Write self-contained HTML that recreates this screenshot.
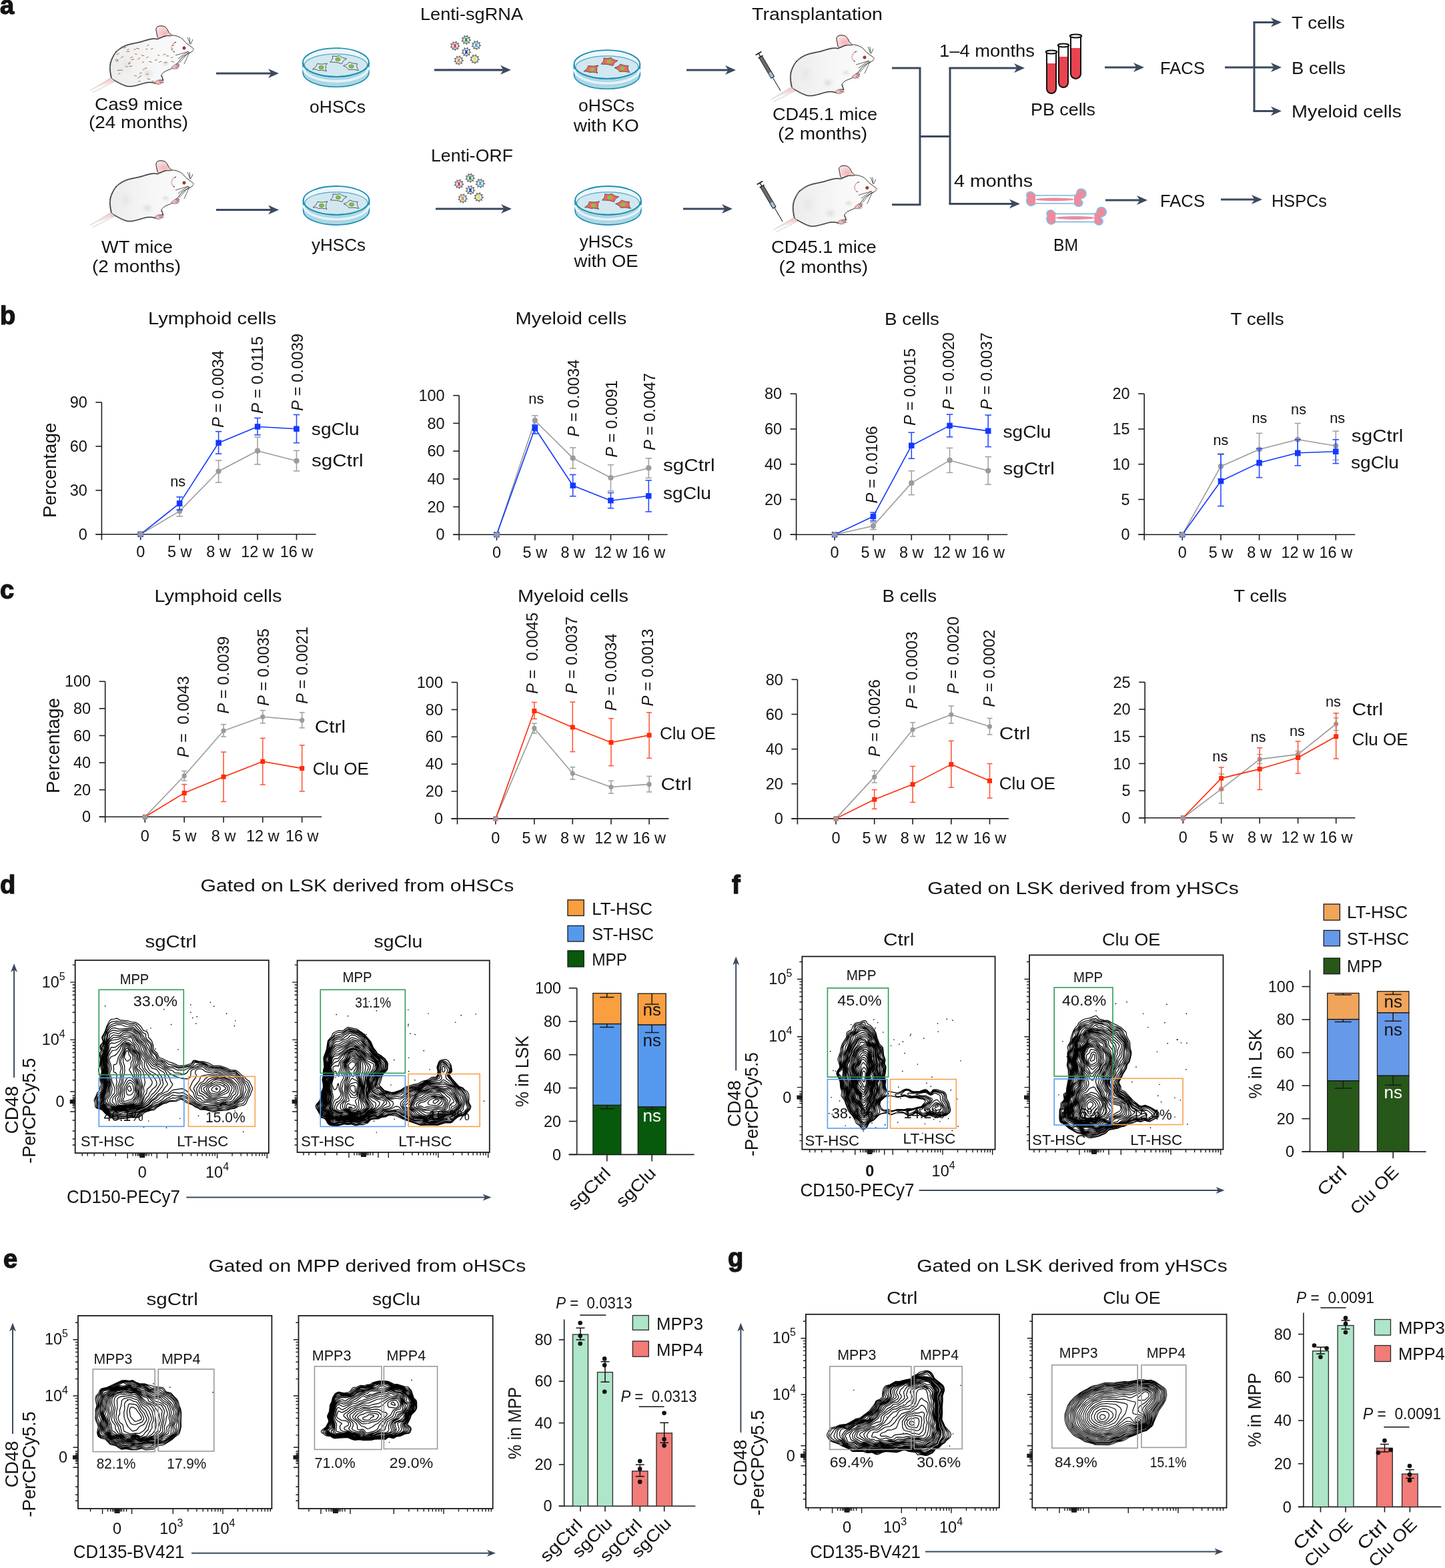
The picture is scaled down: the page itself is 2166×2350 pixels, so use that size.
<!DOCTYPE html>
<html><head><meta charset="utf-8"><title>Figure</title>
<style>
html,body{margin:0;padding:0;background:#fff;}
body{width:2166px;height:2350px;overflow:hidden;}
svg{display:block;}
svg text{font-family:"Liberation Sans", Arial, Helvetica, sans-serif;}
</style></head><body>
<svg width="2166" height="2350" viewBox="0 0 2166 2350">
<rect width="2166" height="2350" fill="#fff"/>
<text x="142" y="165" font-size="25.6" fill="#141414" textLength="132" lengthAdjust="spacingAndGlyphs">Cas9 mice</text>
<text x="133" y="192" font-size="25.6" fill="#141414" textLength="149" lengthAdjust="spacingAndGlyphs">(24 months)</text>
<text x="464" y="169" font-size="25.6" fill="#141414" textLength="84" lengthAdjust="spacingAndGlyphs">oHSCs</text>
<text x="630" y="30" font-size="25.6" fill="#141414" textLength="154" lengthAdjust="spacingAndGlyphs">Lenti-sgRNA</text>
<text x="867" y="167" font-size="25.6" fill="#141414" textLength="84" lengthAdjust="spacingAndGlyphs">oHSCs</text>
<text x="859.7" y="197" font-size="25.6" fill="#141414" textLength="98" lengthAdjust="spacingAndGlyphs">with KO</text>
<text x="1127" y="30" font-size="25.6" fill="#141414" textLength="196" lengthAdjust="spacingAndGlyphs">Transplantation</text>
<text x="1158" y="180" font-size="25.6" fill="#141414" textLength="157" lengthAdjust="spacingAndGlyphs">CD45.1 mice</text>
<text x="1166" y="209" font-size="25.6" fill="#141414" textLength="134" lengthAdjust="spacingAndGlyphs">(2 months)</text>
<text x="1408" y="85" font-size="25.6" fill="#141414" textLength="143" lengthAdjust="spacingAndGlyphs">1–4 months</text>
<text x="1545" y="173" font-size="25.6" fill="#141414" textLength="97" lengthAdjust="spacingAndGlyphs">PB cells</text>
<text x="1739" y="111" font-size="25.6" fill="#141414" textLength="67" lengthAdjust="spacingAndGlyphs">FACS</text>
<text x="1936" y="43" font-size="25.6" fill="#141414" textLength="80" lengthAdjust="spacingAndGlyphs">T cells</text>
<text x="1936" y="111" font-size="25.6" fill="#141414" textLength="81" lengthAdjust="spacingAndGlyphs">B cells</text>
<text x="1936" y="176" font-size="25.6" fill="#141414" textLength="165" lengthAdjust="spacingAndGlyphs">Myeloid cells</text>
<text x="152" y="379" font-size="25.6" fill="#141414" textLength="107" lengthAdjust="spacingAndGlyphs">WT mice</text>
<text x="138" y="407.6" font-size="25.6" fill="#141414" textLength="133" lengthAdjust="spacingAndGlyphs">(2 months)</text>
<text x="467" y="376" font-size="25.6" fill="#141414" textLength="81" lengthAdjust="spacingAndGlyphs">yHSCs</text>
<text x="646" y="242.4" font-size="25.6" fill="#141414" textLength="123" lengthAdjust="spacingAndGlyphs">Lenti-ORF</text>
<text x="868.8" y="370.6" font-size="25.6" fill="#141414" textLength="80" lengthAdjust="spacingAndGlyphs">yHSCs</text>
<text x="860.6" y="400" font-size="25.6" fill="#141414" textLength="96" lengthAdjust="spacingAndGlyphs">with OE</text>
<text x="1156" y="379" font-size="25.6" fill="#141414" textLength="157.6" lengthAdjust="spacingAndGlyphs">CD45.1 mice</text>
<text x="1167.6" y="408.5" font-size="25.6" fill="#141414" textLength="133.4" lengthAdjust="spacingAndGlyphs">(2 months)</text>
<text x="1430" y="280" font-size="25.6" fill="#141414" textLength="118" lengthAdjust="spacingAndGlyphs">4 months</text>
<text x="1579" y="375.5" font-size="25.6" fill="#141414" textLength="37" lengthAdjust="spacingAndGlyphs">BM</text>
<text x="1739" y="310" font-size="25.6" fill="#141414" textLength="67" lengthAdjust="spacingAndGlyphs">FACS</text>
<text x="1906" y="310" font-size="25.6" fill="#141414" textLength="83" lengthAdjust="spacingAndGlyphs">HSPCs</text>
<line x1="324" y1="110" x2="408.4" y2="110" stroke="#3b4a60" stroke-width="3.2"/>
<path d="M418,110 L402,103 L406.5,110 L402,117 Z" fill="#3b4a60"/>
<line x1="651" y1="104.8" x2="756.4" y2="104.8" stroke="#3b4a60" stroke-width="3.2"/>
<path d="M766,104.8 L750,97.8 L754.5,104.8 L750,111.8 Z" fill="#3b4a60"/>
<line x1="1029" y1="105" x2="1093.4" y2="105" stroke="#3b4a60" stroke-width="3.2"/>
<path d="M1103,105 L1087,98 L1091.5,105 L1087,112 Z" fill="#3b4a60"/>
<line x1="324" y1="314.5" x2="408.4" y2="314.5" stroke="#3b4a60" stroke-width="3.2"/>
<path d="M418,314.5 L402,307.5 L406.5,314.5 L402,321.5 Z" fill="#3b4a60"/>
<line x1="653" y1="313" x2="757.4" y2="313" stroke="#3b4a60" stroke-width="3.2"/>
<path d="M767,313 L751,306 L755.5,313 L751,320 Z" fill="#3b4a60"/>
<line x1="1024" y1="313" x2="1088.4" y2="313" stroke="#3b4a60" stroke-width="3.2"/>
<path d="M1098,313 L1082,306 L1086.5,313 L1082,320 Z" fill="#3b4a60"/>
<line x1="1656" y1="101" x2="1705.4" y2="101" stroke="#3b4a60" stroke-width="3.2"/>
<path d="M1715,101 L1699,94 L1703.5,101 L1699,108 Z" fill="#3b4a60"/>
<line x1="1657" y1="300" x2="1710.4" y2="300" stroke="#3b4a60" stroke-width="3.2"/>
<path d="M1720,300 L1704,293 L1708.5,300 L1704,307 Z" fill="#3b4a60"/>
<line x1="1830" y1="299" x2="1882.4" y2="299" stroke="#3b4a60" stroke-width="3.2"/>
<path d="M1892,299 L1876,292 L1880.5,299 L1876,306 Z" fill="#3b4a60"/>
<path d="M1337,102 H1379 V306.7 H1337" fill="none" stroke="#3b4a60" stroke-width="3"/>
<line x1="1379" y1="204.5" x2="1424" y2="204.5" stroke="#3b4a60" stroke-width="3"/>
<path d="M1424,102 V305.5" fill="none" stroke="#3b4a60" stroke-width="3"/>
<line x1="1422.5" y1="102" x2="1526.4" y2="102" stroke="#3b4a60" stroke-width="3"/>
<path d="M1536,102 L1520,95 L1524.5,102 L1520,109 Z" fill="#3b4a60"/>
<line x1="1422.5" y1="305.5" x2="1519.4" y2="305.5" stroke="#3b4a60" stroke-width="3"/>
<path d="M1529,305.5 L1513,298.5 L1517.5,305.5 L1513,312.5 Z" fill="#3b4a60"/>
<line x1="1836" y1="101" x2="1911.4" y2="101" stroke="#3b4a60" stroke-width="3"/>
<path d="M1921,101 L1905,94 L1909.5,101 L1905,108 Z" fill="#3b4a60"/>
<path d="M1880,33.5 V166.5" fill="none" stroke="#3b4a60" stroke-width="3"/>
<line x1="1878.5" y1="33.5" x2="1911.4" y2="33.5" stroke="#3b4a60" stroke-width="3"/>
<path d="M1921,33.5 L1905,26.5 L1909.5,33.5 L1905,40.5 Z" fill="#3b4a60"/>
<line x1="1878.5" y1="166.5" x2="1911.4" y2="166.5" stroke="#3b4a60" stroke-width="3"/>
<path d="M1921,166.5 L1905,159.5 L1909.5,166.5 L1905,173.5 Z" fill="#3b4a60"/>
<defs>
<radialGradient id="msh" cx="50%" cy="50%" r="50%"><stop offset="0" stop-color="#d9d9d9" stop-opacity="0.9"/><stop offset="1" stop-color="#ececec" stop-opacity="0"/></radialGradient>
<linearGradient id="tailg" x1="1" y1="0" x2="0" y2="1"><stop offset="0" stop-color="#f4b9bd"/><stop offset="1" stop-color="#fbe3e4" stop-opacity="0.3"/></linearGradient>
<linearGradient id="bodyg" x1="0" y1="0" x2="1" y2="0"><stop offset="0" stop-color="#ececec"/><stop offset="0.55" stop-color="#f7f7f7"/><stop offset="1" stop-color="#fdfdfd"/></linearGradient>
<radialGradient id="earg" cx="55%" cy="60%" r="60%"><stop offset="0" stop-color="#f3b3b8"/><stop offset="1" stop-color="#fbe1e2"/></radialGradient>
</defs>
<g transform="translate(130,35) scale(1)">
<path d="M6,100 L39,80 L44,86 Z" fill="url(#tailg)"/>
<path d="M6,100 L39,80" fill="none" stroke="#333" stroke-width="0.6" stroke-dasharray="1 1.5"/>
<path d="M10,103 L44,86" fill="none" stroke="#333" stroke-width="0.6" stroke-dasharray="1 1.5"/>
<path d="M36.8,81.0 C35.8,78.5 35.2,73.5 35.0,70.0 C34.8,66.5 34.9,63.1 35.5,60.0 C36.1,56.9 37.4,54.2 38.6,51.5 C39.9,48.8 41.5,46.0 43.0,44.0 C44.5,42.0 46.1,40.9 47.8,39.6 C49.5,38.3 51.1,37.1 53.0,36.0 C54.9,34.9 56.7,33.9 58.9,33.1 C61.1,32.3 63.5,31.6 66.0,31.0 C68.5,30.4 71.3,29.9 73.6,29.4 C75.9,28.9 77.7,28.6 80.0,28.0 C82.3,27.4 85.1,26.5 87.4,25.8 C89.7,25.1 91.7,24.5 94.0,24.0 C96.3,23.5 99.0,23.1 101.2,23.0 C103.4,22.9 104.2,24.2 107.0,23.5 C109.8,22.8 114.7,19.9 118.0,19.0 C121.3,18.1 124.5,18.1 127.0,18.0 C129.5,17.9 131.2,18.1 133.0,18.5 C134.8,18.9 136.3,19.4 138.0,20.2 C139.7,20.9 141.2,21.5 143.0,23.0 C144.8,24.5 147.0,27.6 149.0,29.4 C151.0,31.2 153.1,32.5 155.0,34.0 C156.9,35.5 160.0,37.3 160.5,38.6 C161.0,39.9 159.1,41.0 158.0,42.0 C156.9,43.0 155.5,43.7 154.0,44.5 C152.5,45.3 150.8,45.9 149.0,47.0 C147.2,48.1 144.7,49.5 143.0,51.0 C141.3,52.5 140.5,54.2 139.0,56.0 C137.5,57.8 135.7,60.2 134.0,62.0 C132.3,63.8 131.0,65.7 129.0,67.0 C127.0,68.3 124.2,69.0 122.0,70.0 C119.8,71.0 117.7,71.7 116.0,73.0 C114.3,74.3 112.3,76.2 112.0,78.0 C111.7,79.8 114.2,82.2 114.0,84.0 C113.8,85.8 112.7,88.0 111.0,89.0 C109.3,90.0 106.3,90.1 104.0,90.0 C101.7,89.9 99.5,88.7 97.0,88.5 C94.5,88.3 91.8,88.5 89.0,89.0 C86.2,89.5 83.2,90.7 80.0,91.5 C76.8,92.3 73.0,93.5 70.0,94.0 C67.0,94.5 64.7,94.8 62.0,94.5 C59.3,94.2 56.7,93.1 54.0,92.0 C51.3,90.9 48.2,89.2 46.0,88.0 C43.8,86.8 42.5,86.2 41.0,85.0 C39.5,83.8 37.8,83.5 36.8,81.0 Z" fill="url(#bodyg)" stroke="#1a1a1a" stroke-width="0.9"/>
<path d="M36.8,81.0 C36.5,79.2 35.2,73.5 35.0,70.0 C34.8,66.5 34.9,63.1 35.5,60.0 C36.1,56.9 37.4,54.2 38.6,51.5 C39.9,48.8 41.5,46.0 43.0,44.0 C44.5,42.0 46.1,40.9 47.8,39.6 C49.5,38.3 51.1,37.1 53.0,36.0 C54.9,34.9 56.7,33.9 58.9,33.1 C61.1,32.3 63.5,31.6 66.0,31.0 C68.5,30.4 71.3,29.9 73.6,29.4 C75.9,28.9 77.7,28.6 80.0,28.0 C82.3,27.4 85.1,26.5 87.4,25.8 C89.7,25.1 91.7,24.5 94.0,24.0 C96.3,23.5 99.0,23.1 101.2,23.0 C103.4,22.9 106.0,23.4 107.0,23.5" fill="none" stroke="#1a1a1a" stroke-width="2.2" stroke-dasharray="0.8 1.1"/>
<path d="M112.0,78.0 C112.3,79.0 114.2,82.2 114.0,84.0 C113.8,85.8 112.7,88.0 111.0,89.0 C109.3,90.0 106.3,90.1 104.0,90.0 C101.7,89.9 99.5,88.7 97.0,88.5 C94.5,88.3 91.8,88.5 89.0,89.0 C86.2,89.5 83.2,90.7 80.0,91.5 C76.8,92.3 73.0,93.5 70.0,94.0 C67.0,94.5 64.7,94.8 62.0,94.5 C59.3,94.2 56.7,93.1 54.0,92.0 C51.3,90.9 48.2,89.2 46.0,88.0 C43.8,86.8 41.8,85.5 41.0,85.0" fill="none" stroke="#1a1a1a" stroke-width="2" stroke-dasharray="0.8 1.3"/>
<ellipse cx="91" cy="75" rx="11" ry="9" fill="url(#msh)"/>
<ellipse cx="118" cy="60" rx="8" ry="6" fill="url(#msh)"/>
<ellipse cx="58" cy="62" rx="14" ry="18" fill="url(#msh)" opacity="0.5"/>
<path d="M107.5,22.0 C105.5,21.3 105.6,17.3 105.0,15.0 C104.4,12.7 103.7,9.8 104.0,8.0 C104.3,6.2 105.7,5.2 107.0,4.5 C108.3,3.8 110.3,3.7 112.0,3.8 C113.7,3.9 115.6,4.2 117.0,5.0 C118.4,5.8 119.5,7.1 120.5,8.5 C121.5,9.9 121.9,11.9 123.0,13.5 C124.1,15.1 128.0,17.3 127.0,18.2 C126.0,19.1 120.2,18.4 117.0,19.0 C113.8,19.6 109.5,22.7 107.5,22.0 Z" fill="url(#earg)" stroke="#1a1a1a" stroke-width="1"/>
<path d="M134,28 C128,30 126,36 128,40 C129,42 131,43 132,43" fill="none" stroke="#1a1a1a" stroke-width="1"/>
<path d="M131,29 C126,33 126,39 130,42" fill="none" stroke="#f0b9bc" stroke-width="1.6"/>
<circle cx="146" cy="37" r="2.2" fill="#c0392b" stroke="#5a1a1a" stroke-width="0.6"/>
<circle cx="159.5" cy="39.5" r="1.4" fill="#f3b5b8"/>
<line x1="153" y1="42" x2="133" y2="48" stroke="#1a1a1a" stroke-width="0.7"/>
<line x1="153" y1="43" x2="139" y2="59" stroke="#1a1a1a" stroke-width="0.7"/>
<line x1="154" y1="43" x2="146" y2="61" stroke="#1a1a1a" stroke-width="0.7"/>
<line x1="152" y1="42" x2="137" y2="53" stroke="#1a1a1a" stroke-width="0.7"/>
<line x1="155" y1="31" x2="151" y2="21" stroke="#1a1a1a" stroke-width="0.7"/>
<line x1="156" y1="31" x2="159" y2="24" stroke="#1a1a1a" stroke-width="0.7"/>
<line x1="155" y1="31" x2="154" y2="21" stroke="#1a1a1a" stroke-width="0.7"/>
<path d="M127,66 C130,63 134,60 138,60 C139,62 138,65 136,67 C133,69 129,69 127,66 Z" fill="#f4b6b9" stroke="#333" stroke-width="0.5"/>
<line x1="133" y1="61" x2="139" y2="63" stroke="#333" stroke-width="0.6"/>
<line x1="134" y1="63" x2="139" y2="66" stroke="#333" stroke-width="0.6"/>
<line x1="133" y1="65" x2="137" y2="69" stroke="#333" stroke-width="0.6"/>
<path d="M102,88 C105,85 109,84 114,85 C115,87 113,90 110,91 C106,92 103,91 102,88 Z" fill="#f4b6b9" stroke="#333" stroke-width="0.5"/>
<line x1="108" y1="86" x2="116" y2="85" stroke="#333" stroke-width="0.6"/>
<line x1="109" y1="88" x2="116" y2="89" stroke="#333" stroke-width="0.6"/>
<line x1="70.5" y1="39.1" x2="73.6" y2="39" stroke="#9a5f35" stroke-width="0.9"/>
<line x1="89.2" y1="51.9" x2="92.6" y2="49.9" stroke="#9a5f35" stroke-width="0.9"/>
<line x1="45.3" y1="56" x2="48" y2="54.4" stroke="#9a5f35" stroke-width="0.9"/>
<line x1="79.4" y1="79.6" x2="82.4" y2="78" stroke="#9a5f35" stroke-width="0.9"/>
<line x1="97.2" y1="86.9" x2="101" y2="86.6" stroke="#9a5f35" stroke-width="0.9"/>
<line x1="127.9" y1="32.8" x2="131.4" y2="33.4" stroke="#9a5f35" stroke-width="0.9"/>
<line x1="54.7" y1="37.1" x2="59.1" y2="35.6" stroke="#9a5f35" stroke-width="0.9"/>
<line x1="57.9" y1="64.9" x2="61.6" y2="64.8" stroke="#9a5f35" stroke-width="0.9"/>
<line x1="90.2" y1="33.8" x2="93.1" y2="32" stroke="#9a5f35" stroke-width="0.9"/>
<line x1="101.9" y1="55.7" x2="105.8" y2="54.4" stroke="#9a5f35" stroke-width="0.9"/>
<line x1="81.9" y1="48" x2="86.2" y2="48.5" stroke="#9a5f35" stroke-width="0.9"/>
<line x1="63.5" y1="64.5" x2="68.2" y2="63.9" stroke="#9a5f35" stroke-width="0.9"/>
<line x1="106.2" y1="47.3" x2="109.3" y2="48.2" stroke="#9a5f35" stroke-width="0.9"/>
<line x1="78.8" y1="75.4" x2="82.4" y2="73.7" stroke="#9a5f35" stroke-width="0.9"/>
<line x1="45.5" y1="70.1" x2="49.6" y2="70.5" stroke="#9a5f35" stroke-width="0.9"/>
<line x1="119" y1="48.8" x2="123.2" y2="48.9" stroke="#9a5f35" stroke-width="0.9"/>
<line x1="93" y1="57.4" x2="97.9" y2="58.1" stroke="#9a5f35" stroke-width="0.9"/>
<line x1="83.7" y1="69.8" x2="87.5" y2="67.6" stroke="#9a5f35" stroke-width="0.9"/>
<line x1="114.3" y1="47.1" x2="118.5" y2="46" stroke="#9a5f35" stroke-width="0.9"/>
<line x1="44" y1="57.7" x2="46.9" y2="56.3" stroke="#9a5f35" stroke-width="0.9"/>
<line x1="47.2" y1="76.1" x2="50.3" y2="74.5" stroke="#9a5f35" stroke-width="0.9"/>
<line x1="76.4" y1="82.3" x2="79.8" y2="80.3" stroke="#9a5f35" stroke-width="0.9"/>
<line x1="90.4" y1="83" x2="95" y2="83.7" stroke="#9a5f35" stroke-width="0.9"/>
<line x1="66.5" y1="54.9" x2="71.1" y2="53.6" stroke="#9a5f35" stroke-width="0.9"/>
<line x1="126.3" y1="39.1" x2="129.4" y2="37.6" stroke="#9a5f35" stroke-width="0.9"/>
<line x1="62.5" y1="59.1" x2="66.1" y2="58.9" stroke="#9a5f35" stroke-width="0.9"/>
<line x1="42.4" y1="55.1" x2="46.3" y2="54" stroke="#9a5f35" stroke-width="0.9"/>
<line x1="87.4" y1="67.1" x2="90.5" y2="67.1" stroke="#9a5f35" stroke-width="0.9"/>
<line x1="76.5" y1="53.9" x2="80.3" y2="51.9" stroke="#9a5f35" stroke-width="0.9"/>
<line x1="60.4" y1="39.7" x2="63.3" y2="38.8" stroke="#9a5f35" stroke-width="0.9"/>
<line x1="50.9" y1="51.8" x2="54.9" y2="49.2" stroke="#9a5f35" stroke-width="0.9"/>
<line x1="96" y1="38.9" x2="99.5" y2="37.6" stroke="#9a5f35" stroke-width="0.9"/>
<line x1="74" y1="37.4" x2="79" y2="38.2" stroke="#9a5f35" stroke-width="0.9"/>
<line x1="83" y1="59" x2="85.8" y2="57.4" stroke="#9a5f35" stroke-width="0.9"/>
<line x1="72.2" y1="45.9" x2="75.4" y2="46.4" stroke="#9a5f35" stroke-width="0.9"/>
<line x1="88.5" y1="38.8" x2="91.5" y2="38.5" stroke="#9a5f35" stroke-width="0.9"/>
<line x1="65" y1="52" x2="69.1" y2="50" stroke="#9a5f35" stroke-width="0.9"/>
<line x1="88.9" y1="76.7" x2="92.2" y2="75.7" stroke="#9a5f35" stroke-width="0.9"/>
<line x1="62" y1="61.1" x2="64.9" y2="60.2" stroke="#9a5f35" stroke-width="0.9"/>
<line x1="44.5" y1="46.8" x2="48.6" y2="45.2" stroke="#9a5f35" stroke-width="0.9"/>
<line x1="126.2" y1="56.8" x2="131" y2="58" stroke="#9a5f35" stroke-width="0.9"/>
<line x1="126" y1="51.9" x2="129.2" y2="50.5" stroke="#9a5f35" stroke-width="0.9"/>
<line x1="59.3" y1="42.3" x2="64.1" y2="42.1" stroke="#9a5f35" stroke-width="0.9"/>
<line x1="116" y1="58.8" x2="120.6" y2="58.7" stroke="#9a5f35" stroke-width="0.9"/>
<line x1="49.5" y1="69.6" x2="53.9" y2="70.6" stroke="#9a5f35" stroke-width="0.9"/>
<line x1="108" y1="58.7" x2="112.2" y2="56.7" stroke="#9a5f35" stroke-width="0.9"/>
<line x1="71.3" y1="78" x2="74.9" y2="79.1" stroke="#9a5f35" stroke-width="0.9"/>
<line x1="77.3" y1="86.8" x2="80.7" y2="87" stroke="#9a5f35" stroke-width="0.9"/>
</g>
<g transform="translate(130,237) scale(1)">
<path d="M6,100 L39,80 L44,86 Z" fill="url(#tailg)"/>
<path d="M6,100 L39,80" fill="none" stroke="#333" stroke-width="0.6" stroke-dasharray="1 1.5"/>
<path d="M10,103 L44,86" fill="none" stroke="#333" stroke-width="0.6" stroke-dasharray="1 1.5"/>
<path d="M36.8,81.0 C35.8,78.5 35.2,73.5 35.0,70.0 C34.8,66.5 34.9,63.1 35.5,60.0 C36.1,56.9 37.4,54.2 38.6,51.5 C39.9,48.8 41.5,46.0 43.0,44.0 C44.5,42.0 46.1,40.9 47.8,39.6 C49.5,38.3 51.1,37.1 53.0,36.0 C54.9,34.9 56.7,33.9 58.9,33.1 C61.1,32.3 63.5,31.6 66.0,31.0 C68.5,30.4 71.3,29.9 73.6,29.4 C75.9,28.9 77.7,28.6 80.0,28.0 C82.3,27.4 85.1,26.5 87.4,25.8 C89.7,25.1 91.7,24.5 94.0,24.0 C96.3,23.5 99.0,23.1 101.2,23.0 C103.4,22.9 104.2,24.2 107.0,23.5 C109.8,22.8 114.7,19.9 118.0,19.0 C121.3,18.1 124.5,18.1 127.0,18.0 C129.5,17.9 131.2,18.1 133.0,18.5 C134.8,18.9 136.3,19.4 138.0,20.2 C139.7,20.9 141.2,21.5 143.0,23.0 C144.8,24.5 147.0,27.6 149.0,29.4 C151.0,31.2 153.1,32.5 155.0,34.0 C156.9,35.5 160.0,37.3 160.5,38.6 C161.0,39.9 159.1,41.0 158.0,42.0 C156.9,43.0 155.5,43.7 154.0,44.5 C152.5,45.3 150.8,45.9 149.0,47.0 C147.2,48.1 144.7,49.5 143.0,51.0 C141.3,52.5 140.5,54.2 139.0,56.0 C137.5,57.8 135.7,60.2 134.0,62.0 C132.3,63.8 131.0,65.7 129.0,67.0 C127.0,68.3 124.2,69.0 122.0,70.0 C119.8,71.0 117.7,71.7 116.0,73.0 C114.3,74.3 112.3,76.2 112.0,78.0 C111.7,79.8 114.2,82.2 114.0,84.0 C113.8,85.8 112.7,88.0 111.0,89.0 C109.3,90.0 106.3,90.1 104.0,90.0 C101.7,89.9 99.5,88.7 97.0,88.5 C94.5,88.3 91.8,88.5 89.0,89.0 C86.2,89.5 83.2,90.7 80.0,91.5 C76.8,92.3 73.0,93.5 70.0,94.0 C67.0,94.5 64.7,94.8 62.0,94.5 C59.3,94.2 56.7,93.1 54.0,92.0 C51.3,90.9 48.2,89.2 46.0,88.0 C43.8,86.8 42.5,86.2 41.0,85.0 C39.5,83.8 37.8,83.5 36.8,81.0 Z" fill="url(#bodyg)" stroke="#1a1a1a" stroke-width="0.9"/>
<path d="M36.8,81.0 C36.5,79.2 35.2,73.5 35.0,70.0 C34.8,66.5 34.9,63.1 35.5,60.0 C36.1,56.9 37.4,54.2 38.6,51.5 C39.9,48.8 41.5,46.0 43.0,44.0 C44.5,42.0 46.1,40.9 47.8,39.6 C49.5,38.3 51.1,37.1 53.0,36.0 C54.9,34.9 56.7,33.9 58.9,33.1 C61.1,32.3 63.5,31.6 66.0,31.0 C68.5,30.4 71.3,29.9 73.6,29.4 C75.9,28.9 77.7,28.6 80.0,28.0 C82.3,27.4 85.1,26.5 87.4,25.8 C89.7,25.1 91.7,24.5 94.0,24.0 C96.3,23.5 99.0,23.1 101.2,23.0 C103.4,22.9 106.0,23.4 107.0,23.5" fill="none" stroke="#1a1a1a" stroke-width="2.2" stroke-dasharray="0.8 1.1"/>
<path d="M112.0,78.0 C112.3,79.0 114.2,82.2 114.0,84.0 C113.8,85.8 112.7,88.0 111.0,89.0 C109.3,90.0 106.3,90.1 104.0,90.0 C101.7,89.9 99.5,88.7 97.0,88.5 C94.5,88.3 91.8,88.5 89.0,89.0 C86.2,89.5 83.2,90.7 80.0,91.5 C76.8,92.3 73.0,93.5 70.0,94.0 C67.0,94.5 64.7,94.8 62.0,94.5 C59.3,94.2 56.7,93.1 54.0,92.0 C51.3,90.9 48.2,89.2 46.0,88.0 C43.8,86.8 41.8,85.5 41.0,85.0" fill="none" stroke="#1a1a1a" stroke-width="2" stroke-dasharray="0.8 1.3"/>
<ellipse cx="91" cy="75" rx="11" ry="9" fill="url(#msh)"/>
<ellipse cx="118" cy="60" rx="8" ry="6" fill="url(#msh)"/>
<ellipse cx="58" cy="62" rx="14" ry="18" fill="url(#msh)" opacity="0.5"/>
<path d="M107.5,22.0 C105.5,21.3 105.6,17.3 105.0,15.0 C104.4,12.7 103.7,9.8 104.0,8.0 C104.3,6.2 105.7,5.2 107.0,4.5 C108.3,3.8 110.3,3.7 112.0,3.8 C113.7,3.9 115.6,4.2 117.0,5.0 C118.4,5.8 119.5,7.1 120.5,8.5 C121.5,9.9 121.9,11.9 123.0,13.5 C124.1,15.1 128.0,17.3 127.0,18.2 C126.0,19.1 120.2,18.4 117.0,19.0 C113.8,19.6 109.5,22.7 107.5,22.0 Z" fill="url(#earg)" stroke="#1a1a1a" stroke-width="1"/>
<path d="M134,28 C128,30 126,36 128,40 C129,42 131,43 132,43" fill="none" stroke="#1a1a1a" stroke-width="1"/>
<path d="M131,29 C126,33 126,39 130,42" fill="none" stroke="#f0b9bc" stroke-width="1.6"/>
<circle cx="146" cy="37" r="2.2" fill="#c0392b" stroke="#5a1a1a" stroke-width="0.6"/>
<circle cx="159.5" cy="39.5" r="1.4" fill="#f3b5b8"/>
<line x1="153" y1="42" x2="133" y2="48" stroke="#1a1a1a" stroke-width="0.7"/>
<line x1="153" y1="43" x2="139" y2="59" stroke="#1a1a1a" stroke-width="0.7"/>
<line x1="154" y1="43" x2="146" y2="61" stroke="#1a1a1a" stroke-width="0.7"/>
<line x1="152" y1="42" x2="137" y2="53" stroke="#1a1a1a" stroke-width="0.7"/>
<line x1="155" y1="31" x2="151" y2="21" stroke="#1a1a1a" stroke-width="0.7"/>
<line x1="156" y1="31" x2="159" y2="24" stroke="#1a1a1a" stroke-width="0.7"/>
<line x1="155" y1="31" x2="154" y2="21" stroke="#1a1a1a" stroke-width="0.7"/>
<path d="M127,66 C130,63 134,60 138,60 C139,62 138,65 136,67 C133,69 129,69 127,66 Z" fill="#f4b6b9" stroke="#333" stroke-width="0.5"/>
<line x1="133" y1="61" x2="139" y2="63" stroke="#333" stroke-width="0.6"/>
<line x1="134" y1="63" x2="139" y2="66" stroke="#333" stroke-width="0.6"/>
<line x1="133" y1="65" x2="137" y2="69" stroke="#333" stroke-width="0.6"/>
<path d="M102,88 C105,85 109,84 114,85 C115,87 113,90 110,91 C106,92 103,91 102,88 Z" fill="#f4b6b9" stroke="#333" stroke-width="0.5"/>
<line x1="108" y1="86" x2="116" y2="85" stroke="#333" stroke-width="0.6"/>
<line x1="109" y1="88" x2="116" y2="89" stroke="#333" stroke-width="0.6"/>
</g>
<g transform="translate(1150,49) scale(1)">
<path d="M6,100 L39,80 L44,86 Z" fill="url(#tailg)"/>
<path d="M6,100 L39,80" fill="none" stroke="#333" stroke-width="0.6" stroke-dasharray="1 1.5"/>
<path d="M10,103 L44,86" fill="none" stroke="#333" stroke-width="0.6" stroke-dasharray="1 1.5"/>
<path d="M36.8,81.0 C35.8,78.5 35.2,73.5 35.0,70.0 C34.8,66.5 34.9,63.1 35.5,60.0 C36.1,56.9 37.4,54.2 38.6,51.5 C39.9,48.8 41.5,46.0 43.0,44.0 C44.5,42.0 46.1,40.9 47.8,39.6 C49.5,38.3 51.1,37.1 53.0,36.0 C54.9,34.9 56.7,33.9 58.9,33.1 C61.1,32.3 63.5,31.6 66.0,31.0 C68.5,30.4 71.3,29.9 73.6,29.4 C75.9,28.9 77.7,28.6 80.0,28.0 C82.3,27.4 85.1,26.5 87.4,25.8 C89.7,25.1 91.7,24.5 94.0,24.0 C96.3,23.5 99.0,23.1 101.2,23.0 C103.4,22.9 104.2,24.2 107.0,23.5 C109.8,22.8 114.7,19.9 118.0,19.0 C121.3,18.1 124.5,18.1 127.0,18.0 C129.5,17.9 131.2,18.1 133.0,18.5 C134.8,18.9 136.3,19.4 138.0,20.2 C139.7,20.9 141.2,21.5 143.0,23.0 C144.8,24.5 147.0,27.6 149.0,29.4 C151.0,31.2 153.1,32.5 155.0,34.0 C156.9,35.5 160.0,37.3 160.5,38.6 C161.0,39.9 159.1,41.0 158.0,42.0 C156.9,43.0 155.5,43.7 154.0,44.5 C152.5,45.3 150.8,45.9 149.0,47.0 C147.2,48.1 144.7,49.5 143.0,51.0 C141.3,52.5 140.5,54.2 139.0,56.0 C137.5,57.8 135.7,60.2 134.0,62.0 C132.3,63.8 131.0,65.7 129.0,67.0 C127.0,68.3 124.2,69.0 122.0,70.0 C119.8,71.0 117.7,71.7 116.0,73.0 C114.3,74.3 112.3,76.2 112.0,78.0 C111.7,79.8 114.2,82.2 114.0,84.0 C113.8,85.8 112.7,88.0 111.0,89.0 C109.3,90.0 106.3,90.1 104.0,90.0 C101.7,89.9 99.5,88.7 97.0,88.5 C94.5,88.3 91.8,88.5 89.0,89.0 C86.2,89.5 83.2,90.7 80.0,91.5 C76.8,92.3 73.0,93.5 70.0,94.0 C67.0,94.5 64.7,94.8 62.0,94.5 C59.3,94.2 56.7,93.1 54.0,92.0 C51.3,90.9 48.2,89.2 46.0,88.0 C43.8,86.8 42.5,86.2 41.0,85.0 C39.5,83.8 37.8,83.5 36.8,81.0 Z" fill="url(#bodyg)" stroke="#1a1a1a" stroke-width="0.9"/>
<path d="M36.8,81.0 C36.5,79.2 35.2,73.5 35.0,70.0 C34.8,66.5 34.9,63.1 35.5,60.0 C36.1,56.9 37.4,54.2 38.6,51.5 C39.9,48.8 41.5,46.0 43.0,44.0 C44.5,42.0 46.1,40.9 47.8,39.6 C49.5,38.3 51.1,37.1 53.0,36.0 C54.9,34.9 56.7,33.9 58.9,33.1 C61.1,32.3 63.5,31.6 66.0,31.0 C68.5,30.4 71.3,29.9 73.6,29.4 C75.9,28.9 77.7,28.6 80.0,28.0 C82.3,27.4 85.1,26.5 87.4,25.8 C89.7,25.1 91.7,24.5 94.0,24.0 C96.3,23.5 99.0,23.1 101.2,23.0 C103.4,22.9 106.0,23.4 107.0,23.5" fill="none" stroke="#1a1a1a" stroke-width="2.2" stroke-dasharray="0.8 1.1"/>
<path d="M112.0,78.0 C112.3,79.0 114.2,82.2 114.0,84.0 C113.8,85.8 112.7,88.0 111.0,89.0 C109.3,90.0 106.3,90.1 104.0,90.0 C101.7,89.9 99.5,88.7 97.0,88.5 C94.5,88.3 91.8,88.5 89.0,89.0 C86.2,89.5 83.2,90.7 80.0,91.5 C76.8,92.3 73.0,93.5 70.0,94.0 C67.0,94.5 64.7,94.8 62.0,94.5 C59.3,94.2 56.7,93.1 54.0,92.0 C51.3,90.9 48.2,89.2 46.0,88.0 C43.8,86.8 41.8,85.5 41.0,85.0" fill="none" stroke="#1a1a1a" stroke-width="2" stroke-dasharray="0.8 1.3"/>
<ellipse cx="91" cy="75" rx="11" ry="9" fill="url(#msh)"/>
<ellipse cx="118" cy="60" rx="8" ry="6" fill="url(#msh)"/>
<ellipse cx="58" cy="62" rx="14" ry="18" fill="url(#msh)" opacity="0.5"/>
<path d="M107.5,22.0 C105.5,21.3 105.6,17.3 105.0,15.0 C104.4,12.7 103.7,9.8 104.0,8.0 C104.3,6.2 105.7,5.2 107.0,4.5 C108.3,3.8 110.3,3.7 112.0,3.8 C113.7,3.9 115.6,4.2 117.0,5.0 C118.4,5.8 119.5,7.1 120.5,8.5 C121.5,9.9 121.9,11.9 123.0,13.5 C124.1,15.1 128.0,17.3 127.0,18.2 C126.0,19.1 120.2,18.4 117.0,19.0 C113.8,19.6 109.5,22.7 107.5,22.0 Z" fill="url(#earg)" stroke="#1a1a1a" stroke-width="1"/>
<path d="M134,28 C128,30 126,36 128,40 C129,42 131,43 132,43" fill="none" stroke="#1a1a1a" stroke-width="1"/>
<path d="M131,29 C126,33 126,39 130,42" fill="none" stroke="#f0b9bc" stroke-width="1.6"/>
<circle cx="146" cy="37" r="2.2" fill="#c0392b" stroke="#5a1a1a" stroke-width="0.6"/>
<circle cx="159.5" cy="39.5" r="1.4" fill="#f3b5b8"/>
<line x1="153" y1="42" x2="133" y2="48" stroke="#1a1a1a" stroke-width="0.7"/>
<line x1="153" y1="43" x2="139" y2="59" stroke="#1a1a1a" stroke-width="0.7"/>
<line x1="154" y1="43" x2="146" y2="61" stroke="#1a1a1a" stroke-width="0.7"/>
<line x1="152" y1="42" x2="137" y2="53" stroke="#1a1a1a" stroke-width="0.7"/>
<line x1="155" y1="31" x2="151" y2="21" stroke="#1a1a1a" stroke-width="0.7"/>
<line x1="156" y1="31" x2="159" y2="24" stroke="#1a1a1a" stroke-width="0.7"/>
<line x1="155" y1="31" x2="154" y2="21" stroke="#1a1a1a" stroke-width="0.7"/>
<path d="M127,66 C130,63 134,60 138,60 C139,62 138,65 136,67 C133,69 129,69 127,66 Z" fill="#f4b6b9" stroke="#333" stroke-width="0.5"/>
<line x1="133" y1="61" x2="139" y2="63" stroke="#333" stroke-width="0.6"/>
<line x1="134" y1="63" x2="139" y2="66" stroke="#333" stroke-width="0.6"/>
<line x1="133" y1="65" x2="137" y2="69" stroke="#333" stroke-width="0.6"/>
<path d="M102,88 C105,85 109,84 114,85 C115,87 113,90 110,91 C106,92 103,91 102,88 Z" fill="#f4b6b9" stroke="#333" stroke-width="0.5"/>
<line x1="108" y1="86" x2="116" y2="85" stroke="#333" stroke-width="0.6"/>
<line x1="109" y1="88" x2="116" y2="89" stroke="#333" stroke-width="0.6"/>
</g>
<g transform="translate(1153.8,244.5) scale(1)">
<path d="M6,100 L39,80 L44,86 Z" fill="url(#tailg)"/>
<path d="M6,100 L39,80" fill="none" stroke="#333" stroke-width="0.6" stroke-dasharray="1 1.5"/>
<path d="M10,103 L44,86" fill="none" stroke="#333" stroke-width="0.6" stroke-dasharray="1 1.5"/>
<path d="M36.8,81.0 C35.8,78.5 35.2,73.5 35.0,70.0 C34.8,66.5 34.9,63.1 35.5,60.0 C36.1,56.9 37.4,54.2 38.6,51.5 C39.9,48.8 41.5,46.0 43.0,44.0 C44.5,42.0 46.1,40.9 47.8,39.6 C49.5,38.3 51.1,37.1 53.0,36.0 C54.9,34.9 56.7,33.9 58.9,33.1 C61.1,32.3 63.5,31.6 66.0,31.0 C68.5,30.4 71.3,29.9 73.6,29.4 C75.9,28.9 77.7,28.6 80.0,28.0 C82.3,27.4 85.1,26.5 87.4,25.8 C89.7,25.1 91.7,24.5 94.0,24.0 C96.3,23.5 99.0,23.1 101.2,23.0 C103.4,22.9 104.2,24.2 107.0,23.5 C109.8,22.8 114.7,19.9 118.0,19.0 C121.3,18.1 124.5,18.1 127.0,18.0 C129.5,17.9 131.2,18.1 133.0,18.5 C134.8,18.9 136.3,19.4 138.0,20.2 C139.7,20.9 141.2,21.5 143.0,23.0 C144.8,24.5 147.0,27.6 149.0,29.4 C151.0,31.2 153.1,32.5 155.0,34.0 C156.9,35.5 160.0,37.3 160.5,38.6 C161.0,39.9 159.1,41.0 158.0,42.0 C156.9,43.0 155.5,43.7 154.0,44.5 C152.5,45.3 150.8,45.9 149.0,47.0 C147.2,48.1 144.7,49.5 143.0,51.0 C141.3,52.5 140.5,54.2 139.0,56.0 C137.5,57.8 135.7,60.2 134.0,62.0 C132.3,63.8 131.0,65.7 129.0,67.0 C127.0,68.3 124.2,69.0 122.0,70.0 C119.8,71.0 117.7,71.7 116.0,73.0 C114.3,74.3 112.3,76.2 112.0,78.0 C111.7,79.8 114.2,82.2 114.0,84.0 C113.8,85.8 112.7,88.0 111.0,89.0 C109.3,90.0 106.3,90.1 104.0,90.0 C101.7,89.9 99.5,88.7 97.0,88.5 C94.5,88.3 91.8,88.5 89.0,89.0 C86.2,89.5 83.2,90.7 80.0,91.5 C76.8,92.3 73.0,93.5 70.0,94.0 C67.0,94.5 64.7,94.8 62.0,94.5 C59.3,94.2 56.7,93.1 54.0,92.0 C51.3,90.9 48.2,89.2 46.0,88.0 C43.8,86.8 42.5,86.2 41.0,85.0 C39.5,83.8 37.8,83.5 36.8,81.0 Z" fill="url(#bodyg)" stroke="#1a1a1a" stroke-width="0.9"/>
<path d="M36.8,81.0 C36.5,79.2 35.2,73.5 35.0,70.0 C34.8,66.5 34.9,63.1 35.5,60.0 C36.1,56.9 37.4,54.2 38.6,51.5 C39.9,48.8 41.5,46.0 43.0,44.0 C44.5,42.0 46.1,40.9 47.8,39.6 C49.5,38.3 51.1,37.1 53.0,36.0 C54.9,34.9 56.7,33.9 58.9,33.1 C61.1,32.3 63.5,31.6 66.0,31.0 C68.5,30.4 71.3,29.9 73.6,29.4 C75.9,28.9 77.7,28.6 80.0,28.0 C82.3,27.4 85.1,26.5 87.4,25.8 C89.7,25.1 91.7,24.5 94.0,24.0 C96.3,23.5 99.0,23.1 101.2,23.0 C103.4,22.9 106.0,23.4 107.0,23.5" fill="none" stroke="#1a1a1a" stroke-width="2.2" stroke-dasharray="0.8 1.1"/>
<path d="M112.0,78.0 C112.3,79.0 114.2,82.2 114.0,84.0 C113.8,85.8 112.7,88.0 111.0,89.0 C109.3,90.0 106.3,90.1 104.0,90.0 C101.7,89.9 99.5,88.7 97.0,88.5 C94.5,88.3 91.8,88.5 89.0,89.0 C86.2,89.5 83.2,90.7 80.0,91.5 C76.8,92.3 73.0,93.5 70.0,94.0 C67.0,94.5 64.7,94.8 62.0,94.5 C59.3,94.2 56.7,93.1 54.0,92.0 C51.3,90.9 48.2,89.2 46.0,88.0 C43.8,86.8 41.8,85.5 41.0,85.0" fill="none" stroke="#1a1a1a" stroke-width="2" stroke-dasharray="0.8 1.3"/>
<ellipse cx="91" cy="75" rx="11" ry="9" fill="url(#msh)"/>
<ellipse cx="118" cy="60" rx="8" ry="6" fill="url(#msh)"/>
<ellipse cx="58" cy="62" rx="14" ry="18" fill="url(#msh)" opacity="0.5"/>
<path d="M107.5,22.0 C105.5,21.3 105.6,17.3 105.0,15.0 C104.4,12.7 103.7,9.8 104.0,8.0 C104.3,6.2 105.7,5.2 107.0,4.5 C108.3,3.8 110.3,3.7 112.0,3.8 C113.7,3.9 115.6,4.2 117.0,5.0 C118.4,5.8 119.5,7.1 120.5,8.5 C121.5,9.9 121.9,11.9 123.0,13.5 C124.1,15.1 128.0,17.3 127.0,18.2 C126.0,19.1 120.2,18.4 117.0,19.0 C113.8,19.6 109.5,22.7 107.5,22.0 Z" fill="url(#earg)" stroke="#1a1a1a" stroke-width="1"/>
<path d="M134,28 C128,30 126,36 128,40 C129,42 131,43 132,43" fill="none" stroke="#1a1a1a" stroke-width="1"/>
<path d="M131,29 C126,33 126,39 130,42" fill="none" stroke="#f0b9bc" stroke-width="1.6"/>
<circle cx="146" cy="37" r="2.2" fill="#c0392b" stroke="#5a1a1a" stroke-width="0.6"/>
<circle cx="159.5" cy="39.5" r="1.4" fill="#f3b5b8"/>
<line x1="153" y1="42" x2="133" y2="48" stroke="#1a1a1a" stroke-width="0.7"/>
<line x1="153" y1="43" x2="139" y2="59" stroke="#1a1a1a" stroke-width="0.7"/>
<line x1="154" y1="43" x2="146" y2="61" stroke="#1a1a1a" stroke-width="0.7"/>
<line x1="152" y1="42" x2="137" y2="53" stroke="#1a1a1a" stroke-width="0.7"/>
<line x1="155" y1="31" x2="151" y2="21" stroke="#1a1a1a" stroke-width="0.7"/>
<line x1="156" y1="31" x2="159" y2="24" stroke="#1a1a1a" stroke-width="0.7"/>
<line x1="155" y1="31" x2="154" y2="21" stroke="#1a1a1a" stroke-width="0.7"/>
<path d="M127,66 C130,63 134,60 138,60 C139,62 138,65 136,67 C133,69 129,69 127,66 Z" fill="#f4b6b9" stroke="#333" stroke-width="0.5"/>
<line x1="133" y1="61" x2="139" y2="63" stroke="#333" stroke-width="0.6"/>
<line x1="134" y1="63" x2="139" y2="66" stroke="#333" stroke-width="0.6"/>
<line x1="133" y1="65" x2="137" y2="69" stroke="#333" stroke-width="0.6"/>
<path d="M102,88 C105,85 109,84 114,85 C115,87 113,90 110,91 C106,92 103,91 102,88 Z" fill="#f4b6b9" stroke="#333" stroke-width="0.5"/>
<line x1="108" y1="86" x2="116" y2="85" stroke="#333" stroke-width="0.6"/>
<line x1="109" y1="88" x2="116" y2="89" stroke="#333" stroke-width="0.6"/>
</g>
<g transform="translate(1137,80) rotate(59.5)">
<line x1="0" y1="-5" x2="0" y2="5" stroke="#1a1a1a" stroke-width="1.6"/>
<line x1="0" y1="0" x2="6" y2="0" stroke="#1a1a1a" stroke-width="1.4"/>
<line x1="6" y1="-4" x2="6" y2="4" stroke="#1a1a1a" stroke-width="1.4"/>
<rect x="6" y="-2.6" width="35.8" height="5.2" fill="#6d6d6d" stroke="#1a1a1a" stroke-width="1"/>
<rect x="33.3" y="-2" width="7.8" height="4" fill="#9cc7e6"/>
<line x1="41.8" y1="0" x2="65" y2="0" stroke="#1a1a1a" stroke-width="1"/>
</g>
<g transform="translate(1139,274) rotate(59.6)">
<line x1="0" y1="-5" x2="0" y2="5" stroke="#1a1a1a" stroke-width="1.6"/>
<line x1="0" y1="0" x2="6" y2="0" stroke="#1a1a1a" stroke-width="1.4"/>
<line x1="6" y1="-4" x2="6" y2="4" stroke="#1a1a1a" stroke-width="1.4"/>
<rect x="6" y="-2.6" width="37" height="5.2" fill="#6d6d6d" stroke="#1a1a1a" stroke-width="1"/>
<rect x="34.2" y="-2" width="8.1" height="4" fill="#9cc7e6"/>
<line x1="43" y1="0" x2="67.2" y2="0" stroke="#1a1a1a" stroke-width="1"/>
</g>
<path d="M454.1,93.5 V108.8 A49.4,21.4 0 0 0 552.9,108.8 V93.5 Z" fill="#acd7e5" stroke="#1e8fb0" stroke-width="1.6"/>
<path d="M454.6,100.4 A48.9,21.4 0 0 0 552.4,100.4" fill="none" stroke="#e6f3f9" stroke-width="3.5"/>
<ellipse cx="503.5" cy="93.5" rx="49.4" ry="21.4" fill="#edf6fb" stroke="#1e8fb0" stroke-width="1.8"/>
<ellipse cx="503.5" cy="97.7" rx="47.2" ry="16.8" fill="#d1e8f0" stroke="#4fa9c4" stroke-width="1.2"/>
<path d="M454.1,93.5 A49.4,21.4 0 0 0 552.9,93.5" fill="none" stroke="#1e8fb0" stroke-width="1.8"/>
<path d="M-13,3 Q-6.5,-0.9 -6,-5.5 Q1,-3.9 9,-6 Q5.4,-2 7,0 Q5.1,1.9 8,5.5 Q1,3.4 -5,4.5 Q-6.1,2.6 -13,3 Z" fill="#d8e9f0" stroke="#4a4a4a" stroke-width="0.9" transform="translate(481.5,101)" stroke-linejoin="round"/>
<ellipse cx="481.5" cy="101" rx="3.6" ry="2.5" fill="#86c440" stroke="#3a6a1a" stroke-width="0.6"/>
<path d="M-12,4 Q-6.8,-0.3 -8,-5 Q-1.7,-3.6 3,-5.5 Q5.4,-2.2 13,-1 Q6.5,1.9 6,6.5 Q-2,3.6 -12,4 Z" fill="#d8e9f0" stroke="#4a4a4a" stroke-width="0.9" transform="translate(506.5,89)" stroke-linejoin="round"/>
<ellipse cx="506.5" cy="89" rx="3.6" ry="2.5" fill="#86c440" stroke="#3a6a1a" stroke-width="0.6"/>
<path d="M-12,-1 Q-5.1,-2.6 -3,-6.5 Q2,-3.6 9,-4 Q6.8,0.7 11,6 Q2.4,3.7 -4,5 Q-5.4,1.4 -12,-1 Z" fill="#d8e9f0" stroke="#4a4a4a" stroke-width="0.9" transform="translate(526.5,99.5)" stroke-linejoin="round"/>
<ellipse cx="526.5" cy="99.5" rx="3.6" ry="2.5" fill="#86c440" stroke="#3a6a1a" stroke-width="0.6"/>
<path d="M860.5,96.5 V111.8 A49.4,21.4 0 0 0 959.3,111.8 V96.5 Z" fill="#acd7e5" stroke="#1e8fb0" stroke-width="1.6"/>
<path d="M861,103.4 A48.9,21.4 0 0 0 958.8,103.4" fill="none" stroke="#e6f3f9" stroke-width="3.5"/>
<ellipse cx="909.9" cy="96.5" rx="49.4" ry="21.4" fill="#edf6fb" stroke="#1e8fb0" stroke-width="1.8"/>
<ellipse cx="909.9" cy="100.7" rx="47.2" ry="16.8" fill="#d1e8f0" stroke="#4fa9c4" stroke-width="1.2"/>
<path d="M860.5,96.5 A49.4,21.4 0 0 0 959.3,96.5" fill="none" stroke="#1e8fb0" stroke-width="1.8"/>
<path d="M-13,3 Q-6.5,-0.9 -6,-5.5 Q1,-3.9 9,-6 Q5.4,-2 7,0 Q5.1,1.9 8,5.5 Q1,3.4 -5,4.5 Q-6.1,2.6 -13,3 Z" fill="#f56462" stroke="#4a4a4a" stroke-width="0.9" transform="translate(887.9,104)" stroke-linejoin="round"/>
<ellipse cx="887.9" cy="104" rx="3.6" ry="2.5" fill="#86c440" stroke="#86c440" stroke-width="0.6"/>
<path d="M-12,4 Q-6.8,-0.3 -8,-5 Q-1.7,-3.6 3,-5.5 Q5.4,-2.2 13,-1 Q6.5,1.9 6,6.5 Q-2,3.6 -12,4 Z" fill="#f56462" stroke="#4a4a4a" stroke-width="0.9" transform="translate(912.9,92)" stroke-linejoin="round"/>
<ellipse cx="912.9" cy="92" rx="3.6" ry="2.5" fill="#86c440" stroke="#86c440" stroke-width="0.6"/>
<path d="M-12,-1 Q-5.1,-2.6 -3,-6.5 Q2,-3.6 9,-4 Q6.8,0.7 11,6 Q2.4,3.7 -4,5 Q-5.4,1.4 -12,-1 Z" fill="#f56462" stroke="#4a4a4a" stroke-width="0.9" transform="translate(932.9,102.5)" stroke-linejoin="round"/>
<ellipse cx="932.9" cy="102.5" rx="3.6" ry="2.5" fill="#86c440" stroke="#86c440" stroke-width="0.6"/>
<path d="M454.6,300.4 V315.7 A49.4,21.4 0 0 0 553.4,315.7 V300.4 Z" fill="#acd7e5" stroke="#1e8fb0" stroke-width="1.6"/>
<path d="M455.1,307.3 A48.9,21.4 0 0 0 552.9,307.3" fill="none" stroke="#e6f3f9" stroke-width="3.5"/>
<ellipse cx="504" cy="300.4" rx="49.4" ry="21.4" fill="#edf6fb" stroke="#1e8fb0" stroke-width="1.8"/>
<ellipse cx="504" cy="304.6" rx="47.2" ry="16.8" fill="#d1e8f0" stroke="#4fa9c4" stroke-width="1.2"/>
<path d="M454.6,300.4 A49.4,21.4 0 0 0 553.4,300.4" fill="none" stroke="#1e8fb0" stroke-width="1.8"/>
<path d="M-13,3 Q-6.5,-0.9 -6,-5.5 Q1,-3.9 9,-6 Q5.4,-2 7,0 Q5.1,1.9 8,5.5 Q1,3.4 -5,4.5 Q-6.1,2.6 -13,3 Z" fill="#d8e9f0" stroke="#4a4a4a" stroke-width="0.9" transform="translate(482,307.9)" stroke-linejoin="round"/>
<ellipse cx="482" cy="307.9" rx="3.6" ry="2.5" fill="#86c440" stroke="#3a6a1a" stroke-width="0.6"/>
<path d="M-12,4 Q-6.8,-0.3 -8,-5 Q-1.7,-3.6 3,-5.5 Q5.4,-2.2 13,-1 Q6.5,1.9 6,6.5 Q-2,3.6 -12,4 Z" fill="#d8e9f0" stroke="#4a4a4a" stroke-width="0.9" transform="translate(507,295.9)" stroke-linejoin="round"/>
<ellipse cx="507" cy="295.9" rx="3.6" ry="2.5" fill="#86c440" stroke="#3a6a1a" stroke-width="0.6"/>
<path d="M-12,-1 Q-5.1,-2.6 -3,-6.5 Q2,-3.6 9,-4 Q6.8,0.7 11,6 Q2.4,3.7 -4,5 Q-5.4,1.4 -12,-1 Z" fill="#d8e9f0" stroke="#4a4a4a" stroke-width="0.9" transform="translate(527,306.4)" stroke-linejoin="round"/>
<ellipse cx="527" cy="306.4" rx="3.6" ry="2.5" fill="#86c440" stroke="#3a6a1a" stroke-width="0.6"/>
<path d="M862.1,300.4 V315.7 A49.4,21.4 0 0 0 960.9,315.7 V300.4 Z" fill="#acd7e5" stroke="#1e8fb0" stroke-width="1.6"/>
<path d="M862.6,307.3 A48.9,21.4 0 0 0 960.4,307.3" fill="none" stroke="#e6f3f9" stroke-width="3.5"/>
<ellipse cx="911.5" cy="300.4" rx="49.4" ry="21.4" fill="#edf6fb" stroke="#1e8fb0" stroke-width="1.8"/>
<ellipse cx="911.5" cy="304.6" rx="47.2" ry="16.8" fill="#d1e8f0" stroke="#4fa9c4" stroke-width="1.2"/>
<path d="M862.1,300.4 A49.4,21.4 0 0 0 960.9,300.4" fill="none" stroke="#1e8fb0" stroke-width="1.8"/>
<path d="M-13,3 Q-6.5,-0.9 -6,-5.5 Q1,-3.9 9,-6 Q5.4,-2 7,0 Q5.1,1.9 8,5.5 Q1,3.4 -5,4.5 Q-6.1,2.6 -13,3 Z" fill="#f56462" stroke="#4a4a4a" stroke-width="0.9" transform="translate(889.5,307.9)" stroke-linejoin="round"/>
<ellipse cx="889.5" cy="307.9" rx="3.6" ry="2.5" fill="#86c440" stroke="#86c440" stroke-width="0.6"/>
<path d="M-12,4 Q-6.8,-0.3 -8,-5 Q-1.7,-3.6 3,-5.5 Q5.4,-2.2 13,-1 Q6.5,1.9 6,6.5 Q-2,3.6 -12,4 Z" fill="#f56462" stroke="#4a4a4a" stroke-width="0.9" transform="translate(914.5,295.9)" stroke-linejoin="round"/>
<ellipse cx="914.5" cy="295.9" rx="3.6" ry="2.5" fill="#86c440" stroke="#86c440" stroke-width="0.6"/>
<path d="M-12,-1 Q-5.1,-2.6 -3,-6.5 Q2,-3.6 9,-4 Q6.8,0.7 11,6 Q2.4,3.7 -4,5 Q-5.4,1.4 -12,-1 Z" fill="#f56462" stroke="#4a4a4a" stroke-width="0.9" transform="translate(934.5,306.4)" stroke-linejoin="round"/>
<ellipse cx="934.5" cy="306.4" rx="3.6" ry="2.5" fill="#86c440" stroke="#86c440" stroke-width="0.6"/>
<path d="M689.3,68.8 L689.2,70.1 L687.2,70.7 L686.8,71.5 L687.6,73.5 L686.7,74.4 L684.8,73.6 L683.9,74 L683.3,76 L682,76.1 L681,74.2 L680.1,74 L678.4,75.1 L677.3,74.4 L677.8,72.3 L677.2,71.5 L675.1,71.3 L674.8,70.1 L676.5,68.8 L676.6,67.8 L675.1,66.3 L675.7,65.1 L677.8,65.3 L678.5,64.6 L678.4,62.5 L679.5,61.9 L681,63.4 L682,63.3 L683.3,61.6 L684.5,61.9 L684.8,64 L685.5,64.6 L687.6,64.1 L688.3,65.2 L687.2,66.9 L687.4,67.8 Z" fill="#7a7a7a"/>
<circle cx="682" cy="68.8" r="4.3" fill="#e4f1f9"/>
<line x1="680.2" y1="66" x2="683.8" y2="71.6" stroke="#e8303a" stroke-width="1.7"/>
<line x1="683.8" y1="66" x2="680.2" y2="71.6" stroke="#e8303a" stroke-width="1.7"/>
<line x1="680.8" y1="68.6" x2="683.2" y2="69" stroke="#e8303a" stroke-width="1.2"/>
<path d="M706,59.7 L705.9,61 L703.9,61.6 L703.5,62.5 L704.3,64.4 L703.4,65.3 L701.5,64.5 L700.6,64.9 L700,66.9 L698.7,67 L697.7,65.1 L696.8,64.9 L695.1,66 L694,65.3 L694.5,63.2 L693.9,62.5 L691.8,62.2 L691.5,61 L693.2,59.7 L693.3,58.7 L691.8,57.2 L692.4,56.1 L694.5,56.2 L695.2,55.5 L695.1,53.4 L696.2,52.8 L697.7,54.3 L698.7,54.2 L700,52.5 L701.2,52.8 L701.5,54.9 L702.2,55.5 L704.3,55 L705,56.1 L703.9,57.8 L704.1,58.7 Z" fill="#7a7a7a"/>
<circle cx="698.7" cy="59.7" r="4.3" fill="#e4f1f9"/>
<line x1="696.9" y1="56.9" x2="700.5" y2="62.5" stroke="#1e8a3a" stroke-width="1.7"/>
<line x1="700.5" y1="56.9" x2="696.9" y2="62.5" stroke="#1e8a3a" stroke-width="1.7"/>
<line x1="697.5" y1="59.5" x2="699.9" y2="59.9" stroke="#1e8a3a" stroke-width="1.2"/>
<path d="M721.2,67.7 L721.1,69 L719.1,69.6 L718.7,70.5 L719.5,72.4 L718.6,73.3 L716.6,72.5 L715.8,72.9 L715.2,74.9 L713.9,75 L712.9,73.1 L712,72.9 L710.2,74 L709.2,73.3 L709.7,71.2 L709.1,70.5 L707,70.2 L706.7,69 L708.4,67.7 L708.5,66.7 L707,65.2 L707.6,64 L709.7,64.2 L710.4,63.5 L710.2,61.4 L711.4,60.8 L712.9,62.3 L713.9,62.2 L715.2,60.5 L716.4,60.8 L716.6,62.9 L717.4,63.5 L719.5,63 L720.2,64.1 L719.1,65.8 L719.3,66.7 Z" fill="#7a7a7a"/>
<circle cx="713.9" cy="67.7" r="4.3" fill="#e4f1f9"/>
<line x1="712.1" y1="64.9" x2="715.7" y2="70.5" stroke="#28a8e8" stroke-width="1.7"/>
<line x1="715.7" y1="64.9" x2="712.1" y2="70.5" stroke="#28a8e8" stroke-width="1.7"/>
<line x1="712.7" y1="67.5" x2="715.1" y2="67.9" stroke="#28a8e8" stroke-width="1.2"/>
<path d="M706.3,77.9 L706.2,79.2 L704.2,79.8 L703.8,80.7 L704.6,82.6 L703.7,83.5 L701.8,82.7 L700.9,83.1 L700.3,85.1 L699,85.2 L698,83.3 L697.1,83.1 L695.4,84.2 L694.3,83.5 L694.8,81.4 L694.2,80.7 L692.1,80.4 L691.8,79.2 L693.5,77.9 L693.6,76.9 L692.1,75.4 L692.7,74.2 L694.8,74.4 L695.5,73.7 L695.4,71.6 L696.5,71 L698,72.5 L699,72.4 L700.3,70.7 L701.5,71 L701.8,73.1 L702.5,73.7 L704.6,73.2 L705.3,74.3 L704.2,76 L704.4,76.9 Z" fill="#7a7a7a"/>
<circle cx="699" cy="77.9" r="4.3" fill="#e4f1f9"/>
<line x1="697.2" y1="75.1" x2="700.8" y2="80.7" stroke="#27379a" stroke-width="1.7"/>
<line x1="700.8" y1="75.1" x2="697.2" y2="80.7" stroke="#27379a" stroke-width="1.7"/>
<line x1="697.8" y1="77.7" x2="700.2" y2="78.1" stroke="#27379a" stroke-width="1.2"/>
<path d="M694.9,90.4 L694.8,91.7 L692.8,92.3 L692.4,93.2 L693.2,95.1 L692.3,96 L690.4,95.2 L689.5,95.6 L688.9,97.6 L687.6,97.7 L686.6,95.8 L685.7,95.6 L684,96.7 L682.9,96 L683.4,93.9 L682.8,93.2 L680.7,92.9 L680.4,91.7 L682.1,90.4 L682.2,89.4 L680.7,87.9 L681.3,86.8 L683.4,86.9 L684.1,86.2 L684,84.1 L685.1,83.5 L686.6,85 L687.6,84.9 L688.9,83.2 L690.1,83.5 L690.4,85.6 L691.1,86.2 L693.2,85.7 L693.9,86.8 L692.8,88.5 L693,89.4 Z" fill="#7a7a7a"/>
<circle cx="687.6" cy="90.4" r="4.3" fill="#e4f1f9"/>
<line x1="685.8" y1="87.6" x2="689.4" y2="93.2" stroke="#e88a2a" stroke-width="1.7"/>
<line x1="689.4" y1="87.6" x2="685.8" y2="93.2" stroke="#e88a2a" stroke-width="1.7"/>
<line x1="686.4" y1="90.2" x2="688.8" y2="90.6" stroke="#e88a2a" stroke-width="1.2"/>
<path d="M718.9,88.5 L718.8,89.8 L716.8,90.4 L716.4,91.2 L717.2,93.2 L716.3,94.1 L714.4,93.3 L713.5,93.7 L712.9,95.7 L711.6,95.8 L710.6,93.9 L709.7,93.7 L708,94.8 L706.9,94.1 L707.4,92 L706.8,91.2 L704.7,91 L704.4,89.8 L706.1,88.5 L706.2,87.5 L704.7,86 L705.3,84.8 L707.4,85 L708.1,84.3 L708,82.2 L709.1,81.6 L710.6,83.1 L711.6,83 L712.9,81.3 L714.1,81.6 L714.4,83.7 L715.1,84.3 L717.2,83.8 L717.9,84.9 L716.8,86.6 L717,87.5 Z" fill="#7a7a7a"/>
<circle cx="711.6" cy="88.5" r="4.3" fill="#e4f1f9"/>
<line x1="709.8" y1="85.7" x2="713.4" y2="91.3" stroke="#f2e21a" stroke-width="1.7"/>
<line x1="713.4" y1="85.7" x2="709.8" y2="91.3" stroke="#f2e21a" stroke-width="1.7"/>
<line x1="710.4" y1="88.3" x2="712.8" y2="88.7" stroke="#f2e21a" stroke-width="1.2"/>
<path d="M695.3,275.8 L695.2,277.1 L693.2,277.7 L692.8,278.6 L693.6,280.5 L692.7,281.4 L690.8,280.6 L689.9,281 L689.3,283 L688,283.1 L687,281.2 L686.1,281 L684.4,282.1 L683.3,281.4 L683.8,279.3 L683.2,278.6 L681.1,278.3 L680.8,277.1 L682.5,275.8 L682.6,274.8 L681.1,273.3 L681.7,272.2 L683.8,272.3 L684.5,271.6 L684.4,269.5 L685.5,268.9 L687,270.4 L688,270.3 L689.3,268.6 L690.5,268.9 L690.8,271 L691.5,271.6 L693.6,271.1 L694.3,272.2 L693.2,273.9 L693.4,274.8 Z" fill="#7a7a7a"/>
<circle cx="688" cy="275.8" r="4.3" fill="#e4f1f9"/>
<line x1="686.2" y1="273" x2="689.8" y2="278.6" stroke="#e8303a" stroke-width="1.7"/>
<line x1="689.8" y1="273" x2="686.2" y2="278.6" stroke="#e8303a" stroke-width="1.7"/>
<line x1="686.8" y1="275.6" x2="689.2" y2="276" stroke="#e8303a" stroke-width="1.2"/>
<path d="M712,266.7 L711.9,268 L709.9,268.6 L709.5,269.4 L710.3,271.4 L709.4,272.3 L707.5,271.5 L706.6,271.9 L706,273.9 L704.7,274 L703.7,272.1 L702.8,271.9 L701.1,273 L700,272.3 L700.5,270.2 L699.9,269.4 L697.8,269.2 L697.5,268 L699.2,266.7 L699.3,265.7 L697.8,264.2 L698.4,263.1 L700.5,263.2 L701.2,262.5 L701.1,260.4 L702.2,259.8 L703.7,261.3 L704.7,261.2 L706,259.5 L707.2,259.8 L707.5,261.9 L708.2,262.5 L710.3,262 L711,263.1 L709.9,264.8 L710.1,265.7 Z" fill="#7a7a7a"/>
<circle cx="704.7" cy="266.7" r="4.3" fill="#e4f1f9"/>
<line x1="702.9" y1="263.9" x2="706.5" y2="269.5" stroke="#1e8a3a" stroke-width="1.7"/>
<line x1="706.5" y1="263.9" x2="702.9" y2="269.5" stroke="#1e8a3a" stroke-width="1.7"/>
<line x1="703.5" y1="266.5" x2="705.9" y2="266.9" stroke="#1e8a3a" stroke-width="1.2"/>
<path d="M727.2,274.7 L727.1,276 L725.1,276.6 L724.7,277.4 L725.5,279.4 L724.6,280.3 L722.6,279.5 L721.8,279.9 L721.2,281.9 L719.9,282 L718.9,280.1 L718,279.9 L716.2,281 L715.2,280.3 L715.7,278.2 L715.1,277.4 L713,277.2 L712.7,276 L714.4,274.7 L714.5,273.7 L713,272.2 L713.6,271.1 L715.7,271.2 L716.4,270.5 L716.2,268.4 L717.4,267.8 L718.9,269.3 L719.9,269.2 L721.2,267.5 L722.4,267.8 L722.6,269.9 L723.4,270.5 L725.5,270 L726.2,271.1 L725.1,272.8 L725.3,273.7 Z" fill="#7a7a7a"/>
<circle cx="719.9" cy="274.7" r="4.3" fill="#e4f1f9"/>
<line x1="718.1" y1="271.9" x2="721.7" y2="277.5" stroke="#28a8e8" stroke-width="1.7"/>
<line x1="721.7" y1="271.9" x2="718.1" y2="277.5" stroke="#28a8e8" stroke-width="1.7"/>
<line x1="718.7" y1="274.5" x2="721.1" y2="274.9" stroke="#28a8e8" stroke-width="1.2"/>
<path d="M712.3,284.9 L712.2,286.2 L710.2,286.8 L709.8,287.6 L710.6,289.6 L709.7,290.5 L707.8,289.7 L706.9,290.1 L706.3,292.1 L705,292.2 L704,290.3 L703.1,290.1 L701.4,291.2 L700.3,290.5 L700.8,288.4 L700.2,287.6 L698.1,287.4 L697.8,286.2 L699.5,284.9 L699.6,283.9 L698.1,282.4 L698.7,281.2 L700.8,281.4 L701.5,280.7 L701.4,278.6 L702.5,278 L704,279.5 L705,279.4 L706.3,277.7 L707.5,278 L707.8,280.1 L708.5,280.7 L710.6,280.2 L711.3,281.2 L710.2,283 L710.4,283.9 Z" fill="#7a7a7a"/>
<circle cx="705" cy="284.9" r="4.3" fill="#e4f1f9"/>
<line x1="703.2" y1="282.1" x2="706.8" y2="287.7" stroke="#27379a" stroke-width="1.7"/>
<line x1="706.8" y1="282.1" x2="703.2" y2="287.7" stroke="#27379a" stroke-width="1.7"/>
<line x1="703.8" y1="284.7" x2="706.2" y2="285.1" stroke="#27379a" stroke-width="1.2"/>
<path d="M700.9,297.4 L700.8,298.7 L698.8,299.3 L698.4,300.1 L699.2,302.1 L698.3,303 L696.4,302.2 L695.5,302.6 L694.9,304.6 L693.6,304.7 L692.6,302.8 L691.7,302.6 L690,303.7 L688.9,303 L689.4,300.9 L688.8,300.1 L686.7,299.9 L686.4,298.7 L688.1,297.4 L688.2,296.4 L686.7,294.9 L687.3,293.8 L689.4,293.9 L690.1,293.2 L690,291.1 L691.1,290.5 L692.6,292 L693.6,291.9 L694.9,290.2 L696.1,290.5 L696.4,292.6 L697.1,293.2 L699.2,292.7 L699.9,293.8 L698.8,295.5 L699,296.4 Z" fill="#7a7a7a"/>
<circle cx="693.6" cy="297.4" r="4.3" fill="#e4f1f9"/>
<line x1="691.8" y1="294.6" x2="695.4" y2="300.2" stroke="#e88a2a" stroke-width="1.7"/>
<line x1="695.4" y1="294.6" x2="691.8" y2="300.2" stroke="#e88a2a" stroke-width="1.7"/>
<line x1="692.4" y1="297.2" x2="694.8" y2="297.6" stroke="#e88a2a" stroke-width="1.2"/>
<path d="M724.9,295.5 L724.8,296.8 L722.8,297.4 L722.4,298.2 L723.2,300.2 L722.3,301.1 L720.4,300.3 L719.5,300.7 L718.9,302.7 L717.6,302.8 L716.6,300.9 L715.7,300.7 L714,301.8 L712.9,301.1 L713.4,299 L712.8,298.2 L710.7,298 L710.4,296.8 L712.1,295.5 L712.2,294.5 L710.7,293 L711.3,291.9 L713.4,292 L714.1,291.3 L714,289.2 L715.1,288.6 L716.6,290.1 L717.6,290 L718.9,288.3 L720.1,288.6 L720.4,290.7 L721.1,291.3 L723.2,290.8 L723.9,291.9 L722.8,293.6 L723,294.5 Z" fill="#7a7a7a"/>
<circle cx="717.6" cy="295.5" r="4.3" fill="#e4f1f9"/>
<line x1="715.8" y1="292.7" x2="719.4" y2="298.3" stroke="#f2e21a" stroke-width="1.7"/>
<line x1="719.4" y1="292.7" x2="715.8" y2="298.3" stroke="#f2e21a" stroke-width="1.7"/>
<line x1="716.4" y1="295.3" x2="718.8" y2="295.7" stroke="#f2e21a" stroke-width="1.2"/>
<path d="M1569,78 V133 A7,7 0 0 0 1583,133 V78 Z" fill="#ffffff"/>
<path d="M1569,95 V133 A7,7 0 0 0 1583,133 V95 Z" fill="#e8434f"/>
<path d="M1569,78 V133 A7,7 0 0 0 1583,133 V78" fill="none" stroke="#111" stroke-width="2"/>
<ellipse cx="1576" cy="78" rx="8.3" ry="2.4" fill="#fff" stroke="#111" stroke-width="2"/>
<path d="M1587,68 V124 A7,7 0 0 0 1601,124 V68 Z" fill="#ffffff"/>
<path d="M1587,85 V124 A7,7 0 0 0 1601,124 V85 Z" fill="#e8434f"/>
<path d="M1587,68 V124 A7,7 0 0 0 1601,124 V68" fill="none" stroke="#111" stroke-width="2"/>
<ellipse cx="1594" cy="68" rx="8.3" ry="2.4" fill="#fff" stroke="#111" stroke-width="2"/>
<path d="M1605,54 V110.5 A7.5,7.5 0 0 0 1620,110.5 V54 Z" fill="#ffffff"/>
<path d="M1605,72 V110.5 A7.5,7.5 0 0 0 1620,110.5 V72 Z" fill="#e8434f"/>
<path d="M1605,54 V110.5 A7.5,7.5 0 0 0 1620,110.5 V54" fill="none" stroke="#111" stroke-width="2"/>
<ellipse cx="1612.5" cy="54" rx="8.8" ry="2.4" fill="#fff" stroke="#111" stroke-width="2"/>
<g transform="translate(1538,283)">
<path d="M14,10.8 C10,6 8,4.5 5,5.5 C1.5,6.5 1,10 2.5,12.5 C3.5,14.5 1.5,15.5 1.5,17 C1.5,21 4,25 8,24.5 C11,24 13,22 14,21 Z" fill="#88c0e2" stroke="#88c0e2" stroke-width="3.6" stroke-linejoin="round"/>
<path d="M72,10.8 C76,10 77,8 77,5.5 C77.5,2 80.5,0.8 83.5,1 C87,1.5 89.5,4.5 89,8 C88.5,11.5 85.5,13 83,13.5 C81,14 80.5,16 81.5,17.5 C83,18.5 84.5,20.5 83.5,23 C82,26 77.5,26 75.5,24.5 C74,23 73,21.5 72,21 Z" fill="#88c0e2" stroke="#88c0e2" stroke-width="3.6" stroke-linejoin="round"/>
<path d="M12,10.8 H74 V21 H12 Z" fill="#88c0e2" stroke="#88c0e2" stroke-width="3.6" stroke-linejoin="round"/>
<path d="M12,10.8 H74 V21 H12 Z" fill="#ffffff"/>
<path d="M14,10.8 C10,6 8,4.5 5,5.5 C1.5,6.5 1,10 2.5,12.5 C3.5,14.5 1.5,15.5 1.5,17 C1.5,21 4,25 8,24.5 C11,24 13,22 14,21 Z" fill="#ee8a9c"/>
<path d="M72,10.8 C76,10 77,8 77,5.5 C77.5,2 80.5,0.8 83.5,1 C87,1.5 89.5,4.5 89,8 C88.5,11.5 85.5,13 83,13.5 C81,14 80.5,16 81.5,17.5 C83,18.5 84.5,20.5 83.5,23 C82,26 77.5,26 75.5,24.5 C74,23 73,21.5 72,21 Z" fill="#ee8a9c"/>
<ellipse cx="43" cy="15.9" rx="29" ry="2.4" fill="#ee8a9c"/>
</g>
<g transform="translate(1568.3,310.6)">
<path d="M14,10.8 C10,6 8,4.5 5,5.5 C1.5,6.5 1,10 2.5,12.5 C3.5,14.5 1.5,15.5 1.5,17 C1.5,21 4,25 8,24.5 C11,24 13,22 14,21 Z" fill="#88c0e2" stroke="#88c0e2" stroke-width="3.6" stroke-linejoin="round"/>
<path d="M72,10.8 C76,10 77,8 77,5.5 C77.5,2 80.5,0.8 83.5,1 C87,1.5 89.5,4.5 89,8 C88.5,11.5 85.5,13 83,13.5 C81,14 80.5,16 81.5,17.5 C83,18.5 84.5,20.5 83.5,23 C82,26 77.5,26 75.5,24.5 C74,23 73,21.5 72,21 Z" fill="#88c0e2" stroke="#88c0e2" stroke-width="3.6" stroke-linejoin="round"/>
<path d="M12,10.8 H74 V21 H12 Z" fill="#88c0e2" stroke="#88c0e2" stroke-width="3.6" stroke-linejoin="round"/>
<path d="M12,10.8 H74 V21 H12 Z" fill="#ffffff"/>
<path d="M14,10.8 C10,6 8,4.5 5,5.5 C1.5,6.5 1,10 2.5,12.5 C3.5,14.5 1.5,15.5 1.5,17 C1.5,21 4,25 8,24.5 C11,24 13,22 14,21 Z" fill="#ee8a9c"/>
<path d="M72,10.8 C76,10 77,8 77,5.5 C77.5,2 80.5,0.8 83.5,1 C87,1.5 89.5,4.5 89,8 C88.5,11.5 85.5,13 83,13.5 C81,14 80.5,16 81.5,17.5 C83,18.5 84.5,20.5 83.5,23 C82,26 77.5,26 75.5,24.5 C74,23 73,21.5 72,21 Z" fill="#ee8a9c"/>
<ellipse cx="43" cy="15.9" rx="29" ry="2.4" fill="#ee8a9c"/>
</g>
<line x1="152.4" y1="603" x2="152.4" y2="809.3" stroke="#1e1e1e" stroke-width="1.6"/>
<line x1="143.4" y1="800.8" x2="473.7" y2="800.8" stroke="#1e1e1e" stroke-width="1.6"/>
<line x1="143.4" y1="800.8" x2="152.4" y2="800.8" stroke="#1e1e1e" stroke-width="1.6"/>
<text x="130.9" y="808.9" font-size="23.5" text-anchor="end" fill="#141414">0</text>
<line x1="143.4" y1="734.9" x2="152.4" y2="734.9" stroke="#1e1e1e" stroke-width="1.6"/>
<text x="130.9" y="743" font-size="23.5" text-anchor="end" fill="#141414">30</text>
<line x1="143.4" y1="668.9" x2="152.4" y2="668.9" stroke="#1e1e1e" stroke-width="1.6"/>
<text x="130.9" y="677" font-size="23.5" text-anchor="end" fill="#141414">60</text>
<line x1="143.4" y1="603" x2="152.4" y2="603" stroke="#1e1e1e" stroke-width="1.6"/>
<text x="130.9" y="611.1" font-size="23.5" text-anchor="end" fill="#141414">90</text>
<line x1="210.7" y1="800.8" x2="210.7" y2="809.3" stroke="#1e1e1e" stroke-width="1.6"/>
<text x="210.7" y="835.3" font-size="23.5" text-anchor="middle" fill="#141414">0</text>
<line x1="269.2" y1="800.8" x2="269.2" y2="809.3" stroke="#1e1e1e" stroke-width="1.6"/>
<text x="269.2" y="835.3" font-size="23.5" text-anchor="middle" fill="#141414">5 w</text>
<line x1="327.6" y1="800.8" x2="327.6" y2="809.3" stroke="#1e1e1e" stroke-width="1.6"/>
<text x="327.6" y="835.3" font-size="23.5" text-anchor="middle" fill="#141414">8 w</text>
<line x1="386" y1="800.8" x2="386" y2="809.3" stroke="#1e1e1e" stroke-width="1.6"/>
<text x="386" y="835.3" font-size="23.5" text-anchor="middle" fill="#141414">12 w</text>
<line x1="444.5" y1="800.8" x2="444.5" y2="809.3" stroke="#1e1e1e" stroke-width="1.6"/>
<text x="444.5" y="835.3" font-size="23.5" text-anchor="middle" fill="#141414">16 w</text>
<line x1="269.2" y1="758.4" x2="269.2" y2="773.8" stroke="#a3a3a3" stroke-width="1.6"/>
<line x1="264.4" y1="758.4" x2="273.9" y2="758.4" stroke="#a3a3a3" stroke-width="1.6"/>
<line x1="264.4" y1="773.8" x2="273.9" y2="773.8" stroke="#a3a3a3" stroke-width="1.6"/>
<line x1="327.6" y1="690" x2="327.6" y2="723" stroke="#a3a3a3" stroke-width="1.6"/>
<line x1="322.9" y1="690" x2="332.4" y2="690" stroke="#a3a3a3" stroke-width="1.6"/>
<line x1="322.9" y1="723" x2="332.4" y2="723" stroke="#a3a3a3" stroke-width="1.6"/>
<line x1="386" y1="655.1" x2="386" y2="696" stroke="#a3a3a3" stroke-width="1.6"/>
<line x1="381.2" y1="655.1" x2="390.8" y2="655.1" stroke="#a3a3a3" stroke-width="1.6"/>
<line x1="381.2" y1="696" x2="390.8" y2="696" stroke="#a3a3a3" stroke-width="1.6"/>
<line x1="444.5" y1="675.3" x2="444.5" y2="705.9" stroke="#a3a3a3" stroke-width="1.6"/>
<line x1="439.8" y1="675.3" x2="449.2" y2="675.3" stroke="#a3a3a3" stroke-width="1.6"/>
<line x1="439.8" y1="705.9" x2="449.2" y2="705.9" stroke="#a3a3a3" stroke-width="1.6"/>
<path d="M210.7,800.8 L269.2,766.1 L327.6,706.3 L386,675.7 L444.5,690.7" fill="none" stroke="#9b9b9b" stroke-width="1.6" stroke-linejoin="round"/>
<circle cx="210.7" cy="800.8" r="4.1" fill="#9b9b9b"/>
<circle cx="269.2" cy="766.1" r="4.1" fill="#9b9b9b"/>
<circle cx="327.6" cy="706.3" r="4.1" fill="#9b9b9b"/>
<circle cx="386" cy="675.7" r="4.1" fill="#9b9b9b"/>
<circle cx="444.5" cy="690.7" r="4.1" fill="#9b9b9b"/>
<line x1="269.2" y1="744.8" x2="269.2" y2="764.1" stroke="#2a4cff" stroke-width="1.6"/>
<line x1="264.4" y1="744.8" x2="273.9" y2="744.8" stroke="#2a4cff" stroke-width="1.6"/>
<line x1="264.4" y1="764.1" x2="273.9" y2="764.1" stroke="#2a4cff" stroke-width="1.6"/>
<line x1="327.6" y1="646.7" x2="327.6" y2="680.1" stroke="#2a4cff" stroke-width="1.6"/>
<line x1="322.9" y1="646.7" x2="332.4" y2="646.7" stroke="#2a4cff" stroke-width="1.6"/>
<line x1="322.9" y1="680.1" x2="332.4" y2="680.1" stroke="#2a4cff" stroke-width="1.6"/>
<line x1="386" y1="626.5" x2="386" y2="651.8" stroke="#2a4cff" stroke-width="1.6"/>
<line x1="381.2" y1="626.5" x2="390.8" y2="626.5" stroke="#2a4cff" stroke-width="1.6"/>
<line x1="381.2" y1="651.8" x2="390.8" y2="651.8" stroke="#2a4cff" stroke-width="1.6"/>
<line x1="444.5" y1="621.5" x2="444.5" y2="663.7" stroke="#2a4cff" stroke-width="1.6"/>
<line x1="439.8" y1="621.5" x2="449.2" y2="621.5" stroke="#2a4cff" stroke-width="1.6"/>
<line x1="439.8" y1="663.7" x2="449.2" y2="663.7" stroke="#2a4cff" stroke-width="1.6"/>
<path d="M210.7,800.8 L269.2,754.4 L327.6,663.7 L386,639.5 L444.5,642.8" fill="none" stroke="#1238ff" stroke-width="1.6" stroke-linejoin="round"/>
<rect x="206.4" y="796.5" width="8.5" height="8.5" fill="#1238ff"/>
<rect x="264.9" y="750.2" width="8.5" height="8.5" fill="#1238ff"/>
<rect x="323.4" y="659.4" width="8.5" height="8.5" fill="#1238ff"/>
<rect x="381.8" y="635.2" width="8.5" height="8.5" fill="#1238ff"/>
<rect x="440.2" y="638.5" width="8.5" height="8.5" fill="#1238ff"/>
<circle cx="210.7" cy="800.8" r="4.1" fill="#9b9b9b"/>
<text x="222" y="486" font-size="25.5" fill="#141414" textLength="192" lengthAdjust="spacingAndGlyphs">Lymphoid cells</text>
<text transform="translate(335,641) rotate(-90)" font-size="24.3" fill="#141414" textLength="116" lengthAdjust="spacingAndGlyphs"><tspan font-style="italic">P</tspan> = 0.0034</text>
<text transform="translate(394,620) rotate(-90)" font-size="24.3" fill="#141414" textLength="116" lengthAdjust="spacingAndGlyphs"><tspan font-style="italic">P</tspan> = 0.0115</text>
<text transform="translate(454,616) rotate(-90)" font-size="24.3" fill="#141414" textLength="116" lengthAdjust="spacingAndGlyphs"><tspan font-style="italic">P</tspan> = 0.0039</text>
<text x="266.7" y="728.5" font-size="22.5" text-anchor="middle" fill="#141414" textLength="23" lengthAdjust="spacingAndGlyphs">ns</text>
<text x="466.8" y="652.4" font-size="26" fill="#141414" textLength="72" lengthAdjust="spacingAndGlyphs">sgClu</text>
<text x="467" y="698.5" font-size="26" fill="#141414" textLength="77.5" lengthAdjust="spacingAndGlyphs">sgCtrl</text>
<line x1="688.2" y1="592.7" x2="688.2" y2="809.8" stroke="#1e1e1e" stroke-width="1.6"/>
<line x1="679.2" y1="801.3" x2="1000.7" y2="801.3" stroke="#1e1e1e" stroke-width="1.6"/>
<line x1="679.2" y1="801.3" x2="688.2" y2="801.3" stroke="#1e1e1e" stroke-width="1.6"/>
<text x="666.7" y="809.4" font-size="23.5" text-anchor="end" fill="#141414">0</text>
<line x1="679.2" y1="759.6" x2="688.2" y2="759.6" stroke="#1e1e1e" stroke-width="1.6"/>
<text x="666.7" y="767.7" font-size="23.5" text-anchor="end" fill="#141414">20</text>
<line x1="679.2" y1="717.9" x2="688.2" y2="717.9" stroke="#1e1e1e" stroke-width="1.6"/>
<text x="666.7" y="726" font-size="23.5" text-anchor="end" fill="#141414">40</text>
<line x1="679.2" y1="676.1" x2="688.2" y2="676.1" stroke="#1e1e1e" stroke-width="1.6"/>
<text x="666.7" y="684.2" font-size="23.5" text-anchor="end" fill="#141414">60</text>
<line x1="679.2" y1="634.4" x2="688.2" y2="634.4" stroke="#1e1e1e" stroke-width="1.6"/>
<text x="666.7" y="642.5" font-size="23.5" text-anchor="end" fill="#141414">80</text>
<line x1="679.2" y1="592.7" x2="688.2" y2="592.7" stroke="#1e1e1e" stroke-width="1.6"/>
<text x="666.7" y="600.8" font-size="23.5" text-anchor="end" fill="#141414">100</text>
<line x1="744.5" y1="801.3" x2="744.5" y2="809.8" stroke="#1e1e1e" stroke-width="1.6"/>
<text x="744.5" y="835.8" font-size="23.5" text-anchor="middle" fill="#141414">0</text>
<line x1="801.9" y1="801.3" x2="801.9" y2="809.8" stroke="#1e1e1e" stroke-width="1.6"/>
<text x="801.9" y="835.8" font-size="23.5" text-anchor="middle" fill="#141414">5 w</text>
<line x1="858.7" y1="801.3" x2="858.7" y2="809.8" stroke="#1e1e1e" stroke-width="1.6"/>
<text x="858.7" y="835.8" font-size="23.5" text-anchor="middle" fill="#141414">8 w</text>
<line x1="915.5" y1="801.3" x2="915.5" y2="809.8" stroke="#1e1e1e" stroke-width="1.6"/>
<text x="915.5" y="835.8" font-size="23.5" text-anchor="middle" fill="#141414">12 w</text>
<line x1="972.3" y1="801.3" x2="972.3" y2="809.8" stroke="#1e1e1e" stroke-width="1.6"/>
<text x="972.3" y="835.8" font-size="23.5" text-anchor="middle" fill="#141414">16 w</text>
<line x1="801.9" y1="622.9" x2="801.9" y2="637.5" stroke="#a3a3a3" stroke-width="1.6"/>
<line x1="797.1" y1="622.9" x2="806.6" y2="622.9" stroke="#a3a3a3" stroke-width="1.6"/>
<line x1="797.1" y1="637.5" x2="806.6" y2="637.5" stroke="#a3a3a3" stroke-width="1.6"/>
<line x1="858.7" y1="670.9" x2="858.7" y2="702" stroke="#a3a3a3" stroke-width="1.6"/>
<line x1="854" y1="670.9" x2="863.5" y2="670.9" stroke="#a3a3a3" stroke-width="1.6"/>
<line x1="854" y1="702" x2="863.5" y2="702" stroke="#a3a3a3" stroke-width="1.6"/>
<line x1="915.5" y1="696.6" x2="915.5" y2="735.8" stroke="#a3a3a3" stroke-width="1.6"/>
<line x1="910.8" y1="696.6" x2="920.2" y2="696.6" stroke="#a3a3a3" stroke-width="1.6"/>
<line x1="910.8" y1="735.8" x2="920.2" y2="735.8" stroke="#a3a3a3" stroke-width="1.6"/>
<line x1="972.3" y1="686.8" x2="972.3" y2="716.4" stroke="#a3a3a3" stroke-width="1.6"/>
<line x1="967.5" y1="686.8" x2="977" y2="686.8" stroke="#a3a3a3" stroke-width="1.6"/>
<line x1="967.5" y1="716.4" x2="977" y2="716.4" stroke="#a3a3a3" stroke-width="1.6"/>
<path d="M744.5,801.3 L801.9,630.2 L858.7,686.6 L915.5,716 L972.3,701.4" fill="none" stroke="#9b9b9b" stroke-width="1.6" stroke-linejoin="round"/>
<circle cx="744.5" cy="801.3" r="4.1" fill="#9b9b9b"/>
<circle cx="801.9" cy="630.2" r="4.1" fill="#9b9b9b"/>
<circle cx="858.7" cy="686.6" r="4.1" fill="#9b9b9b"/>
<circle cx="915.5" cy="716" r="4.1" fill="#9b9b9b"/>
<circle cx="972.3" cy="701.4" r="4.1" fill="#9b9b9b"/>
<line x1="801.9" y1="636.9" x2="801.9" y2="649.9" stroke="#2a4cff" stroke-width="1.6"/>
<line x1="797.1" y1="636.9" x2="806.6" y2="636.9" stroke="#2a4cff" stroke-width="1.6"/>
<line x1="797.1" y1="649.9" x2="806.6" y2="649.9" stroke="#2a4cff" stroke-width="1.6"/>
<line x1="858.7" y1="711.4" x2="858.7" y2="743.7" stroke="#2a4cff" stroke-width="1.6"/>
<line x1="854" y1="711.4" x2="863.5" y2="711.4" stroke="#2a4cff" stroke-width="1.6"/>
<line x1="854" y1="743.7" x2="863.5" y2="743.7" stroke="#2a4cff" stroke-width="1.6"/>
<line x1="915.5" y1="738.5" x2="915.5" y2="761.7" stroke="#2a4cff" stroke-width="1.6"/>
<line x1="910.8" y1="738.5" x2="920.2" y2="738.5" stroke="#2a4cff" stroke-width="1.6"/>
<line x1="910.8" y1="761.7" x2="920.2" y2="761.7" stroke="#2a4cff" stroke-width="1.6"/>
<line x1="972.3" y1="719.9" x2="972.3" y2="766.9" stroke="#2a4cff" stroke-width="1.6"/>
<line x1="967.5" y1="719.9" x2="977" y2="719.9" stroke="#2a4cff" stroke-width="1.6"/>
<line x1="967.5" y1="766.9" x2="977" y2="766.9" stroke="#2a4cff" stroke-width="1.6"/>
<path d="M744.5,801.3 L801.9,641.7 L858.7,727.7 L915.5,750.2 L972.3,743.3" fill="none" stroke="#1238ff" stroke-width="1.6" stroke-linejoin="round"/>
<rect x="740.2" y="797" width="8.5" height="8.5" fill="#1238ff"/>
<rect x="797.6" y="637.5" width="8.5" height="8.5" fill="#1238ff"/>
<rect x="854.5" y="723.4" width="8.5" height="8.5" fill="#1238ff"/>
<rect x="911.2" y="745.9" width="8.5" height="8.5" fill="#1238ff"/>
<rect x="968" y="739.1" width="8.5" height="8.5" fill="#1238ff"/>
<circle cx="744.5" cy="801.3" r="4.1" fill="#9b9b9b"/>
<text x="772.6" y="486.4" font-size="25.5" fill="#141414" textLength="166.7" lengthAdjust="spacingAndGlyphs">Myeloid cells</text>
<text transform="translate(868,654.7) rotate(-90)" font-size="24.3" fill="#141414" textLength="116" lengthAdjust="spacingAndGlyphs"><tspan font-style="italic">P</tspan> = 0.0034</text>
<text transform="translate(925,685.8) rotate(-90)" font-size="24.3" fill="#141414" textLength="116" lengthAdjust="spacingAndGlyphs"><tspan font-style="italic">P</tspan> = 0.0091</text>
<text transform="translate(981.8,675) rotate(-90)" font-size="24.3" fill="#141414" textLength="116" lengthAdjust="spacingAndGlyphs"><tspan font-style="italic">P</tspan> = 0.0047</text>
<text x="803.8" y="604.6" font-size="22.5" text-anchor="middle" fill="#141414" textLength="23" lengthAdjust="spacingAndGlyphs">ns</text>
<text x="994" y="706" font-size="26" fill="#141414" textLength="77.5" lengthAdjust="spacingAndGlyphs">sgCtrl</text>
<text x="994" y="748" font-size="26" fill="#141414" textLength="72" lengthAdjust="spacingAndGlyphs">sgClu</text>
<line x1="1193.6" y1="590.2" x2="1193.6" y2="809.7" stroke="#1e1e1e" stroke-width="1.6"/>
<line x1="1184.6" y1="801.2" x2="1510.2" y2="801.2" stroke="#1e1e1e" stroke-width="1.6"/>
<line x1="1184.6" y1="801.2" x2="1193.6" y2="801.2" stroke="#1e1e1e" stroke-width="1.6"/>
<text x="1172.1" y="809.3" font-size="23.5" text-anchor="end" fill="#141414">0</text>
<line x1="1184.6" y1="748.5" x2="1193.6" y2="748.5" stroke="#1e1e1e" stroke-width="1.6"/>
<text x="1172.1" y="756.6" font-size="23.5" text-anchor="end" fill="#141414">20</text>
<line x1="1184.6" y1="695.7" x2="1193.6" y2="695.7" stroke="#1e1e1e" stroke-width="1.6"/>
<text x="1172.1" y="703.8" font-size="23.5" text-anchor="end" fill="#141414">40</text>
<line x1="1184.6" y1="643" x2="1193.6" y2="643" stroke="#1e1e1e" stroke-width="1.6"/>
<text x="1172.1" y="651.1" font-size="23.5" text-anchor="end" fill="#141414">60</text>
<line x1="1184.6" y1="590.2" x2="1193.6" y2="590.2" stroke="#1e1e1e" stroke-width="1.6"/>
<text x="1172.1" y="598.3" font-size="23.5" text-anchor="end" fill="#141414">80</text>
<line x1="1251" y1="801.2" x2="1251" y2="809.7" stroke="#1e1e1e" stroke-width="1.6"/>
<text x="1251" y="835.7" font-size="23.5" text-anchor="middle" fill="#141414">0</text>
<line x1="1308.9" y1="801.2" x2="1308.9" y2="809.7" stroke="#1e1e1e" stroke-width="1.6"/>
<text x="1308.9" y="835.7" font-size="23.5" text-anchor="middle" fill="#141414">5 w</text>
<line x1="1366.3" y1="801.2" x2="1366.3" y2="809.7" stroke="#1e1e1e" stroke-width="1.6"/>
<text x="1366.3" y="835.7" font-size="23.5" text-anchor="middle" fill="#141414">8 w</text>
<line x1="1423.6" y1="801.2" x2="1423.6" y2="809.7" stroke="#1e1e1e" stroke-width="1.6"/>
<text x="1423.6" y="835.7" font-size="23.5" text-anchor="middle" fill="#141414">12 w</text>
<line x1="1481.2" y1="801.2" x2="1481.2" y2="809.7" stroke="#1e1e1e" stroke-width="1.6"/>
<text x="1481.2" y="835.7" font-size="23.5" text-anchor="middle" fill="#141414">16 w</text>
<line x1="1308.9" y1="783" x2="1308.9" y2="793.6" stroke="#a3a3a3" stroke-width="1.6"/>
<line x1="1304.2" y1="783" x2="1313.7" y2="783" stroke="#a3a3a3" stroke-width="1.6"/>
<line x1="1304.2" y1="793.6" x2="1313.7" y2="793.6" stroke="#a3a3a3" stroke-width="1.6"/>
<line x1="1366.3" y1="705.7" x2="1366.3" y2="741.6" stroke="#a3a3a3" stroke-width="1.6"/>
<line x1="1361.5" y1="705.7" x2="1371" y2="705.7" stroke="#a3a3a3" stroke-width="1.6"/>
<line x1="1361.5" y1="741.6" x2="1371" y2="741.6" stroke="#a3a3a3" stroke-width="1.6"/>
<line x1="1423.6" y1="671.4" x2="1423.6" y2="708.4" stroke="#a3a3a3" stroke-width="1.6"/>
<line x1="1418.8" y1="671.4" x2="1428.3" y2="671.4" stroke="#a3a3a3" stroke-width="1.6"/>
<line x1="1418.8" y1="708.4" x2="1428.3" y2="708.4" stroke="#a3a3a3" stroke-width="1.6"/>
<line x1="1481.2" y1="684.6" x2="1481.2" y2="726" stroke="#a3a3a3" stroke-width="1.6"/>
<line x1="1476.5" y1="684.6" x2="1486" y2="684.6" stroke="#a3a3a3" stroke-width="1.6"/>
<line x1="1476.5" y1="726" x2="1486" y2="726" stroke="#a3a3a3" stroke-width="1.6"/>
<path d="M1251,801.2 L1308.9,788.3 L1366.3,723.9 L1423.6,689.9 L1481.2,705.5" fill="none" stroke="#9b9b9b" stroke-width="1.6" stroke-linejoin="round"/>
<circle cx="1251" cy="801.2" r="4.1" fill="#9b9b9b"/>
<circle cx="1308.9" cy="788.3" r="4.1" fill="#9b9b9b"/>
<circle cx="1366.3" cy="723.9" r="4.1" fill="#9b9b9b"/>
<circle cx="1423.6" cy="689.9" r="4.1" fill="#9b9b9b"/>
<circle cx="1481.2" cy="705.5" r="4.1" fill="#9b9b9b"/>
<line x1="1308.9" y1="768" x2="1308.9" y2="780.6" stroke="#2a4cff" stroke-width="1.6"/>
<line x1="1304.2" y1="768" x2="1313.7" y2="768" stroke="#2a4cff" stroke-width="1.6"/>
<line x1="1304.2" y1="780.6" x2="1313.7" y2="780.6" stroke="#2a4cff" stroke-width="1.6"/>
<line x1="1366.3" y1="648.2" x2="1366.3" y2="687.3" stroke="#2a4cff" stroke-width="1.6"/>
<line x1="1361.5" y1="648.2" x2="1371" y2="648.2" stroke="#2a4cff" stroke-width="1.6"/>
<line x1="1361.5" y1="687.3" x2="1371" y2="687.3" stroke="#2a4cff" stroke-width="1.6"/>
<line x1="1423.6" y1="621.1" x2="1423.6" y2="654.8" stroke="#2a4cff" stroke-width="1.6"/>
<line x1="1418.8" y1="621.1" x2="1428.3" y2="621.1" stroke="#2a4cff" stroke-width="1.6"/>
<line x1="1418.8" y1="654.8" x2="1428.3" y2="654.8" stroke="#2a4cff" stroke-width="1.6"/>
<line x1="1481.2" y1="622.1" x2="1481.2" y2="669.6" stroke="#2a4cff" stroke-width="1.6"/>
<line x1="1476.5" y1="622.1" x2="1486" y2="622.1" stroke="#2a4cff" stroke-width="1.6"/>
<line x1="1476.5" y1="669.6" x2="1486" y2="669.6" stroke="#2a4cff" stroke-width="1.6"/>
<path d="M1251,801.2 L1308.9,774 L1366.3,667.7 L1423.6,637.9 L1481.2,645.9" fill="none" stroke="#1238ff" stroke-width="1.6" stroke-linejoin="round"/>
<rect x="1246.8" y="797" width="8.5" height="8.5" fill="#1238ff"/>
<rect x="1304.7" y="769.8" width="8.5" height="8.5" fill="#1238ff"/>
<rect x="1362" y="663.5" width="8.5" height="8.5" fill="#1238ff"/>
<rect x="1419.3" y="633.7" width="8.5" height="8.5" fill="#1238ff"/>
<rect x="1477" y="641.6" width="8.5" height="8.5" fill="#1238ff"/>
<circle cx="1251" cy="801.2" r="4.1" fill="#9b9b9b"/>
<text x="1326" y="486.5" font-size="25.5" fill="#141414" textLength="82" lengthAdjust="spacingAndGlyphs">B cells</text>
<text transform="translate(1315.4,754.4) rotate(-90)" font-size="24.3" fill="#141414" textLength="116" lengthAdjust="spacingAndGlyphs"><tspan font-style="italic">P</tspan> = 0.0106</text>
<text transform="translate(1372.2,638) rotate(-90)" font-size="24.3" fill="#141414" textLength="116" lengthAdjust="spacingAndGlyphs"><tspan font-style="italic">P</tspan> = 0.0015</text>
<text transform="translate(1429.6,614.2) rotate(-90)" font-size="24.3" fill="#141414" textLength="116" lengthAdjust="spacingAndGlyphs"><tspan font-style="italic">P</tspan> = 0.0020</text>
<text transform="translate(1487.2,614.2) rotate(-90)" font-size="24.3" fill="#141414" textLength="116" lengthAdjust="spacingAndGlyphs"><tspan font-style="italic">P</tspan> = 0.0037</text>
<text x="1503.4" y="655.6" font-size="26" fill="#141414" textLength="72" lengthAdjust="spacingAndGlyphs">sgClu</text>
<text x="1503.4" y="711" font-size="26" fill="#141414" textLength="77.5" lengthAdjust="spacingAndGlyphs">sgCtrl</text>
<line x1="1715.2" y1="590.2" x2="1715.2" y2="809.7" stroke="#1e1e1e" stroke-width="1.6"/>
<line x1="1706.2" y1="801.2" x2="2031.3" y2="801.2" stroke="#1e1e1e" stroke-width="1.6"/>
<line x1="1706.2" y1="801.2" x2="1715.2" y2="801.2" stroke="#1e1e1e" stroke-width="1.6"/>
<text x="1693.7" y="809.3" font-size="23.5" text-anchor="end" fill="#141414">0</text>
<line x1="1706.2" y1="748.5" x2="1715.2" y2="748.5" stroke="#1e1e1e" stroke-width="1.6"/>
<text x="1693.7" y="756.6" font-size="23.5" text-anchor="end" fill="#141414">5</text>
<line x1="1706.2" y1="695.7" x2="1715.2" y2="695.7" stroke="#1e1e1e" stroke-width="1.6"/>
<text x="1693.7" y="703.8" font-size="23.5" text-anchor="end" fill="#141414">10</text>
<line x1="1706.2" y1="643" x2="1715.2" y2="643" stroke="#1e1e1e" stroke-width="1.6"/>
<text x="1693.7" y="651.1" font-size="23.5" text-anchor="end" fill="#141414">15</text>
<line x1="1706.2" y1="590.2" x2="1715.2" y2="590.2" stroke="#1e1e1e" stroke-width="1.6"/>
<text x="1693.7" y="598.3" font-size="23.5" text-anchor="end" fill="#141414">20</text>
<line x1="1772.3" y1="801.2" x2="1772.3" y2="809.7" stroke="#1e1e1e" stroke-width="1.6"/>
<text x="1772.3" y="835.7" font-size="23.5" text-anchor="middle" fill="#141414">0</text>
<line x1="1830" y1="801.2" x2="1830" y2="809.7" stroke="#1e1e1e" stroke-width="1.6"/>
<text x="1830" y="835.7" font-size="23.5" text-anchor="middle" fill="#141414">5 w</text>
<line x1="1887.6" y1="801.2" x2="1887.6" y2="809.7" stroke="#1e1e1e" stroke-width="1.6"/>
<text x="1887.6" y="835.7" font-size="23.5" text-anchor="middle" fill="#141414">8 w</text>
<line x1="1945.2" y1="801.2" x2="1945.2" y2="809.7" stroke="#1e1e1e" stroke-width="1.6"/>
<text x="1945.2" y="835.7" font-size="23.5" text-anchor="middle" fill="#141414">12 w</text>
<line x1="2002.3" y1="801.2" x2="2002.3" y2="809.7" stroke="#1e1e1e" stroke-width="1.6"/>
<text x="2002.3" y="835.7" font-size="23.5" text-anchor="middle" fill="#141414">16 w</text>
<line x1="1830" y1="679.9" x2="1830" y2="717.9" stroke="#a3a3a3" stroke-width="1.6"/>
<line x1="1825.2" y1="679.9" x2="1834.8" y2="679.9" stroke="#a3a3a3" stroke-width="1.6"/>
<line x1="1825.2" y1="717.9" x2="1834.8" y2="717.9" stroke="#a3a3a3" stroke-width="1.6"/>
<line x1="1887.6" y1="649.3" x2="1887.6" y2="697.8" stroke="#a3a3a3" stroke-width="1.6"/>
<line x1="1882.8" y1="649.3" x2="1892.3" y2="649.3" stroke="#a3a3a3" stroke-width="1.6"/>
<line x1="1882.8" y1="697.8" x2="1892.3" y2="697.8" stroke="#a3a3a3" stroke-width="1.6"/>
<line x1="1945.2" y1="634.5" x2="1945.2" y2="683" stroke="#a3a3a3" stroke-width="1.6"/>
<line x1="1940.5" y1="634.5" x2="1950" y2="634.5" stroke="#a3a3a3" stroke-width="1.6"/>
<line x1="1940.5" y1="683" x2="1950" y2="683" stroke="#a3a3a3" stroke-width="1.6"/>
<line x1="2002.3" y1="646.1" x2="2002.3" y2="689.4" stroke="#a3a3a3" stroke-width="1.6"/>
<line x1="1997.5" y1="646.1" x2="2007" y2="646.1" stroke="#a3a3a3" stroke-width="1.6"/>
<line x1="1997.5" y1="689.4" x2="2007" y2="689.4" stroke="#a3a3a3" stroke-width="1.6"/>
<path d="M1772.3,801.2 L1830,698.9 L1887.6,673.5 L1945.2,658.8 L2002.3,668.3" fill="none" stroke="#9b9b9b" stroke-width="1.6" stroke-linejoin="round"/>
<circle cx="1772.3" cy="801.2" r="4.1" fill="#9b9b9b"/>
<circle cx="1830" cy="698.9" r="4.1" fill="#9b9b9b"/>
<circle cx="1887.6" cy="673.5" r="4.1" fill="#9b9b9b"/>
<circle cx="1945.2" cy="658.8" r="4.1" fill="#9b9b9b"/>
<circle cx="2002.3" cy="668.3" r="4.1" fill="#9b9b9b"/>
<line x1="1830" y1="680.9" x2="1830" y2="758.5" stroke="#2a4cff" stroke-width="1.6"/>
<line x1="1825.2" y1="680.9" x2="1834.8" y2="680.9" stroke="#2a4cff" stroke-width="1.6"/>
<line x1="1825.2" y1="758.5" x2="1834.8" y2="758.5" stroke="#2a4cff" stroke-width="1.6"/>
<line x1="1887.6" y1="672.5" x2="1887.6" y2="715.7" stroke="#2a4cff" stroke-width="1.6"/>
<line x1="1882.8" y1="672.5" x2="1892.3" y2="672.5" stroke="#2a4cff" stroke-width="1.6"/>
<line x1="1882.8" y1="715.7" x2="1892.3" y2="715.7" stroke="#2a4cff" stroke-width="1.6"/>
<line x1="1945.2" y1="658.8" x2="1945.2" y2="697.8" stroke="#2a4cff" stroke-width="1.6"/>
<line x1="1940.5" y1="658.8" x2="1950" y2="658.8" stroke="#2a4cff" stroke-width="1.6"/>
<line x1="1940.5" y1="697.8" x2="1950" y2="697.8" stroke="#2a4cff" stroke-width="1.6"/>
<line x1="2002.3" y1="658.8" x2="2002.3" y2="694.6" stroke="#2a4cff" stroke-width="1.6"/>
<line x1="1997.5" y1="658.8" x2="2007" y2="658.8" stroke="#2a4cff" stroke-width="1.6"/>
<line x1="1997.5" y1="694.6" x2="2007" y2="694.6" stroke="#2a4cff" stroke-width="1.6"/>
<path d="M1772.3,801.2 L1830,721 L1887.6,693.6 L1945.2,678.8 L2002.3,676.7" fill="none" stroke="#1238ff" stroke-width="1.6" stroke-linejoin="round"/>
<rect x="1768" y="797" width="8.5" height="8.5" fill="#1238ff"/>
<rect x="1825.8" y="716.8" width="8.5" height="8.5" fill="#1238ff"/>
<rect x="1883.3" y="689.3" width="8.5" height="8.5" fill="#1238ff"/>
<rect x="1941" y="674.6" width="8.5" height="8.5" fill="#1238ff"/>
<rect x="1998" y="672.5" width="8.5" height="8.5" fill="#1238ff"/>
<circle cx="1772.3" cy="801.2" r="4.1" fill="#9b9b9b"/>
<text x="1844.6" y="486.5" font-size="25.5" fill="#141414" textLength="80" lengthAdjust="spacingAndGlyphs">T cells</text>
<text x="1830" y="666.5" font-size="22.5" text-anchor="middle" fill="#141414" textLength="23" lengthAdjust="spacingAndGlyphs">ns</text>
<text x="1888" y="634" font-size="22.5" text-anchor="middle" fill="#141414" textLength="23" lengthAdjust="spacingAndGlyphs">ns</text>
<text x="1946.6" y="620.5" font-size="22.5" text-anchor="middle" fill="#141414" textLength="23" lengthAdjust="spacingAndGlyphs">ns</text>
<text x="2004.7" y="634" font-size="22.5" text-anchor="middle" fill="#141414" textLength="23" lengthAdjust="spacingAndGlyphs">ns</text>
<text x="2025.8" y="662.4" font-size="26" fill="#141414" textLength="77.5" lengthAdjust="spacingAndGlyphs">sgCtrl</text>
<text x="2025" y="701.6" font-size="26" fill="#141414" textLength="72" lengthAdjust="spacingAndGlyphs">sgClu</text>
<line x1="157.7" y1="1021.3" x2="157.7" y2="1232.8" stroke="#1e1e1e" stroke-width="1.6"/>
<line x1="148.7" y1="1224.3" x2="482.1" y2="1224.3" stroke="#1e1e1e" stroke-width="1.6"/>
<line x1="148.7" y1="1224.3" x2="157.7" y2="1224.3" stroke="#1e1e1e" stroke-width="1.6"/>
<text x="136.2" y="1232.4" font-size="23.5" text-anchor="end" fill="#141414">0</text>
<line x1="148.7" y1="1183.7" x2="157.7" y2="1183.7" stroke="#1e1e1e" stroke-width="1.6"/>
<text x="136.2" y="1191.8" font-size="23.5" text-anchor="end" fill="#141414">20</text>
<line x1="148.7" y1="1143.1" x2="157.7" y2="1143.1" stroke="#1e1e1e" stroke-width="1.6"/>
<text x="136.2" y="1151.2" font-size="23.5" text-anchor="end" fill="#141414">40</text>
<line x1="148.7" y1="1102.5" x2="157.7" y2="1102.5" stroke="#1e1e1e" stroke-width="1.6"/>
<text x="136.2" y="1110.6" font-size="23.5" text-anchor="end" fill="#141414">60</text>
<line x1="148.7" y1="1061.9" x2="157.7" y2="1061.9" stroke="#1e1e1e" stroke-width="1.6"/>
<text x="136.2" y="1070" font-size="23.5" text-anchor="end" fill="#141414">80</text>
<line x1="148.7" y1="1021.3" x2="157.7" y2="1021.3" stroke="#1e1e1e" stroke-width="1.6"/>
<text x="136.2" y="1029.4" font-size="23.5" text-anchor="end" fill="#141414">100</text>
<line x1="217.3" y1="1224.3" x2="217.3" y2="1232.8" stroke="#1e1e1e" stroke-width="1.6"/>
<text x="217.3" y="1261.3" font-size="23.5" text-anchor="middle" fill="#141414">0</text>
<line x1="276.2" y1="1224.3" x2="276.2" y2="1232.8" stroke="#1e1e1e" stroke-width="1.6"/>
<text x="276.2" y="1261.3" font-size="23.5" text-anchor="middle" fill="#141414">5 w</text>
<line x1="335.1" y1="1224.3" x2="335.1" y2="1232.8" stroke="#1e1e1e" stroke-width="1.6"/>
<text x="335.1" y="1261.3" font-size="23.5" text-anchor="middle" fill="#141414">8 w</text>
<line x1="393.8" y1="1224.3" x2="393.8" y2="1232.8" stroke="#1e1e1e" stroke-width="1.6"/>
<text x="393.8" y="1261.3" font-size="23.5" text-anchor="middle" fill="#141414">12 w</text>
<line x1="452.7" y1="1224.3" x2="452.7" y2="1232.8" stroke="#1e1e1e" stroke-width="1.6"/>
<text x="452.7" y="1261.3" font-size="23.5" text-anchor="middle" fill="#141414">16 w</text>
<line x1="276.2" y1="1155.5" x2="276.2" y2="1169.9" stroke="#a3a3a3" stroke-width="1.6"/>
<line x1="272.2" y1="1155.5" x2="280.2" y2="1155.5" stroke="#a3a3a3" stroke-width="1.6"/>
<line x1="272.2" y1="1169.9" x2="280.2" y2="1169.9" stroke="#a3a3a3" stroke-width="1.6"/>
<line x1="335.1" y1="1085.7" x2="335.1" y2="1104.1" stroke="#a3a3a3" stroke-width="1.6"/>
<line x1="331.1" y1="1085.7" x2="339.1" y2="1085.7" stroke="#a3a3a3" stroke-width="1.6"/>
<line x1="331.1" y1="1104.1" x2="339.1" y2="1104.1" stroke="#a3a3a3" stroke-width="1.6"/>
<line x1="393.8" y1="1064.7" x2="393.8" y2="1083.8" stroke="#a3a3a3" stroke-width="1.6"/>
<line x1="389.8" y1="1064.7" x2="397.8" y2="1064.7" stroke="#a3a3a3" stroke-width="1.6"/>
<line x1="389.8" y1="1083.8" x2="397.8" y2="1083.8" stroke="#a3a3a3" stroke-width="1.6"/>
<line x1="452.7" y1="1067.8" x2="452.7" y2="1090.9" stroke="#a3a3a3" stroke-width="1.6"/>
<line x1="448.7" y1="1067.8" x2="456.7" y2="1067.8" stroke="#a3a3a3" stroke-width="1.6"/>
<line x1="448.7" y1="1090.9" x2="456.7" y2="1090.9" stroke="#a3a3a3" stroke-width="1.6"/>
<path d="M217.3,1224.3 L276.2,1162.8 L335.1,1095.2 L393.8,1074.3 L452.7,1079.4" fill="none" stroke="#9b9b9b" stroke-width="1.6" stroke-linejoin="round"/>
<circle cx="217.3" cy="1224.3" r="3.6" fill="#9b9b9b"/>
<circle cx="276.2" cy="1162.8" r="3.6" fill="#9b9b9b"/>
<circle cx="335.1" cy="1095.2" r="3.6" fill="#9b9b9b"/>
<circle cx="393.8" cy="1074.3" r="3.6" fill="#9b9b9b"/>
<circle cx="452.7" cy="1079.4" r="3.6" fill="#9b9b9b"/>
<line x1="276.2" y1="1175.6" x2="276.2" y2="1201.4" stroke="#ff5a3c" stroke-width="1.6"/>
<line x1="272.2" y1="1175.6" x2="280.2" y2="1175.6" stroke="#ff5a3c" stroke-width="1.6"/>
<line x1="272.2" y1="1201.4" x2="280.2" y2="1201.4" stroke="#ff5a3c" stroke-width="1.6"/>
<line x1="335.1" y1="1127.1" x2="335.1" y2="1201.4" stroke="#ff5a3c" stroke-width="1.6"/>
<line x1="331.1" y1="1127.1" x2="339.1" y2="1127.1" stroke="#ff5a3c" stroke-width="1.6"/>
<line x1="331.1" y1="1201.4" x2="339.1" y2="1201.4" stroke="#ff5a3c" stroke-width="1.6"/>
<line x1="393.8" y1="1106.4" x2="393.8" y2="1176" stroke="#ff5a3c" stroke-width="1.6"/>
<line x1="389.8" y1="1106.4" x2="397.8" y2="1106.4" stroke="#ff5a3c" stroke-width="1.6"/>
<line x1="389.8" y1="1176" x2="397.8" y2="1176" stroke="#ff5a3c" stroke-width="1.6"/>
<line x1="452.7" y1="1116.9" x2="452.7" y2="1185.9" stroke="#ff5a3c" stroke-width="1.6"/>
<line x1="448.7" y1="1116.9" x2="456.7" y2="1116.9" stroke="#ff5a3c" stroke-width="1.6"/>
<line x1="448.7" y1="1185.9" x2="456.7" y2="1185.9" stroke="#ff5a3c" stroke-width="1.6"/>
<path d="M217.3,1224.3 L276.2,1188.6 L335.1,1164.2 L393.8,1141.3 L452.7,1151.6" fill="none" stroke="#ff2a08" stroke-width="1.6" stroke-linejoin="round"/>
<rect x="213.8" y="1220.8" width="7" height="7" fill="#ff2a08"/>
<rect x="272.7" y="1185.1" width="7" height="7" fill="#ff2a08"/>
<rect x="331.6" y="1160.7" width="7" height="7" fill="#ff2a08"/>
<rect x="390.3" y="1137.8" width="7" height="7" fill="#ff2a08"/>
<rect x="449.2" y="1148.1" width="7" height="7" fill="#ff2a08"/>
<circle cx="217.3" cy="1224.3" r="3.6" fill="#9b9b9b"/>
<text x="231.5" y="901.7" font-size="25.5" fill="#141414" textLength="191" lengthAdjust="spacingAndGlyphs">Lymphoid cells</text>
<text transform="translate(282.7,1135.3) rotate(-90)" font-size="24.3" fill="#141414" textLength="122" lengthAdjust="spacingAndGlyphs"><tspan font-style="italic">P</tspan> =&#160; 0.0043</text>
<text transform="translate(342.9,1069.8) rotate(-90)" font-size="24.3" fill="#141414" textLength="116" lengthAdjust="spacingAndGlyphs"><tspan font-style="italic">P</tspan> = 0.0039</text>
<text transform="translate(403.3,1058) rotate(-90)" font-size="24.3" fill="#141414" textLength="116" lengthAdjust="spacingAndGlyphs"><tspan font-style="italic">P</tspan> = 0.0035</text>
<text transform="translate(460.7,1055) rotate(-90)" font-size="24.3" fill="#141414" textLength="116" lengthAdjust="spacingAndGlyphs"><tspan font-style="italic">P</tspan> = 0.0021</text>
<text x="471.7" y="1098" font-size="26" fill="#141414" textLength="46.5" lengthAdjust="spacingAndGlyphs">Ctrl</text>
<text x="468.8" y="1161.2" font-size="26" fill="#141414" textLength="84" lengthAdjust="spacingAndGlyphs">Clu OE</text>
<line x1="685.5" y1="1022.6" x2="685.5" y2="1235.4" stroke="#1e1e1e" stroke-width="1.6"/>
<line x1="676.5" y1="1226.9" x2="1002.3" y2="1226.9" stroke="#1e1e1e" stroke-width="1.6"/>
<line x1="676.5" y1="1226.9" x2="685.5" y2="1226.9" stroke="#1e1e1e" stroke-width="1.6"/>
<text x="664" y="1235" font-size="23.5" text-anchor="end" fill="#141414">0</text>
<line x1="676.5" y1="1186" x2="685.5" y2="1186" stroke="#1e1e1e" stroke-width="1.6"/>
<text x="664" y="1194.1" font-size="23.5" text-anchor="end" fill="#141414">20</text>
<line x1="676.5" y1="1145.2" x2="685.5" y2="1145.2" stroke="#1e1e1e" stroke-width="1.6"/>
<text x="664" y="1153.3" font-size="23.5" text-anchor="end" fill="#141414">40</text>
<line x1="676.5" y1="1104.3" x2="685.5" y2="1104.3" stroke="#1e1e1e" stroke-width="1.6"/>
<text x="664" y="1112.4" font-size="23.5" text-anchor="end" fill="#141414">60</text>
<line x1="676.5" y1="1063.5" x2="685.5" y2="1063.5" stroke="#1e1e1e" stroke-width="1.6"/>
<text x="664" y="1071.6" font-size="23.5" text-anchor="end" fill="#141414">80</text>
<line x1="676.5" y1="1022.6" x2="685.5" y2="1022.6" stroke="#1e1e1e" stroke-width="1.6"/>
<text x="664" y="1030.7" font-size="23.5" text-anchor="end" fill="#141414">100</text>
<line x1="742.9" y1="1226.9" x2="742.9" y2="1235.4" stroke="#1e1e1e" stroke-width="1.6"/>
<text x="742.9" y="1263.9" font-size="23.5" text-anchor="middle" fill="#141414">0</text>
<line x1="800.9" y1="1226.9" x2="800.9" y2="1235.4" stroke="#1e1e1e" stroke-width="1.6"/>
<text x="800.9" y="1263.9" font-size="23.5" text-anchor="middle" fill="#141414">5 w</text>
<line x1="858.3" y1="1226.9" x2="858.3" y2="1235.4" stroke="#1e1e1e" stroke-width="1.6"/>
<text x="858.3" y="1263.9" font-size="23.5" text-anchor="middle" fill="#141414">8 w</text>
<line x1="916" y1="1226.9" x2="916" y2="1235.4" stroke="#1e1e1e" stroke-width="1.6"/>
<text x="916" y="1263.9" font-size="23.5" text-anchor="middle" fill="#141414">12 w</text>
<line x1="973.1" y1="1226.9" x2="973.1" y2="1235.4" stroke="#1e1e1e" stroke-width="1.6"/>
<text x="973.1" y="1263.9" font-size="23.5" text-anchor="middle" fill="#141414">16 w</text>
<line x1="800.9" y1="1084.1" x2="800.9" y2="1099" stroke="#a3a3a3" stroke-width="1.6"/>
<line x1="796.9" y1="1084.1" x2="804.9" y2="1084.1" stroke="#a3a3a3" stroke-width="1.6"/>
<line x1="796.9" y1="1099" x2="804.9" y2="1099" stroke="#a3a3a3" stroke-width="1.6"/>
<line x1="858.3" y1="1149.7" x2="858.3" y2="1168.1" stroke="#a3a3a3" stroke-width="1.6"/>
<line x1="854.3" y1="1149.7" x2="862.3" y2="1149.7" stroke="#a3a3a3" stroke-width="1.6"/>
<line x1="854.3" y1="1168.1" x2="862.3" y2="1168.1" stroke="#a3a3a3" stroke-width="1.6"/>
<line x1="916" y1="1170.3" x2="916" y2="1189.1" stroke="#a3a3a3" stroke-width="1.6"/>
<line x1="912" y1="1170.3" x2="920" y2="1170.3" stroke="#a3a3a3" stroke-width="1.6"/>
<line x1="912" y1="1189.1" x2="920" y2="1189.1" stroke="#a3a3a3" stroke-width="1.6"/>
<line x1="973.1" y1="1163.4" x2="973.1" y2="1186.9" stroke="#a3a3a3" stroke-width="1.6"/>
<line x1="969.1" y1="1163.4" x2="977.1" y2="1163.4" stroke="#a3a3a3" stroke-width="1.6"/>
<line x1="969.1" y1="1186.9" x2="977.1" y2="1186.9" stroke="#a3a3a3" stroke-width="1.6"/>
<path d="M742.9,1226.9 L800.9,1091.4 L858.3,1159.1 L916,1179.5 L973.1,1175.4" fill="none" stroke="#9b9b9b" stroke-width="1.6" stroke-linejoin="round"/>
<circle cx="742.9" cy="1226.9" r="3.6" fill="#9b9b9b"/>
<circle cx="800.9" cy="1091.4" r="3.6" fill="#9b9b9b"/>
<circle cx="858.3" cy="1159.1" r="3.6" fill="#9b9b9b"/>
<circle cx="916" cy="1179.5" r="3.6" fill="#9b9b9b"/>
<circle cx="973.1" cy="1175.4" r="3.6" fill="#9b9b9b"/>
<line x1="800.9" y1="1052.6" x2="800.9" y2="1077.4" stroke="#ff5a3c" stroke-width="1.6"/>
<line x1="796.9" y1="1052.6" x2="804.9" y2="1052.6" stroke="#ff5a3c" stroke-width="1.6"/>
<line x1="796.9" y1="1077.4" x2="804.9" y2="1077.4" stroke="#ff5a3c" stroke-width="1.6"/>
<line x1="858.3" y1="1052.2" x2="858.3" y2="1126.6" stroke="#ff5a3c" stroke-width="1.6"/>
<line x1="854.3" y1="1052.2" x2="862.3" y2="1052.2" stroke="#ff5a3c" stroke-width="1.6"/>
<line x1="854.3" y1="1126.6" x2="862.3" y2="1126.6" stroke="#ff5a3c" stroke-width="1.6"/>
<line x1="916" y1="1076.7" x2="916" y2="1147.6" stroke="#ff5a3c" stroke-width="1.6"/>
<line x1="912" y1="1076.7" x2="920" y2="1076.7" stroke="#ff5a3c" stroke-width="1.6"/>
<line x1="912" y1="1147.6" x2="920" y2="1147.6" stroke="#ff5a3c" stroke-width="1.6"/>
<line x1="973.1" y1="1067.8" x2="973.1" y2="1136.4" stroke="#ff5a3c" stroke-width="1.6"/>
<line x1="969.1" y1="1067.8" x2="977.1" y2="1067.8" stroke="#ff5a3c" stroke-width="1.6"/>
<line x1="969.1" y1="1136.4" x2="977.1" y2="1136.4" stroke="#ff5a3c" stroke-width="1.6"/>
<path d="M742.9,1226.9 L800.9,1065.5 L858.3,1090 L916,1112.7 L973.1,1101.9" fill="none" stroke="#ff2a08" stroke-width="1.6" stroke-linejoin="round"/>
<rect x="739.4" y="1223.4" width="7" height="7" fill="#ff2a08"/>
<rect x="797.4" y="1062" width="7" height="7" fill="#ff2a08"/>
<rect x="854.8" y="1086.5" width="7" height="7" fill="#ff2a08"/>
<rect x="912.5" y="1109.2" width="7" height="7" fill="#ff2a08"/>
<rect x="969.6" y="1098.4" width="7" height="7" fill="#ff2a08"/>
<circle cx="742.9" cy="1226.9" r="3.6" fill="#9b9b9b"/>
<text x="776" y="901.6" font-size="25.5" fill="#141414" textLength="166" lengthAdjust="spacingAndGlyphs">Myeloid cells</text>
<text transform="translate(806.2,1040) rotate(-90)" font-size="24.3" fill="#141414" textLength="122" lengthAdjust="spacingAndGlyphs"><tspan font-style="italic">P</tspan> =&#160; 0.0045</text>
<text transform="translate(865.3,1040) rotate(-90)" font-size="24.3" fill="#141414" textLength="116" lengthAdjust="spacingAndGlyphs"><tspan font-style="italic">P</tspan> = 0.0037</text>
<text transform="translate(924.4,1065.4) rotate(-90)" font-size="24.3" fill="#141414" textLength="116" lengthAdjust="spacingAndGlyphs"><tspan font-style="italic">P</tspan> = 0.0034</text>
<text transform="translate(979.2,1058.4) rotate(-90)" font-size="24.3" fill="#141414" textLength="116" lengthAdjust="spacingAndGlyphs"><tspan font-style="italic">P</tspan> = 0.0013</text>
<text x="989" y="1108.2" font-size="26" fill="#141414" textLength="84" lengthAdjust="spacingAndGlyphs">Clu OE</text>
<text x="990.5" y="1184.1" font-size="26" fill="#141414" textLength="46.5" lengthAdjust="spacingAndGlyphs">Ctrl</text>
<line x1="1195.4" y1="1018.4" x2="1195.4" y2="1235.4" stroke="#1e1e1e" stroke-width="1.6"/>
<line x1="1186.4" y1="1226.9" x2="1511.9" y2="1226.9" stroke="#1e1e1e" stroke-width="1.6"/>
<line x1="1186.4" y1="1226.9" x2="1195.4" y2="1226.9" stroke="#1e1e1e" stroke-width="1.6"/>
<text x="1173.9" y="1235" font-size="23.5" text-anchor="end" fill="#141414">0</text>
<line x1="1186.4" y1="1174.8" x2="1195.4" y2="1174.8" stroke="#1e1e1e" stroke-width="1.6"/>
<text x="1173.9" y="1182.9" font-size="23.5" text-anchor="end" fill="#141414">20</text>
<line x1="1186.4" y1="1122.7" x2="1195.4" y2="1122.7" stroke="#1e1e1e" stroke-width="1.6"/>
<text x="1173.9" y="1130.8" font-size="23.5" text-anchor="end" fill="#141414">40</text>
<line x1="1186.4" y1="1070.5" x2="1195.4" y2="1070.5" stroke="#1e1e1e" stroke-width="1.6"/>
<text x="1173.9" y="1078.6" font-size="23.5" text-anchor="end" fill="#141414">60</text>
<line x1="1186.4" y1="1018.4" x2="1195.4" y2="1018.4" stroke="#1e1e1e" stroke-width="1.6"/>
<text x="1173.9" y="1026.5" font-size="23.5" text-anchor="end" fill="#141414">80</text>
<line x1="1253" y1="1226.9" x2="1253" y2="1235.4" stroke="#1e1e1e" stroke-width="1.6"/>
<text x="1253" y="1263.9" font-size="23.5" text-anchor="middle" fill="#141414">0</text>
<line x1="1310.7" y1="1226.9" x2="1310.7" y2="1235.4" stroke="#1e1e1e" stroke-width="1.6"/>
<text x="1310.7" y="1263.9" font-size="23.5" text-anchor="middle" fill="#141414">5 w</text>
<line x1="1368.1" y1="1226.9" x2="1368.1" y2="1235.4" stroke="#1e1e1e" stroke-width="1.6"/>
<text x="1368.1" y="1263.9" font-size="23.5" text-anchor="middle" fill="#141414">8 w</text>
<line x1="1425.8" y1="1226.9" x2="1425.8" y2="1235.4" stroke="#1e1e1e" stroke-width="1.6"/>
<text x="1425.8" y="1263.9" font-size="23.5" text-anchor="middle" fill="#141414">12 w</text>
<line x1="1483.5" y1="1226.9" x2="1483.5" y2="1235.4" stroke="#1e1e1e" stroke-width="1.6"/>
<text x="1483.5" y="1263.9" font-size="23.5" text-anchor="middle" fill="#141414">16 w</text>
<line x1="1310.7" y1="1155.2" x2="1310.7" y2="1173" stroke="#a3a3a3" stroke-width="1.6"/>
<line x1="1306.7" y1="1155.2" x2="1314.7" y2="1155.2" stroke="#a3a3a3" stroke-width="1.6"/>
<line x1="1306.7" y1="1173" x2="1314.7" y2="1173" stroke="#a3a3a3" stroke-width="1.6"/>
<line x1="1368.1" y1="1082.8" x2="1368.1" y2="1103.6" stroke="#a3a3a3" stroke-width="1.6"/>
<line x1="1364.1" y1="1082.8" x2="1372.1" y2="1082.8" stroke="#a3a3a3" stroke-width="1.6"/>
<line x1="1364.1" y1="1103.6" x2="1372.1" y2="1103.6" stroke="#a3a3a3" stroke-width="1.6"/>
<line x1="1425.8" y1="1058" x2="1425.8" y2="1084.1" stroke="#a3a3a3" stroke-width="1.6"/>
<line x1="1421.8" y1="1058" x2="1429.8" y2="1058" stroke="#a3a3a3" stroke-width="1.6"/>
<line x1="1421.8" y1="1084.1" x2="1429.8" y2="1084.1" stroke="#a3a3a3" stroke-width="1.6"/>
<line x1="1483.5" y1="1076.5" x2="1483.5" y2="1101" stroke="#a3a3a3" stroke-width="1.6"/>
<line x1="1479.5" y1="1076.5" x2="1487.5" y2="1076.5" stroke="#a3a3a3" stroke-width="1.6"/>
<line x1="1479.5" y1="1101" x2="1487.5" y2="1101" stroke="#a3a3a3" stroke-width="1.6"/>
<path d="M1253,1226.9 L1310.7,1164.4 L1368.1,1093.5 L1425.8,1071 L1483.5,1088.8" fill="none" stroke="#9b9b9b" stroke-width="1.6" stroke-linejoin="round"/>
<circle cx="1253" cy="1226.9" r="3.6" fill="#9b9b9b"/>
<circle cx="1310.7" cy="1164.4" r="3.6" fill="#9b9b9b"/>
<circle cx="1368.1" cy="1093.5" r="3.6" fill="#9b9b9b"/>
<circle cx="1425.8" cy="1071" r="3.6" fill="#9b9b9b"/>
<circle cx="1483.5" cy="1088.8" r="3.6" fill="#9b9b9b"/>
<line x1="1310.7" y1="1183.6" x2="1310.7" y2="1212.3" stroke="#ff5a3c" stroke-width="1.6"/>
<line x1="1306.7" y1="1183.6" x2="1314.7" y2="1183.6" stroke="#ff5a3c" stroke-width="1.6"/>
<line x1="1306.7" y1="1212.3" x2="1314.7" y2="1212.3" stroke="#ff5a3c" stroke-width="1.6"/>
<line x1="1368.1" y1="1148.5" x2="1368.1" y2="1202.4" stroke="#ff5a3c" stroke-width="1.6"/>
<line x1="1364.1" y1="1148.5" x2="1372.1" y2="1148.5" stroke="#ff5a3c" stroke-width="1.6"/>
<line x1="1364.1" y1="1202.4" x2="1372.1" y2="1202.4" stroke="#ff5a3c" stroke-width="1.6"/>
<line x1="1425.8" y1="1110.4" x2="1425.8" y2="1180.2" stroke="#ff5a3c" stroke-width="1.6"/>
<line x1="1421.8" y1="1110.4" x2="1429.8" y2="1110.4" stroke="#ff5a3c" stroke-width="1.6"/>
<line x1="1421.8" y1="1180.2" x2="1429.8" y2="1180.2" stroke="#ff5a3c" stroke-width="1.6"/>
<line x1="1483.5" y1="1144.5" x2="1483.5" y2="1196.1" stroke="#ff5a3c" stroke-width="1.6"/>
<line x1="1479.5" y1="1144.5" x2="1487.5" y2="1144.5" stroke="#ff5a3c" stroke-width="1.6"/>
<line x1="1479.5" y1="1196.1" x2="1487.5" y2="1196.1" stroke="#ff5a3c" stroke-width="1.6"/>
<path d="M1253,1226.9 L1310.7,1198.2 L1368.1,1175.6 L1425.8,1145.6 L1483.5,1170.3" fill="none" stroke="#ff2a08" stroke-width="1.6" stroke-linejoin="round"/>
<rect x="1249.5" y="1223.4" width="7" height="7" fill="#ff2a08"/>
<rect x="1307.2" y="1194.7" width="7" height="7" fill="#ff2a08"/>
<rect x="1364.6" y="1172.1" width="7" height="7" fill="#ff2a08"/>
<rect x="1422.3" y="1142.1" width="7" height="7" fill="#ff2a08"/>
<rect x="1480" y="1166.8" width="7" height="7" fill="#ff2a08"/>
<circle cx="1253" cy="1226.9" r="3.6" fill="#9b9b9b"/>
<text x="1322.5" y="901.6" font-size="25.5" fill="#141414" textLength="81.6" lengthAdjust="spacingAndGlyphs">B cells</text>
<text transform="translate(1319.2,1134.3) rotate(-90)" font-size="24.3" fill="#141414" textLength="116" lengthAdjust="spacingAndGlyphs"><tspan font-style="italic">P</tspan> = 0.0026</text>
<text transform="translate(1374.6,1062.6) rotate(-90)" font-size="24.3" fill="#141414" textLength="116" lengthAdjust="spacingAndGlyphs"><tspan font-style="italic">P</tspan> = 0.0003</text>
<text transform="translate(1436.8,1040.1) rotate(-90)" font-size="24.3" fill="#141414" textLength="116" lengthAdjust="spacingAndGlyphs"><tspan font-style="italic">P</tspan> = 0.0020</text>
<text transform="translate(1490.8,1059.8) rotate(-90)" font-size="24.3" fill="#141414" textLength="116" lengthAdjust="spacingAndGlyphs"><tspan font-style="italic">P</tspan> = 0.0002</text>
<text x="1497.8" y="1107.6" font-size="26" fill="#141414" textLength="46.5" lengthAdjust="spacingAndGlyphs">Ctrl</text>
<text x="1497.8" y="1182.7" font-size="26" fill="#141414" textLength="84" lengthAdjust="spacingAndGlyphs">Clu OE</text>
<line x1="1716.2" y1="1022.4" x2="1716.2" y2="1234.3" stroke="#1e1e1e" stroke-width="1.6"/>
<line x1="1707.2" y1="1225.8" x2="2031.4" y2="1225.8" stroke="#1e1e1e" stroke-width="1.6"/>
<line x1="1707.2" y1="1225.8" x2="1716.2" y2="1225.8" stroke="#1e1e1e" stroke-width="1.6"/>
<text x="1694.7" y="1233.9" font-size="23.5" text-anchor="end" fill="#141414">0</text>
<line x1="1707.2" y1="1185.1" x2="1716.2" y2="1185.1" stroke="#1e1e1e" stroke-width="1.6"/>
<text x="1694.7" y="1193.2" font-size="23.5" text-anchor="end" fill="#141414">5</text>
<line x1="1707.2" y1="1144.4" x2="1716.2" y2="1144.4" stroke="#1e1e1e" stroke-width="1.6"/>
<text x="1694.7" y="1152.5" font-size="23.5" text-anchor="end" fill="#141414">10</text>
<line x1="1707.2" y1="1103.8" x2="1716.2" y2="1103.8" stroke="#1e1e1e" stroke-width="1.6"/>
<text x="1694.7" y="1111.9" font-size="23.5" text-anchor="end" fill="#141414">15</text>
<line x1="1707.2" y1="1063.1" x2="1716.2" y2="1063.1" stroke="#1e1e1e" stroke-width="1.6"/>
<text x="1694.7" y="1071.2" font-size="23.5" text-anchor="end" fill="#141414">20</text>
<line x1="1707.2" y1="1022.4" x2="1716.2" y2="1022.4" stroke="#1e1e1e" stroke-width="1.6"/>
<text x="1694.7" y="1030.5" font-size="23.5" text-anchor="end" fill="#141414">25</text>
<line x1="1773.3" y1="1225.8" x2="1773.3" y2="1234.3" stroke="#1e1e1e" stroke-width="1.6"/>
<text x="1773.3" y="1262.8" font-size="23.5" text-anchor="middle" fill="#141414">0</text>
<line x1="1830.7" y1="1225.8" x2="1830.7" y2="1234.3" stroke="#1e1e1e" stroke-width="1.6"/>
<text x="1830.7" y="1262.8" font-size="23.5" text-anchor="middle" fill="#141414">5 w</text>
<line x1="1888.2" y1="1225.8" x2="1888.2" y2="1234.3" stroke="#1e1e1e" stroke-width="1.6"/>
<text x="1888.2" y="1262.8" font-size="23.5" text-anchor="middle" fill="#141414">8 w</text>
<line x1="1945.6" y1="1225.8" x2="1945.6" y2="1234.3" stroke="#1e1e1e" stroke-width="1.6"/>
<text x="1945.6" y="1262.8" font-size="23.5" text-anchor="middle" fill="#141414">12 w</text>
<line x1="2002.7" y1="1225.8" x2="2002.7" y2="1234.3" stroke="#1e1e1e" stroke-width="1.6"/>
<text x="2002.7" y="1262.8" font-size="23.5" text-anchor="middle" fill="#141414">16 w</text>
<line x1="1830.7" y1="1159.9" x2="1830.7" y2="1203.8" stroke="#a3a3a3" stroke-width="1.6"/>
<line x1="1826.7" y1="1159.9" x2="1834.7" y2="1159.9" stroke="#a3a3a3" stroke-width="1.6"/>
<line x1="1826.7" y1="1203.8" x2="1834.7" y2="1203.8" stroke="#a3a3a3" stroke-width="1.6"/>
<line x1="1888.2" y1="1130.6" x2="1888.2" y2="1144.4" stroke="#a3a3a3" stroke-width="1.6"/>
<line x1="1884.2" y1="1130.6" x2="1892.2" y2="1130.6" stroke="#a3a3a3" stroke-width="1.6"/>
<line x1="1884.2" y1="1144.4" x2="1892.2" y2="1144.4" stroke="#a3a3a3" stroke-width="1.6"/>
<line x1="1945.6" y1="1125.7" x2="1945.6" y2="1135.5" stroke="#a3a3a3" stroke-width="1.6"/>
<line x1="1941.6" y1="1125.7" x2="1949.6" y2="1125.7" stroke="#a3a3a3" stroke-width="1.6"/>
<line x1="1941.6" y1="1135.5" x2="1949.6" y2="1135.5" stroke="#a3a3a3" stroke-width="1.6"/>
<line x1="2002.7" y1="1076.1" x2="2002.7" y2="1094.8" stroke="#a3a3a3" stroke-width="1.6"/>
<line x1="1998.7" y1="1076.1" x2="2006.7" y2="1076.1" stroke="#a3a3a3" stroke-width="1.6"/>
<line x1="1998.7" y1="1094.8" x2="2006.7" y2="1094.8" stroke="#a3a3a3" stroke-width="1.6"/>
<path d="M1773.3,1225.8 L1830.7,1182.7 L1888.2,1137.9 L1945.6,1130.6 L2002.7,1085" fill="none" stroke="#9b9b9b" stroke-width="1.6" stroke-linejoin="round"/>
<circle cx="1773.3" cy="1225.8" r="3.6" fill="#9b9b9b"/>
<circle cx="1830.7" cy="1182.7" r="3.6" fill="#9b9b9b"/>
<circle cx="1888.2" cy="1137.9" r="3.6" fill="#9b9b9b"/>
<circle cx="1945.6" cy="1130.6" r="3.6" fill="#9b9b9b"/>
<circle cx="2002.7" cy="1085" r="3.6" fill="#9b9b9b"/>
<line x1="1830.7" y1="1150.1" x2="1830.7" y2="1183.5" stroke="#ff5a3c" stroke-width="1.6"/>
<line x1="1826.7" y1="1150.1" x2="1834.7" y2="1150.1" stroke="#ff5a3c" stroke-width="1.6"/>
<line x1="1826.7" y1="1183.5" x2="1834.7" y2="1183.5" stroke="#ff5a3c" stroke-width="1.6"/>
<line x1="1888.2" y1="1120.8" x2="1888.2" y2="1183.5" stroke="#ff5a3c" stroke-width="1.6"/>
<line x1="1884.2" y1="1120.8" x2="1892.2" y2="1120.8" stroke="#ff5a3c" stroke-width="1.6"/>
<line x1="1884.2" y1="1183.5" x2="1892.2" y2="1183.5" stroke="#ff5a3c" stroke-width="1.6"/>
<line x1="1945.6" y1="1111.1" x2="1945.6" y2="1159.1" stroke="#ff5a3c" stroke-width="1.6"/>
<line x1="1941.6" y1="1111.1" x2="1949.6" y2="1111.1" stroke="#ff5a3c" stroke-width="1.6"/>
<line x1="1941.6" y1="1159.1" x2="1949.6" y2="1159.1" stroke="#ff5a3c" stroke-width="1.6"/>
<line x1="2002.7" y1="1068.8" x2="2002.7" y2="1137.1" stroke="#ff5a3c" stroke-width="1.6"/>
<line x1="1998.7" y1="1068.8" x2="2006.7" y2="1068.8" stroke="#ff5a3c" stroke-width="1.6"/>
<line x1="1998.7" y1="1137.1" x2="2006.7" y2="1137.1" stroke="#ff5a3c" stroke-width="1.6"/>
<path d="M1773.3,1225.8 L1830.7,1166.4 L1888.2,1152.6 L1945.6,1135.5 L2002.7,1103.8" fill="none" stroke="#ff2a08" stroke-width="1.6" stroke-linejoin="round"/>
<rect x="1769.8" y="1222.3" width="7" height="7" fill="#ff2a08"/>
<rect x="1827.2" y="1162.9" width="7" height="7" fill="#ff2a08"/>
<rect x="1884.7" y="1149.1" width="7" height="7" fill="#ff2a08"/>
<rect x="1942.1" y="1132" width="7" height="7" fill="#ff2a08"/>
<rect x="1999.2" y="1100.3" width="7" height="7" fill="#ff2a08"/>
<circle cx="1773.3" cy="1225.8" r="3.6" fill="#9b9b9b"/>
<text x="1849.3" y="901.6" font-size="25.5" fill="#141414" textLength="79.7" lengthAdjust="spacingAndGlyphs">T cells</text>
<text x="1828.8" y="1141.4" font-size="22.5" text-anchor="middle" fill="#141414" textLength="23" lengthAdjust="spacingAndGlyphs">ns</text>
<text x="1886.2" y="1111.8" font-size="22.5" text-anchor="middle" fill="#141414" textLength="23" lengthAdjust="spacingAndGlyphs">ns</text>
<text x="1944.4" y="1102.5" font-size="22.5" text-anchor="middle" fill="#141414" textLength="23" lengthAdjust="spacingAndGlyphs">ns</text>
<text x="1998.4" y="1059.2" font-size="22.5" text-anchor="middle" fill="#141414" textLength="23" lengthAdjust="spacingAndGlyphs">ns</text>
<text x="2026.6" y="1071.9" font-size="26" fill="#141414" textLength="46.5" lengthAdjust="spacingAndGlyphs">Ctrl</text>
<text x="2026.6" y="1116.6" font-size="26" fill="#141414" textLength="84" lengthAdjust="spacingAndGlyphs">Clu OE</text>
<text transform="translate(84,776) rotate(-90)" font-size="28.3" fill="#141414" textLength="142.6" lengthAdjust="spacingAndGlyphs">Percentage</text>
<text transform="translate(89.3,1188.9) rotate(-90)" font-size="28.3" fill="#141414" textLength="142.9" lengthAdjust="spacingAndGlyphs">Percentage</text>
<text x="0" y="21" font-size="38" fill="#141414" font-weight="bold" stroke="#141414" stroke-width="1.3">a</text>
<text x="0" y="486" font-size="38" fill="#141414" font-weight="bold" stroke="#141414" stroke-width="1.3">b</text>
<text x="0" y="897" font-size="38" fill="#141414" font-weight="bold" stroke="#141414" stroke-width="1.3">c</text>
<text x="0" y="1338.5" font-size="38" fill="#141414" font-weight="bold" stroke="#141414" stroke-width="1.3">d</text>
<text x="1097" y="1338.5" font-size="38" fill="#141414" font-weight="bold" stroke="#141414" stroke-width="1.3">f</text>
<text x="5" y="1900" font-size="38" fill="#141414" font-weight="bold" stroke="#141414" stroke-width="1.3">e</text>
<text x="1091" y="1898" font-size="38" fill="#141414" font-weight="bold" stroke="#141414" stroke-width="1.3">g</text>
<line x1="864.7" y1="1480.9" x2="864.7" y2="1730.4" stroke="#1e1e1e" stroke-width="1.6"/>
<line x1="852.7" y1="1730.4" x2="1040.6" y2="1730.4" stroke="#1e1e1e" stroke-width="1.6"/>
<line x1="852.7" y1="1730.4" x2="864.7" y2="1730.4" stroke="#1e1e1e" stroke-width="1.6"/>
<text x="841.2" y="1738.5" font-size="23.5" text-anchor="end" fill="#141414">0</text>
<line x1="852.7" y1="1680.5" x2="864.7" y2="1680.5" stroke="#1e1e1e" stroke-width="1.6"/>
<text x="841.2" y="1688.6" font-size="23.5" text-anchor="end" fill="#141414">20</text>
<line x1="852.7" y1="1630.6" x2="864.7" y2="1630.6" stroke="#1e1e1e" stroke-width="1.6"/>
<text x="841.2" y="1638.7" font-size="23.5" text-anchor="end" fill="#141414">40</text>
<line x1="852.7" y1="1580.7" x2="864.7" y2="1580.7" stroke="#1e1e1e" stroke-width="1.6"/>
<text x="841.2" y="1588.8" font-size="23.5" text-anchor="end" fill="#141414">60</text>
<line x1="852.7" y1="1530.8" x2="864.7" y2="1530.8" stroke="#1e1e1e" stroke-width="1.6"/>
<text x="841.2" y="1538.9" font-size="23.5" text-anchor="end" fill="#141414">80</text>
<line x1="852.7" y1="1480.9" x2="864.7" y2="1480.9" stroke="#1e1e1e" stroke-width="1.6"/>
<text x="841.2" y="1489" font-size="23.5" text-anchor="end" fill="#141414">100</text>
<rect x="888.9" y="1656.3" width="41.9" height="74.1" fill="#07590b" stroke="#1a1a1a" stroke-width="1.3"/>
<rect x="888.9" y="1534.5" width="41.9" height="121.8" fill="#5599ee" stroke="#1a1a1a" stroke-width="1.3"/>
<rect x="888.9" y="1488.6" width="41.9" height="45.9" fill="#fa9f40" stroke="#1a1a1a" stroke-width="1.3"/>
<line x1="909.8" y1="1730.4" x2="909.8" y2="1740.4" stroke="#1e1e1e" stroke-width="1.6"/>
<line x1="909.8" y1="1656.3" x2="909.8" y2="1661.8" stroke="#1a1a1a" stroke-width="1.5"/>
<line x1="899.3" y1="1661.8" x2="920.3" y2="1661.8" stroke="#1a1a1a" stroke-width="1.5"/>
<line x1="909.8" y1="1534.5" x2="909.8" y2="1539.5" stroke="#1a1a1a" stroke-width="1.5"/>
<line x1="899.3" y1="1539.5" x2="920.3" y2="1539.5" stroke="#1a1a1a" stroke-width="1.5"/>
<line x1="909.8" y1="1488.6" x2="909.8" y2="1494.6" stroke="#1a1a1a" stroke-width="1.5"/>
<line x1="899.3" y1="1494.6" x2="920.3" y2="1494.6" stroke="#1a1a1a" stroke-width="1.5"/>
<text transform="translate(917,1760) rotate(-45)" font-size="25.5" text-anchor="end" fill="#141414" textLength="78" lengthAdjust="spacingAndGlyphs">sgCtrl</text>
<rect x="956.3" y="1658.8" width="41.9" height="71.6" fill="#07590b" stroke="#1a1a1a" stroke-width="1.3"/>
<rect x="956.3" y="1535.8" width="41.9" height="123" fill="#5599ee" stroke="#1a1a1a" stroke-width="1.3"/>
<rect x="956.3" y="1489.1" width="41.9" height="46.7" fill="#fa9f40" stroke="#1a1a1a" stroke-width="1.3"/>
<line x1="977.2" y1="1730.4" x2="977.2" y2="1740.4" stroke="#1e1e1e" stroke-width="1.6"/>
<line x1="977.2" y1="1658.8" x2="977.2" y2="1662.5" stroke="#1a1a1a" stroke-width="1.5"/>
<line x1="966.8" y1="1662.5" x2="987.8" y2="1662.5" stroke="#1a1a1a" stroke-width="1.5"/>
<line x1="977.2" y1="1535.8" x2="977.2" y2="1547.5" stroke="#1a1a1a" stroke-width="1.5"/>
<line x1="966.8" y1="1547.5" x2="987.8" y2="1547.5" stroke="#1a1a1a" stroke-width="1.5"/>
<line x1="977.2" y1="1489.1" x2="977.2" y2="1505.1" stroke="#1a1a1a" stroke-width="1.5"/>
<line x1="966.8" y1="1505.1" x2="987.8" y2="1505.1" stroke="#1a1a1a" stroke-width="1.5"/>
<text x="977.2" y="1522" font-size="25.5" text-anchor="middle" fill="#141414" textLength="27.5" lengthAdjust="spacingAndGlyphs">ns</text>
<text x="977.2" y="1568.2" font-size="25.5" text-anchor="middle" fill="#141414" textLength="27.5" lengthAdjust="spacingAndGlyphs">ns</text>
<text x="977.2" y="1681.2" font-size="25.5" text-anchor="middle" fill="#ffffff" textLength="27.5" lengthAdjust="spacingAndGlyphs">ns</text>
<text transform="translate(984.5,1760) rotate(-45)" font-size="25.5" text-anchor="end" fill="#141414" textLength="72" lengthAdjust="spacingAndGlyphs">sgClu</text>
<rect x="851" y="1348.7" width="24.2" height="23.7" fill="#fa9f40" stroke="#1a1a1a" stroke-width="1.3"/>
<text x="887.2" y="1370.7" font-size="25.5" fill="#141414" textLength="91" lengthAdjust="spacingAndGlyphs">LT-HSC</text>
<rect x="851" y="1387.4" width="24.2" height="23.6" fill="#5599ee" stroke="#1a1a1a" stroke-width="1.3"/>
<text x="887.2" y="1409.3" font-size="25.5" fill="#141414" textLength="93" lengthAdjust="spacingAndGlyphs">ST-HSC</text>
<rect x="851" y="1424.8" width="24.2" height="24.2" fill="#07590b" stroke="#1a1a1a" stroke-width="1.3"/>
<text x="887.2" y="1446.7" font-size="25.5" fill="#141414" textLength="53" lengthAdjust="spacingAndGlyphs">MPP</text>
<text transform="translate(792.4,1659.3) rotate(-90)" font-size="28.3" fill="#141414" textLength="107.3" lengthAdjust="spacingAndGlyphs">% in LSK</text>
<line x1="1963.5" y1="1454" x2="1963.5" y2="1726.1" stroke="#1e1e1e" stroke-width="1.6"/>
<line x1="1951.5" y1="1726.1" x2="2137.6" y2="1726.1" stroke="#1e1e1e" stroke-width="1.6"/>
<line x1="1951.5" y1="1726.1" x2="1963.5" y2="1726.1" stroke="#1e1e1e" stroke-width="1.6"/>
<text x="1940" y="1734.2" font-size="23.5" text-anchor="end" fill="#141414">0</text>
<line x1="1951.5" y1="1676.6" x2="1963.5" y2="1676.6" stroke="#1e1e1e" stroke-width="1.6"/>
<text x="1940" y="1684.7" font-size="23.5" text-anchor="end" fill="#141414">20</text>
<line x1="1951.5" y1="1627.1" x2="1963.5" y2="1627.1" stroke="#1e1e1e" stroke-width="1.6"/>
<text x="1940" y="1635.2" font-size="23.5" text-anchor="end" fill="#141414">40</text>
<line x1="1951.5" y1="1577.6" x2="1963.5" y2="1577.6" stroke="#1e1e1e" stroke-width="1.6"/>
<text x="1940" y="1585.7" font-size="23.5" text-anchor="end" fill="#141414">60</text>
<line x1="1951.5" y1="1528.1" x2="1963.5" y2="1528.1" stroke="#1e1e1e" stroke-width="1.6"/>
<text x="1940" y="1536.2" font-size="23.5" text-anchor="end" fill="#141414">80</text>
<line x1="1951.5" y1="1478.6" x2="1963.5" y2="1478.6" stroke="#1e1e1e" stroke-width="1.6"/>
<text x="1940" y="1486.7" font-size="23.5" text-anchor="end" fill="#141414">100</text>
<rect x="1989.7" y="1619.7" width="47.3" height="106.4" fill="#28571a" stroke="#1a1a1a" stroke-width="1.3"/>
<rect x="1989.7" y="1527.6" width="47.3" height="92.1" fill="#6699e8" stroke="#1a1a1a" stroke-width="1.3"/>
<rect x="1989.7" y="1488.5" width="47.3" height="39.1" fill="#f0a55a" stroke="#1a1a1a" stroke-width="1.3"/>
<line x1="2013.3" y1="1726.1" x2="2013.3" y2="1736.1" stroke="#1e1e1e" stroke-width="1.6"/>
<line x1="2013.3" y1="1619.8" x2="2013.3" y2="1631" stroke="#1a1a1a" stroke-width="1.5"/>
<line x1="2000.8" y1="1631" x2="2025.8" y2="1631" stroke="#1a1a1a" stroke-width="1.5"/>
<line x1="2013.3" y1="1527.6" x2="2013.3" y2="1531.5" stroke="#1a1a1a" stroke-width="1.5"/>
<line x1="2000.8" y1="1531.5" x2="2025.8" y2="1531.5" stroke="#1a1a1a" stroke-width="1.5"/>
<line x1="2013.3" y1="1488.6" x2="2013.3" y2="1490.9" stroke="#1a1a1a" stroke-width="1.5"/>
<line x1="2000.8" y1="1490.9" x2="2025.8" y2="1490.9" stroke="#1a1a1a" stroke-width="1.5"/>
<text transform="translate(2020.5,1758) rotate(-45)" font-size="25.5" text-anchor="end" fill="#141414" textLength="51" lengthAdjust="spacingAndGlyphs">Ctrl</text>
<rect x="2064.5" y="1612" width="47.4" height="114.1" fill="#28571a" stroke="#1a1a1a" stroke-width="1.3"/>
<rect x="2064.5" y="1517.7" width="47.4" height="94.3" fill="#6699e8" stroke="#1a1a1a" stroke-width="1.3"/>
<rect x="2064.5" y="1485.8" width="47.4" height="31.9" fill="#f0a55a" stroke="#1a1a1a" stroke-width="1.3"/>
<line x1="2088.2" y1="1726.1" x2="2088.2" y2="1736.1" stroke="#1e1e1e" stroke-width="1.6"/>
<line x1="2088.2" y1="1611.9" x2="2088.2" y2="1626.3" stroke="#1a1a1a" stroke-width="1.5"/>
<line x1="2075.7" y1="1626.3" x2="2100.7" y2="1626.3" stroke="#1a1a1a" stroke-width="1.5"/>
<line x1="2088.2" y1="1517.8" x2="2088.2" y2="1530.3" stroke="#1a1a1a" stroke-width="1.5"/>
<line x1="2075.7" y1="1530.3" x2="2100.7" y2="1530.3" stroke="#1a1a1a" stroke-width="1.5"/>
<line x1="2088.2" y1="1485.9" x2="2088.2" y2="1490.4" stroke="#1a1a1a" stroke-width="1.5"/>
<line x1="2075.7" y1="1490.4" x2="2100.7" y2="1490.4" stroke="#1a1a1a" stroke-width="1.5"/>
<text x="2088.2" y="1509.6" font-size="25.5" text-anchor="middle" fill="#141414" textLength="27.5" lengthAdjust="spacingAndGlyphs">ns</text>
<text x="2088.2" y="1552" font-size="25.5" text-anchor="middle" fill="#141414" textLength="27.5" lengthAdjust="spacingAndGlyphs">ns</text>
<text x="2088.2" y="1646.3" font-size="25.5" text-anchor="middle" fill="#ffffff" textLength="27.5" lengthAdjust="spacingAndGlyphs">ns</text>
<text transform="translate(2098,1758) rotate(-45)" font-size="25.5" text-anchor="end" fill="#141414" textLength="90" lengthAdjust="spacingAndGlyphs">Clu OE</text>
<rect x="1984.2" y="1355" width="24.2" height="24.1" fill="#f0a55a" stroke="#1a1a1a" stroke-width="1.3"/>
<text x="2019.1" y="1376.1" font-size="25.5" fill="#141414" textLength="91" lengthAdjust="spacingAndGlyphs">LT-HSC</text>
<rect x="1984.2" y="1394.4" width="24.2" height="23.4" fill="#6699e8" stroke="#1a1a1a" stroke-width="1.3"/>
<text x="2019.1" y="1416" font-size="25.5" fill="#141414" textLength="93" lengthAdjust="spacingAndGlyphs">ST-HSC</text>
<rect x="1984.2" y="1436" width="24.2" height="23.7" fill="#28571a" stroke="#1a1a1a" stroke-width="1.3"/>
<text x="2019.1" y="1457.2" font-size="25.5" fill="#141414" textLength="53" lengthAdjust="spacingAndGlyphs">MPP</text>
<text transform="translate(1891,1646.8) rotate(-90)" font-size="28.3" fill="#141414" textLength="104.8" lengthAdjust="spacingAndGlyphs">% in LSK</text>
<line x1="845.7" y1="1977.5" x2="845.7" y2="2257.3" stroke="#1e1e1e" stroke-width="1.6"/>
<line x1="837.7" y1="2257.3" x2="1042.4" y2="2257.3" stroke="#1e1e1e" stroke-width="1.6"/>
<line x1="837.7" y1="2257.3" x2="845.7" y2="2257.3" stroke="#1e1e1e" stroke-width="1.6"/>
<text x="827.7" y="2265.4" font-size="23.5" text-anchor="end" fill="#141414">0</text>
<line x1="837.7" y1="2195" x2="845.7" y2="2195" stroke="#1e1e1e" stroke-width="1.6"/>
<text x="827.7" y="2203.1" font-size="23.5" text-anchor="end" fill="#141414">20</text>
<line x1="837.7" y1="2132.6" x2="845.7" y2="2132.6" stroke="#1e1e1e" stroke-width="1.6"/>
<text x="827.7" y="2140.7" font-size="23.5" text-anchor="end" fill="#141414">40</text>
<line x1="837.7" y1="2070.2" x2="845.7" y2="2070.2" stroke="#1e1e1e" stroke-width="1.6"/>
<text x="827.7" y="2078.3" font-size="23.5" text-anchor="end" fill="#141414">60</text>
<line x1="837.7" y1="2007.9" x2="845.7" y2="2007.9" stroke="#1e1e1e" stroke-width="1.6"/>
<text x="827.7" y="2016" font-size="23.5" text-anchor="end" fill="#141414">80</text>
<rect x="858.6" y="2000" width="22.9" height="257.3" fill="#ade6c8" stroke="#2a2a2a" stroke-width="1.3"/>
<line x1="870" y1="2257.3" x2="870" y2="2265.3" stroke="#1e1e1e" stroke-width="1.6"/>
<line x1="870" y1="1990.3" x2="870" y2="2007.9" stroke="#111" stroke-width="1.5"/>
<line x1="863.5" y1="1990.3" x2="876.5" y2="1990.3" stroke="#111" stroke-width="1.5"/>
<line x1="863.5" y1="2007.9" x2="876.5" y2="2007.9" stroke="#111" stroke-width="1.5"/>
<circle cx="869.7" cy="1982.8" r="3.3" fill="#111"/>
<circle cx="869.7" cy="2002.1" r="3.3" fill="#111"/>
<circle cx="869.7" cy="2013.7" r="3.3" fill="#111"/>
<text transform="translate(875,2287.3) rotate(-45)" font-size="25.5" text-anchor="end" fill="#141414" textLength="78" lengthAdjust="spacingAndGlyphs">sgCtrl</text>
<rect x="895.5" y="2056.6" width="22.9" height="200.7" fill="#ade6c8" stroke="#2a2a2a" stroke-width="1.3"/>
<line x1="907" y1="2257.3" x2="907" y2="2265.3" stroke="#1e1e1e" stroke-width="1.6"/>
<line x1="907" y1="2040.7" x2="907" y2="2071.2" stroke="#111" stroke-width="1.5"/>
<line x1="900.5" y1="2040.7" x2="913.5" y2="2040.7" stroke="#111" stroke-width="1.5"/>
<line x1="900.5" y1="2071.2" x2="913.5" y2="2071.2" stroke="#111" stroke-width="1.5"/>
<circle cx="906.2" cy="2036.4" r="3.3" fill="#111"/>
<circle cx="906.2" cy="2046.1" r="3.3" fill="#111"/>
<circle cx="906.2" cy="2085.8" r="3.3" fill="#111"/>
<text transform="translate(919,2285.2) rotate(-45)" font-size="25.5" text-anchor="end" fill="#141414" textLength="72" lengthAdjust="spacingAndGlyphs">sgClu</text>
<rect x="947.6" y="2204.8" width="23.4" height="52.5" fill="#f27c77" stroke="#2a2a2a" stroke-width="1.3"/>
<line x1="959.3" y1="2257.3" x2="959.3" y2="2265.3" stroke="#1e1e1e" stroke-width="1.6"/>
<line x1="959.3" y1="2195.1" x2="959.3" y2="2212.7" stroke="#111" stroke-width="1.5"/>
<line x1="952.8" y1="2195.1" x2="965.8" y2="2195.1" stroke="#111" stroke-width="1.5"/>
<line x1="952.8" y1="2212.7" x2="965.8" y2="2212.7" stroke="#111" stroke-width="1.5"/>
<circle cx="959.2" cy="2189.8" r="3.3" fill="#111"/>
<circle cx="959.2" cy="2201.6" r="3.3" fill="#111"/>
<circle cx="959.2" cy="2220.9" r="3.3" fill="#111"/>
<text transform="translate(964.3,2287.3) rotate(-45)" font-size="25.5" text-anchor="end" fill="#141414" textLength="78" lengthAdjust="spacingAndGlyphs">sgCtrl</text>
<rect x="984" y="2147.8" width="23.4" height="109.5" fill="#f27c77" stroke="#2a2a2a" stroke-width="1.3"/>
<line x1="995.7" y1="2257.3" x2="995.7" y2="2265.3" stroke="#1e1e1e" stroke-width="1.6"/>
<line x1="995.7" y1="2132.3" x2="995.7" y2="2162.3" stroke="#111" stroke-width="1.5"/>
<line x1="989.2" y1="2132.3" x2="1002.2" y2="2132.3" stroke="#111" stroke-width="1.5"/>
<line x1="989.2" y1="2162.3" x2="1002.2" y2="2162.3" stroke="#111" stroke-width="1.5"/>
<circle cx="995.6" cy="2117.7" r="3.3" fill="#111"/>
<circle cx="995.6" cy="2157" r="3.3" fill="#111"/>
<circle cx="995.6" cy="2166.6" r="3.3" fill="#111"/>
<text transform="translate(1007.7,2285.2) rotate(-45)" font-size="25.5" text-anchor="end" fill="#141414" textLength="72" lengthAdjust="spacingAndGlyphs">sgClu</text>
<rect x="948.4" y="1971.5" width="23.9" height="21.8" fill="#ade6c8" stroke="#2a2a2a" stroke-width="1.3"/>
<text x="984" y="1992.9" font-size="25.5" fill="#141414" textLength="70" lengthAdjust="spacingAndGlyphs">MPP3</text>
<rect x="948.4" y="2010" width="23.9" height="23.2" fill="#f27c77" stroke="#2a2a2a" stroke-width="1.3"/>
<text x="984" y="2031.5" font-size="25.5" fill="#141414" textLength="70" lengthAdjust="spacingAndGlyphs">MPP4</text>
<text x="833.3" y="1960.7" font-size="24.3" fill="#141414" textLength="114.3" lengthAdjust="spacingAndGlyphs"><tspan font-style="italic">P</tspan> =&#160; 0.0313</text>
<line x1="869.3" y1="1971" x2="908.3" y2="1971" stroke="#111" stroke-width="1.5"/>
<text x="930.4" y="2101.2" font-size="24.3" fill="#141414" textLength="114.1" lengthAdjust="spacingAndGlyphs"><tspan font-style="italic">P</tspan> =&#160; 0.0313</text>
<line x1="957.7" y1="2108.3" x2="995.6" y2="2108.3" stroke="#111" stroke-width="1.5"/>
<text transform="translate(780.7,2187) rotate(-90)" font-size="28.3" fill="#141414" textLength="108.3" lengthAdjust="spacingAndGlyphs">% in MPP</text>
<line x1="1953.9" y1="1967.6" x2="1953.9" y2="2258.4" stroke="#1e1e1e" stroke-width="1.6"/>
<line x1="1945.9" y1="2258.4" x2="2160.2" y2="2258.4" stroke="#1e1e1e" stroke-width="1.6"/>
<line x1="1945.9" y1="2258.4" x2="1953.9" y2="2258.4" stroke="#1e1e1e" stroke-width="1.6"/>
<text x="1935.9" y="2266.5" font-size="23.5" text-anchor="end" fill="#141414">0</text>
<line x1="1945.9" y1="2193.7" x2="1953.9" y2="2193.7" stroke="#1e1e1e" stroke-width="1.6"/>
<text x="1935.9" y="2201.8" font-size="23.5" text-anchor="end" fill="#141414">20</text>
<line x1="1945.9" y1="2129" x2="1953.9" y2="2129" stroke="#1e1e1e" stroke-width="1.6"/>
<text x="1935.9" y="2137.1" font-size="23.5" text-anchor="end" fill="#141414">40</text>
<line x1="1945.9" y1="2064.3" x2="1953.9" y2="2064.3" stroke="#1e1e1e" stroke-width="1.6"/>
<text x="1935.9" y="2072.4" font-size="23.5" text-anchor="end" fill="#141414">60</text>
<line x1="1945.9" y1="1999.6" x2="1953.9" y2="1999.6" stroke="#1e1e1e" stroke-width="1.6"/>
<text x="1935.9" y="2007.7" font-size="23.5" text-anchor="end" fill="#141414">80</text>
<rect x="1967.6" y="2024.7" width="23.8" height="233.7" fill="#ade6c8" stroke="#2a2a2a" stroke-width="1.3"/>
<line x1="1979.5" y1="2258.4" x2="1979.5" y2="2266.4" stroke="#1e1e1e" stroke-width="1.6"/>
<line x1="1979.5" y1="2019" x2="1979.5" y2="2029" stroke="#111" stroke-width="1.5"/>
<line x1="1973" y1="2019" x2="1986" y2="2019" stroke="#111" stroke-width="1.5"/>
<line x1="1973" y1="2029" x2="1986" y2="2029" stroke="#111" stroke-width="1.5"/>
<circle cx="1970" cy="2016.5" r="3.3" fill="#111"/>
<circle cx="1979.4" cy="2033.7" r="3.3" fill="#111"/>
<circle cx="1988.6" cy="2020.8" r="3.3" fill="#111"/>
<text transform="translate(1984.5,2288.4) rotate(-45)" font-size="25.5" text-anchor="end" fill="#141414" textLength="51" lengthAdjust="spacingAndGlyphs">Ctrl</text>
<rect x="2005.1" y="1986.5" width="23.9" height="271.9" fill="#ade6c8" stroke="#2a2a2a" stroke-width="1.3"/>
<line x1="2017" y1="2258.4" x2="2017" y2="2266.4" stroke="#1e1e1e" stroke-width="1.6"/>
<line x1="2017" y1="1979" x2="2017" y2="1991.8" stroke="#111" stroke-width="1.5"/>
<line x1="2010.5" y1="1979" x2="2023.5" y2="1979" stroke="#111" stroke-width="1.5"/>
<line x1="2010.5" y1="1991.8" x2="2023.5" y2="1991.8" stroke="#111" stroke-width="1.5"/>
<circle cx="2017" cy="1975.3" r="3.3" fill="#111"/>
<circle cx="2017" cy="1983.9" r="3.3" fill="#111"/>
<circle cx="2017" cy="1996.8" r="3.3" fill="#111"/>
<text transform="translate(2029,2286.3) rotate(-45)" font-size="25.5" text-anchor="end" fill="#141414" textLength="90" lengthAdjust="spacingAndGlyphs">Clu OE</text>
<rect x="2063.7" y="2170.3" width="23.6" height="88.1" fill="#f27c77" stroke="#2a2a2a" stroke-width="1.3"/>
<line x1="2075.5" y1="2258.4" x2="2075.5" y2="2266.4" stroke="#1e1e1e" stroke-width="1.6"/>
<line x1="2075.5" y1="2164.5" x2="2075.5" y2="2176" stroke="#111" stroke-width="1.5"/>
<line x1="2069" y1="2164.5" x2="2082" y2="2164.5" stroke="#111" stroke-width="1.5"/>
<line x1="2069" y1="2176" x2="2082" y2="2176" stroke="#111" stroke-width="1.5"/>
<circle cx="2075.5" cy="2159.1" r="3.3" fill="#111"/>
<circle cx="2065.8" cy="2177.3" r="3.3" fill="#111"/>
<circle cx="2084.7" cy="2173" r="3.3" fill="#111"/>
<text transform="translate(2080.5,2288.4) rotate(-45)" font-size="25.5" text-anchor="end" fill="#141414" textLength="51" lengthAdjust="spacingAndGlyphs">Ctrl</text>
<rect x="2101.6" y="2209.1" width="23.6" height="49.3" fill="#f27c77" stroke="#2a2a2a" stroke-width="1.3"/>
<line x1="2113.4" y1="2258.4" x2="2113.4" y2="2266.4" stroke="#1e1e1e" stroke-width="1.6"/>
<line x1="2113.4" y1="2202.6" x2="2113.4" y2="2215.5" stroke="#111" stroke-width="1.5"/>
<line x1="2106.9" y1="2202.6" x2="2119.9" y2="2202.6" stroke="#111" stroke-width="1.5"/>
<line x1="2106.9" y1="2215.5" x2="2119.9" y2="2215.5" stroke="#111" stroke-width="1.5"/>
<circle cx="2113" cy="2197" r="3.3" fill="#111"/>
<circle cx="2113" cy="2210" r="3.3" fill="#111"/>
<circle cx="2113" cy="2218.7" r="3.3" fill="#111"/>
<text transform="translate(2125.4,2286.3) rotate(-45)" font-size="25.5" text-anchor="end" fill="#141414" textLength="90" lengthAdjust="spacingAndGlyphs">Clu OE</text>
<rect x="2060.5" y="1977.5" width="24" height="23.5" fill="#ade6c8" stroke="#2a2a2a" stroke-width="1.3"/>
<text x="2095.9" y="1999.3" font-size="25.5" fill="#141414" textLength="70" lengthAdjust="spacingAndGlyphs">MPP3</text>
<rect x="2060.5" y="2016.5" width="24" height="24" fill="#f27c77" stroke="#2a2a2a" stroke-width="1.3"/>
<text x="2095.9" y="2038" font-size="25.5" fill="#141414" textLength="70" lengthAdjust="spacingAndGlyphs">MPP4</text>
<text x="1943" y="1953.2" font-size="24.3" fill="#141414" textLength="117" lengthAdjust="spacingAndGlyphs"><tspan font-style="italic">P</tspan> =&#160; 0.0091</text>
<line x1="1979.4" y1="1960.1" x2="2017.6" y2="1960.1" stroke="#111" stroke-width="1.5"/>
<text x="2042.9" y="2127" font-size="24.3" fill="#141414" textLength="117.3" lengthAdjust="spacingAndGlyphs"><tspan font-style="italic">P</tspan> =&#160; 0.0091</text>
<line x1="2074.4" y1="2138.7" x2="2112.6" y2="2138.7" stroke="#111" stroke-width="1.5"/>
<text transform="translate(1890,2168.8) rotate(-90)" font-size="28.3" fill="#141414" textLength="111.5" lengthAdjust="spacingAndGlyphs">% in MPP</text>
<text x="300.5" y="1336.4" font-size="25.5" fill="#141414" textLength="469.9" lengthAdjust="spacingAndGlyphs">Gated on LSK derived from oHSCs</text>
<text x="217.4" y="1420" font-size="25.5" fill="#141414" textLength="77.2" lengthAdjust="spacingAndGlyphs">sgCtrl</text>
<text x="560.6" y="1420" font-size="25.5" fill="#141414" textLength="72.6" lengthAdjust="spacingAndGlyphs">sgClu</text>
<line x1="21.1" y1="1615" x2="21.1" y2="1452" stroke="#3b4a60" stroke-width="2"/>
<path d="M21.1,1444 L16.1,1457 L21.1,1453.5 L26.1,1457 Z" fill="#3b4a60"/>
<text transform="translate(27.4,1699.5) rotate(-90)" font-size="27.6" fill="#141414" textLength="71.8" lengthAdjust="spacingAndGlyphs">CD48</text>
<text transform="translate(53.4,1743.8) rotate(-90)" font-size="27.6" fill="#141414" textLength="158.3" lengthAdjust="spacingAndGlyphs">-PerCPCy5.5</text>
<text x="100" y="1803" font-size="27.6" fill="#141414" textLength="170" lengthAdjust="spacingAndGlyphs">CD150-PECy7</text>
<line x1="279.4" y1="1794.4" x2="728.6" y2="1794.4" stroke="#3b4a60" stroke-width="2"/>
<path d="M736.6,1794.4 L723.6,1789.4 L727.1,1794.4 L723.6,1799.4 Z" fill="#3b4a60"/>
<text x="1390.3" y="1339.8" font-size="25.5" fill="#141414" textLength="466.4" lengthAdjust="spacingAndGlyphs">Gated on LSK derived from yHSCs</text>
<text x="1324" y="1416.6" font-size="25.5" fill="#141414" textLength="46.4" lengthAdjust="spacingAndGlyphs">Ctrl</text>
<text x="1652" y="1416.6" font-size="25.5" fill="#141414" textLength="87.4" lengthAdjust="spacingAndGlyphs">Clu OE</text>
<line x1="1103.2" y1="1604.5" x2="1103.2" y2="1441.5" stroke="#3b4a60" stroke-width="2"/>
<path d="M1103.2,1433.5 L1098.2,1446.5 L1103.2,1443 L1108.2,1446.5 Z" fill="#3b4a60"/>
<text transform="translate(1109.5,1689) rotate(-90)" font-size="27.6" fill="#141414" textLength="70" lengthAdjust="spacingAndGlyphs">CD48</text>
<text transform="translate(1135.5,1733) rotate(-90)" font-size="27.6" fill="#141414" textLength="156" lengthAdjust="spacingAndGlyphs">-PerCPCy5.5</text>
<text x="1199.5" y="1793.2" font-size="27.6" fill="#141414" textLength="171" lengthAdjust="spacingAndGlyphs">CD150-PECy7</text>
<line x1="1377.6" y1="1783.9" x2="1827.6" y2="1783.9" stroke="#3b4a60" stroke-width="2"/>
<path d="M1835.6,1783.9 L1822.6,1778.9 L1826.1,1783.9 L1822.6,1788.9 Z" fill="#3b4a60"/>
<text x="312.4" y="1906.4" font-size="25.5" fill="#141414" textLength="475.9" lengthAdjust="spacingAndGlyphs">Gated on MPP derived from oHSCs</text>
<text x="219.5" y="1956.2" font-size="25.5" fill="#141414" textLength="77.3" lengthAdjust="spacingAndGlyphs">sgCtrl</text>
<text x="558" y="1956.2" font-size="25.5" fill="#141414" textLength="72.2" lengthAdjust="spacingAndGlyphs">sgClu</text>
<line x1="19" y1="2149" x2="19" y2="1990.4" stroke="#3b4a60" stroke-width="2"/>
<path d="M19,1982.4 L14,1995.4 L19,1991.9 L24,1995.4 Z" fill="#3b4a60"/>
<text transform="translate(27.4,2229.4) rotate(-90)" font-size="27.6" fill="#141414" textLength="69.7" lengthAdjust="spacingAndGlyphs">CD48</text>
<text transform="translate(53.4,2273.7) rotate(-90)" font-size="27.6" fill="#141414" textLength="158.3" lengthAdjust="spacingAndGlyphs">-PerCPCy5.5</text>
<text x="109.8" y="2334.9" font-size="27.6" fill="#141414" textLength="166.7" lengthAdjust="spacingAndGlyphs">CD135-BV421</text>
<line x1="287" y1="2327.7" x2="735" y2="2327.7" stroke="#3b4a60" stroke-width="2"/>
<path d="M743,2327.7 L730,2322.7 L733.5,2327.7 L730,2332.7 Z" fill="#3b4a60"/>
<text x="1374.2" y="1906.4" font-size="25.5" fill="#141414" textLength="465.6" lengthAdjust="spacingAndGlyphs">Gated on LSK derived from yHSCs</text>
<text x="1329" y="1953.7" font-size="25.5" fill="#141414" textLength="46.5" lengthAdjust="spacingAndGlyphs">Ctrl</text>
<text x="1653.2" y="1953.7" font-size="25.5" fill="#141414" textLength="86.6" lengthAdjust="spacingAndGlyphs">Clu OE</text>
<line x1="1110.4" y1="2147" x2="1110.4" y2="1990.4" stroke="#3b4a60" stroke-width="2"/>
<path d="M1110.4,1982.4 L1105.4,1995.4 L1110.4,1991.9 L1115.4,1995.4 Z" fill="#3b4a60"/>
<text transform="translate(1118.8,2227.2) rotate(-90)" font-size="27.6" fill="#141414" textLength="69.6" lengthAdjust="spacingAndGlyphs">CD48</text>
<text transform="translate(1144.5,2271.6) rotate(-90)" font-size="27.6" fill="#141414" textLength="158.3" lengthAdjust="spacingAndGlyphs">-PerCPCy5.5</text>
<text x="1214.2" y="2334.9" font-size="27.6" fill="#141414" textLength="165.5" lengthAdjust="spacingAndGlyphs">CD135-BV421</text>
<line x1="1386.9" y1="2325.6" x2="1825.5" y2="2325.6" stroke="#3b4a60" stroke-width="2"/>
<path d="M1833.5,2325.6 L1820.5,2320.6 L1824,2325.6 L1820.5,2330.6 Z" fill="#3b4a60"/>
<text x="179.7" y="1474.5" font-size="21.8" fill="#141414" textLength="43.6" lengthAdjust="spacingAndGlyphs">MPP</text>
<text x="199.8" y="1508" font-size="21.8" fill="#141414" textLength="66.2" lengthAdjust="spacingAndGlyphs">33.0%</text>
<text x="155.4" y="1680" font-size="21.8" fill="#141414" textLength="59.5" lengthAdjust="spacingAndGlyphs">46.1%</text>
<text x="308" y="1681.6" font-size="21.8" fill="#141414" textLength="59.6" lengthAdjust="spacingAndGlyphs">15.0%</text>
<text x="121" y="1717.7" font-size="21.8" fill="#141414" textLength="80.5" lengthAdjust="spacingAndGlyphs">ST-HSC</text>
<text x="265.2" y="1717.7" font-size="21.8" fill="#141414" textLength="77.2" lengthAdjust="spacingAndGlyphs">LT-HSC</text>
<path d="M176.2,1677.7l-8.5,-2.1l-9,-5.8l-6,-6.6l-8.3,-2.6l-1.7,-2.5l0,-4.5l-1.5,-4l0.3,-2l2.5,-5l1.8,-5l3.4,-3l0.3,-4l2.2,-5.5l-1.5,-5.5l-0.4,-8l-1.5,-4.5l-0.6,-4.5l1.9,-5l1,-10.5l-1.6,-8l2.5,-4l-1.3,-4.5l-0,-3l0.9,-2l2.7,-3l0.6,-2l-1.5,-4.5l-0,-2l3.5,-6.3l2.1,-4.7l1.2,-4.5l4.2,-8.1l1.5,-1.9l2,-1.1l3.5,-0.2l4,-1.2l5.5,2.7l12,1.4l5.5,1.8l4.5,0.1l3.9,1.9l5.1,4.5l3.4,5.9l4.5,1.4l1.6,1.2l0.9,2l1,6l4,4l1.5,3.1l1.2,4.4l0.8,7l5.2,5l2.5,5.5l1.3,1.2l3.5,1.1l11,5.4l5,1.4l9.5,4.5l9,-0.8l8.5,-2.6l1.5,-1l2.4,-3.5l2.1,-0.5l7,1.6l5,0.1l7.5,2l2.5,0.9l6,3.5l7,-0.3l4.5,0.8l8,2.8l6,2.9l8,0.6l3.6,2.1l4.5,4.5l4.5,2.5l3.4,4.5l4.1,2.5l4.9,10l-0.1,3l-1.8,3.7l-1.2,4.3l-3.7,5.5l-2.3,6l-1.3,2l-2.5,1.6l-6.5,1.2l-7.5,3.9l-5,0.5l-6,2l-13.5,1l-8.5,1.4l-10.5,-3.2l-7.5,-0.1l-3.7,-2.4l-4.8,-2l-4.2,-3l-8.4,-3.1l-6,-4.4l-2.5,-0.6l-6,2.8l-10,0.5l-5.5,2.3l-5,1.4l-9.5,5.5l-4,3.7l-5,0.4l-8.9,3l-4.1,4.3l-5.5,3.6l-10,-0.3l-6.5,1.3l-9,0.5l-5.5,1.1M178.7,1675.2l-3.5,0.3l-7.5,-1.5l-8,-4.7l-6.8,-7.1l-7,-2l-1.4,-2l0.5,-5l-1.9,-4.5l0.4,-2.5l3.1,-6.1l3.5,-2.5l1.5,-1.9l-0,-5.5l2,-4.5l-2.4,-7.5l1.1,-13l-1.1,-4.5l-0.6,-6.5l1.1,-7.5l-1.2,-6l0.5,-1.5l2.5,-3l-2.6,-6.5l0.6,-2.3l2.9,-3.2l0.9,-2.5l0.1,-2l-1.5,-4l0,-1.5l7.2,-15.5l4.1,-6l2.2,-1.3l7.5,-1.1l14,1.7l7,2.4l5.5,-0.2l2.5,1l5.5,6l4.5,6.4l4.7,2.1l-0.2,4l0.6,2l2.4,3l5,4.4l1.3,3.7l0.7,7.5l1.5,2.1l4.4,3.9l2.6,6.5l5,1.5l6.2,3l4.8,4l5,0.2l8.5,3.6l3.5,0.3l6.5,-0.9l10,-2.4l1.5,-1.1l2,-3.7l2.5,-0.7l6,1.6l6.5,0.5l14.3,6.1l10.2,0.3l4.5,1.3l9.5,4.2l3,0.6l5.5,0.1l2.5,1.3l5.1,5.2l4.9,3.3l3,5.1l4,2.1l3.4,8.4l-0.1,2.5l-2.7,8.5l-6.7,11.6l-2,1.1l-5,0.2l-3.5,3.4l-2.5,1.6l-11,2.7l-5.5,-0.3l-4.5,1.8l-11,0.8l-13.5,-2.5l-5.5,0.3l-4.5,-2.9l-4.5,-1.8l-4,-2.8l-5.7,-2.5l-3.3,-2.6l-5.5,-3.1l-3.5,-0.9l-2.4,0.6l-4.1,2.6l-9.5,0.6l-10.5,3.9l-5.5,3.5l-5,2.4l-3.5,2.7l-4.5,0.9l-4.5,2l-5.5,1.4l-4.5,4.2l-4.5,3.2l-2.5,0.3l-6.5,-0.6l-8.5,1.5l-10.5,0.4M176.7,1673.7l-7.5,-0.6l-2,-0.6l-7.3,-4.2l-6.7,-7l-6.2,-2l-0.9,-2l0.2,-5l-1.6,-4.5l1.5,-3.7l4.5,-4.5l2,-2.9l0.7,-2l0.1,-4l1.7,-4.4l-0.3,-2.1l-2.3,-5.5l0.9,-14l-1.8,-11.5l1.1,-6l-0.4,-6l2.2,-3.4l0.4,-1.6l-0.4,-2l-1.9,-3l-0.3,-1.5l3,-4.5l1,-3l0.3,-3l-0.9,-5l3.5,-8.5l4.3,-7.3l3.5,-2.9l6,-2.4l12.5,0.5l9,2.9l6,0.1l1.7,0.6l2.4,3.5l5.4,5.2l7.1,10.8l8,8l1,2.5l0.2,5l0.6,2.5l2,3.1l4.3,3.9l2.2,6.4l1.5,1l4.5,0.8l4.5,2.1l1.6,1.6l1.8,3l2.1,1.6l2,0.4l5,-0.9l9.5,3.4l8,-0.9l6,-1.6l6,-0.9l1.5,-1.3l2,-3.8l1.5,-0.5l5,1.4l7,0.4l3.1,1.2l4.4,2.9l6.5,1.9l12.5,1l9,4.4l6.5,1.6l4.5,-0.1l2,0.9l9.7,8.9l2.3,4.7l4,3.8l2.9,6.5l-0.4,3l-3.8,9.5l-4.3,5.5l-1.5,1l-5,1.5l-3.4,4.5l-1.5,1.2l-10.5,2.7l-2,0.1l-4.5,-1.4l-4.2,2.9l-3.3,0.6l-15.5,-1l-5.5,-1.1l-5,0.2l-4,-2.7l-4.5,-1.7l-4.5,-3.1l-4.3,-2.2l-4.2,-4.5l-6.5,-2.6l-3.5,-0.4l-3,0.6l-4,1.6l-4.5,-0.4l-7.5,2.9l-4,2.2l-4.5,1.7l-5,3.5l-5,1.9l-11.5,5.8l-6.7,1.8l-9.3,6.9l-7,-0.2l-10.5,1.7l-11.5,0.1M186.7,1672.2l-17.5,-0.5l-7.5,-3.5l-2.5,-1.9l-5,-5.6l-6,-2.5l-0.7,-1.5l-0.1,-5l-1.1,-4l0.6,-2l3.7,-3.8l3.1,-5.2l2.5,-10l-0.3,-2.5l-2.3,-5.5l0.5,-14.5l-1.5,-11.5l0.9,-5l-0,-5.5l2.4,-6l-1.7,-6.5l3,-7l0.5,-9l2.6,-7.5l4.8,-6.4l2,-1.4l7.8,-2.7l6.7,-0l7,2.8l10,0.6l2,0.8l3,3.2l5.5,4.4l5,8.7l4.5,4.5l4.2,6l1,2l1.2,5.5l4,8.5l5,6.5l2.7,2l5,0.6l2.5,1.1l1.3,1.3l2,3.5l3.6,2.5l2.6,0.7l5.5,-0.7l6.5,3.5l6,-0.2l4,0.5l7,-3.3l6.8,-1.6l5.2,-3.4l7,-0.8l3.5,0.4l2.5,1.1l5,3.5l8,1.8l10,0.7l9,4.4l7.5,2.3l4.5,0l1.5,0.6l8.6,8.4l1.9,3.6l2.8,3.9l2.3,7l-0,2l-2.2,4.3l-1.1,4.7l-1.9,3l-7.4,4.6l-4.4,5.4l-9.1,2.4l-2,-0l-3.5,-1.8l-2,-0.2l-1.9,1l-2.6,2.6l-2.5,0.8l-6,-1.5l-9.5,0.2l-5.5,-1l-4,0.2l-4.5,-2.7l-5.3,-2l-6.9,-5l-3.7,-4l-6.5,-3.4l-3.5,-0.6l-8,0.9l-5.5,-1.4l-1.8,0.5l-3.4,3l-3.8,1.7l-3.5,2.6l-4.5,2.1l-4,3.1l-6.2,2l-11.3,6.5l-7,2l-8,5.3l-19,2.3M180.2,1670.7l-6.5,-0.7l-4.5,0.3l-2.5,-0.8l-6.5,-3.5l-5.5,-6.2l-5.3,-2.6l-0.8,-2l-0.2,-8l3.3,-4.5l3.4,-6.5l2.3,-9.5l-0.2,-2.5l-2.3,-6l0.2,-18l-1.1,-7.5l0.8,-10l2.2,-6.5l-0.8,-6.5l2.1,-6.7l2.9,-15.3l5.6,-5.9l2,-1.1l3.5,-0.1l6,1.7l15.5,-1.3l4,0.1l2.5,1.1l7.9,6.6l1.4,2.5l1.6,5l5.9,5.5l8.4,17.5l1.8,5.5l5.9,6.6l3,2.1l6.5,0.8l4.4,5.5l6.1,3.5l5,1.1l3.9,3.4l7.1,0.5l4.5,1.8l2.5,0l4,-2.2l2.7,-4.2l1.9,-1.5l14.3,-5.1l5,-0.3l2.5,0.9l3.5,3.1l2,1l6.5,1.7l11,0.9l8.5,3.8l8.5,2.9l6.5,0.9l2.5,2l3.6,4.5l4.7,7.5l1.2,8l-1.3,8l-1.1,2.5l-7.7,5.6l-4.3,4.9l-7.7,2.2l-2,-0l-3.5,-1.8l-2.5,-0.2l-2,0.8l-3.5,3l-2,0.6l-5.5,-2.2l-10.5,0.8l-8,-0.9l-9.8,-4.3l-9.2,-8.4l-9,-6.7l-2,-0.3l-5.5,0.8l-7.5,-1.3l-3.5,1.1l-5,3.5l-5,1.4l-2.8,3.8l-7.2,5l-5.5,1.5l-4.5,3.8l-6.5,3.9l-7,2.4l-7.5,4.1l-10,1.7l-16,1.2M181.2,1668.7l-3,0.3l-5,-0.9l-4.5,0.4l-6.5,-2.3l-2.7,-2l-4.3,-5.3l-4.8,-2.7l-0.8,-2l0.5,-6.5l6,-12l2,-8.5l-0.3,-3.5l-2.2,-5.5l0.1,-19l-1.1,-6.5l0.7,-9.5l2.1,-7l-0.1,-7.5l3.9,-14l0.8,-5.7l1.5,-1.8l5.5,-3.3l7.5,1.5l14.5,-2.6l6,0.1l3,1.3l6.7,6l1.8,6.9l6.2,5.6l4.2,7.5l1.9,6l2.7,4.5l2,5l5.5,6.8l4,2.7l6,1.1l3.1,3.4l5.7,4l5.2,5.4l5,3l13.5,4.6l8,0.2l2.5,-1.4l1.5,-1.8l0.7,-8l1.3,-2l10,-4.1l5.5,-0.8l2.5,0.9l4,3.5l6.5,2.3l11,0.7l19,7l6.5,1.1l1.8,1.5l4,5.5l3.1,5.5l1.2,8l-0.2,6l-0.8,2.6l-5,3.7l-6.5,6.4l-6.5,2.1l-2,0l-4,-1.5l-2.5,0l-7.5,3.9l-5.5,-2.2l-11,0.1l-9,-1.2l-7.3,-3.4l-7.2,-7.3l-3.9,-3.2l-1.7,-3.5l-1.3,-1.5l-5.6,-3.7l-3,-0.5l-13,2l-7,5.6l-5.5,1.4l-5,2.8l-3.7,4l-8.1,4.5l-3.7,4.4l-5.5,3.7l-14,6.2l-12,2.2l-8,-1.6l-5.5,2.1M178.7,1666.8l-2.5,0.1l-14,-1.8l-2.5,-1.9l-3.5,-4.7l-4.2,-2.8l-1,-1.5l0.9,-7l5.5,-12l1.8,-8.5l-0.3,-3.5l-2.2,-5.5l0.1,-18.5l-1.1,-7l0.5,-8.5l2,-7.5l0.3,-8l2.2,-8.5l3,-5l0.4,-4l1.2,-1.5l4.7,-1.7l8,1.7l4,-2.7l3,-1l5.5,-0.9l6.5,0.6l2.5,1l4.4,3.9l3,8l4.8,4l4.9,7.5l1.1,2.5l1,5.5l3.2,5l3,6.5l5.1,6l8.3,3.5l9.3,6l3.2,6l3.3,4.5l1.4,5l2.8,4l0.3,1.5l-1.2,2.5l-6.1,7.5l-4.5,1.6l-4.5,2.8l-4.3,1.5l-3.4,4.5l-6.9,4.2l-4.2,5.3l-7.8,5l-12,4.7l-4.5,0.2l-5,1.1l-7.5,-1.6l-8.5,1.7M329.2,1655.7l-2.5,0.3l-5,-2.3l-5.5,-0.2l-5.5,-1.5l-5.5,0.6l-3,-0.4l-3.7,-2l-4.8,-3.9l-1.8,-2.1l-2.1,-6.5l-4.5,-5l-0.7,-2.5l3.7,-8.5l5.9,-8l0.2,-2l-1.6,-3l-0.1,-2l0.7,-2l2,-2l2.3,-0.9l3.5,-0l2.5,0.9l4,3.1l7,1.9l4,0.6l5,-0.6l2.5,0.4l17.5,6.7l7,1.8l6.1,6.7l1.6,3.5l1.8,7.5l0.2,6l-0.8,2l-3.3,2.3l-6,6.5l-2,1.4l-5,1.2l-5,-1.1l-3,0.1l-2.5,0.9l-3.5,2.3M177.2,1665.2l-2.5,0l-6,-1.3l-4.5,0.4l-2,-0.4l-2.2,-1.7l-2.8,-4.2l-3.7,-2.8l-1.1,-1.5l0.9,-7l2.3,-6l2.9,-5.5l1.7,-9l-0.4,-3.5l-2.2,-5.5l-0.5,-9l0.6,-9l-1.1,-7l0.4,-8l1.8,-7l0.9,-10l1.5,-5.5l1.5,-3.1l5,-5.9l1.5,-1.2l2,-0.5l5.5,1.2l2.5,-0.1l2,-1l3.8,-3.4l5.2,-0.8l8,1.7l4,3.1l3.6,7.5l4.6,4l4.6,8l1.9,7l4,6.5l2.4,6.4l4.1,5.1l1.9,1.5l6.8,2.5l4.7,4.3l5,2.7l1.1,2.6l0.9,8.2l2.9,5.3l0.5,2l-0.5,1.1l-3,2.7l-5,8.3l-5.5,2.4l-3.9,5l-6.5,4.5l-4.5,5.5l-8.2,5.8l-10,3.4l-5,-0.2l-5,1.3l-7,-1.2l-10,1.3M328.7,1654.4l-2.5,-0.1l-5,-2.8l-4.5,-0.2l-5.5,-1.5l-5,0.5l-2,-0.3l-1.5,-0.9l-2,-2.5l-4.5,-1.3l-2,-1.8l-1.3,-6.6l-2.2,-4l-0.3,-2l1.8,-3.4l6.5,-7.9l1.8,-5.2l1.7,-2l10,-1.9l7.5,0.4l6,-0.4l5.5,1.5l4.5,2.2l11,4l3.5,3.9l4.3,3.3l1.1,2.5l1.4,6.5l-0.3,4l-1.3,3l-3.4,3.5l-2.5,4l-1.7,1.5l-3,1l-6.5,-0.4l-4,0.5l-5.5,3.1M193.7,1663.7l-6,-0.7l-12.5,1.1l-7,-1.7l-5.5,0.4l-2,-1.3l-2.7,-4.3l-3.6,-3l-0.7,-2l1.3,-7l1.8,-4.5l3.4,-6l1.2,-8.5l-0.3,-3.5l-2.3,-6l-0.7,-8.5l0.7,-9l-1.1,-7.5l0.3,-8l2.6,-11l0.2,-5.5l0.7,-3l2.3,-4.7l5.5,-4.1l2.5,-0.9l5,0.2l2.5,-0.5l7,-4.2l2,-0.5l9,1l2,1l2,2l3.5,7l4.7,4.6l3.2,9.5l6.5,11.2l2.7,7.8l5.3,6.8l2,1l4.5,1l2,1.6l7,10.6l1.9,9l-0.2,2l-1.2,2.5l-6.2,8l-11.8,11.9l-3.7,4.6l-4.3,3.3l-3.2,3.2l-2.3,1.3l-6.5,1.9l-6,-0.1l-5.5,1.4M328.2,1652.7l-2,-0.4l-4,-2.9l-5,-0.1l-5.5,-1.4l-5,-0.3l-1.2,-0.9l-2.4,-3.5l-1.9,-0.8l-3.6,-0.2l-1.4,-1.3l-1.6,-8.2l0.5,-2l4.6,-7.2l5.2,-2.8l2.7,-4l4.6,-3.3l2.5,-0.5l10.5,-0.3l5.5,0.8l14.7,6.2l7.5,8l1.1,7l-0.4,3.5l-1.3,2l-3.2,2l-2.7,5l-2.8,1.4l-10.5,1.3l-5,2.9M178.2,1662.8l-4,0.3l-6.5,-2l-5,0.2l-1.3,-1l-2.2,-3.5l-3,-2.5l-1,-1.5l-0,-2.5l1,-4.5l2,-4.5l3.6,-5.9l1,-9.1l-0.5,-4l-2.2,-6l-1.1,-7l0.8,-8.5l-1.2,-9l0.3,-8.5l2.9,-11l0.3,-6.5l1.6,-3.7l1.5,-1.7l3,-1.4l9,-1.4l8,-3.9l11,-1.3l2,0.8l1.5,1.5l2.9,7.1l4.6,4.7l2.9,8.3l7.9,13l1.7,7.9l3.6,7.6l1.9,2l9.4,5.3l2,1.7l3,5.5l1,6l-5.5,8.8l-4.5,5.2l-3,2.5l-3.2,5l-12.3,13.7l-7,2.2l-6,0.1l-5.5,1.3l-15.5,0.3M328.7,1649.2l-1.5,0.2l-4.5,-1.9l-5.5,0l-4.5,-1.4l-3.1,-1.5l-3.7,-3.5l-6.4,-3l-1.1,-2l-0.3,-2.5l3.1,-8l1.6,-1l5,-1.4l4,-5l2,-1.5l4,-1.3l6.5,-0.9l6.5,0.7l14,6.3l5.9,7.2l0.4,3.5l-0.5,3.5l-3,3l-2.1,5l-1.8,2.1l-3,1l-9,1.1l-3,1.3M184.7,1661.7l-10,0.4l-7,-2.4l-4.2,-0.5l-6.9,-7l-0.1,-2.5l0.7,-2.7l5.8,-9.8l1.1,-11l-0.3,-3l-3.8,-14l1,-8l-1.4,-10l0.2,-7l3.4,-11l0.3,-6.5l1.7,-2.8l2,-0.8l3.5,0.5l2,-0.3l6.5,-2.5l5,-4.4l6,-0.2l5.5,-1.8l1.5,0.7l0.9,1.2l1.6,5.9l5,5.6l2.4,5.5l4.3,7l1.4,5l3.4,3.9l0.4,2.1l-0.4,6l1.1,4l5.4,6.3l7.1,5.2l4.7,8l0.7,3l-1.5,4.5l-4.5,3.4l-4.5,5.6l-2,4.7l-3.5,3.4l-3.3,6.4l-4.4,6l-2.3,1.2l-4.5,1l-5.7,0.3l-5.8,1.2l-8.5,0.3M326.7,1646.3l-9.5,-0.5l-4,-1.7l-4,-4.1l-7.1,-4.8l-0.5,-3.5l1.1,-3.8l1,-0.8l4.9,-1.4l4.1,-4.1l5.7,-3.9l4.8,-1.4l3,-0.1l5,0.9l5.5,3.2l6,2.3l4.7,6.1l0.6,2l-4.8,12.1l-1.5,1.4l-1.5,0.5l-8,-0l-5.5,1.6M176.7,1661.2l-3.5,-0.3l-9.5,-3.9l-4.5,-4.3l-0.9,-1.5l0.5,-3.5l5.4,-8l1.2,-7l-0.2,-8.5l-1.6,-7.5l-2.6,-7.5l1.4,-7.5l-0.4,-6l-1.4,-5.5l0.5,-7l5.5,-13.6l5,-0l2,-0.6l6.5,-5.1l5,-5.3l2,-0.3l6,0.5l1.5,0.8l7,7.6l2,5.5l5.4,6.5l1,2.5l0.5,5.5l2.4,4.5l-0.1,5.5l0.9,3l2.4,4l8.4,10.5l3.5,6l0.1,2.5l-0.9,2.5l-1.8,2.5l-4.8,4l-0.9,6.3l-2.8,3.2l-3.4,11l-3.4,4.4l-4.5,1.5l-13,1.9l-16,0.7M326.2,1644.3l-8,-0.3l-3,-0.9l-8.4,-7.9l-1.7,-3l0.5,-2l3.5,-2.2l3.5,-3.2l4.5,-2.4l3.5,-3.3l3,-1l8,1.4l4,2.8l4.1,1.9l2.8,3l1.6,3.5l-1.1,4.5l-1.8,2.5l-15,6.5M185.2,1660.2l-9.5,0.1l-3,-0.6l-8.6,-4.5l-3,-4.5l0.3,-3l5.3,-8.5l1.5,-7l-3.1,-16l-2.6,-6.5l0.1,-2l1.9,-6.5l-0.5,-5.5l-1.8,-4.5l-0.2,-2l1.3,-7l4.5,-7.2l1,-0.6l4,-0.4l2,-0.9l9.5,-10.3l2,-1.4l1.5,-0.3l5,1.4l5.9,4.3l1.6,2l1.4,4.5l4.6,4.3l1.8,2.7l0.7,2.5l0.2,4.5l1.6,6l-2.3,6.5l4.5,4.1l2.5,3.9l2.2,15l-2.4,7.5l1,6l-1.6,3.5l-0.4,5.5l-1.5,6l-1.9,3.8l-2,1.6l-3.5,1l-13.5,2.1l-6.5,0.5M326.2,1642.2l-8,-0.4l-2.5,-0.9l-4.6,-4.8l-1.8,-3.5l0.8,-2.5l2.7,-2.8l10.5,-5.9l9,1.4l7,4.5l2,3.3l-0.3,2.5l-1.2,1.6l-13.5,7.4M188.7,1659.2l-14.5,-0.1l-2,-0.9l-3,-2.6l-3,-1.4l-1.5,-2l-0,-4.5l3.5,-5.5l3.5,-4l0.4,-5.5l-0.4,-2.5l-3.9,-10l-1.3,-6l-2,-4.5l0.1,-2.1l2.4,-5.9l-1.1,-7l-2.2,-5l0.4,-2.2l1.5,-2.8l1.5,-1.2l5,-1.6l3,-2.6l4.3,-5.6l2.1,-5l2,-3l2.1,-1.8l2.5,-0.7l4,0.9l3.5,2.6l2.2,2.5l2.2,4.5l4.6,4.5l1.8,3l1.9,12l-0.7,2l-2.2,3l-0.4,2l1,2l3.4,2.5l1.4,2l0.3,2l-0.5,7l3,10.5l-1.3,12.5l-0.1,5.5l-1.4,7.5l-1.2,2.4l-2,1.6l-3,0.9l-16,2.6M327.2,1639.8l-9,-0.6l-2,-0.7l-2,-1.9l-1.5,-2.5l-0.5,-2l0.4,-1.5l2.5,-2.2l6.5,-3.4l2,-0.5l6.5,0.7l7.5,4.4l0.8,1.5l-0.8,1.8l-5,2.6l-5.5,4.2M190.2,1658.2l-8,0.4l-7.5,-0.7l-1.9,-1.3l-2.1,-3.1l-2,-1.6l-0.6,-1.8l1.7,-5.5l4.8,-5l0.9,-2.5l-1.4,-10.5l1.2,-5l-0.9,-4.5l0.8,-5.5l-1.5,-3.8l-2.5,-0.6l-1,-1.1l0.4,-4l-0.6,-5l0.7,-1.2l3,-0.7l1.4,-1.6l1.9,-8l6.1,-11.5l0.9,-6l2,-2.5l2.7,-0.9l2.5,0.4l2.5,1.8l5,7.1l4.7,5l1.6,3l1.3,10.5l-2.6,5l-0.4,3l0.9,2.4l3.6,4.1l-0.1,9.5l4.4,11l-1.5,7l0.1,8.5l-2.3,10l-1.9,1.5l-3,1l-13.3,2.5M326.7,1637.3l-2,-0l-6,-2l-1.6,-2l0.4,-2l2.5,-2.5l2.7,-1.5l2.5,-0.2l3,0.8l1.4,1.3l0.8,2.5l-1.7,4l-1.9,1.6M190.7,1657.2l-10,0.4l-5,-0.9l-1.5,-2l-0.3,-4.5l-1.4,-4l0.5,-1.5l3.8,-4l1.3,-3.5l-1.4,-10l2.7,-6.5l1.3,-8.5l-0.6,-5l1.6,-6l-2.6,-9l-0.2,-4.5l5.9,-12l1.2,-7l1.2,-1.6l2,-0.7l2,0.5l1.4,1.3l4.2,6l4.5,5l2.2,4.5l0.3,5l-2,8l-0.2,4.5l0.7,2.5l2.5,4.5l0.2,5.5l0.7,3.5l4.6,11l-1.7,6l0.3,8.5l-3.1,9.5l-1.3,1.2l-3,1.3l-11,2.4M325.2,1633.4l-1,-0.1l-0.8,-1.2l-0,-1l0.8,-0.9l1.5,1l0.1,1.4l-0.6,0.7M190.2,1656.3l-10,-0l-2.5,-0.8l-0.8,-1.3l0.1,-4l-0.7,-3.5l2.5,-5l1.5,-5l0.1,-3l-1.4,-6l3.2,-6l0,-5.5l1.8,-12.5l-0.4,-5l-2.4,-6.5l-0.1,-3.5l5.2,-13l1.3,-6l1,-1.2l1,-0.2l2,1.2l4.4,6.3l3.1,3.1l2.1,4.4l0.3,4.5l-2.3,7l0.5,7.5l2.3,10.5l4.2,9.5l2,6l-1.1,5l0.8,6.5l-0.2,2.5l-4.6,9l-3.3,2.5l-9.7,2.6M188.7,1655.2l-8.5,-1.5l-0.7,-1.5l-0.3,-3l3.3,-15l-1.3,-6.5l3.1,-5.5l0.3,-7l2.4,-9.5l-0.4,-8.5l-2,-5.5l-0.1,-7l4.4,-13l1.2,-1l2,1.7l3,5l3,3.2l0.8,2l0.1,5.5l-2.7,5l0.1,5.5l-2.4,3.5l-0.2,1.5l11.2,19l0.8,4l-0.4,6l1.1,7l-0.9,3.6l-5.5,8l-2,1.2l-9.5,2.8M191.7,1590.3l-1.5,-0.1l-2.5,-2.6l-1.3,-2.9l0.8,-4.2l2.5,-5.2l1,-1l1.4,1.4l1.2,5.5l2.1,2.5l0.5,1.5l-0.7,2.4l-3.5,2.7M188.7,1653.3l-2,-0.1l-4,-1.4l-1.3,-1.6l1.7,-5.5l1.5,-10.5l-0.9,-6l6,-11.1l2.5,-2.1l2.5,-0.3l3,1.5l5.8,7l0.5,2.5l-0.3,5.5l1.2,9l-3.2,6l-3,3.6l-10,3.5M187.2,1650.7l-2.5,-0.3l-0.9,-0.7l2.6,-6l0.3,-15.2l5,-8.1l1.5,-1.2l2,-0.3l4.8,3.3l1.8,2.5l0.9,10.5l-0.4,4.7l-2,4.3l-2.7,3l-10.3,3.5M195.2,1641.3l-3,-0.1l-1.8,-1.5l-0.8,-2l-0.8,-6l1.1,-4l3.3,-4.4l1.5,-0.8l2.2,0.7l2,2l1.8,8.5l-0.4,2.1l-1.5,2.5l-1.5,1.8l-2,1.1M195.2,1635.4l-1.5,-0l-1,-0.6l-1.8,-3l0.5,-2.5l2.3,-1.9l1.1,0.4l2.1,5l-0.3,1.5l-1.5,1.2" fill="none" stroke="#000" stroke-width="1.2" stroke-linejoin="round"/>
<path d="M255.9,1534.8h1.4v1.4h-1.4zM191.9,1665.5h1.4v1.4h-1.4zM293.9,1591.9h1.4v1.4h-1.4zM351.6,1664.3h1.4v1.4h-1.4zM225.2,1540.2h1.4v1.4h-1.4zM248.8,1689.6h1.4v1.4h-1.4zM316,1621.8h1.4v1.4h-1.4zM314.7,1501.6h1.4v1.4h-1.4zM232.5,1571.5h1.4v1.4h-1.4zM269.1,1675.7h1.4v1.4h-1.4zM335,1626.1h1.4v1.4h-1.4zM242.2,1618h1.4v1.4h-1.4zM330.6,1619.2h1.4v1.4h-1.4zM172.7,1580.5h1.4v1.4h-1.4zM294.5,1523.1h1.4v1.4h-1.4zM245.1,1512h1.4v1.4h-1.4zM293.1,1533.3h1.4v1.4h-1.4zM235.3,1584.4h1.4v1.4h-1.4zM211.1,1654h1.4v1.4h-1.4zM285.1,1505.3h1.4v1.4h-1.4zM338.9,1518.6h1.4v1.4h-1.4zM322.2,1615.9h1.4v1.4h-1.4zM296.8,1671.5h1.4v1.4h-1.4zM285,1516.5h1.4v1.4h-1.4zM329.7,1606.8h1.4v1.4h-1.4zM233.8,1594.3h1.4v1.4h-1.4zM204.3,1535.3h1.4v1.4h-1.4zM266.3,1572.2h1.4v1.4h-1.4zM352,1529.2h1.4v1.4h-1.4zM350.8,1536.8h1.4v1.4h-1.4zM287.9,1524.8h1.4v1.4h-1.4zM320,1507.6h1.4v1.4h-1.4zM222,1679.4h1.4v1.4h-1.4zM219.5,1543.2h1.4v1.4h-1.4zM157,1507.1h1.4v1.4h-1.4zM364,1695.5h1.4v1.4h-1.4zM214.8,1688.7h1.4v1.4h-1.4zM159.8,1557.7h1.4v1.4h-1.4zM316.5,1623.8h1.4v1.4h-1.4zM326,1613.6h1.4v1.4h-1.4z" fill="#000"/>
<rect x="148.3" y="1483.3" width="127" height="127.5" fill="none" stroke="#2e9a55" stroke-width="1.6"/>
<rect x="148.3" y="1615.4" width="127.5" height="72.9" fill="none" stroke="#5a9bea" stroke-width="1.6"/>
<rect x="282.5" y="1613.4" width="99.8" height="74.9" fill="none" stroke="#f7a24a" stroke-width="1.6"/>
<rect x="112.7" y="1439.2" width="290.1" height="288.9" fill="none" stroke="#1a1a1a" stroke-width="1.8"/>
<path d="M112.7,1618.7h-4 M112.7,1603.5h-4 M112.7,1592.7h-4 M112.7,1584.4h-4 M112.7,1577.5h-4 M112.7,1571.8h-4 M112.7,1566.8h-4 M112.7,1562.3h-4 M112.7,1558.4h-7.5 M112.7,1532.4h-4 M112.7,1517.2h-4 M112.7,1506.4h-4 M112.7,1498.1h-4 M112.7,1491.2h-4 M112.7,1485.5h-4 M112.7,1480.5h-4 M112.7,1476h-4 M112.7,1472.1h-7.5 M112.7,1446.1h-4 M112.7,1636h-7.5 M112.7,1642h-4 M112.7,1645h-4 M112.7,1647h-4 M112.7,1649h-6 M112.7,1651h-6 M112.7,1653h-6 M112.7,1655h-4 M112.7,1657h-4 M112.7,1660h-4 M112.7,1666h-7.5 M112.7,1679h-4 M112.7,1695h-4 M112.7,1707h-4 M112.7,1716h-4" fill="none" stroke="#1a1a1a" stroke-width="1.4"/>
<rect x="104.7" y="1648" width="8" height="6" fill="#1a1a1a"/>
<path d="M250.9,1728.1v8 M273.4,1728.1v4.5 M286.5,1728.1v4.5 M295.9,1728.1v4.5 M303.1,1728.1v4.5 M309,1728.1v4.5 M314,1728.1v4.5 M318.4,1728.1v4.5 M322.2,1728.1v4.5 M325.6,1728.1v8 M348.1,1728.1v4.5 M361.2,1728.1v4.5 M370.6,1728.1v4.5 M377.8,1728.1v4.5 M383.7,1728.1v4.5 M388.7,1728.1v4.5 M393.1,1728.1v4.5 M396.9,1728.1v4.5 M400.3,1728.1v8 M191.2,1728.1v8 M199.2,1728.1v4.5 M203.2,1728.1v4.5 M206.2,1728.1v4.5 M208.2,1728.1v4.5 M210.2,1728.1v4.5 M212.2,1728.1v7 M214.2,1728.1v7 M216.2,1728.1v4.5 M218.2,1728.1v4.5 M220.2,1728.1v4.5 M223.2,1728.1v4.5 M227.2,1728.1v4.5 M235.2,1728.1v8 M173.2,1728.1v4.5 M155.2,1728.1v4.5 M141.2,1728.1v4.5 M131.2,1728.1v4.5 M123.2,1728.1v4.5" fill="none" stroke="#1a1a1a" stroke-width="1.4"/>
<rect x="209.2" y="1728.1" width="8" height="7" fill="#1a1a1a"/>
<text x="97.7" y="1479.6" font-size="23.5" fill="#141414" text-anchor="end">10<tspan font-size="16" dy="-11">5</tspan></text>
<text x="97.7" y="1565.9" font-size="23.5" fill="#141414" text-anchor="end">10<tspan font-size="16" dy="-11">4</tspan></text>
<text x="96.7" y="1659" font-size="23.5" text-anchor="end" fill="#141414">0</text>
<text x="213.2" y="1765" font-size="23.5" text-anchor="middle" fill="#141414">0</text>
<text x="308" y="1765" font-size="23.5" fill="#141414">10<tspan font-size="16" dy="-11">4</tspan></text>
<text x="513.5" y="1472.4" font-size="21.8" fill="#141414" textLength="44.2" lengthAdjust="spacingAndGlyphs">MPP</text>
<text x="532.2" y="1509.7" font-size="21.8" fill="#141414" textLength="54" lengthAdjust="spacingAndGlyphs">31.1%</text>
<text x="490" y="1681" font-size="21.8" fill="#141414" textLength="64" lengthAdjust="spacingAndGlyphs">47.0%</text>
<text x="642.5" y="1679.4" font-size="21.8" fill="#141414" textLength="61.5" lengthAdjust="spacingAndGlyphs">16.3%</text>
<text x="451.2" y="1717.5" font-size="21.8" fill="#141414" textLength="80.5" lengthAdjust="spacingAndGlyphs">ST-HSC</text>
<text x="597.3" y="1717.5" font-size="21.8" fill="#141414" textLength="80.2" lengthAdjust="spacingAndGlyphs">LT-HSC</text>
<path d="M506.6,1687.5l-3.5,0.2l-6,-0.8l-3,-0.9l-2.3,-1.5l-4.2,-7.3l-2,-1.2l-3.5,-0.8l-1.4,-1.2l-1.6,-4.6l-5.5,-9.4l-0.4,-2.5l0.9,-2l4.3,-5l2.6,-5.6l0.8,-2.9l-0,-5.5l2.6,-6l0,-5l-1.3,-7l1.6,-8.5l-0.2,-5.5l1.5,-5.5l-1.1,-13.5l4.5,-12.5l1.9,-12.5l1.3,-2.1l4.2,-4.4l1.8,-4.6l1.2,-1.4l7.3,-3.5l5.5,0.3l2.5,-0.5l4.5,-3.8l2,-0.9l13.5,2.8l11,7.5l9.7,11.2l3.8,9l4,5l2,3.6l5,2.8l6,4.9l3.8,5.1l1,3l-0.6,8l-1.2,2l-4.1,4l-1.8,2.5l-1.7,4l-1.6,6.5l-2.2,4.5l7.6,8l10.8,3.3l3,-0.1l10.5,-3.3l7,-4.6l12.5,-4l6.2,-0.9l6.3,-3.5l9.5,-2.6l5.5,-3.7l6,-0.5l1.9,-1.7l1.1,-3l0.2,-4l-1.4,-6l2.7,-7.5l1.4,-1.9l1.5,-1l7,-1.4l2,0.7l2.5,1.8l4.1,6.3l1.5,8.5l-0.6,1.5l-3,3.5l0.1,1.5l1.1,2l2.7,3.7l9.3,10.3l1.7,1.2l5,1.8l2.5,2.9l4.1,2.7l2.1,4l0.4,6.5l-0.4,5.5l3.2,6l-0.2,2l-1.1,2.5l-7.2,8.5l-2.5,1.1l-5,0.5l-2.5,0.9l-6,4.6l-3.5,3.8l-2,0.9l-7.5,-0.2l-12.5,3.7l-7.5,-0.5l-18,0.7l-25,-8.9l-12,-5.5l-8,-0.9l-3,0.5l-4.5,2.2l-4.6,0.4l-6.4,2.6l-6.5,0.2l-4,0.9l-1.5,0.9l-3.5,4.1l-7,2.7l-5,-0.2l-6.5,1.7l-6,-2.4l-6,0.6l-5,-0.7l-9.5,2.6M505.1,1686.6l-5,0.2l-5.9,-1.7l-2.3,-2l-2.1,-4.5l-1.6,-2l-6.1,-2.6l-6.8,-13.9l-0.5,-2.5l0.8,-2l4.1,-5l2,-3.7l1,-3.9l-0.1,-5.9l2.4,-6l0.1,-5l-1.3,-8l2,-8l-0.4,-5.5l1.4,-5.5l-1.2,-13l5,-13l1.6,-12l1.3,-2l4.4,-4l3.9,-5.4l5,-2.4l5,0l4,-1.3l5,-3.8l1.5,-0.6l13.5,2.9l9.6,6.5l9.7,11l4.1,9l3.3,4.5l2.1,4l5.6,3.1l5.5,4.4l3.9,5l0.6,2.5l-0.6,8l-1.2,2l-4.2,4.5l-4.2,6.5l-1.9,6.5l-2.5,5l0.6,1.5l4.5,1.4l4,4.9l7,1.5l5,2.2l2.5,-0.1l11.5,-3.5l7.1,-4.4l11.9,-3.5l7.5,-1.1l9,-4.7l7.5,-2.1l4,-2.7l6,-0.9l2.1,-2l1.1,-3.5l0.4,-5l-1.1,-6l1.2,-4l1.6,-3l1.6,-1.5l2,-0.7l2.5,0.1l4,2l5,4.5l0.9,1.6l1.5,6.5l-0.5,1.5l-3,3.5l-0.2,1.5l0.9,2l7.4,9.5l5.7,6l1.7,1.2l4.5,1.8l6.6,7.4l1.8,8.5l-0.1,5l3,5.5l-0.2,2l-0.9,2l-6.8,8.2l-2,0.7l-5,0.5l-2.5,1l-6.1,4.6l-3.4,3.7l-1.5,0.9l-2,0.3l-6,-0.5l-12,3.9l-6.5,-0.5l-6.5,0.7l-6,-0.6l-5,0.8l-3,-0.3l-23,-8.8l-12,-6.4l-2,-0.5l-9.5,0.7l-4,2.1l-5,0.9l-6.5,2.9l-6,-0l-4.5,0.8l-2,1.1l-3.5,4l-4.5,0.7l-3,1.2l-4,0.2l-6,1.4l-6,-1.8l-6.5,0.7l-5,-0.7l-11,2.6M503.1,1686.0l-4,-0.3l-4.5,-1.6l-2,-2l-3.1,-5.8l-2,-1.5l-4.5,-2l-4.6,-9l-2.1,-6.5l0.7,-2l4.5,-6l1.5,-4.5l0.1,-8l1.9,-4.5l0.5,-3l-1.3,-12l2.7,-8.5l-0.8,-4.5l1.1,-6l-1.2,-12.5l5.2,-13l1,-4.5l0.5,-6.5l1.3,-2l8,-7.5l8.5,-2l12,-7.1l13,2.7l9,6.1l9.6,10.8l8.9,16.7l2,1.8l5.5,3l5,4.6l2.9,3.5l0.4,2l-0.9,8.5l-10,12.5l-4.3,12.5l0.9,1.9l4,0.7l1.5,0.8l3.5,4.5l1.9,0.7l5.6,0.6l5,2.8l2.5,-0.1l11,-3.1l11,-5.5l8.5,-2.5l8,-1.1l10.5,-5.8l6.5,-1.5l4,-2.1l6,-1.3l2.3,-1.8l0.9,-2l0.9,-7.5l-0.8,-6.5l0.7,-3l2.8,-4l1.7,-0.7l1.5,0l4.1,2.2l4.9,5.3l1.5,2.7l0.4,3.5l-3.2,5l0,1.5l0.9,2l7.3,9.5l7.1,7l5.2,3l5.3,7l2.2,8.5l0.3,5l2.7,5l-1.2,3.5l-5.6,6.8l-2,0.9l-4.5,0.5l-3,1.4l-7,5l-3.5,3.6l-2.5,0.6l-6,-0.6l-11.5,4l-7,-0.4l-6.5,0.9l-6,-1.1l-4.5,1l-3,-0.2l-17,-6.2l-11,-5.7l-6,-3.9l-3,-0.7l-4.5,1l-6.5,0.2l-3.5,2.3l-4.5,1.3l-6,3l-6,-0.3l-5,0.8l-2,1l-3.5,3.9l-4.5,0.3l-10,2.7l-2.5,0.2l-6.5,-1.2l-5.5,0.7l-5,-0.7l-5,1.3l-4.5,0.1l-4,1.7M503.1,1685.0l-3,0.1l-5,-1.7l-1.6,-1.5l-2.9,-5.7l-6.6,-4.3l-4.2,-7.5l-1.7,-6l0.5,-3l3.7,-5l1.1,-2.5l0.7,-4.5l-0.2,-6l2.2,-7l-0,-5.5l-1.1,-7.5l3.3,-9l-1.1,-4l0.8,-6l-1,-12.5l6.4,-16.5l0.7,-6l1.5,-2.5l6.6,-6.1l2.5,-1l6.6,-0.9l3.9,-3.5l8,-4.5l12,2.4l9,6.1l2.1,2.5l2.4,4.3l3.5,2.4l1.5,1.7l8.4,15.6l2.6,2.2l5.5,3l7.1,7.7l0.4,1.5l-0.7,8l-3.7,5.5l-6.6,7.5l-4.3,12.5l-0.1,2l0.6,1l5.8,1.4l3,3.6l2,1.2l7.5,0.9l3.5,3.3l1.5,0.6l7,-2.3l6.5,-1.2l8,-3.5l4,-2.4l6,-2.1l10,-1.5l10.5,-6.4l7,-1.4l9,-2.7l4,-2l1,-1.9l-0.3,-4l0.7,-7.5l-0.4,-5.5l2.2,-3.5l1.4,-0.9l1.5,-0.1l3,1.6l6.4,8.4l-0.1,2l-3,5l0,2l1.1,2.5l4.1,4.5l2.9,4.5l4.6,3.4l3.5,4.1l4.2,3l5,7l2.3,8l0.5,6l1.9,4l-0.9,2.8l-4.9,5.7l-6.1,1.5l-9.7,6l-4.3,3.7l-7,-0.2l-12,4.3l-6.5,-0.3l-6,1.1l-7,-1.6l-4,1l-2.4,-0.1l-3.6,-1.6l-5.5,-1.2l-7.5,-2.8l-6,-4.2l-5.6,-2.1l-4.4,-3.6l-4.5,-1.2l-5.5,1l-7.5,0l-3.7,2.8l-7.8,4.3l-2.5,0.4l-5,-1l-4.5,0.9l-2.5,1.2l-3.5,3.7l-4.5,0.4l-9,2.7l-10.5,-0.8l-4.5,0.5l-5,-0.5l-5,1.2l-4.5,-0.3l-4,2.1M502.6,1684.1l-4,-0.2l-3.9,-1.9l-3.1,-6l-6.9,-5.5l-3.6,-5.5l-1,-3l-0.3,-5.5l4.2,-7.6l0.7,-4.9l-0.1,-6.5l1.9,-6.5l0,-6l-1,-5.5l0.1,-2.5l3.7,-8.5l-1.4,-5l0.5,-5l-0.6,-12.5l2.5,-7.5l5.1,-10.5l1.2,-4.5l2.5,-4l2.5,-2.3l2.5,-1.3l8.5,-1l3.5,-3.9l3.5,-1.6l4,-2.8l2,0l9,2.1l8.5,5.8l2,2.5l2,4.6l5.5,3.9l8.2,14.5l3.3,3l5.3,3l3,5l3.3,3l-0.4,9l-3.1,5l-5.1,4.7l-1.8,2.8l-4.8,14l-0,2l1.1,1.3l4.5,1l3,2.8l3,1.4l8,0.9l1.4,1.1l1.5,3l1.6,0.9l2.5,-0.1l6.5,-2.8l7,0l3.5,-2.7l4.5,-1.2l3.5,-3.1l2.5,-1.3l5,-1.6l6,-0.4l3,-0.8l10.5,-6.8l7,-1l13.5,-3.1l2,-2l0.7,-1.5l-1.9,-5.5l0.7,-7.5l-0.2,-4.5l1.6,-2.5l2.1,-0.5l2.1,1.5l4.6,7.5l-2.9,6.5l-0,4l0.7,2.2l4.7,3.3l3.3,4.5l5.2,3l3.3,4.2l3.7,3.3l5,7l2.3,7.5l-0.2,5l-1.7,4l-0.3,4.5l-1.4,2l-4,1.3l-3.8,3.2l-12.2,6.5l-5,0.7l-12.5,4.8l-7.5,-0.1l-5.5,1l-6,-1.8l-5.5,0.4l-4,-1.5l-6,-0.5l-8,-3.2l-5.6,-4.4l-4.9,-1.6l-5,-4.6l-4.5,-0.6l-7,1.1l-8,0.2l-4.3,3.5l-6.2,4l-2,0.2l-4,-1.6l-2,0.1l-6,2.3l-4,3.5l-12.5,3.5l-13,-0.6l-7.5,0.2l-5,0.9l-4.5,-0.4l-4.5,2.4M501.1,1683.1l-3.5,-0.6l-2,-1.1l-2.8,-5.3l-5.6,-5l-4.4,-5.5l-1.3,-3.5l0.3,-6l2.5,-4.5l0.7,-2.5l0.5,-11l1.7,-7l0,-6.5l-0.8,-7.5l4,-8.5l-1.7,-5.5l0.6,-17.5l2.1,-7.5l2.7,-5.5l2.9,-4l2.1,-5.8l1.9,-2.7l3.6,-2.3l7.5,-0.4l2.5,-0.8l3.1,-3.1l2.9,-1.6l2.5,-2.7l1.5,-0.8l9.2,1.7l8.8,6.3l1.3,1.7l2,4.5l5.7,4.5l5.4,8l2.7,5l3.8,3.6l5.3,3.4l2.2,5.1l2.9,3.4l-0,6.5l-0.8,3l-2.1,3.1l-5.7,4.9l-4.6,10l-2,8l0.4,2l1.5,1.5l4,1.4l4,2.7l10.4,1.4l1,1l1.5,3.3l2.2,1.2l3.3,0.1l6.5,-2.5l7.5,1.2l1.8,-0.8l3.1,-3l3.6,-1.7l4.5,-4.2l6,-2.2l9,-1.4l10,-6.8l20,-2.3l1.9,-0.8l2.6,-2.4l1.5,-0.5l7.5,4.8l3.5,3l4.2,1.7l1.8,1.3l2.5,4.1l7.9,9.6l2.5,7.5l-0.3,3.5l-3,8.5l-4.1,2.9l-2.9,3.1l-8.1,4.3l-8.5,2.6l-12.5,5.4l-8,-0.2l-5,1l-6,-1.7l-5,-0.3l-4,-1.1l-6.5,-0.2l-7.5,-3.3l-5.5,-4.4l-5,-1.9l-4,-5.2l-2.5,-0.8l-11.5,2.1l-7.5,0.3l-2,1l-3.3,3.4l-4.7,3.2l-2,0.1l-4,-2l-1.9,0.2l-5.7,2.5l-5.4,3.7l-11,3.7l-8.5,0.3l-6.5,-1.1l-10.5,1.3l-5,-0.2l-6,2.4M664.6,1607.1l-1,-0.4l-0.5,-2.2l0.1,-5.5l0.4,-1l1,-0.5l1.7,2l0.8,4l-0.7,2l-1.9,1.6M502.1,1681.0l-3,0.2l-2.5,-1l-3.1,-4.7l-4.1,-4l-5.7,-7l-0.9,-2.5l0.6,-5.5l2.4,-6l0.6,-12l1.4,-7l0.1,-8l-0.6,-6l4,-8.5l-1.9,-7l0.2,-8.5l1.7,-4.5l-0.5,-4l0.4,-4l3,-7l3.7,-4.5l2.6,-5.5l1.6,-1.9l2,-1l3.5,-0.3l12.2,-3.8l1.8,-1.2l3.3,-3.8l1.7,-0.8l6,1l9.5,6.2l2.6,4.5l4.9,4.5l6,7.2l3.5,5.8l4.5,4.2l4.5,3.2l1.9,5.1l1.9,3l0.4,7l-0.6,2.5l-1.7,2.3l-5.7,4.7l-5.6,10.5l-1.4,9l0.8,2.5l1.8,1.8l6.7,3.7l10.8,1.4l3,4.2l2.5,1.3l4,0.5l6,-1.3l7.5,1l3.5,-1.7l10.7,-9.4l6.3,-2.6l9,-1.7l10,-6.7l19,-1.2l6,-2.2l10,5.4l5.8,2.4l2.5,5l6.3,8l1,4l2.3,4.5l-0.2,3l-2.5,6.5l-6.8,6.5l-6.3,3.7l-9,2.6l-4.5,2.6l-8.5,3.4l-3.5,0.1l-5,-0.7l-5,1.2l-14,-3l-6.5,-0.2l-6.2,-3.1l-5.8,-4.3l-4.6,-2.2l-5.4,-7.1l-2,-1.2l-2.5,-0.4l-2.5,0.5l-7,3.9l-9,1l-1.9,1.3l-3.6,3.7l-3,1.9l-1.5,0.1l-4,-1.7l-3,0.4l-14,7.8l-6.5,2.1l-9.5,0.6l-7,-1.5l-6.5,1.2l-9.5,0.2l-4,1.3M529.6,1679.0l-7,-1.6l-7,1.5l-14.5,0.3l-3,-0.4l-1.5,-1l-6.2,-6.8l-2.5,-4l-3.3,-3.5l-0.6,-2.5l0.7,-4l2.1,-6l0.6,-11.5l1.2,-8l0,-14l3.6,-8.5l-2.1,-7.5l0.5,-7.5l2.2,-4.5l-0.6,-6.5l0.9,-4.5l2.2,-4.3l3.5,-3.5l3.5,-5.1l6.5,-1.1l4.5,-3l8.3,-2.5l4.2,-3.2l2,-0.6l6,1.5l7.1,3.2l6.3,7l3.1,4.6l5,4.4l3.4,4.9l8.5,7.5l3.1,7.5l0.8,7.5l-0.4,2l-1.1,1.5l-5.8,4.8l-6.1,10.2l-1.1,10l1.2,4l1.6,1.6l6.5,4.1l7,0.2l4,1l3.5,4.2l8,4l1.3,3l-1.1,3.5l-2.8,2.7l-2.5,1l-8,1.4l-7,5.6l-2,0.2l-4.5,-0.9l-2,0.3l-5,2.3l-11.5,6.9l-5,1.3l-5,-0l-3.5,0.6M642.1,1678.5l-15,-2.9l-5,-0.1l-4.4,-2.1l-4.1,-3.6l-7,-4l-2.1,-2l-4,-7l-0.2,-2.5l0.9,-2.5l7.9,-8.5l6.6,-5.9l6.5,-3.2l8.7,-1.9l10.8,-6.5l15,-0.1l9.5,-1.1l13.1,5.6l2.4,5l4.8,7l1.6,5l2.9,4.5l-0.2,3.5l-2.2,4.5l-8.9,8l-4,2.2l-7.5,1.6l-4.5,2.7l-7.5,3.3l-4.5,0.3l-5,-1.3l-4.5,1.7M530.6,1678.0l-2.5,0.2l-5.5,-1.6l-7.5,1.6l-10.5,-0.2l-6.5,-0.8l-2.5,-1.7l-3.6,-3.9l-3,-5l-3.2,-3.5l-0.7,-2l0.4,-3l2.2,-6.5l2.1,-33l3,-9l-0.3,-2.5l-1.8,-4l-0.2,-2.5l0.5,-5.5l2.5,-5l-0.4,-8l1,-3.8l1.8,-3.2l3.6,-3l3.1,-3.9l8,-1.9l6,-3.2l6,-2.2l4,-2.4l2,-0.4l8,2l7.5,5.7l1.6,1.8l3.4,6.2l5,3.6l3.1,3.7l9.4,9l2.3,7l0.4,7.5l-1.2,2l-5.5,4.9l-2.5,4.3l-3.7,4.8l-1.1,11.5l0.6,4l1.7,2.8l8,5l2,0.4l5,-0.9l3,0.8l3.5,4l3.7,2.8l2.2,5l-1.4,1.9l-8.5,2.9l-7,5l-2.5,0.6l-5.5,0.2l-4.6,1.8l-12.4,7.9l-5,1.3l-5,-0.2l-2.5,0.5M640.6,1677.5l-13.5,-2.9l-6,-0.7l-3,-1.9l-3.5,-4l-6.5,-3.4l-2.5,-2.1l-2.5,-4.1l-0.1,-3.5l1,-2l3.6,-3.9l2.5,-4.1l5,-4.7l4.5,-1.7l3.3,-3l6.7,-1.6l7.5,-2.6l4.3,-3.3l1.7,-0.7l26.5,1.1l7.6,3.2l1.3,1.5l1.6,3.5l3.5,4.5l2.9,7l2.7,4.5l0.1,3l-2.3,4l-8.6,8l-3.3,1.9l-7,1.1l-5,2.9l-7.5,3.2l-3.5,0.2l-5.5,-1.6l-6,2.2M530.6,1677.1l-2.5,0.3l-5.5,-1.5l-6.5,1.6l-9,-0.2l-9,-1.4l-2,-1.2l-2.5,-2.7l-3.8,-6.5l-2.8,-3l-0.7,-2l2.5,-8.5l0.4,-10l0.8,-5l-0.3,-11.5l3.8,-15.5l-0.3,-3l-1.9,-4.5l0.1,-5l0.6,-2.5l2.2,-4l0.3,-9l1.1,-4l1.6,-2.3l3.5,-2.1l3,-2.9l12.4,-4.1l10.1,-5.6l3,-0.7l5.5,1.2l3.5,3.2l5.5,2.2l1.1,1.6l1.7,5l2.1,3.1l1.6,1.4l3.9,1.9l4.5,3.6l7.3,7.5l1.7,6l0.2,7l-1.1,2l-4.9,4.5l-3,4.5l-3.8,4l-0.8,13.5l0.4,6.5l0.9,1.4l4.5,1.8l6.5,4l2,0.1l4,-0.9l2,0.5l4.3,4.6l1,2.5l-0.8,1.8l-2.9,1.7l-3.5,3.5l-4.2,2.9l-3.5,1.7l-5.5,1l-5,2l-11,7.7l-5,1.4l-5.5,-0.3l-2.5,0.5M641.6,1676.1l-3,0.3l-16.5,-3.6l-2,-1.3l-3.5,-4.4l-10,-6l-1.5,-2.5l0.1,-3l4.8,-5.5l2.5,-5l3.7,-3.3l4.9,-1.2l3.3,-4l13.3,-3.6l4.5,-3.2l2,-0.8l8.5,-0.2l9,1.2l5,1.4l4.5,-0.5l4.1,1.8l1.4,1.5l1.5,3l4,4.5l5.4,11l0.1,3l-1.8,3l-2.2,2.4l-3.7,2.6l-2.6,3.5l-2.1,1.3l-7.5,1l-5,3.1l-7,2.7l-3,0.2l-6,-1.4l-2,0.5l-3,1.7M529.1,1676.5l-6.5,-1.4l-6.5,1.6l-9,-0.3l-9,-1.7l-2,-1.2l-1.8,-2l-3.4,-6.5l-2.8,-3.2l-0.7,-1.8l2.3,-7l0.5,-10l0.9,-5l-0.8,-12l3.3,-10.4l0.5,-4.1l-0.1,-4l-2.2,-5.5l0,-3.5l0.6,-2.5l2.4,-4.5l0.5,-7l1.5,-5.5l1.8,-2.2l4,-1.8l6,-3.8l7.9,-2.7l8.6,-5.2l3.5,-0.9l4,0.9l4.5,3.6l5.3,1.1l1,1.5l1.3,4.5l3.4,4.9l9.5,5.2l7.5,7.6l1.3,5.3l-0.2,7l-8.7,10l-3.1,2.5l-1.1,2l0.6,9l-1.1,13l1.3,1.7l5.5,1.4l6.5,4.1l7.5,0.8l1.9,1.4l0.7,1.5l-4.1,6l-2,2l-6,3.8l-10.4,3.7l-4.6,4l-5.6,3.7l-4.5,1.4l-6,-0.3l-4,0.8M641.1,1675.1l-3.5,0.2l-14.3,-3.8l-1.3,-1l-2.1,-3.5l-11.6,-8l-0.5,-1.5l0.8,-2l5.3,-4l0.3,-4.5l0.9,-2l1.6,-1.3l5,-1.7l4.5,-4.7l6,-2.1l6.5,-1.1l6,-3.2l8.5,-0.7l9,1.6l4,1.4l4.5,-0.1l2.2,0.9l3.1,4l4.2,3.6l2.5,4.1l3.5,7.8l-0.3,2l-1.3,2l-1.9,1.9l-4,2.1l-2.2,4.5l-2.1,1.5l-6.7,0.5l-5.5,3.5l-5.5,2l-3.5,0.2l-6,-1l-3,0.7l-3,1.7M530.1,1675.5l-2.5,0.1l-5,-1.3l-6.5,1.6l-9,-0.4l-9,-2l-3.2,-3l-3.1,-6.5l-2.4,-3l-0.5,-1.5l1.9,-6l1.4,-14.5l-1.2,-13l3.9,-12l-0.2,-6l-2.1,-5.5l-0.2,-3.5l0.6,-2.5l2.4,-4.5l0.5,-5.5l0.9,-3l1.8,-3.8l1.5,-1.5l7,-2.2l17.5,-10.7l3,-1l3,0.7l5.5,3.3l5,1.6l2,4.6l4.5,5.9l2.5,1.8l6.5,2.8l7.7,7.4l1,5l-0.4,6l-11.5,12l-1.3,2.5l0.9,10l-1.6,12.5l0.6,2l1.1,1.1l6.8,2.4l8.5,5.5l0.8,1.5l-1,3.5l-4.5,5l-10.6,4.7l-4.5,4.3l-4.5,3.1l-5,1.7l-6,-0.3l-3,0.6M640.1,1674.1l-2,0.1l-5.6,-1.3l-7.9,-3l-2.5,-3.6l-6.3,-3.4l-3,-3.5l-0.3,-2.5l3.2,-4.5l1.6,-6l5.3,-3.7l4,-4l4.5,-2.2l7.5,-1.1l6,-2.6l6.5,-1.1l3,0.1l7.5,1.2l8.5,2.6l7.5,6.2l3,3.7l3.3,6.3l0.1,2.5l-2.5,3l-4,1.2l-1,0.8l-1.1,5l-1.2,1.5l-1.7,0.6l-5.5,0.2l-5,3.5l-4,1.5l-3,0.3l-7,-0.8l-4,1l-4,1.9M517.1,1675.1l-10.5,-0.5l-8.5,-2.6l-3,-3.5l-4.1,-8.5l-0.2,-1.5l1.2,-4.5l1.4,-14.5l-1.6,-13l4,-12.5l-0.5,-6.5l-2,-5.5l-0.1,-2.5l0.6,-2.5l2.4,-4.6l1.1,-6.9l3.4,-4.9l2,-1l4,-0.3l2,-0.7l4,-2.4l3.8,-3.6l4.3,-3l4.9,-2.8l2.5,-0.5l3,0.9l8,3.9l2.9,4.4l6.1,7.4l2,1.5l5.5,2.1l3,2.9l3.5,2.3l1.4,1.9l0.5,6l-0.6,3.5l-10.3,11l-1.8,3l-0.3,3l1,7.5l-1.8,12.5l0.4,2.5l1.5,2.3l3.2,2.2l2.3,2.7l5,2.7l0.7,1.6l-0,2l-0.7,3l-1.5,2l-8.6,4.5l-4.8,4.8l-5,3.2l-4,1l-5.5,-0.3l-4.5,0.7l-6,-1.3l-5.5,1.4M638.6,1673.0l-5.9,-1.5l-4.8,-2.5l-3.8,-3.8l-7.5,-3.2l-1.9,-2.5l0.1,-2.5l2.3,-4l2.1,-5.5l8.5,-7.2l4.5,-2.4l7,-1.1l6,-2.3l9,-0.8l5.5,0.4l9.5,3.6l2.8,2.8l3.6,2.5l3.4,4.5l1,2.5l0.2,2.5l-3.1,0.9l-2.5,2.6l-1,2.7l-0.3,4.9l-0.7,1l-5.5,0.8l-5.5,3.8l-3,1.2l-2.5,0.2l-6.5,-0.9l-11,3.5M529.1,1674.1l-6,-1.2l-7.5,1.5l-10,-1.3l-6.5,-2.9l-2,-1.6l-2.1,-3.2l-2.4,-7l2,-14.5l-0.2,-5.5l-1.7,-12.5l3.9,-12l-0.7,-7l-1.7,-5l-0.2,-2.5l0.6,-2.3l2.4,-4.7l1.1,-5.7l1,-1.8l2,-1.9l6,-1.4l6,-3.7l8.2,-7.1l3.8,-1.8l3,-0.7l4,0.8l5.5,2.7l11,13.9l1.5,1l4,1.2l7,4.4l1.1,1.5l0.4,2l-0.9,6.3l-9.5,11l-1.5,2.7l-0.5,2.5l0.8,8.5l-1.6,6.5l0.2,9l1.6,3.5l7.6,10l0.6,2l-0.2,1.5l-1.6,2l-6,3.5l-4.5,4.7l-4,2.7l-4.5,1.2l-5.5,-0.1l-4,0.6M640.6,1671.0l-2,0.3l-2,-0.4l-10.1,-6.9l-7.4,-2.1l-2.6,-1.9l-0.4,-2.5l3.5,-8l1.4,-2l3,-2.5l9.7,-5.5l6.3,-1.5l4.5,-1.9l2.5,-0.2l4,0.9l6,-1.6l4,0.7l5.5,3l3.5,4.1l3.8,2.5l1,2l-0,2l-2.7,5.8l-1.9,5.7l-1.2,1.5l-10,6.2l-2,0.2l-3.5,-0.9l-3,-0l-10,3.1M530.6,1673.1l-3,0.1l-5,-1.2l-6.5,1.5l-8.5,-1l-8.5,-4.5l-2.2,-1.9l-1.6,-3l-1,-3.5l0.4,-8l1.5,-7.5l-2.5,-17.5l0.5,-3l3.2,-9.5l-0.7,-7.6l-1.4,-4.9l-0.1,-2.5l3.3,-6.5l1.8,-4.9l2,-1.3l3,0.3l1.5,-0.4l3.1,-3.6l11.9,-9.7l3.5,-1.7l4,-0.8l3.5,0.5l4,2.2l11.5,14.9l3.5,2.5l7.5,3.4l1.1,2.3l-1.5,6l-7,9.6l-1.8,3.4l-0.6,4l0.4,8l-2,6l1.6,12.1l7.1,11.9l0.3,3l-1.2,1.5l-4.2,2.7l-4.5,4.8l-3,2.1l-5.5,1.6l-7.5,0.4M644.1,1668.1l-4,0.1l-8.5,-3.4l-5,-2.6l-7.9,-2.2l-0.8,-1l-0.1,-1.5l2.8,-6.6l1.5,-2.1l3,-2.2l7,-1.9l4.4,-3.7l7.6,-3l2.5,-0.2l4.5,1.5l5.5,-2.2l3.3,0.5l3.1,4l4.7,3.5l3.3,4l-0.1,4l-2.7,7l-2.1,2.5l-5.5,3.1l-1.5,0.3l-4.5,-0.6l-10.5,2.8M532.1,1672.1l-4,0.4l-6,-1.5l-6.5,1.4l-7,-1.1l-9,-4.8l-2,-1.6l-1.5,-2.8l-0.5,-3l0.3,-7l1.7,-8l-1.4,-8l-0.2,-5l-1.3,-5l0.4,-3l2.9,-8.5l-0.6,-10l-1.2,-4.5l0.8,-2.7l4.5,-5l5.5,-2l4.6,-6.8l9.9,-8.8l3.5,-2.1l4.5,-0.9l3,0.5l3,1.8l11.5,14.8l3.5,3.9l3.8,3.2l1.2,3l-1.6,5.5l-3.8,6l-1.4,3.5l-0.6,3.5l-0.2,8l-2,8.5l2,12.5l5.4,9l1.1,2.5l-0,2l-10.9,9.9l-6,1.7l-5.5,0.5M646.6,1665.0l-5.5,-1l-6.5,0.2l-6.7,-3.2l-6.8,-2l-1,-1l-0.1,-1l1.6,-4.3l2.5,-2.8l10,-3.6l4,-3l6.5,-3.1l6.5,0.9l7,-1l7.5,5.4l2.4,3l0.9,4l-1.5,5l-1.8,3.1l-2.5,1.7l-6.5,0.1l-10,2.6M530.1,1671.5l-2.5,-0.1l-6,-1.9l-5.5,1.2l-7,-0.9l-9,-4.8l-1.8,-1.7l-1.1,-3l0.2,-7l1.8,-6.5l0.3,-3.5l-1.5,-6.5l-0.4,-6.5l-1.5,-5.5l0.8,-4l2.2,-6.5l-0.5,-5.5l0.8,-5.5l-0.5,-3l0.3,-1.3l4.5,-1.9l3.5,0.7l2,-6.5l4.9,-5.5l2.7,-5l7.4,-6.4l2.5,-1l3,-0.4l3,0.7l2,1.6l2.4,3.5l5.4,6l9.6,13.5l0.1,2l-0.9,3l-3,6l-1.1,3.5l-0.3,9l-2,13l1.4,12l4.5,6l2,6l-0.9,2l-8.3,7.5l-7,2.1l-6.5,0.9M637.6,1662.6l-3.2,-0.1l-3.8,-2.4l-5.9,-2.1l-1,-1.5l0.6,-2.5l4.8,-3.7l6.5,-1.9l6.5,-4.4l3.5,-1.3l12.5,0.2l5.2,2.5l2.6,3l0.9,3l-0.2,2.9l-1.8,3.6l-1.7,1.7l-6,0.8l-8,1.9l-7.5,-0.6l-4,0.8M531.1,1670.5l-3.5,0.1l-7.5,-2.8l-7.5,0.9l-3.5,-0.3l-8.5,-4.5l-1.3,-1.4l-0.6,-2l0.9,-7l1.4,-3.4l1.5,-1.8l3,-1.1l1.5,-1.2l3,-3.4l0.9,-2.6l-0.3,-2l-2,-4.5l-0.5,-6l-1.1,-3.7l-0.9,1.7l-1.2,5l-2.8,2.9l-1.5,-0.6l-2.5,-6.2l-0.4,-2.1l0.4,-3.5l1.9,-6l0.1,-7.2l1.5,-2.5l1.5,-0l2.5,5.8l2,2.2l0.5,-1.1l0.2,-6.1l2.6,-6.5l-0.6,-5l0.4,-2l1.5,-1.7l4.6,-3.3l1.3,-5l4.3,-5l2.7,-2.1l3,-0.7l2.5,0.3l1.7,0.9l3.8,4.6l4.5,4.2l4,5.7l3.7,7.5l-1.3,8l-2.4,7.5l-0.1,3.5l0.7,4.5l-1.3,16l0.9,10.5l0.9,1.5l3.7,3.5l1.7,5.5l-1.3,3l-6,5.4l-7.5,2.6l-5,1M636.6,1660.0l-1.5,-0.2l-3.5,-1.9l-3.5,-0.5l-1.1,-1l0.2,-1l2.9,-2.7l6.5,-1.5l6,-4.9l4,-1.6l5,-0.6l6.5,0.4l3.5,1.4l2.3,2.5l0.5,2.5l-0.5,2.5l-2.6,3l-2.3,1.5l-6.4,1.4l-12,-0.5l-4,1.1M530.6,1669.6l-3.5,-0l-5.5,-2.7l-3,-0.8l-7,0.9l-2.5,-0.3l-7,-3.7l-1.3,-2.5l2.7,-7.5l6.1,-3.7l2.2,-3.8l1.1,-3.5l-0.1,-3.5l-2,-4.5l-0.4,-2.5l0.6,-8.5l4.1,-7.5l-0.2,-1.5l-3.4,-5.5l-0.6,-2l2.1,-6.5l-0.3,-6.5l5.8,-5.5l1.6,-5l3.2,-4.5l1.9,-1.6l2,-0.6l3.6,1.2l8.7,8l2.1,3l1.5,3.5l0.8,5.5l0.1,8l-2.4,7l0.3,4.5l1.4,5l0.5,7l-1.3,12l1,8l1.2,2.1l3.1,2.9l1.2,4.5l-0.2,1.5l-1.1,1.8l-4.5,3.5l-6.5,2.6l-6,1.7M655.6,1656.5l-3,0.4l-8.5,-0.9l-2.4,-1.5l-0.3,-2l2.3,-3.5l3.5,-2l4.4,-1.1l7,0.4l2.7,1.7l0.5,2.5l-4.5,5l-1.7,1M530.1,1668.6l-3,0l-5,-2.6l-3.5,-1.1l-9.5,-0.2l-4.2,-2.2l-1,-2l2.7,-5.5l5,-4.4l2.6,-3.1l0.9,-2l-0.2,-6l-2.6,-8l1.2,-4l0.5,-4.5l3.4,-6l0.6,-2.5l-4.1,-8l1.1,-5.5l-0.3,-7l1.2,-2l3.6,-3.5l1.8,-4.5l2.7,-4.2l2.5,-1.7l3,1l8.5,7l1.6,1.9l1,2.5l0.2,13.5l-2.2,6.5l3.1,11.5l1,7l-1.9,12l1.2,9l4.3,9l-1,2.5l-4.3,3.2l-11,3.9M653.1,1653.7l-2,0.1l-1.7,-1.3l-0.2,-1.5l0.8,-1.5l3.1,-1.6l3,-0.1l1.9,0.7l0,1l-2.4,1.6l-2.5,2.6M529.1,1667.6l-2.5,-0.2l-7.5,-3.3l-7.5,-1.4l-1.3,-1.1l-0.2,-1l0.6,-5.5l6.5,-7.5l0.7,-2l-1.5,-10l0.4,-6.5l-0.3,-5l0.6,-2.5l2.5,-5l0.5,-2.5l-0.5,-2l-2.4,-4.5l-1,-13l0.9,-2l3.4,-3.5l4.1,-7l1,-1.1l1.5,-0.6l3,1.3l4,3.7l3,1.9l1.9,2.8l0,12l-2.2,8.5l3.7,11.5l1.3,8l-2.2,10.5l0.7,9.5l2.1,8.5l-0.1,1.5l-1.5,2.5l-2.3,1.9l-9.5,3.2M528.6,1666.1l-2,-0l-11.9,-4.6l-1,-1.5l-0.2,-3l0.2,-2l1.3,-2.5l4.4,-4l0.8,-1.5l-1.9,-10.5l0.1,-11.5l3.7,-12l-2.5,-6l-2.2,-10l-0.1,-2.5l1,-2l3,-3l2.7,-4.4l2,-1.9l1.5,-0.5l2,0.7l3,3.1l3.5,2l1.3,2l-0.1,11.5l-2,6l-0.2,2l4.3,12l1.2,7.5l-2.1,8.5l0.4,7.5l-1.4,4.5l0.8,12l-2,1.8l-4.5,0.9l-3,1.4M528.6,1664.1l-2.5,0.3l-6,-1.9l-2.9,-1.5l-0.7,-1.5l1.2,-6.7l1.5,-1.4l3.5,-1.2l0.6,-1.1l-3.2,-12l-0.2,-8.5l1,-5l4,-10.5l-0.3,-1.5l-2.8,-5l-2.9,-8.5l-0.4,-3l0.5,-1.5l3.1,-3l2.4,-3.7l1.5,-1.3l1.5,-0.4l7.4,4.9l0.9,1.5l-0.1,10l-2.3,5.5l-0.2,2.5l1,4.5l4.1,8.5l0.7,5.5l-2.1,9l-0.1,8l-0.8,1.3l-2.8,2.2l-0.7,1.5l2.9,8l0.1,3l-1.4,1.4l-5.5,1.7M530.1,1613.1l-1,0.2l-0.5,-0.5l-4.3,-5.7l-4.4,-10.5l0.5,-2.5l6.2,-6l6.5,2.9l1.3,2.1l-0.8,8l-2.9,4l0.4,6l-1.1,2.1M529.1,1645.0l-3,-0.4l-3.5,-5.9l-0.9,-2.7l-0.4,-6l0.7,-4l3.2,-6.7l1.5,-2.3l1.5,-0.9l2.5,1.9l3.5,1.3l1.5,1.2l1.6,2.5l0.6,3l-0.2,2.5l-1.7,5l-0.8,9.9l-1.5,1.2l-4.5,0.5M527.1,1662.5l-4.5,-0.3l-3.3,-1.7l-0.3,-2l1.5,-4.2l1.5,-0.2l4.4,1.9l4.1,0.5l1.9,1.5l0.5,1.5l-0.5,1l-5.5,2M526.1,1604.0l-3.5,-5.1l-0.7,-2.9l4.7,-4.6l2,-0.1l3.5,1.5l0.6,1.2l-0.1,1.8l-1,2.3l-5.5,5.9M531.6,1642.0l-2.5,-0.8l-4.9,-4.8l-0.9,-3l-0.4,-4.5l0.8,-2.5l2,-2.3l7.5,-2.1l2.4,1.4l0.8,3l-1.8,5.5l-0.7,8.5l-0.7,1l-1.5,0.5M527.1,1660.5l-3,0.4l-1.6,-0.9l0.6,-0.8l2,-0.1l2.5,0.4l0.2,0.5l-0.8,0.5M531.6,1638.3l-1.5,-0.4l-3.5,-3.2l-1.1,-1.7l-0.7,-3.5l0.6,-1.5l1.2,-0.9l4,0.1l1.5,0.9l0.5,7.4l-1,2.8" fill="none" stroke="#000" stroke-width="1.2" stroke-linejoin="round"/>
<path d="M500.5,1566.7h1.4v1.4h-1.4zM690.5,1521.1h1.4v1.4h-1.4zM611.2,1512.7h1.4v1.4h-1.4zM552.7,1500.4h1.4v1.4h-1.4zM590.5,1676.7h1.4v1.4h-1.4zM621.4,1549.8h1.4v1.4h-1.4zM563.7,1514h1.4v1.4h-1.4zM611.9,1605.1h1.4v1.4h-1.4zM680.6,1637.3h1.4v1.4h-1.4zM634.6,1574.1h1.4v1.4h-1.4zM611.3,1534.6h1.4v1.4h-1.4zM520.7,1522.1h1.4v1.4h-1.4zM559.8,1679.5h1.4v1.4h-1.4zM614.4,1548.3h1.4v1.4h-1.4zM560.4,1617.8h1.4v1.4h-1.4zM674.8,1596.2h1.4v1.4h-1.4zM621.2,1618h1.4v1.4h-1.4zM675.5,1655.6h1.4v1.4h-1.4zM643.3,1602.2h1.4v1.4h-1.4zM611.4,1534.6h1.4v1.4h-1.4zM645.6,1681.6h1.4v1.4h-1.4zM611.2,1536.8h1.4v1.4h-1.4zM502.4,1614.2h1.4v1.4h-1.4zM682,1531.4h1.4v1.4h-1.4zM641.4,1518.4h1.4v1.4h-1.4zM712.4,1519.2h1.4v1.4h-1.4zM585.2,1625.4h1.4v1.4h-1.4zM668.8,1594.6h1.4v1.4h-1.4zM548.5,1549.7h1.4v1.4h-1.4zM504,1650.9h1.4v1.4h-1.4zM608.7,1660.2h1.4v1.4h-1.4zM555.2,1623.8h1.4v1.4h-1.4zM724.8,1649.6h1.4v1.4h-1.4zM611.9,1584.7h1.4v1.4h-1.4zM484.8,1663h1.4v1.4h-1.4zM503.5,1519.8h1.4v1.4h-1.4zM537,1574.6h1.4v1.4h-1.4zM505.7,1624.5h1.4v1.4h-1.4zM563.7,1696.4h1.4v1.4h-1.4zM590.1,1587.8h1.4v1.4h-1.4z" fill="#000"/>
<rect x="480.3" y="1483.3" width="127.1" height="125.1" fill="none" stroke="#2e9a55" stroke-width="1.6"/>
<rect x="480.3" y="1612.2" width="127.1" height="76.2" fill="none" stroke="#5a9bea" stroke-width="1.6"/>
<rect x="612.2" y="1609.6" width="107" height="78.8" fill="none" stroke="#f7a24a" stroke-width="1.6"/>
<rect x="445.6" y="1439.5" width="288.2" height="287.5" fill="none" stroke="#1a1a1a" stroke-width="1.8"/>
<path d="M445.6,1618.7h-4 M445.6,1603.5h-4 M445.6,1592.7h-4 M445.6,1584.4h-4 M445.6,1577.5h-4 M445.6,1571.8h-4 M445.6,1566.8h-4 M445.6,1562.3h-4 M445.6,1558.4h-7.5 M445.6,1532.4h-4 M445.6,1517.2h-4 M445.6,1506.4h-4 M445.6,1498.1h-4 M445.6,1491.2h-4 M445.6,1485.5h-4 M445.6,1480.5h-4 M445.6,1476h-4 M445.6,1472.1h-7.5 M445.6,1446.1h-4 M445.6,1636h-7.5 M445.6,1642h-4 M445.6,1645h-4 M445.6,1647h-4 M445.6,1649h-6 M445.6,1651h-6 M445.6,1653h-6 M445.6,1655h-4 M445.6,1657h-4 M445.6,1660h-4 M445.6,1666h-7.5 M445.6,1679h-4 M445.6,1695h-4 M445.6,1707h-4 M445.6,1716h-4" fill="none" stroke="#1a1a1a" stroke-width="1.4"/>
<rect x="437.6" y="1648" width="8" height="6" fill="#1a1a1a"/>
<path d="M582.3,1727v8 M604.8,1727v4.5 M617.9,1727v4.5 M627.3,1727v4.5 M634.5,1727v4.5 M640.4,1727v4.5 M645.4,1727v4.5 M649.8,1727v4.5 M653.6,1727v4.5 M657,1727v8 M679.5,1727v4.5 M692.6,1727v4.5 M702,1727v4.5 M709.2,1727v4.5 M715.1,1727v4.5 M720.1,1727v4.5 M724.5,1727v4.5 M728.3,1727v4.5 M731.7,1727v8 M523,1727v8 M531,1727v4.5 M535,1727v4.5 M538,1727v4.5 M540,1727v4.5 M542,1727v4.5 M544,1727v7 M546,1727v7 M548,1727v4.5 M550,1727v4.5 M552,1727v4.5 M555,1727v4.5 M559,1727v4.5 M567,1727v8 M505,1727v4.5 M487,1727v4.5 M473,1727v4.5 M463,1727v4.5 M455,1727v4.5" fill="none" stroke="#1a1a1a" stroke-width="1.4"/>
<rect x="541" y="1727" width="8" height="7" fill="#1a1a1a"/>
<text x="1268.7" y="1469.4" font-size="21.8" fill="#141414" textLength="44.7" lengthAdjust="spacingAndGlyphs">MPP</text>
<text x="1255.2" y="1507.4" font-size="21.8" fill="#141414" textLength="66.3" lengthAdjust="spacingAndGlyphs">45.0%</text>
<text x="1246.7" y="1676" font-size="21.8" fill="#141414" textLength="62" lengthAdjust="spacingAndGlyphs">38.4%</text>
<text x="1354.4" y="1676" font-size="21.8" fill="#141414" textLength="61.2" lengthAdjust="spacingAndGlyphs">14.2%</text>
<text x="1206.6" y="1717.2" font-size="21.8" fill="#141414" textLength="81.5" lengthAdjust="spacingAndGlyphs">ST-HSC</text>
<text x="1353.5" y="1714.2" font-size="21.8" fill="#141414" textLength="79" lengthAdjust="spacingAndGlyphs">LT-HSC</text>
<path d="M1295.9,1692.5l-2.5,0.2l-1.5,-0.5l-3.4,-5.3l-5.1,-3.5l-1.9,-5l-3.6,-6.3l-4.4,-4.7l-2.8,-5l-5.2,-14l-4.4,-6l0.7,-6.5l-1.8,-5.5l-0.9,-9.5l-1.3,-4l-3.4,-6l-0.5,-2l0.8,-3l3.4,-5l0.7,-2l-0.3,-2.5l-2.5,-8l0.1,-2l3.7,-10l0.5,-5l2,-6.5l6.3,-10l0.9,-7.5l1.8,-1.5l5,-2l1.8,-5l3.7,-5.2l2.5,-1l5,-0.6l4,-2l2.5,-0.5l2.5,0.8l2,4l4.5,2.6l5.2,5.3l2.8,5.4l2,7.7l3.5,9.4l4,3.7l1.2,1.8l1.1,11l2.3,7l-0.9,6l2.1,5l-1.1,9.5l-1.2,5l1.9,6l-0.7,6l0.3,3.5l0.8,3l1.2,2.1l2,1.2l13,2.5l3.5,-0.9l7.7,-4.4l3.3,-0.7l3.5,0.5l5,2.8l2.5,0.5l9,-0.4l6.5,-2.4l2.5,-0.3l1.7,0.9l3.3,3.2l1.5,0.6l1.5,-0.6l2.4,-3.3l2.1,-0.8l3.9,0.3l9.1,2.4l2.7,1.6l2.1,3l0.7,2.5l0.2,4l3.4,6.5l2.4,10l-0.4,2.5l-1,2l-4.6,3.7l-2.5,1.1l-5.5,0.7l-6,2l-2.5,-0.3l-7.5,-2.9l-3,0.1l-5.5,1.4l-3.5,-0.2l-2,-1l-4,-3.2l-2.5,-0.9l-3,0.5l-6,3.2l-2.5,0.5l-2,-0.5l-5.5,-3.3l-3,-0.9l-9,0.4l-7,2.8l-2,-0.3l-4.5,-2.7l-8.5,1.4l-3.5,1.7l-8,7.8l-6,3.3l-2.1,2.7l-2.4,5.1l-1.5,1.5l-2,0.9M1338.6,1664.5l6.3,-2l10.5,0.3l5.5,-1.2l8,-0.2l6,-1.9l5,-0.9l2,-1.2l3.4,-3.9l1.5,-2l0.1,-1.5l-1.7,-2l-1.8,-0.8l-5.5,-0.6l-5.5,-1.6l-8,0.6l-8,-2.9l-10.5,1.9l-11.5,-2.4l-7.5,1.5l-5.7,5.3l-1.7,2.5l-0.7,4l1.6,4l2,2.6l3,1.6l2,0.1l4.5,-0.9l4.5,1.7l2.2,-0.1M1296.4,1690.6l-2,0.4l-1.6,-0.4l-3.4,-4.7l-3.9,-3.3l-2.1,-4.5l-2.5,-3l-2.5,-4.3l-3,-3l-1.4,-2.2l-3.2,-6.5l-3.9,-10.9l-3.3,-5.6l0,-7l-2.7,-5.5l-0.9,-9.5l-2.2,-6l-2.7,-4.5l-0.2,-1.5l0.8,-2.5l3.5,-4.5l0.7,-2l-1.8,-12.5l1.1,-5l2.4,-5.5l0.9,-7.5l1.5,-3.8l5.8,-9.2l1.4,-7l1.3,-1.3l5,-1.7l2,-1.5l0.6,-1.5l0.4,-4.5l2.4,-3.4l2,-0.7l4.5,-0.4l5.5,-2.2l1.7,0.8l0.3,3l0.8,1.5l5.6,1.6l6,5.2l2.9,5.7l1.6,6.7l3.5,9.5l1,1.4l3.5,2.8l0.9,2l0.8,10l2.5,7l-1,6l2.1,5l-0.9,9l-1.4,5l2.1,6l-0.7,6l0.3,4l1.8,5.6l3.6,3.4l-0.7,1l-5.8,3l-6.8,8l-1,5.5l1.5,4l1.7,2.5l4,2.2l7,-0.2l4.5,1.3l8.5,-2.7l6,-0.4l5.5,0.3l5,-1l7.5,-0.5l6,-1.9l6.5,-1.3l9.5,-8l0.2,-0.7l-0.5,-1l-6.2,-2.8l-6,-0.5l-6,-1.5l-7.5,0.7l-8.5,-2.9l-10.5,1.4l-2.4,-0.9l-1.7,-1.5l0.7,-1l3.9,-0.7l2.5,-1.1l7.3,-4.7l3.2,-0.6l3,0.6l4.5,2.9l2,0.5l10,-0.6l6,-2.1l2.5,-0.3l2,0.9l3.5,3.3l2,0.7l1.5,-0.8l2.5,-3.5l2.5,-0.6l12.1,3.2l1.9,1.5l1.2,2l0.6,2.5l-0,4.5l3.6,6l2.5,9.5l-1.1,4.5l-4.3,3.8l-2.5,1l-5.5,0.5l-5.5,1.7l-2.5,-0.5l-4.5,-2.1l-3,-0.6l-3.5,0.2l-5,1.4l-2.5,-0l-2,-0.8l-5,-4l-2,-0.8l-2.5,0.5l-6,3.3l-2.5,0.6l-1.8,-0.3l-5.5,-3l-3.7,-1.2l-9.5,0.3l-6.5,2.2l-2,-0.7l-2.5,-2.2l-2.5,-0.3l-9,2.2l-2,1l-7,5.8l-2.1,2.5l-6.4,4l-2.1,2.5l-2.4,4.5l-2,1.6M1296.4,1688.5l-2,0.4l-1.5,-0.9l-7.9,-10.4l-3.4,-3.5l-2.2,-4l-4,-4.5l-3.6,-7.5l-1.4,-5l-4.8,-10.5l-0.3,-7.5l-3.4,-5.1l-1.1,-9.9l-1.9,-6l-2.6,-4l-0.4,-1.5l0.8,-2.5l3.2,-3.4l0.8,-2.1l0.2,-3l-0.9,-5l0.1,-8l0.6,-2.5l3.2,-7l-0.1,-6l1,-2.2l3,-3.8l2.9,-6.5l1.7,-6l1.5,-1.5l5.4,-2.4l1.9,-1.6l0.9,-2l0.4,-4.5l1,-1.5l9.2,-2.2l1,0.3l2.6,3.5l5.9,1.9l5.8,4.6l3.3,6l1.3,5.5l2.3,5l1.4,5l4.2,4l0.8,1.5l0.8,11.5l2.6,5.5l-1,6.5l2.1,5l-0.6,8l-1.6,5.5l2.3,6.5l-0.7,6.7l0.5,5.3l1.3,5.5l-0.4,1.5l-8.3,10l-1.2,2.5l-0.9,5.5l2.6,8l-0.3,1.5l-4.3,4.9l-4.3,2.6l-2.1,3l-6.5,4.5l-5.1,6.5M1405.9,1673.1l-2.5,0.1l-5.5,-2.2l-4,-0.7l-3.5,0.1l-5,1.5l-2,0.1l-2,-0.9l-6.5,-5l-2,0.4l-6.5,3.6l-2.5,0.7l-1.7,-0.3l-8.8,-3.8l-7.8,-0.7l-0.6,-0.5l5.4,-1.4l7.5,0.2l11,-1.7l6.4,-2.1l6.1,-0.8l10,-7l2,-3.2l-0.2,-1l-1.2,-1l-6.1,-2.5l-6.5,-0.3l-7,-1.3l-7,0.7l-3,-0.8l-4.5,-2.1l-6.5,-0l-1.3,-0.7l6,-5.5l2.9,-1.1l3,0.5l4,2.7l2.5,0.6l10.5,-0.9l8,-2.2l2,0.7l4.5,3.7l2,0.4l1.5,-0.9l2.2,-3.1l1.8,-0.8l11.5,3.3l1.5,1.3l1,2l-0,6.6l4.1,6l2.3,7.5l-0.1,3.5l-1.3,3l-3.1,3l-2.3,0.7l-5,0.3l-3.5,1.1M1295.4,1686.6l-2.5,-1.3l-6.2,-7.7l-3.8,-3.6l-2.8,-4.9l-4,-4.5l-3.3,-7l-1.1,-4.5l-4.3,-9.5l-1,-9.5l-3.9,-5l-0.3,-6.5l-1.9,-10l-2.6,-2.6l-0.7,-1.4l0.7,-2.1l2.9,-1.9l0.6,-1l0.5,-5.5l-0.5,-5.5l0.9,-5l-0.3,-4l5.1,-10l0.3,-4.5l2.9,-5.4l3.2,-11.6l1.8,-2.1l6.8,-3.9l3.6,-7l5.6,-1.9l1.5,0.3l3,2.4l6,2.7l4.8,4l3.6,5l1.6,6l2.3,4.5l1.4,5l4.7,5.5l0.3,5l-0.8,6l0.6,1.5l3.3,4l-0.8,7l2.1,6l-0.4,6l-1.6,5.5l2.4,7.5l-0.8,5l0.3,12l-3.6,7l-4,4.5l-2.3,6.5l-0.7,3.5l1.3,6l-0.3,3l-1.8,2.6l-4.5,2.2l-2.2,3.7l-5.3,3.7l-4.5,5l-1.5,0.8M1406.9,1671.5l-3.5,0.2l-6,-2l-4.5,-0.5l-4,-0l-4.4,1.2l-1.6,-0.1l-2.5,-1.4l-3.5,-3.6l-1.5,-0.8l-2.5,0.4l-8,3.9l-2,-0.2l-4.3,-1.8l-0.6,-0.5l1.1,-0.5l10.3,-2.6l5,-1.9l7.5,-0.8l4,-3l6,-3.5l2.3,-2.6l1.1,-2.5l-1.2,-2l-7.7,-3.5l-6,-0l-8,-1.1l-5.5,0.5l-2.9,-0.4l-3,-2l-0.4,-1l0.3,-0.8l1.5,-0.5l3.5,0.7l3.5,-0.1l9.5,-1.2l7.5,-1.9l2,0.5l6,4l2.5,-0.5l2.5,-2.9l1.5,-0.8l9.9,3.4l1.8,3l0.2,6.5l3.2,4.5l2.5,5.2l0.9,2.8l0,2.5l-1.1,3.5l-2.3,2.7l-2,0.7l-7,0.6M1295.9,1684.1l-2,-0.2l-2.2,-1.9l-3.4,-4.5l-4.8,-4.5l-2.4,-5l-4,-4.5l-3,-6.5l-1.2,-4.7l-4.1,-8.8l-1,-9.5l-4.2,-5.5l-0.2,-6l-1,-5.5l1.3,-11l-0.8,-4.5l-0.2,-8l1.9,-6l-0.3,-4.5l1.5,-4l3.2,-5.5l3.9,-11.5l1.6,-8l2,-3.1l6.9,-4.4l4.1,-5.6l2,-1.3l2,-0.5l9,4.4l4,3.5l4,4.6l6.3,15.9l4.2,5.5l0.3,3.5l-1.4,4.5l-0.1,2l1.1,2.9l2.7,2.6l0.8,1.5l-0.9,7l1.9,4.5l0.2,2l-1.8,9.5l0.5,3l1.9,5l-1,9l-1.4,4.5l0.4,3.5l-0.3,2l-2.3,5l-3.5,4l-3.9,9.5l-0.2,2l1.2,5.5l-0.4,2.7l-1,1.3l-4,2l-2.7,4.5l-9.3,7.6M1412.9,1670.0l-9,0.4l-7.5,-2l-8.5,-0.7l-4.5,0.8l-2.5,-1l-3,-4.5l4,-0.4l4.1,-3.6l5.9,-2.7l4.4,-5.3l1.4,-3.5l-0.8,-1l-9.4,-4.5l-7,-0.2l-7.8,-1.3l2.2,-1l11,-2.4l2.5,0.6l6,3.6l2.5,-0.3l3,-2.4l1.5,-0.5l6.7,2.9l1.3,2l0.1,4l0.8,2.5l6.3,10l0.9,2.5l-0.1,3l-1,2.6l-1.5,1.8l-2,0.6M1295.9,1681.6l-1.5,0.3l-1.5,-0.8l-3.3,-4l-4.6,-4l-1.1,-1.5l-1.7,-4.5l-4.1,-5l-2.6,-5.5l-1.3,-4.5l-4.3,-8.5l-1.4,-10.5l-3.9,-5l0,-5.5l-0.7,-4.5l1,-12l-1.2,-5.5l0,-6.5l2.7,-6.5l-0.4,-5l0.6,-2.5l3.6,-6.5l4.3,-11.5l1.3,-6.5l1.1,-2.7l1.7,-1.8l5.5,-3.5l4.9,-5.1l2.5,-1.3l2,0.4l7,4.1l2.8,2.3l4.2,4.8l1.2,2.2l1.2,5.5l7.7,13l0.3,2.5l-1.4,4.5l-0,2l1.4,4l2.6,3l0.6,1.5l-1.1,7l1.8,6l-1.4,7.1l0.9,4.9l1.8,5.5l-1.4,7.5l-2.2,5l0.6,4.5l-0.4,2.5l-1.7,3.5l-3,3.5l-1.4,5l-2.8,5l-0.2,2.5l0.8,4.5l-0.4,2.5l-4.5,4l-2.8,4.5l-7.7,5.6M1406.4,1669.0l-3,0l-6.5,-1.8l-6.5,-0.6l-4.6,-2.1l-0.4,-2l2,-2.4l4,-0.7l1.5,-0.9l5,-6.5l2.5,-2.2l2.5,-1.4l2,0l6.5,6l3.5,5.5l0.8,2.5l-0.4,3l-1.5,2.5l-2,0.7l-5.5,0.3M1295.4,1678.5l-2.5,-0.6l-7.2,-5.9l-2.1,-5.5l-4,-6l-8.4,-17l-1.6,-10.5l-3.8,-6l0.3,-21l-1.3,-7l0.3,-5.5l3,-6l-0.5,-5l0.3,-2l2.9,-5.3l3.2,-8.7l4.5,-10l0.7,-3.5l1.8,-2l9.3,-6.4l2,-0.7l2.5,0.7l6,3.4l5.3,5.5l1.4,3l-0.3,5l4.1,3.5l4.5,8.5l0.3,2.5l-1,6l1.7,5l2.7,4.5l-1.2,7.5l1.5,5.5l-0.7,6l2.5,11l-3.6,12l0.1,7l-4.1,5.8l-1.2,5.7l-3,5l-0.4,3l0.6,4l-0.3,2l-4.2,4.5l-3.2,4.5l-3.3,2.2l-3.5,1.3M1404.9,1667.5l-3,-0.2l-5,-1.8l-4.5,-0.2l-1.6,-0.8l-0.6,-1.5l3.7,-2.3l7,-7.3l2.5,-0.7l3,0.6l2.5,1l1.8,1.6l2.6,4.5l0.4,2.5l-0.8,2.3l-1.3,1.2l-6.7,1M1298.4,1675.1l-2.5,0.4l-3.5,-0.5l-3,-1.3l-2.1,-1.7l-2.9,-6.5l-12.3,-23l-1.8,-10l-3,-5.5l0.6,-5l-1.3,-11l0.3,-5.9l-1.2,-6.1l0.5,-5.5l3.1,-5.5l-0.1,-7l2.3,-4l4.2,-11l5.8,-9l1,-4.5l2.4,-1.8l8.5,-3.6l7,2.6l4.6,4.3l1.3,3l-1.2,3.5l0.1,1.5l5.3,3.5l3.9,7.5l0.5,2.5l-0.6,6.5l3.8,10.5l-1.2,8l1.5,4.5l-0.3,5.5l1.6,9.5l-2.8,13l-0.1,6.5l-4,5.5l-1.2,6.5l-2.9,4.5l-0.7,4l0.1,5l-6.6,8l-3.2,2.1M1402.9,1665.1l-2.5,-0.4l-2.6,-1.7l-0.6,-1l0.4,-1.5l2.4,-3.5l1.9,-1.6l3,-0.7l3,0.7l2.1,2.6l0.7,2.5l-0.2,1.5l-1,0.8l-3,0.5l-3.5,1.8M1297.9,1673.1l-6,-0.2l-3.4,-1.9l-7.3,-15l-2.9,-4.5l-2.9,-6.6l-2.6,-3.9l-1.7,-9l-2,-5l0.7,-4.5l-1.3,-5l-0.9,-7l0.1,-5.5l-1.1,-7l0.5,-4l3.2,-5.5l0,-6.5l2.2,-4l1.3,-4.5l3.3,-7.5l5.7,-8l2.5,-4.7l2,-1.1l7,-2.2l6,1.9l3.3,2.7l1,2.5l-1.3,3.5l0.1,1.5l1.3,1.5l5,2.7l2.9,5.3l0.8,3.5l-0.5,6.5l3.3,12.5l-1.3,7.5l1.7,4l0.2,5.5l1.1,6l-0.4,2.5l-1.7,3.5l0.3,5.5l-0.9,9.9l-3.9,6.1l-0.9,6l-3,5l-1.6,9l-5,6.5l-3.2,2.1M1402.9,1659.6l-1,0.1l-0.4,-0.7l1,-2l2.4,-0.8l1.9,0.8l-0.4,1l-3.5,1.6M1296.9,1671.6l-4.5,-0.5l-2.5,-1.6l-7.7,-14.5l-3.8,-5.5l-2.3,-6l-2.8,-4.3l-2.5,-11.7l0.6,-5.5l-1.3,-4l-1.4,-8l-0.1,-5l-1.1,-7.5l0.6,-3.5l3.1,-5l0.4,-6.5l2.1,-3.5l1.2,-5l3.5,-7.5l8.4,-11.8l2,-1l6,-1.2l4.5,1l2.7,1.6l0.9,2l-1,3.5l0.6,2l1.5,1.5l5.3,3l2.3,4l0.8,4l-0.5,6l1.6,5l0.4,5l1.2,4l-1.3,7l1.9,4.5l1.3,9.5l-0.4,2.5l-2.4,4l0.9,6.5l-1.1,9l-3.3,5.5l-1,6l-2.5,4l-4.4,12.5l-2.9,4l-3,1.6M1296.9,1670.0l-3.5,-0.5l-2.3,-2l-7.6,-13l-4.1,-5.5l-2.4,-7l-2.9,-4.5l-1.6,-10l0.6,-6.5l-1.1,-3.5l-0.4,-4.5l-1.4,-4l-1.3,-11.5l0.6,-3l3.1,-5l0.6,-6l2.2,-4l1.1,-5.5l3.1,-6.1l7.5,-11.2l2,-1.3l3,-0.5l4.5,0.1l3.5,1.3l0.6,1.2l0.2,3.5l1.1,2l1.6,1.5l5,2.7l2.2,3.3l0.8,4l-0.7,6l1.7,5.5l0.1,5l1.4,4.5l-1.2,7l2,5l1.3,8l-0.5,2.5l-2.5,4.5l1,6.5l-0.8,6.5l-3.5,8l-1.1,5.5l-2.2,3.5l-1.2,4.5l-2.3,4.3l-1.9,5.2l-2.1,2.5l-2,1M1296.4,1668.6l-2,-0.5l-1.3,-1.1l-3.7,-6.5l-8.9,-11.5l-1.2,-2.5l-1.4,-5.5l-3,-4.5l-1.3,-9.5l0.7,-6.5l-1.1,-7.5l-1.8,-5.3l-1.1,-8.7l0.1,-3l2.9,-5.5l1,-6.5l2.3,-4.5l1.4,-6.5l5.7,-8.8l2.6,-5.2l1.9,-1.8l2,-0.6l6.5,1.5l4.7,5.9l6.3,4l1.7,2.5l0.6,4l-0.9,6l1.6,5.5l0.2,5l1.7,5l-1.1,7l1.9,5l1.4,7l-0.4,2.5l-2.5,4.5l0.6,8.5l-1.8,7.5l-2,5l-1.1,4.5l-2.4,4.5l-1.1,4.5l-4.3,9.5l-1.6,1.8l-2,0.8M1297.4,1666.8l-1.5,0.1l-1.5,-0.9l-3.9,-6.4l-9,-11l-1.2,-2.5l-1.2,-6l-2.9,-4.5l-1.3,-9l0.9,-6l-0.5,-6.5l-3,-12l0.3,-3.5l2.1,-6.1l1.5,-7.9l2.2,-4.5l1.1,-6l6.2,-7.9l2.2,-6.1l2.3,-1.6l2,0.3l5,2.1l4.6,4.2l5.4,3.5l1.5,2l0.6,3.5l-0.9,7l1.3,8l2.5,7.5l-1,7.5l2.1,5.5l1.1,5l-0.3,2.5l-2.5,5l0.6,6.5l-1.8,5l-0.7,6l-2.6,7.5l-2.3,4.5l-1.3,5l-3.9,8.5l-1.8,1.8M1296.9,1665.1l-2.1,-1.1l-13.1,-17.5l-1.3,-7.1l-2.9,-4.9l-1.5,-7l-0.1,-2.5l0.9,-4.5l-0.3,-6.5l-2.5,-12l0.2,-2l1.8,-5.1l1.6,-9.9l2.1,-5l1.1,-5.5l1.3,-2l6,-6l0.9,-1.5l0.5,-2.5l0.9,-0.9l7,1.5l7.6,5.4l1.6,2l0.7,4l-0.6,6l0.4,6.5l3.7,9.5l-1.1,8.5l2.4,5.5l0.9,4l-0.2,2l-2.4,5.5l0.5,6l-2.2,5l-0.4,6.5l-9.2,23l-1.2,2l-1.1,0.6M1297.4,1662.7l-1,0.3l-1.5,-1l-9.8,-12.4l-1.7,-3l-1.8,-8l-2.5,-5l-2.1,-6.5l0.9,-6.5l-0.3,-8l-0.6,-5.5l-1.4,-5.5l2.2,-7.5l1.4,-9l2.9,-10l6.3,-6.2l8,-3.9l2,0.5l4.1,2.6l1.6,1.5l0.9,2l0.9,4.5l-0.1,11l4.1,9.5l-1.4,9.5l2.7,5l0.8,3.5l-2.3,7l0.4,6l-2.4,5.5l-0.3,6.5l-7.9,19.7l-2,3.4M1296.9,1660.2l-1,0.1l-1.5,-1.1l-7.8,-9.7l-0.8,-2l-0.5,-4l-6.7,-15l-0.6,-3l1,-5l0,-10.5l-2.1,-9l2.7,-7.5l1.1,-8.5l2.8,-9.5l5.3,-5.1l8.5,-3.2l2.5,0.7l2.3,1.7l2.1,5l0.6,13l3.6,7l0.6,2.5l-1.9,10.5l2.8,3.6l0.8,2.9l-2,7.5l0.3,6l-2.3,5.5l-0.4,6.5l-8.1,19l-1.2,1.7M1295.9,1657.1l-1,-0.1l-2,-1.6l-4.7,-5.9l-0.9,-6.5l-3.2,-4.5l-4.6,-10.5l-0.4,-2.5l0.9,-4.5l-0.2,-5l0.7,-5.5l-2.5,-9.5l0.6,-2.5l3,-6l0.6,-8l2.4,-8l2.7,-3l2.5,-1.8l8.5,-2.1l2.6,1.5l2.1,5l0.7,11.5l4.2,9.5l-2.2,9.5l-0.2,3l0.5,1l2.3,1.5l0.6,2l-1.4,7l0.4,6l-2.1,5l-0.8,7l-4.7,10.8l-4.5,7.3M1294.9,1653.1l-2.5,-0.7l-2.6,-3l-1.4,-7.4l-3.7,-4.6l-4.1,-9.5l-0.3,-2.5l0.9,-5l-0.3,-4.5l1,-5.5l-2.7,-9.5l0.7,-2.5l3.8,-6.5l0,-7.5l2.2,-7l2.1,-2.5l2.4,-1.7l7.5,-0.5l2,0.9l1.7,2.8l1.6,11.5l3.8,9l-3,14.5l2.2,6.5l0.8,8.5l-1.9,5.5l-0.8,5l-2.8,7.5l-2.5,4.8l-4,3.8M1294.9,1650.0l-2,0.1l-2,-1.9l-1.5,-6.7l-4.1,-5l-3.8,-10l0.9,-6l-0.2,-4.5l1.1,-5.5l-2.5,-8l-0,-2.5l4.6,-8l-0.1,-7l2.2,-6l2.1,-2.8l2.5,-1.1l6,1.1l2,1.6l1.5,4.7l1,6l3.1,7.5l0.4,2l-3.1,14.5l2.2,7.5l0.6,7.5l-2.5,8l-2.7,4.5l-1.2,5.5l-1.9,2.8l-2.5,1.8M1294.4,1647.6l-1.5,-0.2l-1,-1.1l-1.7,-5.9l-4.1,-4.5l-3.4,-8.5l0.7,-11.5l1.1,-5.5l-2.5,-9l0.9,-3.5l3.8,-6l0,-5.5l0.5,-2l2.5,-3l1.6,-3l1.7,-0.7l4.5,1l2,2.1l5.2,17.6l-2.7,14.5l2.2,8.5l0.3,6l-2.3,6.5l-3.7,5.5l-1,5.5l-1.1,1.5l-1.8,1.1M1294.4,1644.2l-1.5,-0.5l-2.1,-4.7l-3.7,-3.5l-3.2,-8.5l0.7,-10.5l1.1,-6l-2.1,-10l0.8,-3l3.5,-5.5l0.3,-5l0.6,-1.5l4.7,-4l1.5,-0.6l2,0.6l2,2.4l4.2,13.5l0,6.5l-2,9.5l1.8,7.5l0.5,4.5l-1.8,6l-7.2,12.7M1294.4,1640.1l-1,-0l-5.3,-5.5l-0.9,-4.5l-1.7,-3l-0.5,-2l2,-14.5l-1.3,-12.5l3.3,-5.5l1.1,-5.5l1.9,-1.7l2.5,-0.7l1.5,0.4l1.3,1.1l2.7,5.1l1.9,6.9l0.5,5l-1.9,10.5l1.6,8.5l0,4.5l-1.6,4l-6.1,9.6M1294.4,1637.1l-1,-0.3l-3.5,-3.2l-0.5,-5.1l-2.5,-3l-0.4,-1.5l2.1,-21l-1,-5.5l2.5,-4.5l1.3,-4.4l2,-1.2l2.5,1.3l3,4.4l2.5,10.4l-1.6,10.5l1.3,8.5l-0.2,3.5l-1.4,3.5l-4.1,6.9l-1,0.8M1293.9,1633.6l-1.8,-1.6l-0.3,-5l-2.8,-4.2l-0.6,-4.3l2.3,-17l-0.3,-4.5l3.1,-4.7l1.5,0.7l3,3.4l2.5,8.1l-1.4,10l0.9,8l-0.3,3l-1.8,4l-3,3.6l-1,0.5M1295.9,1629.1l-1,0.3l-0.5,-0.6l-1,-3.7l-3,-4.9l-0.6,-2.6l1.5,-12l2.1,-5l1.5,-0.8l1.5,0.8l1.5,1.8l1.1,3.2l-1,11.5l0.4,7l-1,3.2l-1.5,1.9M1295.4,1622.0l-3,-3.2l-0.7,-2.3l1,-9l0.7,-1.6l1.5,-0.9l1.8,1.5l0.5,3l-0.3,5l-1.6,7.5" fill="none" stroke="#000" stroke-width="1.2" stroke-linejoin="round"/>
<path d="M1272.5,1655.9h1.4v1.4h-1.4zM1352.7,1560.5h1.4v1.4h-1.4zM1308.3,1547.4h1.4v1.4h-1.4zM1309,1527.5h1.4v1.4h-1.4zM1289.6,1628h1.4v1.4h-1.4zM1434.2,1646.4h1.4v1.4h-1.4zM1384,1555.6h1.4v1.4h-1.4zM1339.2,1557.7h1.4v1.4h-1.4zM1397.9,1667.3h1.4v1.4h-1.4zM1266.5,1686.7h1.4v1.4h-1.4zM1257.9,1618.9h1.4v1.4h-1.4zM1256.3,1602.9h1.4v1.4h-1.4zM1317,1608h1.4v1.4h-1.4zM1334.8,1566.4h1.4v1.4h-1.4zM1439.2,1589.2h1.4v1.4h-1.4zM1326.1,1685h1.4v1.4h-1.4zM1426.6,1693.8h1.4v1.4h-1.4zM1345,1681.6h1.4v1.4h-1.4zM1346.1,1628.5h1.4v1.4h-1.4zM1382.2,1697.7h1.4v1.4h-1.4zM1305.5,1643.8h1.4v1.4h-1.4zM1427.2,1528.5h1.4v1.4h-1.4zM1349,1645.7h1.4v1.4h-1.4zM1294.4,1682.1h1.4v1.4h-1.4zM1312.1,1689.3h1.4v1.4h-1.4zM1363.7,1641.4h1.4v1.4h-1.4zM1257.8,1649.3h1.4v1.4h-1.4zM1311.4,1540.1h1.4v1.4h-1.4zM1327.2,1663.3h1.4v1.4h-1.4zM1347.2,1564.3h1.4v1.4h-1.4zM1312.8,1589.5h1.4v1.4h-1.4zM1272.1,1584.2h1.4v1.4h-1.4zM1251.7,1604.7h1.4v1.4h-1.4zM1363.8,1551.3h1.4v1.4h-1.4zM1314.9,1531.9h1.4v1.4h-1.4zM1343.6,1664.1h1.4v1.4h-1.4zM1293.5,1694.3h1.4v1.4h-1.4zM1245.5,1643.9h1.4v1.4h-1.4zM1244,1575.1h1.4v1.4h-1.4zM1297.8,1665.8h1.4v1.4h-1.4zM1385.7,1683.7h1.4v1.4h-1.4zM1275,1534.9h1.4v1.4h-1.4zM1311.6,1653.2h1.4v1.4h-1.4zM1312.2,1615.5h1.4v1.4h-1.4zM1435.3,1687.5h1.4v1.4h-1.4zM1293.3,1573.5h1.4v1.4h-1.4zM1269,1632.9h1.4v1.4h-1.4zM1394.6,1627.5h1.4v1.4h-1.4zM1307.5,1582.4h1.4v1.4h-1.4zM1330,1650.9h1.4v1.4h-1.4zM1248.3,1603.8h1.4v1.4h-1.4zM1242.1,1668.1h1.4v1.4h-1.4zM1405.6,1545.4h1.4v1.4h-1.4zM1323.1,1546.4h1.4v1.4h-1.4zM1352.1,1604.8h1.4v1.4h-1.4zM1315.4,1647.6h1.4v1.4h-1.4zM1408,1680.2h1.4v1.4h-1.4zM1355.5,1577.8h1.4v1.4h-1.4zM1306.3,1682.5h1.4v1.4h-1.4zM1404.8,1533.3h1.4v1.4h-1.4zM1424.6,1633.1h1.4v1.4h-1.4zM1388.2,1622.6h1.4v1.4h-1.4zM1311.2,1647.8h1.4v1.4h-1.4zM1396.1,1613.6h1.4v1.4h-1.4zM1364.7,1549.2h1.4v1.4h-1.4zM1398.9,1677h1.4v1.4h-1.4zM1418.5,1526.6h1.4v1.4h-1.4zM1246.6,1669h1.4v1.4h-1.4zM1420.8,1675.8h1.4v1.4h-1.4zM1374.7,1594.4h1.4v1.4h-1.4z" fill="#000"/>
<rect x="1240.4" y="1480.8" width="91.2" height="133.4" fill="none" stroke="#2e9a55" stroke-width="1.6"/>
<rect x="1240.4" y="1617.6" width="89.9" height="73.4" fill="none" stroke="#5a9bea" stroke-width="1.6"/>
<rect x="1334.5" y="1617.6" width="98.8" height="73.4" fill="none" stroke="#f7a24a" stroke-width="1.6"/>
<rect x="1202.4" y="1433.5" width="289.2" height="289.2" fill="none" stroke="#1a1a1a" stroke-width="1.8"/>
<path d="M1202.4,1614.1h-4 M1202.4,1598.9h-4 M1202.4,1588.1h-4 M1202.4,1579.8h-4 M1202.4,1572.9h-4 M1202.4,1567.2h-4 M1202.4,1562.2h-4 M1202.4,1557.7h-4 M1202.4,1553.8h-7.5 M1202.4,1527.8h-4 M1202.4,1512.6h-4 M1202.4,1501.8h-4 M1202.4,1493.5h-4 M1202.4,1486.6h-4 M1202.4,1480.9h-4 M1202.4,1475.9h-4 M1202.4,1471.4h-4 M1202.4,1467.5h-7.5 M1202.4,1441.5h-4 M1202.4,1629.6h-7.5 M1202.4,1635.6h-4 M1202.4,1638.6h-4 M1202.4,1640.6h-4 M1202.4,1642.6h-6 M1202.4,1644.6h-6 M1202.4,1646.6h-6 M1202.4,1648.6h-4 M1202.4,1650.6h-4 M1202.4,1653.6h-4 M1202.4,1659.6h-7.5 M1202.4,1672.6h-4 M1202.4,1688.6h-4 M1202.4,1700.6h-4 M1202.4,1709.6h-4" fill="none" stroke="#1a1a1a" stroke-width="1.4"/>
<rect x="1194.4" y="1641.6" width="8" height="6" fill="#1a1a1a"/>
<path d="M1338.3,1722.7v8 M1360.8,1722.7v4.5 M1373.9,1722.7v4.5 M1383.3,1722.7v4.5 M1390.5,1722.7v4.5 M1396.4,1722.7v4.5 M1401.4,1722.7v4.5 M1405.8,1722.7v4.5 M1409.6,1722.7v4.5 M1413,1722.7v8 M1435.5,1722.7v4.5 M1448.6,1722.7v4.5 M1458,1722.7v4.5 M1465.2,1722.7v4.5 M1471.1,1722.7v4.5 M1476.1,1722.7v4.5 M1480.5,1722.7v4.5 M1484.3,1722.7v4.5 M1487.7,1722.7v8 M1281.7,1722.7v8 M1289.7,1722.7v4.5 M1293.7,1722.7v4.5 M1296.7,1722.7v4.5 M1298.7,1722.7v4.5 M1300.7,1722.7v4.5 M1302.7,1722.7v7 M1304.7,1722.7v7 M1306.7,1722.7v4.5 M1308.7,1722.7v4.5 M1310.7,1722.7v4.5 M1313.7,1722.7v4.5 M1317.7,1722.7v4.5 M1325.7,1722.7v8 M1263.7,1722.7v4.5 M1245.7,1722.7v4.5 M1231.7,1722.7v4.5 M1221.7,1722.7v4.5 M1213.7,1722.7v4.5" fill="none" stroke="#1a1a1a" stroke-width="1.4"/>
<rect x="1299.7" y="1722.7" width="8" height="7" fill="#1a1a1a"/>
<text x="1187.4" y="1475" font-size="23.5" fill="#141414" text-anchor="end">10<tspan font-size="16" dy="-11">5</tspan></text>
<text x="1187.4" y="1561.3" font-size="23.5" fill="#141414" text-anchor="end">10<tspan font-size="16" dy="-11">4</tspan></text>
<text x="1186.4" y="1652.6" font-size="23.5" text-anchor="end" fill="#141414">0</text>
<text x="1303.7" y="1762.8" font-size="23.5" text-anchor="middle" fill="#141414" font-weight="bold">0</text>
<text x="1396.6" y="1762.8" font-size="23.5" fill="#141414">10<tspan font-size="16" dy="-11">4</tspan></text>
<text x="1609" y="1471.5" font-size="21.8" fill="#141414" textLength="44.2" lengthAdjust="spacingAndGlyphs">MPP</text>
<text x="1592" y="1507.4" font-size="21.8" fill="#141414" textLength="66.3" lengthAdjust="spacingAndGlyphs">40.8%</text>
<text x="1586.5" y="1676" font-size="21.8" fill="#141414" textLength="62" lengthAdjust="spacingAndGlyphs">38.6%</text>
<text x="1697.2" y="1677.5" font-size="21.8" fill="#141414" textLength="59.5" lengthAdjust="spacingAndGlyphs">15.4%</text>
<text x="1547.3" y="1715.5" font-size="21.8" fill="#141414" textLength="80.2" lengthAdjust="spacingAndGlyphs">ST-HSC</text>
<text x="1694.2" y="1715.5" font-size="21.8" fill="#141414" textLength="78.1" lengthAdjust="spacingAndGlyphs">LT-HSC</text>
<path d="M1635.5,1705.5l-3.5,-0.3l-11,-5.8l-7.5,-1.8l-11,-6.4l-7.5,-6.5l-4.9,-2.3l-1.3,-2l-0.8,-3.5l0.2,-11l0.4,-3l1.6,-4.5l0.1,-5l3.6,-3.6l1.3,-2.4l-0.9,-7l0.6,-1l3,-2l0.7,-1.5l0.2,-4.5l3.4,-18l-0.8,-4.5l-0,-5l-2,-7l0.9,-6.5l-0.2,-11.5l1.1,-5l-1.1,-4.5l0.7,-2l3.3,-5.5l1.2,-6.5l3.2,-9.5l3.5,-5.8l3,-3l2,-4l5,-4.1l4.5,-2l7,-1.1l8.5,-3.6l2,0.6l2.8,3.5l1.4,1l6.8,1.8l6,0.2l7,4.5l5,1.9l7.5,4.2l7.5,7l0.9,5.8l4.6,9l0.9,10l1.4,5l0,3l-2.7,11l-3.6,5l-1.1,5.5l-5.7,9.5l-1.8,4.5l-3.6,6l0.2,2.5l2.5,4.5l0.2,5l5.7,2.4l13,14.1l9,7.1l3,0.9l5.5,-1.4l7.8,2.8l10.8,6.5l1.7,2l0.6,2.5l-0.6,2.5l-1.8,2l-11,6.1l-2,0.2l-6.5,-1.8l-5.5,2.2l-4.5,-0.9l-2,0.2l-5,2.1l-5,1.1l-8.5,4.3l-4.5,0.7l-5.5,2.2l-12,2.2l-1.5,0.9l-3.5,3.8l-2.5,1.5l-9,3.7l-11,2.1M1638.5,1703.4l-3.5,0.4l-3,-0.6l-12.5,-5.8l-5.5,-1.1l-10,-4.9l-8.5,-7.2l-5,-2.7l-1,-2.1l-0.3,-3l0.3,-11.5l2.3,-6l0.1,-4.5l4.2,-6.5l-0.2,-7l2.9,-2.5l0.8,-1.5l0.2,-6l3.6,-16.5l-0.6,-10.5l-2.1,-7l0.9,-9.5l-0.6,-8l2.3,-6.5l-0.9,-5l3,-5.5l4.3,-16l1.4,-2.4l5.1,-4.6l2.4,-4.8l1.5,-1.4l7,-2.8l5,-1l5,-2.4l4,-0.6l2,0.5l4.5,2.7l13.5,1.6l2.4,1.7l4.1,4.7l5.5,0.7l6.5,3.3l3.4,3.8l2.3,5.5l4.2,7l2.2,5l1,8.5l1.7,5l0.2,2.5l-2.4,11.4l-3.6,4.6l-1.2,6.5l-5.3,8.5l-1.8,5l-4.1,6.5l-0.1,2.5l2.5,4.5l-0.3,4.5l0.5,1.5l1.5,1.2l4.5,1.6l9.9,9.7l3.2,4.5l5.4,3.1l4.5,3.7l3.5,1.2l4,-1.5l2,-0.2l5.5,1.8l11,7.1l1.3,1.4l0.5,2l-0.7,2.5l-1.5,2.1l-9,5.3l-2.5,0.3l-6,-1.4l-5.5,1.7l-4.5,-0.7l-2.5,0.3l-4,1.7l-5,1l-8.5,4.4l-5.5,1.1l-4.5,2l-13,2.2l-2,1.3l-3.2,3.7l-2.3,1.4l-5.5,1.7l-4,2l-7,1M1640.5,1701.9l-5.5,0.2l-8.5,-2.4l-8,-4.7l-14,-4.1l-3.5,-2.5l-5,-4.8l-4.5,-2.5l-0.9,-1.7l-0.2,-2l0.9,-11.5l2,-6l0.5,-5.5l3.1,-6l0.4,-6.5l3.4,-4.5l0.1,-6.5l3.7,-16.5l-0.3,-10.5l-1.8,-7l0.3,-10.5l-0.8,-6l0.5,-2.5l2.6,-5l-0.6,-5.5l2.1,-4l1.5,-6l4.1,-5.5l-0.8,-4l0.3,-1.7l6,-6.3l2.5,-4.2l2,-1.2l10,-2.5l4.5,-2.9l3,-0.6l3,0.5l5,2.1l12.5,1.4l2,1.3l3,4.4l2.5,2.2l1.5,0.5l4.5,-0.5l4.5,1.9l2.8,2.8l2.2,5.8l4.9,7.2l1.9,4l1.2,9l1.7,5l0.1,2.5l-1.2,4l-1,6.5l-3.5,5l-1.3,6l-5.5,9.5l-1.5,4.5l-4.5,7.5l0.1,2.5l2.4,4.5l-0.1,4.5l0.8,2l1.5,1.4l4.5,1.8l9.2,8.3l3.8,5.6l5.5,3.1l4.5,3.4l4,1.7l6,-1.9l5,1.2l2.6,1.4l7.8,6l1.3,2.5l-0.4,2l-1.4,2l-8,4.7l-2.5,0.4l-6,-1.2l-5,1.4l-5,-0.5l-2.5,0.3l-8,2.3l-9,4.7l-5.5,1.3l-5,2.2l-13,2l-2,1.2l-3,3.4l-2,1.4l-6,1.4l-4.5,2.4l-4,0.5M1639.0,1700.9l-3,-0.2l-4.5,-1.5l-6.5,-1.1l-8.5,-6.4l-3.5,-3.5l-2,0.1l-2.5,2.4l-4,-0.7l-3.5,-2.6l-4.5,-4.5l-4,-2.4l-1,-2.6l0.9,-8l2.6,-5l0.1,-9l2.4,-7l0.7,-6l3.3,-5.5l-0,-7l3.6,-15.5l0.2,-17l-1.7,-5.5l0,-7l-0.8,-5l3.4,-7.5l2.1,-13.5l1.1,-2.2l4.2,-4.8l0.6,-2l-0.1,-3.5l0.6,-1.5l6.3,-8l1.9,-1.1l4,-0.9l5.5,-0.2l4.5,-3.9l3,-0.7l7,2.3l4,0.2l4.5,1.4l4,0.4l5.5,6l3,2.4l1.5,0.2l4,-0.9l3.5,1.3l2,2l2.2,5.5l5.6,7.5l1.7,3.5l1.2,9.5l1.3,5.5l-2,10.5l-6.5,12.5l-1.5,5.5l-8.7,16.5l0.4,2l2.5,4.5l0.3,4.5l1,2.6l2,2.1l4,1.8l6,4.5l3.6,3.5l3.2,5l3.2,2.6l11,6.4l3,0l5,-1.5l4,1l8.4,7l1.1,2.5l-0.5,1.5l-1.4,1.5l-6.6,3.7l-2.5,0.2l-5,-1.1l-5.5,1.3l-8,0.1l-6.5,1.9l-7,4l-8.5,2.8l-4.5,2.1l-13.5,2l-1.9,1.1l-3.1,3.2l-2,1.3l-6,1l-5,2.9l-4.5,0.6M1641.5,1699.4l-4,0.1l-5.5,-1.7l-6.5,-0.5l-2,-1.3l-8.6,-8.2l-1.9,-1.1l-3,-0l-3,2.4l-2.3,-0.3l-3.3,-2.5l-3.9,-4.1l-3.6,-2.4l-0.9,-2l0.7,-7l3,-5.5l-0.5,-7.5l1.6,-5.5l1.4,-8.5l3.3,-6l-0.1,-7.5l3.7,-15.5l0,-6.5l1,-10l-2.6,-7.5l0.4,-6l-0.4,-4l4.3,-12.5l0.5,-8.5l1,-2l4.3,-5l2.5,-8.5l4.9,-5.6l4,-1.6l7,0.6l2,-1.3l3,-3.7l2.5,-0.8l2,0.4l4,1.9l4.5,0.4l8,2.9l9,7.6l2,0.1l3.5,-0.9l2,0.6l1.7,1.8l2.2,5l6.1,7.3l1.8,3.2l1.3,14l-1.5,11.5l-3.2,6.5l-3.7,4l-0.5,6.5l-4.7,6.5l-1.9,6l-3.1,4.5l0.5,2l3.1,5l1.1,5.5l1.2,2.5l2.2,2.5l5.5,2.9l5,3.6l2.5,2.6l4,5.8l4.5,4l9,5l8,0.2l3,0.7l6.2,4.9l1.3,2l-0.7,1.5l-4.9,3.6l-2,0.2l-5,-1.1l-5.5,1.5l-7,-0.1l-3,0.6l-4,1.5l-6.5,4.1l-13.5,5.3l-14,2.1l-6.5,4.8l-7,1.5l-6,3.1M1641.0,1698.0l-3.5,0l-5.5,-1.6l-6,0.2l-11.6,-10.1l-4.4,-1l-4.5,1.3l-1.5,-0.5l-8.5,-7.4l-0.6,-1.5l-0.2,-4l0.5,-3l2.7,-4.5l-0.4,-8l1.5,-4.5l1,-9l3.4,-6.5l-0.3,-7.5l0.8,-4.5l1.9,-5l0.6,-3l1.6,-19.5l-2.5,-6.5l-0.3,-2.5l2.7,-14.5l2,-6.5l0.2,-8.5l5.2,-6.5l3.4,-9l4.1,-4.3l3,-1.3l5.5,1.2l2.5,-0.4l2.4,-1.7l2.6,-3.4l2,-0.7l2,0.6l3,2.1l4.5,0.5l4.5,2.8l5.5,1.7l7,5.5l5.5,-0.1l1.5,0.5l3.1,5l8,9l0.9,3l0.4,6l-1.1,6l-0.4,11l-2.9,5.2l-4.4,5.3l-1,5.5l-2.6,3l-3.9,10.5l-2.7,3l-0.1,3l4.1,6.1l2.1,6.9l2.7,4l10.7,6.5l2.9,3l7.7,10l8.9,5l6.5,1l2.5,1l2.5,2l1.1,2.5l-1,1.3l-4.5,0.4l-5.5,2.4l-8,-0.2l-2.5,0.5l-3,1.5l-6,4.4l-13.5,5.6l-14.5,2.3l-7,4.1l-6,1.6l-7,3.1M1642.0,1696.0l-3.5,0.3l-6,-1.6l-4.5,0.9l-2,-0.3l-10.5,-9.2l-11.5,-3.4l-2.5,-1.2l-4.1,-4l-1.5,-4.5l0.4,-2l2.9,-5l-0.5,-7l1.7,-5l0.1,-7.5l1,-3l2.9,-5l-0.4,-6l0.6,-4.5l3.3,-8l0.2,-10.5l1.1,-11l-2.4,-6.5l-0.4,-2.5l2.5,-9l0.6,-6l1.8,-5l0.1,-9l4.5,-5.5l5.8,-10l3,-3.3l2,-0.8l5,0.8l3,-0.5l3,-1.5l3.5,-3.3l1.5,0.6l3,2.8l4.5,-0l5,3.2l6.5,1.4l5,3.9l6.5,1.1l3.5,4.6l8,8.4l1,7.5l-1.9,6l-0.2,10.5l-3.3,3.5l-4.5,9.1l-3.4,4.4l-1.4,7.5l-1.7,3.5l-3.1,3.5l-0.5,4.5l1,2l4.5,5.5l2.5,7l2.3,3.5l10.6,6.5l4.2,4.3l6.4,9.7l5.2,2.5l7.3,5l0.4,1l-1,1.5l-2.3,1.4l-6,0.1l-2.5,0.8l-3.5,2l-5,4.3l-14,6.4l-15,2.5l-6.5,3.2l-12,4.4M1643.0,1694.4l-3,0.1l-7,-1.9l-5,1l-1.5,-0.2l-6.5,-4.2l-4,-3.7l-14,-6l-3.8,-4.1l-1,-3l0.4,-1.5l2.7,-4.5l-0.3,-7.5l1.8,-5.5l-0.6,-6l1,-3.5l3.3,-6l-0.6,-5.5l0.7,-5l1,-2.5l3.5,-4.5l-1.1,-6.5l0.9,-15.5l-2.6,-7l-0.2,-2l2.6,-8l0.5,-6.5l1.9,-5l-0.1,-9l1.1,-1.9l3.1,-3.1l2.9,-4.4l4,-2.9l3.5,-5.1l1.5,-0.5l5,-0.2l8,-2l4.5,1.3l4.5,0.2l4.5,2.3l6.5,2.3l5,3l5.5,1.6l11.3,11.9l1,6l-2.3,6l-0.8,8.5l-3.3,4.5l-2.7,8l-4.5,6.5l-1.3,8l-1.1,2l-3.8,4l-1,6l0.9,2l5.7,6l2.5,6.5l1.8,3l2.4,2l6.5,3.5l6,5.1l3.1,4.4l2.9,7l1.4,1.5l3.7,2l0.9,1.5l-11.5,10.2l-13,6.8l-16,3l-17.5,7M1644.5,1693.0l-3.5,0.1l-4.1,-1.7l-4.9,-0.8l-3.5,-1.2l-4,0.7l-2.5,-0.6l-5.5,-4.5l-5,-1.9l-8.5,-4.7l-3.5,-3.5l-1,-2.5l3,-6l-0.3,-7.5l2,-5.5l-1,-6l0.8,-3l3.5,-6.5l-0.6,-5.5l0.6,-4.5l1.5,-2.9l4.1,-3.1l0.9,-1.5l-0.1,-1.5l-2.3,-4.2l0.2,-16.3l-2.8,-8.5l2.7,-8l0.6,-7l2,-4.5l-0.5,-9l0.8,-1.6l3.6,-3.4l2.4,-3.4l4.5,-3l3.5,-4.9l2,-0.8l10.5,-1.5l10.5,1.5l14.4,7l5.6,3.7l8.8,8.3l1.4,2l0.7,4l-2.6,5.5l-0.3,6l-2.8,4l-1.8,8.5l-5.3,10.2l-1,7.3l-4.5,5.1l-1.3,7.4l1,2.5l6,6.5l2.5,6.5l1.7,2.5l8.1,4.5l8.8,7.5l1.4,3l1.8,7.5l2.3,5l-0.7,2l-5.1,4.6l-5,2.4l-8.5,5.4l-2,0.6l-4,0.1l-10.5,2.8l-9.5,3.6l-5.5,2.7M1644.5,1691.9l-2.5,0l-4.5,-1.9l-5,-0.8l-4,-1.4l-4.5,1l-2,-0.3l-4.5,-3.8l-5.5,-2.3l-3.5,-2.6l-5,-2.6l-2.8,-2.9l-0.7,-2l2.7,-5.5l-0.3,-7.5l2.5,-6.5l-1.3,-4l-0.1,-2l0.9,-3l3.3,-6l-0.4,-5.5l0.6,-4.5l1.7,-2.5l4.5,-2.7l1.5,-3.3l-0.4,-2l-2.1,-2.5l-0.8,-2l-0.7,-15l-2.8,-8l2.6,-7.5l0.6,-7l2.7,-5l-1.1,-5.5l0.1,-3l1.4,-2.3l9,-7.6l4.4,-5.7l2.1,-0.9l6.5,-1.2l5.5,0.1l7,1.5l7,2.8l8,4.8l3.5,3.9l7.3,6l2.2,3l0.1,2.5l-2.4,5l0.3,5.5l-2.8,4.5l0.1,7l-5.8,13l-0.9,6.5l-4.2,5l-1.2,8.5l1.5,3.7l5.9,7.3l2.1,7.6l9,3.6l4.1,3.8l3.9,2.3l1.7,1.7l0.8,2l2.5,13.5l-0.9,2l-2.6,2.7l-7.5,3.2l-4,0.9l-2.5,3.4l-4,0.4l-5,2.4l-8,1.6l-13,5.8M1645.0,1690.5l-2.5,0.2l-4.5,-1.8l-5,-0.6l-4.5,-1.4l-4.5,1l-2,-0.3l-4,-3.4l-5,-2l-4.5,-3.3l-4.5,-2.5l-2,-2l-0.8,-2l2.4,-5.5l-0.5,-5.5l0.3,-2.5l3,-6l-0,-2l-1.3,-3l-0.1,-2l3.7,-8l0.4,-9l1.4,-2.2l4.9,-2.8l1.8,-5l-0.3,-2.5l-2.2,-3l-1,-2.5l-1.4,-13l-2.8,-7.5l0.3,-2l2.4,-6l0.6,-7l3.4,-5l-1.7,-5.5l0,-2.5l1.4,-2.2l6.5,-4.2l6.5,-8.3l3.1,-1.3l4.4,-0.9l7.5,0.5l11.8,4.4l7.2,4.7l3.5,4.4l4.3,3.9l1.8,3l0.6,3l-0.5,8.5l-2.1,5.5l0.2,7l-5.4,13.5l-0.9,6l-4.1,4.5l-0.9,10.5l2.3,6l3.5,3.5l1.3,2l0.4,6l0.9,2l2.6,1.5l7,1.2l4.5,3.8l4.5,2.7l1.1,1.8l0.2,3l1.2,5l-0.3,7l-1.7,2.3l-7.5,2.5l-8.5,1.7l-1.3,1l-1.6,3.5l-2.1,1.7l-3.5,1.1l-6,0.3l-11.5,6M1645.0,1689.0l-2,0.2l-4.5,-1.5l-5.5,-0.4l-4.5,-1.3l-6,0.8l-4,-3.1l-5,-2.1l-8.5,-5.8l-1.6,-1.5l-0.8,-2l2.2,-5.5l-0.4,-7.5l3.9,-7.5l0,-3l-1.2,-4.5l2.9,-6.5l0.9,-7l1.2,-2.2l3.3,-1.8l1.2,-1.3l2.2,-7.2l-0.3,-3l-2.4,-3.5l-1.2,-3l-1.7,-11.5l-2.9,-7l0.3,-2l2.3,-5.5l0.6,-7l4.3,-5.5l-0.2,-2l-1.7,-3.5l-0,-2l1.6,-2.1l6,-3l4,-6.4l2,-2.2l4,-2l3.5,-0.7l7.5,1l7.5,3.4l4.5,3.2l4.5,2.1l2,1.9l2.5,4.3l4.1,5.4l0.9,3l0.1,6l-1.6,6l-0.1,7l-2.9,9l-2.1,4.5l-0.8,5.5l-1.1,1.3l-3,1.7l-0.6,1l0.7,5l-0.5,8l1.9,6l4.7,5l0,6l0.9,2.5l3,2.4l7.5,1.8l7.4,4.3l1.2,1.5l0.3,3l1.8,5l-1.3,6.5l-1.3,1.5l-6.5,2.4l-8.5,1.7l-1.5,1.1l-1.2,4.3l-1.8,1.6l-3.5,0.9l-5,-1l-2,0.1l-3.6,3.4l-5.9,3.1M1645.0,1687.0l-11.5,-0.5l-5,-1.2l-4.5,0.9l-1.5,-0.2l-4,-3l-4.9,-2.1l-7.7,-5.5l-1.5,-1.5l-0.5,-1.5l1.9,-5.5l-0.7,-5l0.2,-2.5l3.6,-5.5l0.8,-2.5l0.3,-4l-0.8,-3.5l0.1,-1.5l3.3,-10l4,-4l1.3,-2l2.1,-9l-0.4,-3l-2.5,-4l-1.1,-3l-1.8,-10.5l-3,-6l0.3,-2.5l2.4,-5.5l0.2,-6l0.9,-1.9l3.4,-3.1l0.8,-1.5l0.1,-2l-1.5,-4l0.6,-2l6.1,-3.1l3.2,-5.9l2.2,-2.5l4.6,-2.5l2.5,-0.6l4,0.2l3,0.9l6.4,3.5l3.7,3.5l6.1,2.5l1.3,2l0.5,6l5.3,7l0.8,4l-0.8,4.5l0.2,6l-1.3,6l-4.3,9l-0.9,5l-3.6,2l-1.3,2l1.6,6.5l-0.4,8.5l1.7,5.5l4.7,5l-0.3,6.5l1.4,3l4.2,3.3l9,2.4l3,1.4l1.5,1.9l2.6,7.5l-1.6,5l-1.4,1.6l-4.5,2.1l-8,1.8l-2.5,1.1l-0.9,1.3l-0.6,4l-1.5,1.4l-3,0.5l-5,-1.5l-3,0.2l-1.4,0.8l-3,3.5l-3.6,1.6M1636.5,1685.4l-3.5,0.2l-4.5,-1.1l-4,0.8l-2,-0.3l-3.5,-2.5l-5.4,-2.6l-7.1,-5.4l-1.1,-2.1l1.6,-5.5l-0.8,-7l3.8,-5.6l0.9,-2.9l0.5,-4l-0.2,-6l2.7,-7.5l5.1,-6.5l2.3,-10.5l-0.4,-3l-3.1,-6l-2.6,-11.5l-3.2,-5.5l0.3,-2.5l2.4,-5.5l0.2,-6l5.2,-6l0.3,-7.1l1,-1l4.5,-2.2l3.3,-7.1l3.2,-2.1l4,-1.5l2.5,-0.3l5,1.3l4.5,2.7l4,3.6l5.5,2.5l0.8,1.3l1.2,7l4.8,7.5l1.5,11l-1.4,7l-1.4,3.5l-2.8,4.5l-1.4,4.5l-3.7,3.5l-0.9,2l0.1,2.5l1.7,5l-0.7,9l2,5.5l4.3,4.4l0.1,1.6l-1.1,4.5l2.5,4.4l2,2.3l2.5,1.5l10,2.3l1.9,1l0.9,1.5l1.6,6.5l-1.5,3.6l-2,1.9l-14,5.4l-0.6,1.6l0,3.5l-1.4,1.6l-2,0.3l-5,-1.5l-3.8,0.1l-2.2,0.9l-2.3,2.6l-1.7,1l-9.5,1M1635.5,1684.4l-2.5,0.2l-4,-0.9l-6,0.5l-8,-4.4l-5.7,-4.4l-1.5,-1.5l-0.6,-1.5l1.1,-6l-1.1,-5.5l0.9,-2.5l3.5,-4.6l1.1,-6l0.5,-7.5l2.1,-5.5l3.8,-4.7l1.6,-2.8l2,-10.5l-0.3,-3l-2.7,-6l-0.8,-6l-2.6,-7l-3.1,-4.5l0.3,-2l2.4,-5l0.1,-6l4.9,-5.5l2.1,-7l4.8,-3.5l1.5,-5l1.3,-2.1l3,-1.4l7.5,-0.4l4,1.3l5.3,4.1l6.2,3.1l2.2,8.9l3.9,6.5l2.4,9l-0.1,3l-2.3,7l-3.1,5l-1.9,4.5l-3.4,4l-0.9,2.5l0.1,2.5l1.5,6.5l-2.2,8l3.3,6.2l3.4,3.3l-0,1.5l-1.6,3l0.1,1.5l7.2,9.2l4,1.7l9.5,2.1l1,1.6l0.5,3.5l-0.6,2l-1.9,1.9l-4,1.8l-4,2.7l-6.1,2.2l-1.1,2l0.2,4l-0.6,1l-1.4,0.2l-4,-0.8l-6,0.1l-1.5,0.6l-4,3.2l-9.5,1.7M1634.0,1683.4l-5,-0.7l-5.5,0.6l-7.3,-3.9l-4.7,-3.5l-2.2,-3l0.4,-6.5l-1.3,-5.5l0.7,-2l2.7,-3l1,-2l1.6,-12.5l1.2,-4l1.4,-2.5l5.3,-6.5l1.2,-3l0.4,-11l-2.6,-6l-0.6,-6.5l-1.8,-4.5l-0.9,-4l-2.9,-4l2.2,-5.5l0,-5.5l4.3,-5.8l2.5,-6l5,-4.4l2,-6l1.5,-1.2l2,-0.3l9,1.1l5,3.5l6.4,2.7l1,2l1.5,8l3.8,5.5l2.4,7.5l0.2,3l-2.5,7l-8.9,15l-0.4,3.5l1.2,7l-3.3,8l4.9,9.5l0.4,4.5l0.7,2l4.7,5.5l2.5,5.8l3.5,3.2l1.4,4l-1.1,4l-5.3,4l-1.7,5l-0.8,1l-3,0.6l-6,0.1l-6.5,4.2l-9.5,1.6M1635.0,1681.9l-6,-0.3l-5.5,0.6l-6,-3.1l-4.6,-3.7l-1.5,-2.5l-0.2,-7l-1.1,-5l3.6,-6l3.4,-17.5l1.9,-2.7l6,-5.6l1.5,-3.2l-1,-5l-0.2,-6.5l-2.8,-6.5l-0.7,-6.5l-1.6,-5l-0.4,-4.5l-1.4,-4l0.6,-9l5.7,-11l5.4,-5l2.1,-5.5l2.3,-1.1l8.5,1.6l5.5,3.7l5,2.3l2.3,9l4,5l2.5,7.5l-0,2.5l-2.6,7l-4.9,7l-4.1,8l-0.6,3.5l0.6,6l-3,8.5l0.6,2.5l3.8,6.5l1.5,6.5l5.8,7.5l1,8l3.1,4l0.5,1.5l-0.5,1.5l-3.3,3.5l-1.8,4.5l-1.3,1.5l-1.9,0.7l-6,0.7l-6.5,4.2l-7.5,0.9M1625.5,1681.0l-2.5,-0.1l-3.5,-1.7l-4.7,-4.8l-1.7,-7l-0.3,-5.5l1.7,-4.6l1.2,-7.4l2,-6.5l0.9,-5.5l1.9,-2.4l5,-3.4l2.6,-3.6l0.8,-2.5l-2,-12.5l-3.3,-7l-2,-14l-1.4,-5l-0,-7.5l5.4,-11.5l6.1,-5.5l2.2,-4l2.1,-0.5l5.5,1l2,0.9l2.9,2.5l2.2,4l3.9,2.2l2,4.8l4.2,5l1.6,6.5l-0,2l-2.1,7l-4.9,5.5l-6.1,12.5l-0.3,2l0.7,4l-2.1,8.5l0.7,3.5l4,7l1.5,6l6,8l0.4,2l-0.3,6l1.5,6l-3.5,7.6l-7,2.8l-6,4.1l-3.5,0.7l-10.5,-0.1l-3.5,0.6M1640.5,1679.4l-16.5,0.3l-3.1,-0.9l-2,-1.5l-1.5,-2.5l-2.7,-10l1.3,-5.5l0.6,-7.5l3.2,-7.5l0.8,-5.7l1.5,-1.8l4.7,-2.5l4,-6l1.1,-3.5l-0.1,-2.5l-1.9,-5.5l-1.1,-6l-3.1,-3.5l-0.8,-2l-1,-11.5l-2.3,-7.5l-0,-6.5l3.4,-8l2.2,-3.5l8.6,-6.7l3,-0.7l2.9,0.4l2.1,1.2l3.9,5.8l4.1,2.9l1.8,3.6l3.7,4.5l0.9,7l-1.3,7.5l-4.3,4l-2.9,7l-5.1,7l-1,2.5l-1.2,6.5l2.1,9l4.3,7.5l1.7,6l4.6,5.5l1.8,3l0.3,2.5l-0.4,5.5l0.6,6l-1,3l-1.5,1.9l-10.5,7.3l-3.5,1.3M1638.5,1619.0l-2,-0.1l-3.2,-2.6l-1.2,-2l-1.4,-5.5l-4.5,-4l-0.7,-3.5l0.2,-7l-2.9,-6.5l-0.7,-6l1.6,-5.5l4.2,-7.7l5,-3.5l7,-2.1l2,0.6l1.5,1.2l2.9,4.4l3.7,3l3.3,5.5l0.6,1.5l-0.2,3.5l1.3,7l-0.6,3l-4,4.5l-2.4,6.5l-5.8,6.5l-2.5,6.5l-1.4,2.1M1640.5,1678.4l-16.5,-0.1l-2.5,-0.6l-2.3,-2.9l-2.6,-10l0.9,-5l0.4,-7.5l3.4,-6.5l1.5,-6l1.2,-1.2l5,-1.9l4,-5.4l6,-2.2l2,0.7l2.5,4.5l3,3.4l2.3,6.1l5.2,6l1.5,4.5l-1,10l-1.8,4l-4.4,5.5l-4.8,3.4l-3,1.2M1637.5,1613.5l-1,0.3l-1.5,-0.8l-3.2,-6.1l-3.8,-3.6l-0.8,-9.4l-3.3,-6.5l-0.6,-5.5l1.5,-5l3,-6l1.6,-2l4.2,-2.5l6,-1l3,1.2l7.2,8.3l1.5,4l1.3,10.5l-0.6,3l-3,5l-1.9,4.8l-5.5,5.3l-4,6M1640.5,1677.4l-11.5,0.1l-6.5,-1.1l-2,-2.9l-2.1,-8.6l1,-12l3.2,-6l1.7,-5l1.6,-1.2l4.5,-0.9l5.5,-2.7l7,2l1.3,0.8l2.8,4.5l5.2,5.5l1.7,4.5l-0.6,4.3l-3,5.2l-0.8,5l-1,2.5l-3.4,3.5l-4.9,2.5M1636.5,1609.4l-1.5,-0.8l-5.3,-9.3l-1.6,-7l-3.1,-5.5l-0.5,-4.5l0.9,-4l4.6,-8.3l3,-2l4.5,-0.7l4,1l6.2,6.5l1.6,4l1.2,8l-0.5,5l-1.5,3.5l-3.3,4.8l-8.5,9.3M1640.0,1676.5l-6,-0.2l-5,0.4l-4.5,-1.3l-2,-2.5l-2.3,-8.5l1.2,-11l4.1,-9.4l2,-1.6l7,-1.9l2,0.3l5,2.4l5,3.2l4.1,4l1.7,4l-0.3,3l-3.6,6l-1.4,8l-2.8,3l-4.1,2.1M1638.0,1603.0l-1,-0.1l-1.6,-2.1l-4.5,-3.5l-1.9,-6.1l-2.5,-4.4l-0.6,-3l0.5,-4.3l3.2,-4.2l1.6,-4l1.8,-1.5l2.5,-0.7l2.5,0.2l2.3,0.9l4.9,4l2,3.5l1.4,6.5l-0.2,6.5l-0.8,3l-1.5,1.9l-8,7.2M1638.0,1675.4l-3.5,-0.5l-4.5,0.9l-2.7,-0.8l-1.3,-1.5l-1.2,-4l-2.7,-5.5l-0.1,-4l1.9,-7.5l3,-7l1.1,-1.1l2,-0.7l5,-0.5l9.6,4.8l2.5,2.5l2,5l-0.1,2l-2.9,6.5l-1.8,7.5l-3,3l-3.4,1M1639.0,1598.0l-4,-0.3l-3,-1.7l-3.6,-10.6l0.4,-4.5l3.7,-2.7l1.1,-1.8l0.8,-3l1.2,-0.9l5,1.1l2.5,1.3l1.8,2.4l1,4l0.7,8l-0.4,3l-1.6,2l-5.6,3.6M1631.5,1672.9l-1.5,-1l-2.3,-4l-2.9,-3.5l-0.9,-3.5l1.9,-7.5l2.7,-6.2l1.5,-1.4l3,-0.6l4.5,1.5l4.9,3.2l3.5,5.5l0.5,2.5l-1.4,3.2l-4.1,4.3l-0.7,4.5l-0.8,1.5l-1.4,0.7l-3,-0.1l-3.5,1M1637.0,1595.5l-2.5,-0.3l-1.6,-1.3l-1,-3l-0.1,-3.5l2.7,-4.4l1.5,-4.8l2,-1.4l2.5,-0.1l1.5,0.8l1,1.9l1.2,11.1l-1.5,2l-5.7,3.1M1633.5,1666.5l-2,-0l-1.5,-1l-2.9,-3.1l-0.7,-2.5l0.8,-4.5l1.3,-3l2.9,-3.6l2.5,-0.7l2.8,0.8l2.7,2l2.6,3.5l0.9,2.5l-0.5,1.5l-3,2.4l-3.5,4.2l-2.5,1.5M1636.5,1590.5l-1.6,-0.1l-0.4,-2.5l2.3,-4l1.2,-3.5l1.5,-0.7l1,0.8l0.4,1.4l-0.1,5.5l-0.9,1.5l-3.4,1.6M1633.5,1662.1l-1.5,0.1l-1.7,-1.4l-1,-2l-0,-2l0.7,-2.1l1.5,-2l2,-1.4l1.5,-0.2l2.7,1.7l1,2.5l-0.9,2l-4.3,4.7" fill="none" stroke="#000" stroke-width="1.2" stroke-linejoin="round"/>
<path d="M1702.3,1598.3h1.4v1.4h-1.4zM1719.9,1538.9h1.4v1.4h-1.4zM1735,1641.6h1.4v1.4h-1.4zM1653,1694.4h1.4v1.4h-1.4zM1598.6,1582.8h1.4v1.4h-1.4zM1592.2,1559.9h1.4v1.4h-1.4zM1779.2,1684.3h1.4v1.4h-1.4zM1670.5,1683.9h1.4v1.4h-1.4zM1638.3,1612.1h1.4v1.4h-1.4zM1671.8,1503.6h1.4v1.4h-1.4zM1769.7,1562.2h1.4v1.4h-1.4zM1748.3,1504.5h1.4v1.4h-1.4zM1696.2,1620.8h1.4v1.4h-1.4zM1749.6,1563h1.4v1.4h-1.4zM1768.7,1648.2h1.4v1.4h-1.4zM1760.4,1673.4h1.4v1.4h-1.4zM1760.2,1644.7h1.4v1.4h-1.4zM1685.4,1653h1.4v1.4h-1.4zM1624.2,1649.7h1.4v1.4h-1.4zM1733.8,1575.7h1.4v1.4h-1.4zM1653.1,1662.7h1.4v1.4h-1.4zM1607.8,1625.9h1.4v1.4h-1.4zM1764.5,1557.6h1.4v1.4h-1.4zM1777.6,1518.6h1.4v1.4h-1.4zM1723.9,1689.5h1.4v1.4h-1.4zM1712.9,1518.7h1.4v1.4h-1.4zM1777.3,1602.1h1.4v1.4h-1.4zM1610,1602.1h1.4v1.4h-1.4zM1688.4,1501h1.4v1.4h-1.4zM1642.3,1514.4h1.4v1.4h-1.4zM1657.6,1619.3h1.4v1.4h-1.4zM1737.3,1624.7h1.4v1.4h-1.4zM1658.3,1674.7h1.4v1.4h-1.4zM1763.5,1557.4h1.4v1.4h-1.4zM1745.2,1532.1h1.4v1.4h-1.4zM1739.9,1650.8h1.4v1.4h-1.4zM1667,1660.7h1.4v1.4h-1.4zM1778.2,1562.5h1.4v1.4h-1.4zM1586.5,1640.2h1.4v1.4h-1.4zM1610.8,1671.6h1.4v1.4h-1.4z" fill="#000"/>
<rect x="1580.2" y="1480" width="87.8" height="133" fill="none" stroke="#2e9a55" stroke-width="1.6"/>
<rect x="1580.2" y="1617.1" width="85.7" height="68.9" fill="none" stroke="#5a9bea" stroke-width="1.6"/>
<rect x="1668" y="1616.3" width="105.1" height="69.2" fill="none" stroke="#f7a24a" stroke-width="1.6"/>
<rect x="1543" y="1431.4" width="290.5" height="291.3" fill="none" stroke="#1a1a1a" stroke-width="1.8"/>
<path d="M1543,1614.1h-4 M1543,1598.9h-4 M1543,1588.1h-4 M1543,1579.8h-4 M1543,1572.9h-4 M1543,1567.2h-4 M1543,1562.2h-4 M1543,1557.7h-4 M1543,1553.8h-7.5 M1543,1527.8h-4 M1543,1512.6h-4 M1543,1501.8h-4 M1543,1493.5h-4 M1543,1486.6h-4 M1543,1480.9h-4 M1543,1475.9h-4 M1543,1471.4h-4 M1543,1467.5h-7.5 M1543,1441.5h-4 M1543,1629.6h-7.5 M1543,1635.6h-4 M1543,1638.6h-4 M1543,1640.6h-4 M1543,1642.6h-6 M1543,1644.6h-6 M1543,1646.6h-6 M1543,1648.6h-4 M1543,1650.6h-4 M1543,1653.6h-4 M1543,1659.6h-7.5 M1543,1672.6h-4 M1543,1688.6h-4 M1543,1700.6h-4 M1543,1709.6h-4" fill="none" stroke="#1a1a1a" stroke-width="1.4"/>
<rect x="1535" y="1641.6" width="8" height="6" fill="#1a1a1a"/>
<path d="M1680.3,1722.7v8 M1702.8,1722.7v4.5 M1715.9,1722.7v4.5 M1725.3,1722.7v4.5 M1732.5,1722.7v4.5 M1738.4,1722.7v4.5 M1743.4,1722.7v4.5 M1747.8,1722.7v4.5 M1751.6,1722.7v4.5 M1755,1722.7v8 M1777.5,1722.7v4.5 M1790.6,1722.7v4.5 M1800,1722.7v4.5 M1807.2,1722.7v4.5 M1813.1,1722.7v4.5 M1818.1,1722.7v4.5 M1822.5,1722.7v4.5 M1826.3,1722.7v4.5 M1829.7,1722.7v8 M1618,1722.7v8 M1626,1722.7v4.5 M1630,1722.7v4.5 M1633,1722.7v4.5 M1635,1722.7v4.5 M1637,1722.7v4.5 M1639,1722.7v7 M1641,1722.7v7 M1643,1722.7v4.5 M1645,1722.7v4.5 M1647,1722.7v4.5 M1650,1722.7v4.5 M1654,1722.7v4.5 M1662,1722.7v8 M1600,1722.7v4.5 M1582,1722.7v4.5 M1568,1722.7v4.5 M1558,1722.7v4.5 M1550,1722.7v4.5" fill="none" stroke="#1a1a1a" stroke-width="1.4"/>
<rect x="1636" y="1722.7" width="8" height="7" fill="#1a1a1a"/>
<text x="140.6" y="2043.6" font-size="21.8" fill="#141414" textLength="57.8" lengthAdjust="spacingAndGlyphs">MPP3</text>
<text x="241.9" y="2043.6" font-size="21.8" fill="#141414" textLength="58.6" lengthAdjust="spacingAndGlyphs">MPP4</text>
<text x="144.8" y="2201" font-size="21.8" fill="#141414" textLength="58.7" lengthAdjust="spacingAndGlyphs">82.1%</text>
<text x="250.3" y="2201" font-size="21.8" fill="#141414" textLength="59.1" lengthAdjust="spacingAndGlyphs">17.9%</text>
<path d="M220.5,2172.9l-2.5,0.1l-6,-2.2l-7.5,2.2l-7.5,-0.2l-7.5,-1.4l-7,0.7l-2.5,-1.1l-6.5,-4.3l-8,-1.7l-7.5,-7.7l-7,-2.1l-3.5,-2.3l-1.3,-3l-0.5,-3l1.6,-8.5l-1.1,-4l-2.3,-5l-1.1,-4.5l0.7,-6l-0.4,-5.5l2,-6.5l-2.1,-10l1.1,-5l3.9,-4l1.5,-4l1.5,-1.9l2.5,-1.2l7,-1.5l21.5,-10.1l5.5,-0.5l6.5,0.9l5,-0.9l5.5,3.2l4.5,1.7l7.5,0.3l6,2l4.5,0.6l3.5,1.7l13,1.3l2,1.4l3.1,4.6l1.9,0.9l4.5,0.9l2,1.1l3.3,4l4.3,4l2.8,5l1.1,4.8l2.2,5.2l1.1,7.5l-0.5,11.5l0.2,8l-2.6,9.8l-1.5,1.7l-4.5,3.1l-5,4.5l-11,7.1l-3,1.1l-7.5,1.3l-7,4.9l-9,1.1M219.5,2171.4l-7,-1.9l-8,1.9l-8,0.2l-7.5,-1.2l-6.5,0.5l-8.5,-5.4l-8,-1.8l-7.5,-7.8l-1.5,-0.7l-5,-0.7l-3.5,-2.3l-1.3,-2.7l-0.3,-2.5l2.4,-7.5l-1.9,-6.5l-2.5,-5l-0.6,-3l1.1,-6l-0.9,-5.5l2,-7l-1.5,-11.5l0.8,-2.5l3.7,-3.5l1.2,-4.5l1.6,-2l2.3,-1l6.5,-1.4l8,-3.4l8.4,-4.8l5.1,-2.1l5,-0.3l6.5,1.4l5,-1l5,3l4,1.4l10,1.1l9.5,5.2l7.5,-0.2l7.5,0.8l5,5.2l8,2.9l8,7.9l1.8,3.5l1.4,6l2.8,5l0.7,3l-0.7,12l0.5,11l-1.4,7l-1,2.4l-9.5,8.8l-10.5,6.5l-3,1.1l-7,0.7l-9.5,5.5l-8.5,1.4M197.0,2170.0l-8,-0.7l-4.5,0.4l-2,-0.4l-7.4,-5l-8.1,-2.2l-9,-8.6l-5,-0.3l-2,-0.7l-1.9,-1.7l-1,-2.5l0.3,-2.5l2.1,-4l0.3,-2l-2.4,-9.7l-2.2,-4.8l1.2,-6.5l-1.1,-6l1.4,-6.5l-0.4,-11.5l0.4,-1.5l2.9,-3.5l1.1,-5l1.5,-2l7.2,-1.7l9,-3.5l9.9,-5.8l4.6,-1.7l4,0.2l5.5,2l4.5,-1.3l1.5,0.1l6,3.4l4.5,1.1l7,0.7l6,4.4l3,1.4l14.1,1.1l6.7,4.5l6.7,2.4l9.3,8.6l1.1,2.5l1.3,6.5l2.8,4.1l0.8,2.4l-1.5,11l0.6,11l-1.3,9l-1.9,3l-7.2,6.7l-11.5,6.7l-8.5,1.2l-12,5.5l-6.5,0.7l-6.5,-1.2l-7,1.6l-5,-0.8l-3.5,1.2M195.5,2168.5l-12.4,-0.6l-5.6,-4.2l-10,-3.3l-9,-8.5l-1.5,-0.4l-3.5,0.3l-2,-0.6l-1.3,-1.3l-0.5,-1.5l0.3,-2l2,-4.4l0.2,-2.1l-1.7,-5.5l0.4,-6.5l-1.6,-4.5l-0.2,-6.5l-0.8,-5.5l1.3,-16.5l2.5,-5l1,-5l1.9,-1.7l6,-1l9,-3.5l10.5,-6.3l3.5,-1.3l3.3,0.3l6.2,2.8l5.5,-1.4l5.5,2.9l6.5,1.4l5,0.4l8,5.4l14,2.6l3.5,1.9l10.5,4.1l6.7,5.4l2.8,3l1,2.5l1.2,6.5l3.1,4l0.7,2l-0.3,3l-2,7l0.6,6.5l-1.9,5l0.9,8.5l-2.7,4.5l-4.5,4.4l-12.1,6.6l-7.9,1.4l-9.5,3.5l-15,0.9l-7,1.5l-5.5,-1.3l-5,2M194.5,2167.0l-10.5,-0.6l-5.5,-4l-6.5,-1.8l-4.5,-2.2l-4,-3l-4,-4.8l-1.6,-0.7l-4.4,-0.4l-1,-0.8l-0.4,-1.3l1.4,-7l-1.6,-6.5l1.1,-6.5l-2.1,-7l-0.9,-12l1.3,-13l2.2,-5.5l0.9,-4l1.5,-1.5l5.2,-0.7l5,-2.5l4.5,-1.5l13.5,-7.4l1.8,0.2l3.2,2l3.7,1l2.8,0.2l3.5,-0.8l4.5,2.1l8,1.7l4.5,0.4l7.4,4.9l21.1,6.3l5.8,2.7l6.7,5.3l2.6,2.7l1.1,2.5l1.3,6.5l3.2,4l0.5,1.5l-0.5,3l-2.4,6l1,6l-2.4,4l-0.6,2l0.1,2l1.5,4l-0,2.5l-2.5,5l-3,2.9l-9,4.8l-18.5,5.6l-8,0.1l-8.5,1l-6.5,1.6l-6,-1l-6,2.1M195.5,2165.0l-2.5,0.4l-7.5,-0.4l-6,-3.7l-12,-4.4l-3.4,-2.4l-3.6,-4.7l-5,-2l-1.3,-1.8l0.5,-6.5l-1.2,-5.5l0.9,-6l-2.4,-8l-0,-6.5l-0.7,-6l2,-14l3.3,-6.1l4,-1.1l5.6,-3.8l12.9,-5.9l2,-0.1l3.5,1.1l4,-1.4l2.5,-0l7,0.9l4,1.5l5,0.1l5,1.9l3.5,-0l6,3.8l8.5,3.2l4,2.2l10.5,2.4l5.5,3.9l7.3,7.4l1.4,2.5l1.7,5.5l3.1,4.5l-0.5,3l-2.7,4.5l1.4,6l-2.9,7.5l0.8,8l-1.3,4.5l-2.2,2.5l-7.6,3.5l-4.2,0.5l-3.8,2.7l-7.5,2.7l-5,0.8l-7,-0.2l-9.3,1.1l-4.7,1.3l-6,-0.7l-5.5,1.5M195.0,2163.4l-9.5,-0.2l-6,-3.6l-6.5,-2.7l-6,-1.6l-2.4,-1.9l-3.6,-4.7l-4.5,-2.5l-0.8,-1.8l0.4,-5.5l-0.6,-5l0.2,-5.5l-2.7,-10l1,-6.5l-1.1,-6.5l1.6,-11.5l2.6,-3.8l4.5,-2.3l5,-4.2l11.5,-5.6l6.5,1.2l4.5,-1.6l2.5,-0.2l5,0.9l4.5,2l5.5,0.1l4.5,2.4l5.5,0.2l16,8.8l10,1.7l8.5,6.9l4.1,4.1l5.5,12l-0.2,2l-2.4,4.5l1.3,7l-2.9,10l-0.1,8.5l-1.6,2.5l-10.6,3l-5,3.9l-5.5,2.4l-5,0.5l-7,-0.2l-15,2.2l-4.5,-0.7l-7,1.5M196.5,2161.9l-11,-0.3l-6.4,-4.2l-5.5,-2l-6.1,-1.1l-2.4,-1.9l-3.1,-4.3l-3.9,-2.7l-0.9,-1.5l0.5,-6.5l-0.6,-7.5l-3,-11l1.9,-7l-1.4,-6.5l1.3,-5.5l-0.1,-5.5l1.7,-2.4l5.4,-3.6l5.1,-4.5l9.4,-4.8l7,0.9l6,-1.8l4,0.4l5.5,2.4l6,0.7l5,2.8l6,0.7l13.5,8.2l7.5,0.5l2.5,0.7l4,4.3l5.5,3.3l2.9,2.7l1.2,2l2.7,8.5l0.2,2l-1.2,6l1.2,5.5l-0,2.5l-1.1,4l-2.6,5l0.1,5l-1.4,3.5l-8,3.4l-7.1,5.1l-3.4,1.6l-10,0.2l-16,1.8l-4.5,-1.1l-6.5,2M198.0,2160.4l-2.5,0.3l-9.5,-0.5l-2,-0.9l-4,-3.5l-12,-2.5l-2,-1.5l-3,-4.3l-3.9,-4.1l0.4,-6l-0.4,-4l-1.4,-6.5l-2.3,-7l0.3,-2l2,-5l-0.9,-7.5l1.2,-5l-0.5,-5.2l1.1,-1.8l7.1,-5.5l3.5,-3.5l7.7,-4l2,-0.2l5.5,0.8l6,-1.7l3.5,0.2l5,2.4l5.5,0.8l5.5,3l8,2.3l12.5,7.7l8,0.5l4.1,4.2l8.1,5.5l3.3,9.3l0.3,3.2l-1,7l1.5,4.5l-0,2.5l-1.2,2.9l-3.5,3.6l-0.3,1.5l0.8,4.5l-0.5,1.5l-1.4,1.4l-13.5,9l-2,0.8l-6,-0.3l-12,2.1l-6,0.2l-2,-0.2l-4,-1.6l-5,2.5M197.0,2159.5l-10.5,-0.5l-6.3,-4.6l-11.7,-2.3l-2.5,-2.2l-4.6,-7.1l-0.8,-8.5l-3.4,-13.5l2.2,-5l-0.7,-10l1,-5l-0.2,-5l2.5,-3.5l5.3,-4l3.1,-3.5l6.5,-3.2l8,0.1l5.5,-1.3l3,0.1l5,2.3l6,1l9,4.9l7,2.5l4.5,2.8l4.5,3.8l5,2.9l5.5,1.3l3.7,2l4.3,4.9l3,7.9l0.1,3.7l-1.9,4.5l-0.3,5.5l-2.7,8l1.2,6.5l-1.2,2l-2.9,2.5l-10.9,6.7l-5,-0.2l-5,1.4l-10,1.5l-4.5,-0.3l-4,-1.9l-1.5,-0.2l-5.5,3.1M196.5,2158.5l-9,-0.5l-2,-0.9l-4.9,-3.7l-11.6,-2.8l-2.8,-2.7l-2.6,-5l-3,-14l-0.4,-4.5l0.1,-2l1.7,-4.5l-1.3,-11l0.7,-10.5l2.1,-3.5l4.9,-3.5l3.2,-3.8l5,-2.4l15.5,-1.5l5.5,2.1l6.5,0.9l10,6.3l5.5,1.5l2.9,1.5l5.1,5.3l6,4.6l2,0.7l4,0.2l1.8,0.7l1.7,2l3.2,6l0.2,2.5l-1.2,5l0.5,7.5l-2.4,10l0.7,6l-0.6,1.5l-2.3,2.5l-9.7,6.1l-4,0.2l-5,1.8l-9.5,1.5l-4.5,-0.4l-6,-2.5l-6,3.3M195.5,2157.5l-7.5,-0.7l-6.5,-4l-8.5,-2.5l-5,-3.1l-2.4,-3.9l-0.9,-5.5l-2.8,-9.5l0.3,-3l2,-7l-0.8,-5.5l-0.1,-16l1.9,-3.5l4.5,-3.3l3.2,-3.7l3.3,-1.6l5.5,-1l9.5,-0.6l6,1.7l4.5,-0l2,0.5l10.5,7.6l6.5,2.1l1.2,1.3l0.3,2.5l1,1.5l5.5,2.2l5.5,4l4,1.6l4.9,6.3l-0.8,7l1.2,7.5l-2.5,9l-0.5,5.5l-1.4,2.6l-4,3.3l-2.3,2.6l-1.6,1l-4.1,0.7l-5,2.1l-8.5,1.4l-4.5,-0.3l-5,-2.5l-2,-0.3l-6.5,3.4M215.5,2156.0l-6,0.1l-7,-3.1l-2.1,0.4l-5.4,2.9l-5.5,-0.5l-8,-3.9l-6.4,-2.4l-3.1,-3.1l-3,-1.6l-1.1,-1.2l-1.5,-9l-2.7,-6l2.4,-8l0.9,-10l-1.5,-6.5l-0.2,-7l1.2,-2.5l8,-7.3l8,-1.9l8.5,-0.2l5.5,1.4l4.5,-0.4l2,0.4l6.5,4.7l10.5,10.5l7,2.6l2.8,1.8l2.9,3.5l5.2,8.1l2.6,11.4l-2.4,7.5l-1.5,7.5l-6.5,7.5l-3.6,1.1l-4.5,2.3l-6.5,1.2M212.5,2155.4l-3.5,-0.4l-6.5,-3l-2,0.3l-6,2.3l-8,-1.6l-9,-4.6l-4.2,-6.5l-0.5,-1.5l0.1,-4l-4.8,-6.5l-0.9,-2l2.7,-16.5l-0.4,-3l-1.9,-5l0.1,-5.5l0.4,-2l1,-1.5l6.3,-5.8l6.5,-1.7l4.5,0.7l4.5,-0.9l5.5,1.1l4.5,-0.7l1.5,0.3l7.5,5.9l7,8.9l2.5,1.4l6.1,2.2l3.3,3.5l3,8l1.7,10.5l0.6,8.5l-1.1,6l-4.3,6.5l-5.7,4l-2.5,1.1l-8,1.4M214.0,2154.0l-4.5,0l-5,-2.6l-2,-0.5l-7,1.6l-9.5,-1.2l-3.7,-1.4l-2.2,-2l-3.3,-10.5l-4.7,-7.5l-1.2,-5l0.3,-7l1.4,-7.5l-1.6,-7.5l0.3,-6l1.5,-3l3.7,-3.1l5,-1.6l5,0.9l5,-1.1l5.5,0.9l5,-0.4l7.8,6l5.4,8.5l7.4,3.5l4.5,6l1,2.5l2.1,11.5l-0.3,2l-2.1,4.5l0.2,6l-7.5,11.5l-1.5,1l-5,1.6M212.0,2152.5l-2.5,-0.1l-6.5,-2.6l-6.5,1.1l-6,-1.3l-5,-0.3l-2,-0.8l-1,-1.1l-2,-9.5l-4.2,-5.5l-2.6,-7.5l1.1,-10l1.2,-6l-0.6,-10.5l1,-2.5l2.1,-1.7l4,-1.6l5,0.1l5.5,-1l7.5,0.9l5,2.2l2.1,1.2l1.9,2l4,7.8l6.2,3.7l4,6l3.2,9l0.1,3.5l-2.3,4.5l-2.9,10.5l-4.6,4.5l-2.3,3.5l-2.9,1.6M198.5,2148.9l-3.5,-0.1l-8.7,-3.4l-1.1,-2.5l-1,-7l-1,-1.5l-4,-3l-2.1,-6l0.4,-2.5l2.1,-4l-0.2,-5l2.1,-7l1.1,-8l2.7,-2.5l7.7,-1.9l4.5,0.6l4,1.7l4,0.9l1.8,1.2l5.2,9.8l6,5.7l4.8,11.5l-0.5,3l-3.8,10l-1.7,3l-2.3,2.5l-6.1,4l-7,-0.2l-3.5,0.7M199.5,2144.9l-1.7,-0.5l-5.8,-6l-2.4,-4.5l-3.5,-9.5l-0.4,-8l1.3,-5l-0.5,-5l0.4,-3.1l1.8,-2.9l3.2,-2.2l2,-0.7l2,0.3l4,2.4l4.5,0.8l1.5,1.2l2.8,4.6l2.4,5.5l5,5.5l3.8,9l-0.4,2l-4,6.1l-6.9,3.4l-3.8,5l-5.3,1.5M202.0,2135.5l-4.4,-1.1l-2.1,-1.3l-4.4,-9.2l-0.9,-7.5l2.2,-10.5l0.9,-1.5l1.2,-0.6l8,1l2.5,1.3l2,2.7l2.3,5.6l3.5,4.5l2.8,6l-0.3,3l-2.5,3.5l-10.9,4.1M205.0,2130.0l-2,0.4l-1.3,-0.5l-6.2,-6.7l-1.3,-9.3l0.8,-3.5l1.5,-1.4l3.5,0.2l4,2.6l2.5,4.1l3,3.5l2.4,4.5l0.3,2l-0.8,1.5l-6.4,2.6" fill="none" stroke="#000" stroke-width="1.2" stroke-linejoin="round"/>
<path d="M254.1,2078.6h1.4v1.4h-1.4zM224.1,2144.6h1.4v1.4h-1.4zM200.2,2076.4h1.4v1.4h-1.4zM153.8,2106.2h1.4v1.4h-1.4zM190.6,2097.1h1.4v1.4h-1.4zM318.4,2086.1h1.4v1.4h-1.4zM163.8,2133.7h1.4v1.4h-1.4zM255.6,2090.2h1.4v1.4h-1.4zM229.3,2073h1.4v1.4h-1.4zM162.6,2159.1h1.4v1.4h-1.4z" fill="#000"/>
<rect x="139.3" y="2052" width="92.9" height="123.7" fill="none" stroke="#9a9a9a" stroke-width="1.6"/>
<rect x="237.2" y="2052" width="83.6" height="123" fill="none" stroke="#9a9a9a" stroke-width="1.6"/>
<rect x="117" y="1971.9" width="290.4" height="289.1" fill="none" stroke="#1a1a1a" stroke-width="1.8"/>
<path d="M117,2150.9h-4 M117,2136.1h-4 M117,2125.5h-4 M117,2117.4h-4 M117,2110.7h-4 M117,2105.1h-4 M117,2100.2h-4 M117,2095.9h-4 M117,2092h-7.5 M117,2066.6h-4 M117,2051.8h-4 M117,2041.2h-4 M117,2033.1h-4 M117,2026.4h-4 M117,2020.8h-4 M117,2015.9h-4 M117,2011.6h-4 M117,2007.7h-7.5 M117,1982.3h-4 M117,2169.2h-7.5 M117,2175.2h-4 M117,2178.2h-4 M117,2180.2h-4 M117,2182.2h-6 M117,2184.2h-6 M117,2186.2h-6 M117,2188.2h-4 M117,2190.2h-4 M117,2193.2h-4 M117,2199.2h-7.5 M117,2212.2h-4 M117,2228.2h-4 M117,2240.2h-4 M117,2249.2h-4" fill="none" stroke="#1a1a1a" stroke-width="1.4"/>
<rect x="109" y="2181.2" width="8" height="6" fill="#1a1a1a"/>
<path d="M259.3,2261v8 M281.8,2261v4.5 M294.9,2261v4.5 M304.3,2261v4.5 M311.5,2261v4.5 M317.4,2261v4.5 M322.4,2261v4.5 M326.8,2261v4.5 M330.6,2261v4.5 M334,2261v8 M356.5,2261v4.5 M369.6,2261v4.5 M379,2261v4.5 M386.2,2261v4.5 M392.1,2261v4.5 M397.1,2261v4.5 M401.5,2261v4.5 M405.3,2261v4.5 M153.6,2261v8 M161.6,2261v4.5 M165.6,2261v4.5 M168.6,2261v4.5 M170.6,2261v4.5 M172.6,2261v4.5 M174.6,2261v7 M176.6,2261v7 M178.6,2261v4.5 M180.6,2261v4.5 M182.6,2261v4.5 M185.6,2261v4.5 M189.6,2261v4.5 M197.6,2261v8 M135.6,2261v4.5" fill="none" stroke="#1a1a1a" stroke-width="1.4"/>
<rect x="171.6" y="2261" width="8" height="7" fill="#1a1a1a"/>
<text x="102" y="2015.2" font-size="23.5" fill="#141414" text-anchor="end">10<tspan font-size="16" dy="-11">5</tspan></text>
<text x="102" y="2099.5" font-size="23.5" fill="#141414" text-anchor="end">10<tspan font-size="16" dy="-11">4</tspan></text>
<text x="101" y="2192.2" font-size="23.5" text-anchor="end" fill="#141414">0</text>
<text x="175.6" y="2299" font-size="23.5" text-anchor="middle" fill="#141414">0</text>
<text x="239.3" y="2299" font-size="23.5" fill="#141414">10<tspan font-size="16" dy="-11">3</tspan></text>
<text x="317.4" y="2299" font-size="23.5" fill="#141414">10<tspan font-size="16" dy="-11">4</tspan></text>
<text x="467.7" y="2039.4" font-size="21.8" fill="#141414" textLength="58.7" lengthAdjust="spacingAndGlyphs">MPP3</text>
<text x="579.6" y="2039.4" font-size="21.8" fill="#141414" textLength="58.6" lengthAdjust="spacingAndGlyphs">MPP4</text>
<text x="471.5" y="2199.8" font-size="21.8" fill="#141414" textLength="61.2" lengthAdjust="spacingAndGlyphs">71.0%</text>
<text x="583.8" y="2199.8" font-size="21.8" fill="#141414" textLength="65.4" lengthAdjust="spacingAndGlyphs">29.0%</text>
<path d="M556.5,2158.5l-11.5,0.2l-6.5,-1.1l-6.5,0.8l-4,-0.9l-5,-2.4l-2.5,-0.6l-19.5,1.2l-2,-0.7l-3.5,-2.4l-6,-0.7l-7.5,-5l-0.6,-1.5l0.4,-1.5l6.5,-5l4.2,-7.6l0.2,-2.9l-1.9,-4.5l-0.1,-2l2.9,-6.5l1.2,-10l2.4,-4.5l1.3,-6l3.4,-5.6l2,-1.7l3.5,-1.4l8.5,1.7l7,-1.4l1.9,-1.2l3.2,-4.5l1.8,-1.4l5,-0.3l5.5,-2.8l5.5,0.5l4.5,-1.4l4.5,-0.6l4.7,-3l7.8,-1.9l8.5,-0.4l6,0.8l8.5,4.1l5,0.2l12,3.8l4.5,0.3l4.6,5.1l3.7,11l3.7,3.8l0.8,2.7l0.1,8l-0.6,2.5l-1.8,3l-5.5,5.5l-3,8l-2.9,5.5l0.6,2l3.6,3l1.2,2l-0.1,2l-1.4,4l-1.9,1.4l-6,1l-7,3.2l-5,0.4l-5,2.8l-2,-0.1l-4.5,-1.5l-2,0.6l-4,2.9l-5.5,-0.9l-10.5,0.6l-5,1.2M556.5,2158.0l-11.5,0.3l-6.5,-1.1l-6.5,0.7l-4,-1l-5,-2.5l-2.5,-0.6l-19,1.5l-2,-0.7l-3.9,-2.7l-5.1,-0.8l-3,-2.8l-3.2,-1.9l-0.1,-2l5.5,-6l3.8,-6.9l0.1,-3.1l-1.8,-4.5l-0.2,-2l3.1,-7l0.8,-9l2.5,-4.5l1.1,-5.5l2,-3.5l3,-3.4l3,-1.5l2.5,-0.1l7,1.5l7.5,-0.9l1.5,-0.8l3,-4l2,-1.5l5,-1.1l5,-2.7l5.5,0.3l4.5,-1.5l5,-0.8l4.5,-3l8,-1.9l8,-0.5l6,0.9l7.5,4.1l6.5,0.4l8,2.3l4.5,2.7l3.5,0.5l1.5,0.8l2.6,3.3l3.2,10.5l3.8,4l0.6,3.5l-0.2,5.9l-1.2,3.6l-7.3,8.5l-2.4,7.5l-3.3,5.5l0.6,2l3.9,3l1,1.5l-0.2,2l-1.4,3l-1.6,1.3l-4.5,1.4l-6.5,3l-5.5,0.9l-5,2.9l-1.5,0l-5,-1.6l-2.5,0.8l-3.5,2.5l-5.5,-0.7l-11,0.7l-4.5,1.1M553.5,2157.9l-8.5,0l-6.5,-1.2l-6.5,0.6l-3.5,-0.9l-5,-2.5l-3,-0.8l-16,1.8l-3,-0.1l-5.5,-3.4l-5,-1.4l-4.3,-4.6l-0,-2l5.1,-6.5l2.6,-5l0,-3l-1.9,-7l3,-7.1l0.7,-8.9l2.6,-4.5l1.1,-5.5l1.6,-2.7l3.6,-3.3l2.9,-1.3l2.5,-0l6,1.2l8.5,-0.6l1.5,-0.9l3.5,-4l10.5,-4.9l6,-0l4.5,-1.6l5.5,-0.9l5,-3.3l6,-1.3l7,-0.7l7.8,1l6.7,4.1l6,0l8,2l5.5,3.9l5,1.5l1.7,2.4l3.2,10l3.7,4.5l0.6,4l-0.5,3.5l-1.7,5l-7.1,8l-1.9,7.5l-3.9,5.5l0.4,2.5l4.5,4l0.1,1.5l-1.2,2.5l-1.8,1.5l-7.7,3.6l-7,1.8l-5,3l-7,-1.6l-6,3.1l-4.5,-0.6l-10.5,0.7l-8.5,1.5M554.0,2157.4l-9,0.2l-7,-1.3l-5.5,0.6l-4,-1.1l-5.8,-2.8l-2.7,-0.6l-17.5,2l-2,-0.6l-4,-2.9l-5,-2l-2.9,-4l-0.4,-1.5l1,-2l4.4,-5l1.4,-3l0.3,-3.5l-1.8,-8.5l2.8,-6.5l0.6,-8.5l2.6,-4.7l1.2,-5.3l1.1,-2l2.2,-1.8l6,-2.8l6.5,0.9l9,-0.4l1.6,-0.9l3.9,-4l9,-4.4l6.5,-0.5l5,-1.9l6,-0.9l5,-3.2l12,-2.2l7.3,1.1l6.2,4l7,0.1l7.5,1.8l6,4.6l4.5,1.9l1.1,1.6l3.4,9.5l3.6,5l0.5,3l-2.4,8.5l-6.8,7.5l-1.8,8l-4.3,5.5l0.2,3l3.8,4.5l-0.7,2.5l-5,3.5l-5.1,2.3l-4.5,1.1l-5,3.1l-7,-1.5l-6,2.8l-4.5,-0.4l-10,0.7l-8.5,1.5M554.0,2156.9l-7.5,0.4l-8,-1.5l-6,0.3l-4,-1.2l-6,-2.8l-2.5,-0.5l-17.5,2.1l-10.4,-5.8l-2.2,-3.5l-0.3,-1.5l1.4,-2.3l3.6,-2.7l0.9,-1.5l0.6,-5.5l-1.8,-9.5l2.6,-6.3l0.8,-8.7l2.4,-4.5l2,-6l1.6,-1.5l3.2,-1l4,-2.2l6,0.6l9,-0.4l6.5,-5.2l7.5,-3.6l6.5,-0.6l5.5,-2.3l6,-0.8l8.4,-4l7.1,-1.5l3,-0.1l4,1l7,4l7.6,0.1l6.5,1.4l2,0.9l4.5,4.1l4.6,3l4.4,9.9l2.8,4.1l0.7,2.5l-2.3,8.5l-6.7,7.5l-1.7,8l-5,6l0.1,3.5l2.8,4.5l-0.6,2l-3,2.5l-4.7,2.3l-4.5,1.4l-5,3.2l-7,-1.5l-6,2.5l-4.5,-0.2l-9.5,0.8l-9,1.4M550.0,2156.9l-5.5,-0.1l-6.5,-1.5l-5,0.1l-13,-4.4l-17.5,2.1l-9.5,-5.8l-1.6,-2.9l-0.1,-2l1.3,-1.5l3.9,-1.7l0.8,-1.8l-0.2,-5.5l-1.7,-8l-0,-2.5l2.4,-6l0.9,-8.5l4.5,-9.5l1.4,-1.3l7.5,-3.5l5,0.4l9,-0.5l2.3,-1.1l5.7,-4.5l6.5,-2.8l7,-0.9l5.5,-2.4l11,-1.7l4.5,-3l4.5,-1.2l3.7,0.1l10.3,4.4l7.5,0.3l6.5,1.2l2,0.9l9.5,9.1l6.2,11.7l0.5,2l-2.3,8.5l-5.3,5.5l-1.2,2l-1.6,8l-5.6,6l-0.2,3.5l2,4.5l-0.5,2l-3.2,2.5l-6.7,3.1l-4.5,3.2l-7,-1.3l-6.5,2.3l-4.5,-0.1l-22,2.8M551.0,2156.4l-6,-0l-6.5,-1.7l-5,-0.3l-5.5,-1.3l-8,-2.9l-6,1.2l-5.5,-0.1l-5.5,1.1l-2,-0.8l-7,-5.1l-0.9,-2.1l0.2,-1.5l4.2,-2l1,-2l-0.1,-4.5l-2,-8.5l-0.3,-3.5l2.4,-7l1,-8.5l3.4,-6.8l2,-2l7,-3.6l6,0.1l8,-0.9l3,-1.4l6,-4.2l6.5,-2.8l7,-0.9l6,-2.8l11,-0.8l4.5,-3.1l2.5,-0.8l2.5,0.2l4,1.9l21,2.7l3,1.2l10,10.6l2,4.8l2.5,4l0.6,2.5l-2.2,7.5l-6.1,7l-1.8,8.5l-6.7,6l-0.4,4l1.3,4.5l-0.6,1.5l-2.6,2.5l-4.9,2.8l-4,3.2l-7,-1.1l-6.5,2l-4,-0l-16,1.9l-5.5,1.2M551.5,2155.9l-7.5,-0.1l-5.5,-1.7l-11,-2l-7.5,-2.7l-6,1.3l-5.5,-0.3l-5.5,1l-2,-1l-4.4,-4l-0.4,-1.5l2.9,-3l0.8,-4l-0.4,-4.5l-2.1,-7l-0.2,-3.5l2.3,-7.5l1,-8l2.6,-5.3l2.5,-2.2l5.5,-1.9l2,-0.1l3.5,1.4l2,-0l3.5,-2.7l5.5,-1.9l14.5,-8l2.5,-0.6l5,-0.1l3.5,-2.5l2,-0.7l10,-0.1l6,-1.7l12,-0.3l17,2.5l3,1.3l8.8,9.9l1.4,4.5l3,4l0.4,3l-2.3,6.5l-5.4,6.1l-1.5,7.4l-1,2l-3.1,2.2l-6.5,2.2l-1.1,1.1l2.5,8l-0.7,2.5l-6.7,6.8l-1.5,0.8l-6.5,-0.7l-6.5,1.7l-4,-0l-11.5,1.8l-5,0.2l-4.5,1.3M551.5,2155.4l-3,0.3l-4,-0.4l-12.5,-3.8l-5,-0.5l-7,-2.6l-6,1.3l-5.5,-0.5l-4.5,1l-1.5,-0.4l-1.7,-1.5l-1.1,-2.5l1.2,-5l0.1,-6l-2.4,-7.5l-0.4,-3l2.1,-8l1.4,-9l2,-4.1l2,-1.7l3.5,-1.1l2.5,0.1l5,1.5l3,-0.3l5.7,-3.9l9.7,-5l7.6,-4.8l3,-0.5l5,1l3.1,-3.1l1.9,-0.9l9,0.2l20,-2.8l16,3.1l2.1,0.9l7,9l0,1.5l-1.2,2.5l0.2,1l0.8,0.8l4.7,1.7l1.1,2l0,2l-2.3,5.5l-3.6,3.7l-1.4,2.3l-1.6,7l-1,2.1l-3.5,2.1l-6.7,1.8l-2.9,2l-0.4,2.4l2.2,7.1l-0.6,2l-2.6,4.2l-2,1.5l-5.5,0l-6.5,1.5l-10.5,0.9l-5.5,1.4l-5,-0l-4.5,1.6M551.0,2155.0l-6,-0.2l-13,-4.2l-5.5,-0.4l-6.5,-2.6l-6.5,1.3l-5,-0.8l-4,0.5l-1.5,-0.7l-1,-2.5l0.2,-11.5l-2.6,-6.5l-0.4,-2.5l3.4,-17l1.4,-3.1l2,-1.6l2.5,-0.6l2.5,0.3l4,1.5l6,-0.9l6,-3.8l7.5,-3.8l7.2,-5.4l2.3,-1.1l2,0.2l3.5,2.2l1.5,0.1l4,-2l4.5,-0.3l8,-3.3l7,-0.8l10,-2.4l3.5,0.3l5,2.1l7,1.1l2.1,0.9l1.9,2l2.8,4.5l0.3,1.5l-0.7,3.5l0.6,2l1.5,1.4l4.5,1.6l0.7,2.5l-1.9,4.5l-4.8,6.5l-2,6.3l-1,1.6l-4,2.6l-7.7,3l-2.1,2l-0.5,3l2.1,6.5l-1.9,5l-2.4,1.6l-10.5,1.7l-10,0.6l-6.5,2l-4.5,-0.3l-5,1.9M550.5,2154.5l-4,-0.1l-5.5,-2.6l-4.5,-0.6l-4.5,-1.6l-5.5,-0.4l-6,-2.7l-7.5,0.8l-8.4,-2l-0.6,-2l0.6,-9l-3.4,-7l-0.5,-2.5l3,-15.5l1.3,-2.9l1.7,-1.1l2.3,-0.1l4.5,2.6l1.5,0l7,-2.4l6,-3.9l5.5,-1.5l10,-7.9l1.5,-0.1l3.3,2.2l2.2,0.2l4.5,-2l6,-1.4l7,-3.2l9,-1.3l7.5,-2.6l3,0.1l5,2.6l6.5,0.9l2.5,1l3.4,4.9l0.2,5.5l0.7,2l1.7,2.1l3.4,2.4l0.1,2l-1.3,3.5l-6.2,9.4l-3.1,2.1l-2.7,4l-7.1,3.5l-2.2,2.3l-0.9,4.2l2,6.5l-1.1,3l-2,1.5l-8,1.7l-8,0.1l-5,0.8l-4.5,1.9l-5.5,-0.1l-5,2.2M550.0,2153.9l-4.1,-0.5l-3.9,-3.5l-5.5,0.4l-4.5,-1.6l-5.5,-0.5l-5.5,-2.8l-7,-0.3l-2.7,-1.3l-1.3,-2l-0.6,-3.5l0.6,-1.8l2.3,-3.2l-6.8,-4.1l-2,-2.3l-0.9,-2.2l1.9,-11.5l1.2,-3l0.8,-0.8l1.5,-0l4,3.2l2,0.1l14,-8.7l6,-0.9l4.5,-2.9l4,-0.9l4,-2l4.5,-0.6l18,-6.7l10.5,-1.4l5.5,-2.9l2.5,0.2l4,2.6l6,0.7l3,1.1l2.7,3.5l1.1,6.5l3.9,7l0.2,3l-1.4,3l-2.9,4.1l-6,3.9l-2.5,5l-6.5,3.5l-2.6,3l-1.4,4.5l1.8,5.5l-0.4,2.5l-2,1.5l-5.5,1.7l-7.5,-0.2l-4,0.6l-7,2.6l-5.5,0.1l-5,2.3M550.5,2152.9l-2,0.2l-2,-0.7l-4,-4.6l-1.5,0.1l-3,1.4l-1.5,-0l-4.5,-1.5l-5,-0.5l-4.5,-2.8l-6,-2l-0.7,-1.2l0.2,-1.5l1,-1.1l4.6,-2.4l0.9,-1.5l0,-2l-1.3,-2l-2.2,-1.5l-7.5,-0.7l-5.9,-3.8l-0.8,-1.5l-0,-2l2.2,-6.5l1.5,0.1l3,1.8l2,-0.1l6,-3l3.5,-3.3l3,-1.8l9.4,-3.2l9.6,-4.6l6.5,-1.5l15.5,-5.7l9,-0.9l9.5,-4.4l1.5,0.1l3.5,2.3l6,0.2l3.5,1.5l2.2,3.6l0.8,4l3.1,9.5l-0.1,2.5l-3,4.6l-6.5,3.4l-3,6l-5.7,3l-3.8,3.5l-1.7,5l0.6,5l-0.8,2.5l-3.5,2.3l-2,0.2l-6,-0.8l-10,3.6l-5.5,0.5l-4.5,2.2M549.5,2151.9l-2.5,-0.9l-3,-4.1l-1.5,-1.1l-1.5,0.1l-3,1.7l-2,0.1l-3.5,-1.2l-5,-0.8l-3.7,-3l-0.9,-1l-0.1,-1l2.6,-4l0.2,-3.5l-3.1,-4.4l-7,-6.1l-0.4,-1.5l0.9,-2l6.2,-4l3.7,-3.5l19,-8.8l8,-0.3l13,-5.6l10,-1.2l4.5,-2.8l2.5,-1l2,-0l3.5,1.2l7,-0.9l3.6,1.4l1.8,2.5l2.5,8l-0.1,4.5l0.6,3l-1.1,2.5l-2.3,1.5l-5.5,0.6l-1,1.3l-1.5,5.1l-1,1.7l-10.4,5.8l-0.8,1.5l-0.5,3.5l-1.8,3.5l-0.4,3l-1.2,1.8l-6,0.7l-4.8,2.5l-5.7,2l-5.5,1l-5,2M551.0,2150.0l-1.5,0.2l-1.5,-0.5l-3.5,-4.6l-1.5,-1.1l-1.5,-0l-4,1.7l-1.5,0.1l-7.8,-3l-0.6,-2l1.8,-4l-0.1,-3l-1,-2l-4.3,-4l-3.1,-4l-0.8,-2.5l0.9,-2l12,-8.7l6,-1.9l5.5,-2.7l3,-0.3l4,1.5l2,0.1l5.5,-2.5l8.5,-1.5l10.5,-5.4l5,-3.3l5,0.8l7,-1.2l3.5,1.5l1.3,2.1l2.2,6.5l-2.2,7.5l-6.3,1.9l-1.7,1.1l-2.9,7.5l-1.6,1.5l-5.8,3l-2.6,2l-1.3,2l-1.1,3.4l-3.4,3.1l-0.9,3l-0.8,1l-6.9,4.4l-13.5,4.2M552.5,2147.4l-2,0.3l-1.7,-0.4l-3.3,-4.1l-2,-1.2l-5.5,0.8l-1.5,-0.5l-0.9,-1.9l-0.1,-4l-1.1,-2.5l-3.2,-3.5l-5,-3.5l-1.4,-2l-0.5,-3l0.9,-2.5l4.8,-3.1l4,-3.7l5,-0.5l5,-3l2.5,-0.3l7.5,1.5l7.5,-2l7.5,0.3l5,-2.9l5.3,-5.3l3.7,-2.7l10.5,-1.6l2,0.3l1.5,0.9l2.5,4.2l0.9,2.8l-0.5,2l-2.1,3.5l-1.8,1.2l-5,1.6l-1.5,1l-4,7.2l-6.5,4.9l-7.5,6.6l-3.7,5l-1.3,3.5l-1.6,2l-3.7,2l-8.8,2.5M594.0,2110.0l-2.5,0.2l-9,-1.4l-1.5,-2.9l0.6,-3.5l1.4,-1.6l2.5,-1.1l6,-1.3l2.5,0.4l1.4,1.5l2.2,4.5l-1.2,3.5l-2.4,1.6M552.5,2141.5l-2,-0l-4,-3l-5.5,-1.8l-4.9,-5.8l-6.7,-5l-0.8,-2l0.4,-2l5.6,-6.2l1.5,-0.7l4,-0.4l4,-3.2l2.5,-0.6l9,2l7.5,-1l3,0.3l3.4,1.2l4.1,2.6l4.5,1l1.5,0.8l0.8,1.5l-0.4,1.5l-4.9,5.3l-4,2.7l-4.5,4.5l-4,1.8l-4,3.2l-6,3.1M592.5,2106.4l-5.5,-1.6l-0.9,-0.9l0.1,-1l1.8,-1.3l2,-0.1l2.4,3.4l0.1,1.5M551.5,2133.5l-7.5,0.4l-2,-0.4l-4.4,-4l-4.5,-3l-1,-1.5l0.1,-1.5l4.9,-5.2l4.5,-1.6l3.5,-2.7l1.5,-0.5l9.5,1.9l10,0.5l2.5,1.6l3.2,3.9l0.1,2l-5.8,6.2l-8.5,1.8l-6,2.1M553.0,2130.5l-8,0.3l-2,-0.4l-6.3,-4.5l-0.7,-1l0.1,-1l3.2,-3l5.3,-1.5l5.5,-2.4l14.5,1.9l2.5,1.3l0.2,2.3l-2.7,4.1l-2,0.9l-4.5,0.8l-5,2.2M552.0,2128.5l-6,-0.3l-2,-1.3l-0.4,-1.5l1.1,-1l4.4,-1.6l4,-2.8l4.5,0.3l2.9,1.6l-0.1,1l-3.8,1.5l-2.6,3l-1.9,1.1" fill="none" stroke="#000" stroke-width="1.2" stroke-linejoin="round"/>
<path d="M616.3,2067.8h1.4v1.4h-1.4zM623.2,2105.8h1.4v1.4h-1.4zM500.4,2120.5h1.4v1.4h-1.4zM614.5,2105.7h1.4v1.4h-1.4zM591.3,2131.9h1.4v1.4h-1.4zM592.1,2141.9h1.4v1.4h-1.4zM582.8,2160.9h1.4v1.4h-1.4zM497.4,2143.6h1.4v1.4h-1.4z" fill="#000"/>
<rect x="471.5" y="2047.8" width="100.5" height="124.6" fill="none" stroke="#9a9a9a" stroke-width="1.6"/>
<rect x="575.4" y="2047.8" width="80.2" height="123.7" fill="none" stroke="#9a9a9a" stroke-width="1.6"/>
<rect x="447.5" y="1971.9" width="291.2" height="289.1" fill="none" stroke="#1a1a1a" stroke-width="1.8"/>
<path d="M447.5,2150.9h-4 M447.5,2136.1h-4 M447.5,2125.5h-4 M447.5,2117.4h-4 M447.5,2110.7h-4 M447.5,2105.1h-4 M447.5,2100.2h-4 M447.5,2095.9h-4 M447.5,2092h-7.5 M447.5,2066.6h-4 M447.5,2051.8h-4 M447.5,2041.2h-4 M447.5,2033.1h-4 M447.5,2026.4h-4 M447.5,2020.8h-4 M447.5,2015.9h-4 M447.5,2011.6h-4 M447.5,2007.7h-7.5 M447.5,1982.3h-4 M447.5,2169.2h-7.5 M447.5,2175.2h-4 M447.5,2178.2h-4 M447.5,2180.2h-4 M447.5,2182.2h-6 M447.5,2184.2h-6 M447.5,2186.2h-6 M447.5,2188.2h-4 M447.5,2190.2h-4 M447.5,2193.2h-4 M447.5,2199.2h-7.5 M447.5,2212.2h-4 M447.5,2228.2h-4 M447.5,2240.2h-4 M447.5,2249.2h-4" fill="none" stroke="#1a1a1a" stroke-width="1.4"/>
<rect x="439.5" y="2181.2" width="8" height="6" fill="#1a1a1a"/>
<path d="M590.3,2261v8 M612.8,2261v4.5 M625.9,2261v4.5 M635.3,2261v4.5 M642.5,2261v4.5 M648.4,2261v4.5 M653.4,2261v4.5 M657.8,2261v4.5 M661.6,2261v4.5 M665,2261v8 M687.5,2261v4.5 M700.6,2261v4.5 M710,2261v4.5 M717.2,2261v4.5 M723.1,2261v4.5 M728.1,2261v4.5 M732.5,2261v4.5 M736.3,2261v4.5 M481,2261v8 M489,2261v4.5 M493,2261v4.5 M496,2261v4.5 M498,2261v4.5 M500,2261v4.5 M502,2261v7 M504,2261v7 M506,2261v4.5 M508,2261v4.5 M510,2261v4.5 M513,2261v4.5 M517,2261v4.5 M525,2261v8 M463,2261v4.5" fill="none" stroke="#1a1a1a" stroke-width="1.4"/>
<rect x="499" y="2261" width="8" height="7" fill="#1a1a1a"/>
<text x="1255.2" y="2038.1" font-size="21.8" fill="#141414" textLength="58.2" lengthAdjust="spacingAndGlyphs">MPP3</text>
<text x="1378.9" y="2038.1" font-size="21.8" fill="#141414" textLength="58.2" lengthAdjust="spacingAndGlyphs">MPP4</text>
<text x="1243.8" y="2198.5" font-size="21.8" fill="#141414" textLength="65.4" lengthAdjust="spacingAndGlyphs">69.4%</text>
<text x="1374.2" y="2198.5" font-size="21.8" fill="#141414" textLength="65.9" lengthAdjust="spacingAndGlyphs">30.6%</text>
<path d="M1389.9,2181.4l-3,0.1l-7,-1.6l-4.5,0.5l-3.1,-3.7l-9.4,-1.2l-7,-2.2l-3.2,0.4l-5.8,2.3l-3,0.6l-16.5,-1.2l-6,1.7l-4,2.2l-2.5,0.5l-2.5,-0.4l-5.5,-2.6l-7,0.7l-6.5,-2.3l-15.5,0.2l-4.5,-3.3l-13,-5.9l-3.2,-2.1l-12.8,-4.5l-4.4,-7l-0.4,-2.5l4.2,-8.5l1.7,-1.5l7.4,-1.7l6,-2.8l10,-1.3l5.5,-2.7l8,-4.9l7,-1.6l13.2,-10l7.8,-9.9l3,-6l5.6,-2.1l3.2,-3l0.6,-1.5l0,-4.5l1.2,-6l1.5,-3l1.9,-1.9l6.5,-1.9l8.5,-5l6.5,-0.1l10,-2.7l6,-1l3.6,-4.3l5.9,-2.5l4,-3.2l9,-2.2l3,0l3,1.1l3.1,2.3l1.4,1.8l2.8,6.2l12.4,10l1.8,3l0.7,5l-2.7,8.5l0.2,7l-0.8,10.5l0.4,6.5l-0.8,11.5l5.1,11l7,7.5l1.1,2l0.3,2l-1.3,4l-4.7,4l-3.2,4l-4.1,2.6l-4,4.4l-6,3l-4,5.2l-8,3.9M1389.4,2180.4l-2.5,0.2l-3,-0.6l-6,-1.8l-5,-2.7l-6.5,-0.2l-10.5,-2.5l-3,0.4l-9,2.9l-17.2,-1.3l-12.8,3.8l-6.5,-2.2l-8,0.3l-5.5,-2.5l-15.5,0.3l-4.5,-3.2l-11,-5.2l-3.5,-3l-6.5,-1.5l-7.5,-3.4l-2.7,-4.8l-0.6,-3l3.8,-7.5l1.5,-1.5l5.5,-1.4l6.5,-3.5l9.5,-0.8l13,-7.5l7,-1.3l15.4,-11.5l6.5,-8.1l3,-6.6l1.5,-0.9l4.5,-1.1l4.2,-3.8l0.5,-1.5l-0.5,-3.5l0.3,-2.5l2.1,-6.5l2,-2.4l5.5,-2.1l8.5,-5.1l6,-0l10.5,-3l7,-0.6l1,-0.7l2,-3.4l1.5,-1l9.5,-4.1l8,-2.7l2.5,-0.1l2.4,0.8l2.1,1.6l1.9,2.4l3.3,6l12.3,10.5l2,3.1l0.3,4.4l-2.8,7.5l0.3,7l-1.2,29l4.6,10.5l6.1,8l0.7,2.5l-0.2,3.5l-0.7,2l-3.5,3.2l-2.8,3.8l-3.7,2.6l-3,4l-6.5,3.4l-5,5.5l-7.5,3.6M1388.9,2179.4l-2.5,0.2l-2.5,-0.5l-10,-4.5l-7.5,-0.4l-10,-2.1l-3.5,0.5l-8.5,2.8l-17.5,-1.4l-13.5,3.1l-6,-1.4l-7,0.2l-5.5,-3.1l-7,0.8l-8,-0.4l-15.5,-7.6l-4,-4.4l-6.5,-1l-7,-4l-1.6,-2.4l-0.3,-3l4.9,-7.5l8,-5.3l3.5,-1.1l8.5,-0l11.5,-7.5l8,-1.5l16.5,-12.5l5.9,-6.7l3.1,-7l6.5,-2.3l5.7,-4.7l0.4,-1.5l-1.6,-3l-0,-2.5l2.8,-7l2.1,-2l11.7,-6.8l6,-0.2l11,-3.4l7,0l1.5,-1.1l1.6,-3.2l1.9,-1.4l12,-3.7l5,-2.3l2,-0.1l2.9,1.6l6.2,8.5l12.6,11.5l1.6,2.5l0.1,3.5l-3.1,7.5l0.4,15.5l-0.6,8.5l0.2,6l-0.7,6l3.8,9.5l5.5,9l0.5,4.5l-0.9,3.5l-4.9,5.9l-3,2.4l-3,4.7l-6.7,3.4l-5.3,5.3l-7,3.3M1388.4,2178.4l-2,0.3l-2.5,-0.4l-6.3,-3.4l-3.2,-1l-8.5,-0.6l-9,-1.7l-3.5,0.4l-9,2.8l-17.5,-1.5l-14,2.6l-5,-0.8l-7,0l-5.5,-3.8l-6,1.4l-7,-0.3l-16.5,-7l-1.8,-1.5l-1.8,-3l-1.4,-1.2l-6.5,-1.3l-3.7,-4l-0.8,-2.5l3.2,-8l5.2,-4.8l4.5,-1.2l6,1l2,-0.3l3.5,-3.2l6.5,-4.5l2.5,-0.8l5,-0.4l2.5,-1l7,-4.8l4.3,-4.5l5.1,-3.5l5.5,-5.9l3.1,-6.6l7.4,-3.4l6.3,-4.6l0.7,-1.5l0,-1.5l-1.8,-3l-0.2,-1.5l2.3,-6.5l1.5,-2l6.5,-4.5l3.7,-1.8l6.5,-0.6l9.5,-3.3l8.5,0.2l1.6,-1.1l2,-3.5l1.9,-1.4l8,-1.5l10,-3.1l11.5,11.7l4.5,3.7l5.3,5.5l1.1,2l-0.2,3l-2.8,5l-0.8,3.5l1.2,14.5l-0.9,7.5l0.5,7l-0.9,5.5l3.1,9.5l4.1,7l1,8l-1.3,3l-5.8,6.5l-2.6,5l-6.4,3.2l-6,5.4l-6.5,2.9M1387.4,2177.4l-3.5,-0.3l-7.8,-3.8l-18.7,-2.4l-3.5,0.3l-10,2.8l-5.5,-0.9l-4.5,0.1l-7,-0.8l-14,2.2l-11,-0.3l-1.9,-0.9l-2.6,-3l-1.5,-0.7l-1.5,0.1l-5,1.9l-5.5,-0.2l-6.5,-3l-6,-1.7l-4.2,-1.9l-2,-1.5l-3.3,-4.8l-5.8,-2.2l-1.1,-1.5l-0.5,-2l0.4,-7l1.6,-3l3.8,-3.1l3.5,-0.6l5,1.3l2,-0.1l10,-8.1l2.5,-0.8l6,-0.6l6,-3.3l4.5,-1.1l2.4,-5.5l6.1,-4.3l5.2,-5.2l3.6,-7l8.1,-4l5.8,-4.5l1.4,-3.5l-1.3,-5l1.2,-6l1.6,-2l5.4,-3.9l3.5,-1.3l6.5,-1.1l5,-2.3l3.5,-1l3,-0.2l4,0.9l2,-0.1l2.3,-1.5l2.7,-4l2,-0.9l11,-1.3l8,1.4l3.5,2.1l5.3,5.7l3.7,3l5,5.5l1.2,2l-0.2,2.5l-3.1,5l-1.1,4.5l2,13.5l-0.9,7.5l0.7,7l-1,5.5l2.8,10.5l3.3,6l0.7,8.5l-1,2.5l-4.3,5.1l-2.8,5.9l-6.3,3l-6.5,5.4l-6.5,2.7M1386.9,2175.8l-2.5,-0l-8,-3.3l-19,-2.4l-3,0.2l-10.5,2.7l-5.5,-1.1l-4.5,0.3l-7,-0.7l-12.5,1.8l-9.5,0.2l-3.4,-0.7l-3,-3.5l-2.1,-1.1l-2.5,0.2l-4.5,2.1l-4,-0.1l-6.5,-3.4l-7.5,-1.5l-4.5,-2.2l-3.5,-5.3l-4,-4.2l-0.8,-3.5l0.1,-3.5l2.1,-4l1.9,-1.5l2.3,-0.3l4.5,0.8l2,-0.3l10.2,-8.2l8.3,-1.5l6,-3l4.5,-0.6l1.5,-0.7l0.8,-1.1l0.4,-3.5l0.7,-1.5l5.8,-4l5.5,-5.5l3.6,-7l8.5,-4l5.5,-4.5l2.2,-4l-1.1,-5.5l0.6,-5l1.4,-2l3.8,-3l10,-3l8,-3.4l3,-0.2l4.5,1.1l2,-0.2l2.8,-1.8l2.7,-3.6l2,-0.9l10.5,-0.8l8,1.5l2.5,1.1l2,1.7l8.5,8.8l3.2,3.7l1,2l-0.2,2l-3.2,5.5l-0.8,4l2.1,13.5l-0.7,7.5l0.8,7l-1.1,5l1.7,6l0.8,5.5l2.8,5.5l0.4,8l-0.5,2l-3.8,5.5l-2.4,5.8l-5.8,2.7l-7.2,5.4l-6,2.1M1387.9,2173.3l-4.5,0l-11.5,-2.5l-15,-1.5l-12.5,2.6l-5.5,-1.1l-5,0.4l-7.5,-0.6l-11.5,1.6l-11,0.2l-2,-1l-2.6,-3.1l-2.4,-1.1l-3,0l-4.5,2l-2.5,0.1l-2.4,-1l-4.1,-3.1l-8,-0.7l-3,-0.9l-3,-2.7l-3.9,-7l-0.5,-3l4.4,-6.5l5.9,-1.8l9.5,-7.6l3,-1.2l6,-1.1l5,-2.6l5,-0.7l2.1,-1.1l1.3,-2l1.1,-4.5l5.4,-3.7l5.9,-6.3l2.9,-6.5l8.7,-4l4,-3l4.2,-4.5l0.5,-1.5l-1.5,-5l0.2,-3.5l1,-2.5l2.9,-2.9l17,-7.4l3,-0.2l4.5,1.3l2.5,-0.2l2.8,-1.6l3.2,-3.5l1.5,-0.9l11.5,-0.7l7,1.5l3,1.5l10.7,11.6l1.8,3l-0.1,2l-2.6,5l-0.8,4l1.9,13l-0.5,8.5l0.7,6.5l-0.9,5.5l1.7,6l0.6,6l2.2,4.5l0.5,2.5l-0.8,7l-3.3,6l-1.8,5l-9.4,5l-3.9,3l-4.2,1M1388.9,2171.3l-7.5,0l-14,-2.3l-10.5,-0.7l-9.5,1.9l-8,-0.7l-5.5,0.5l-8,-0.5l-5.5,0.3l-5,1.1l-10.4,0.2l-1.6,-0.6l-3.5,-3.4l-2.5,-1.1l-3.5,-0.1l-6,1.7l-1.5,-0.5l-3.3,-2.9l-1.9,-1l-8.8,-0.2l-2.5,-0.8l-2.3,-2.5l-2.7,-6l-0.3,-2l0.9,-2l2.9,-3.6l4.5,-2.1l4.5,-4.2l6.6,-4.2l2.4,-1.1l5.5,-1l5,-2.5l4.5,-0.7l2.7,-1.7l1.5,-2l1.8,-4.5l4.4,-2.8l3.1,-4.2l3.9,-3.7l2,-5.5l8,-3.7l10.5,-7.8l0.7,-2.3l-1.8,-4.5l-0.1,-2.5l1.4,-3.5l2.5,-2.5l4.3,-2.9l4.5,-1.6l5.5,-3l3,-0.3l4.5,1.5l2,0.1l3.5,-1.7l5.5,-4.2l11.5,-1l6.5,1.5l2.5,1.3l9.7,11.3l1.5,2.5l0.1,2l-2.1,5l-0.6,3.5l1.9,12.5l-0.4,9l0.5,7l-0.6,5l1.8,6.5l0.4,6.5l2.5,6.5l-1.8,7.5l-4.3,9.7l-9.4,4.8l-3.6,2.5l-2,0.5M1383.9,2169.9l-4,0.1l-13.5,-2.6l-11.5,-0.1l-6,1.8l-6,-0.6l-9,0.7l-12.5,-0.4l-6,1.2l-9.5,0l-5.5,-3.6l-2.5,-1l-3.5,-0.4l-6,1.1l-7,-4.4l-10,-0.7l-1.6,-1.6l-0.6,-3l-1.7,-3l-0.2,-1.5l0.7,-1.7l1.5,-1.7l4,-1.9l4,-4.5l5,-2l3.5,-3.4l6.5,-1.5l4.5,-2.4l4.5,-1.1l2.5,-1.4l2.5,-2.5l2.9,-4.5l4,-2.8l2.8,-4.7l4.3,-3.5l1.9,-5l20,-12l0.8,-1l0.2,-1.5l-2.6,-5l-0.2,-3l1.4,-2.5l4.3,-4.5l10.5,-5.3l2,-0.1l4.5,1.6l2.5,0.1l9.5,-5.2l9,-1.7l2.5,0.1l6,1.5l2.4,1.5l4.4,5l4.1,5.5l1.2,2.5l0,2l-2,7.5l1.9,12.5l-0.3,21l1.8,7l0.1,6.5l2.2,6.5l-2.7,8.5l-4.3,8l-11.7,6.4l-6,0.7M1381.9,2168.8l-10,-1.6l-5,-1.7l-8.5,0.5l-5,-0.7l-5,1.8l-4.5,-0.5l-10,1.4l-13,-0.6l-5.5,1.2l-8.5,-0.1l-6.3,-3.3l-3.2,-1.1l-3,-0.3l-6,0.5l-6,-4l-5.5,-1.6l-1.6,-1.5l-2,-6l4.7,-7l4.9,-2.1l4,-3.8l5.5,-1l5,-2.8l4.5,-1.7l3,-2l9.5,-8.9l3,-5.3l5,-3.4l2.3,-4.3l2.1,-2l8.1,-5l10,-4.6l1.7,-2.4l0.4,-1.5l-2.8,-5l-0.4,-2.5l2.7,-5.5l1.4,-1.6l9,-4.9l1.5,-0.1l4.5,1.4l3,0.1l10,-4.8l8.5,-1.9l3,-0l4.9,1.3l2.3,1.5l3.8,4l5,8l0.1,2.5l-1.6,6.5l1.9,12l-0.3,20l2.1,9l-0.2,7l1.7,5.5l-0.6,2l-2.1,2.6l-0.5,4.4l-4.1,7l-6.3,3.1l-4.5,2.9l-7,1M1383.9,2167.3l-3,0.2l-8.5,-1.6l-5,-1.9l-9,0.5l-5.5,-0.7l-5,1.5l-4.5,-0.2l-10,1.7l-7.5,-0.1l-5.5,-0.7l-5.5,1.3l-7,-0.1l-10,-4l-3.5,-0.5l-4.5,0.3l-2,-0.6l-4,-3.1l-4.9,-2.5l-0.8,-2l-0.5,-4.5l2.2,-3.5l7,-6.1l6.6,-1.4l8.9,-5.2l7.9,-6.3l5.1,-4.6l3.2,-5.4l5.3,-3l3,-5l1.9,-2.1l4,-1.9l5,-3.5l3,-0.9l3.5,0.2l1.5,-0.7l5.5,-7.2l-0.4,-2l-2.6,-3.5l0.3,-2.5l1.7,-3.3l2.5,-1.8l3.1,-3.9l1.9,-0.7l8.5,0.3l11,-4.9l10.5,-1.3l4.5,1.4l4,3.2l4.5,6.1l1.3,3l-0,2.5l-1.4,5.5l2.1,12l-0.6,17l0.7,5.5l1.7,6.5l-0.5,6.5l1.4,6l-0.5,1.5l-2.7,3l-0.3,4.5l-3.5,6l-6,3l-4.2,3l-4.3,1M1384.4,2165.8l-3,0.3l-4.5,-1.2l-4,-0.3l-4,-1.7l-2,-0.3l-14.5,0.1l-4.5,1.2l-4.5,-0l-13.5,2l-4.5,-0.1l-5.5,-1.1l-5.5,1.4l-5.5,-0.1l-10.5,-3.8l-9,-1.9l-3,-2.2l-4.6,-2.3l-0.8,-1.5l-0.1,-2.5l2.4,-5l3.7,-4l1.5,-0.7l5,-0.6l7,-3.9l14.5,-10.8l2,-2.3l3,-4.7l5.8,-3.5l4.3,-5.2l5,-2.2l4,-4.4l5.5,-0.1l2,-0.7l4,-4l3.5,-2l1.4,-1.9l0.4,-2l-1.4,-7.5l4.6,-7.4l2.5,-1l6.5,-0.6l10,-4.7l5,-0.1l2.5,0.7l3.5,2.1l4,-0.3l2,0.7l2,1.8l3.7,5.9l0.2,3l-1.5,5.5l2.3,10l0.1,9.5l-0.8,7l0.7,6l2,8l-1.1,6l1.4,6l-0.4,1.5l-2.7,3.5l-0.6,5l-2.7,4.1l-10.1,6.4l-2.9,1M1328.4,2164.8l-3,-0.2l-6,-1.4l-5.5,1.6l-3.5,0l-12.9,-4.5l-13.1,-6.4l-0.4,-2.1l1,-3.5l2.4,-3.3l6.5,-1.5l7,-3.8l6,-4.7l7,-3.4l5.5,-0.7l1.2,-2l0,-5l2.1,-3l15.7,-11.5l7.5,-2.7l9,-5.8l5.9,-5.9l-1.8,-4l-0.3,-2l2.5,-7l1.1,-1.5l6,-1.5l5.5,-2.2l3.5,-2.1l2,-0.5l3.5,0.6l6,2.6l6,1.1l3.3,3.9l1.1,2.5l-0,2l-1.5,5l2.5,7.5l-0.5,7l0.6,5l-0.8,6l2.5,14l-0.2,1.5l-1.9,3l-0.3,1.5l2.2,5l0.3,2l-2.4,4l-0.7,5l-1,1.9l-2.5,2.3l-9,5.6l-3,1.1l-2,0l-4,-1.3l-4,-0.2l-5,-1.5l-8,-0.3l-8.5,0.7l-4,0.9l-12.5,0.8l-7,1.5M1328.9,2163.4l-3,0.1l-6.5,-1.6l-6,1.7l-3.5,-0.3l-4,-2l-5.5,-1.5l-3,-1.5l-7.8,-5.9l-0.8,-1.5l0.1,-2l1.1,-1.2l11,-5.8l5.5,-3.8l6.5,-0.7l8.5,-4.6l1.9,-2.4l1.3,-6l0.9,-2l2.8,-2.5l4.7,-2.7l4.5,-4.5l2,-0.8l4,-0.2l5.5,-3.8l5.5,-1.1l2.7,-1.3l2.8,-3.6l4.5,-3.3l2.5,-3.6l-0,-3.5l-2.9,-4.5l0.5,-2.5l1.6,-2l4.9,-2.6l8,-3.2l5.5,0.7l8.5,3.5l4.1,4.6l0.2,1.5l-1.1,5.5l2.6,7l-1.1,7.5l1,4l-0.5,5.5l2,13.5l-0.3,1.5l-2,3.5l-0.4,2.5l2.3,6.5l-1.5,3.6l-0.6,4.9l-0.9,1.7l-7,5.1l-6.5,2.8l-2,-0.2l-4.5,-1.8l-4.5,0.1l-11,-1.2l-13.5,2.3l-14.5,0.7l-4.5,1.5M1327.9,2161.9l-2,0.1l-7,-1.5l-7,1.5l-4.6,-2.7l-6.4,-1.3l-2.5,-1.5l-1.9,-2.2l-1.6,-3l-0.1,-2l3,-3.5l9.1,-5.5l2,-0.4l5,0.6l2.5,-0.8l3.1,-3.5l5.6,-3.5l7.5,-10l6.4,-6.3l4,-0.9l6.5,-5l11.5,-2.6l5.7,-3.3l1.1,-1.5l0.5,-3.5l1.8,-5l0,-4l-1.1,-5.5l1,-1.5l2.5,-2l4.6,-2.2l6.5,-0.6l3.5,0.6l3,1.6l4.4,6.1l-0.2,5.5l1.6,5.5l0.1,10.5l2.3,17l-0.1,2.8l-2,7.2l1,8l-0.5,7l-0.8,2l-6.4,5l-4.9,1.9l-2.5,-0.1l-5,-1.8l-8,0.3l-7,-1.3l-7,2l-15,1.9l-8,-0.3l-4,1.4M1339.9,2159.4l-9,-0.8l-5,1.1l-7,-0.8l-6,0.3l-3.5,-1.9l-5.5,-0.5l-2.5,-1l-1.7,-2l-0.2,-2.5l2.2,-4.5l4.1,-3.3l2.5,-0.9l5.5,0.5l2.5,-0.5l2.2,-1.3l3.8,-4.2l7,-2.3l2.7,-1.5l4.1,-4l2.4,-4l5.3,-3.6l2.8,-5.4l1.9,-2l7.9,-2.6l6,0.5l7.5,-5.4l1.8,-2.5l1.5,-5l0.4,-11l1.7,-4l1.5,-1.5l1.6,-0.6l5.5,-1l3,0.7l1.6,1.9l1.9,5.5l0.8,6.5l2.6,8.5l-0.2,8.5l2.1,7.5l0.1,6l-1.7,7l0.5,9.5l-0.8,8.5l-5.2,5l-3.6,1.4l-2.5,-0.1l-5.5,-1.4l-8.5,0.2l-7,-1.5l-7,2.2l-8,-0.2l-6.5,2.5M1339.4,2157.4l-4.5,0.2l-6.5,-2.5l-5.5,1.7l-4,0l-2.5,-0.6l-4,-2.5l-5,0.3l-0.9,-1.2l2.4,-6l1.5,-0.5l5,0l10.5,-6.8l3,-1l5,-0.7l2,-1l5.5,-5l2.5,-4.2l7.5,-8.7l14,-4.5l2.8,-3.1l5.3,-3.5l2,-3l2.9,-6.3l2.5,-2.9l1,-0.2l2.5,2.9l5,2.7l1.8,3.3l-0.1,7.5l2.2,8l-1,5.5l-0.6,17.5l-1.6,7l-2.2,4.2l-2,1.4l-2.5,0.3l-5.5,-0.8l-10,-0.2l-7.5,-2.1l-6,1.7l-9.5,-0.4l-2,0.8l-3.5,2.7M1336.9,2154.3l-2,0.4l-6,-2.3l-8,0l-1.2,-0.7l-0.3,-1.5l2.2,-2.5l5.3,-1.7l3.5,-2.6l6.5,-0.6l5.9,-2.2l1.2,-1.5l4,-10.5l2.9,-3.4l6.8,-5.6l2.7,-1.3l6.5,-1.7l3.5,-3.1l5.5,-2.4l4.5,-4.8l2.5,-0.1l2.5,1.7l2,3.1l2.7,6.6l-0.1,2l-1.9,5.5l1.8,7l-1.7,6l-0.9,8l-2.8,4.9l-2.3,1.1l-4.2,0.7l-9.5,-0.5l-3,-0.8l-4,-2.5l-2,-0.3l-17.5,1.7l-2,0.9l-3,2.8M1376.9,2149.8l-5,-1.6l-4.5,0.1l-4,-2.8l-6,-1l-2,-1l-1.4,-1.7l-1.2,-3l-0.3,-8.5l5.7,-8l1.6,-1.3l6.5,-1.4l5,-2l5.5,0.3l4,-1.5l2,-0.1l2,1l0.9,2l-0.9,6l0.7,6l-1.2,4l-0.2,6l-0.9,2.7l-1.6,2.3l-2.9,2.8l-2,0.8M1376.4,2144.0l-3,0.1l-6,-1.6l-6,-0.5l-2.2,-1.2l-2.8,-5.5l-0.7,-3.5l0.5,-1.5l4.4,-6.5l1.9,-0.8l9.5,-1.8l7,1.3l1.9,1.3l0.9,3.5l-1,10.5l-2.2,4.5l-2.1,1.7M1373.9,2139.9l-9,-0.9l-2,-0.8l-1.5,-1.3l-1.9,-2.6l-0.3,-2l3.2,-5l1.5,-0.8l4.5,-0.6l4,-1.2l2.5,0.4l1.8,1.2l0.9,2.5l-0.2,4.8l-2,4.7l-1.5,1.6M1368.4,2135.9l-2.5,-0.1l-2.2,-1.5l-0.8,-2l0.9,-1.5l1.6,-0.8l1.5,0l3.8,2.3l-0.3,2l-2,1.6" fill="none" stroke="#000" stroke-width="1.2" stroke-linejoin="round"/>
<path d="M1287.3,2137.3h1.4v1.4h-1.4zM1328.6,2123.4h1.4v1.4h-1.4zM1388.3,2081h1.4v1.4h-1.4zM1358.9,2127.6h1.4v1.4h-1.4zM1353.4,2147.2h1.4v1.4h-1.4zM1353.3,2104.2h1.4v1.4h-1.4zM1265.5,2138.7h1.4v1.4h-1.4zM1439.2,2075.7h1.4v1.4h-1.4zM1279.1,2082.7h1.4v1.4h-1.4zM1427.9,2148.2h1.4v1.4h-1.4zM1422.7,2166.4h1.4v1.4h-1.4zM1397.8,2158.2h1.4v1.4h-1.4z" fill="#000"/>
<rect x="1243.8" y="2047.8" width="122" height="124.6" fill="none" stroke="#9a9a9a" stroke-width="1.6"/>
<rect x="1370.4" y="2047.8" width="71.8" height="123.7" fill="none" stroke="#9a9a9a" stroke-width="1.6"/>
<rect x="1207.9" y="1969.8" width="290" height="289.9" fill="none" stroke="#1a1a1a" stroke-width="1.8"/>
<path d="M1207.9,2148.9h-4 M1207.9,2134.1h-4 M1207.9,2123.5h-4 M1207.9,2115.4h-4 M1207.9,2108.7h-4 M1207.9,2103.1h-4 M1207.9,2098.2h-4 M1207.9,2093.9h-4 M1207.9,2090h-7.5 M1207.9,2064.6h-4 M1207.9,2049.8h-4 M1207.9,2039.2h-4 M1207.9,2031.1h-4 M1207.9,2024.4h-4 M1207.9,2018.8h-4 M1207.9,2013.9h-4 M1207.9,2009.6h-4 M1207.9,2005.7h-7.5 M1207.9,1980.3h-4 M1207.9,2166.7h-7.5 M1207.9,2172.7h-4 M1207.9,2175.7h-4 M1207.9,2177.7h-4 M1207.9,2179.7h-6 M1207.9,2181.7h-6 M1207.9,2183.7h-6 M1207.9,2185.7h-4 M1207.9,2187.7h-4 M1207.9,2190.7h-4 M1207.9,2196.7h-7.5 M1207.9,2209.7h-4 M1207.9,2225.7h-4 M1207.9,2237.7h-4 M1207.9,2246.7h-4" fill="none" stroke="#1a1a1a" stroke-width="1.4"/>
<rect x="1199.9" y="2178.7" width="8" height="6" fill="#1a1a1a"/>
<path d="M1351.3,2259.7v8 M1373.8,2259.7v4.5 M1386.9,2259.7v4.5 M1396.3,2259.7v4.5 M1403.5,2259.7v4.5 M1409.4,2259.7v4.5 M1414.4,2259.7v4.5 M1418.8,2259.7v4.5 M1422.6,2259.7v4.5 M1426,2259.7v8 M1448.5,2259.7v4.5 M1461.6,2259.7v4.5 M1471,2259.7v4.5 M1478.2,2259.7v4.5 M1484.1,2259.7v4.5 M1489.1,2259.7v4.5 M1493.5,2259.7v4.5 M1247.6,2259.7v8 M1255.6,2259.7v4.5 M1259.6,2259.7v4.5 M1262.6,2259.7v4.5 M1264.6,2259.7v4.5 M1266.6,2259.7v4.5 M1268.6,2259.7v7 M1270.6,2259.7v7 M1272.6,2259.7v4.5 M1274.6,2259.7v4.5 M1276.6,2259.7v4.5 M1279.6,2259.7v4.5 M1283.6,2259.7v4.5 M1291.6,2259.7v8 M1229.6,2259.7v4.5 M1211.6,2259.7v4.5" fill="none" stroke="#1a1a1a" stroke-width="1.4"/>
<rect x="1265.6" y="2259.7" width="8" height="7" fill="#1a1a1a"/>
<text x="1192.9" y="2013.2" font-size="23.5" fill="#141414" text-anchor="end">10<tspan font-size="16" dy="-11">5</tspan></text>
<text x="1192.9" y="2097.5" font-size="23.5" fill="#141414" text-anchor="end">10<tspan font-size="16" dy="-11">4</tspan></text>
<text x="1191.9" y="2189.7" font-size="23.5" text-anchor="end" fill="#141414">0</text>
<text x="1269.6" y="2296.9" font-size="23.5" text-anchor="middle" fill="#141414">0</text>
<text x="1324" y="2296.9" font-size="23.5" fill="#141414">10<tspan font-size="16" dy="-11">3</tspan></text>
<text x="1408" y="2296.9" font-size="23.5" fill="#141414">10<tspan font-size="16" dy="-11">4</tspan></text>
<text x="1587.8" y="2035.2" font-size="21.8" fill="#141414" textLength="57.8" lengthAdjust="spacingAndGlyphs">MPP3</text>
<text x="1718.7" y="2035.2" font-size="21.8" fill="#141414" textLength="58.6" lengthAdjust="spacingAndGlyphs">MPP4</text>
<text x="1581" y="2198.5" font-size="21.8" fill="#141414" textLength="63.8" lengthAdjust="spacingAndGlyphs">84.9%</text>
<text x="1723.7" y="2198.5" font-size="21.8" fill="#141414" textLength="54.9" lengthAdjust="spacingAndGlyphs">15.1%</text>
<path d="M1661.8,2165.8l-19.5,-0.3l-6,-2.4l-11,-2.7l-6.5,-4.5l-5.2,-2.1l-4.5,-3l-7.9,-9.5l-3,-6l-1.6,-5.5l-0.6,-5.5l0.3,-5l4.1,-12.5l3.4,-5.6l6.4,-6.9l9.6,-7.3l4.5,-2.8l5.5,-2.4l5.5,-3.6l3.5,-1.3l5.5,-0.8l11.5,-3.6l16,-0.5l13.5,-1.4l6.5,0.3l15.5,-3.2l6.5,0l6,1l5.5,-0.5l6,2.2l14.8,10.4l1.9,3l0.8,7l-1.9,8l-3.6,6.5l-6.3,9l-7.3,16.6l-1.4,4.4l-1.3,2l-8.3,6.8l-6,1.7l-13,5.8l-7,2.3l-5.5,3.6l-3.5,1.6l-9.5,2.2l-6.5,2.7l-6,1.7M1661.8,2164.3l-19.5,-0.2l-5.5,-2.2l-11.5,-3.4l-14.6,-8.7l-7.4,-8.6l-2.5,-4.4l-1.5,-3.9l-1.5,-8.5l0,-4.5l4.8,-14l2.6,-4l5,-5.3l9.5,-8.1l15.5,-8.7l3,-1.1l6,-0.9l11.5,-3.9l14.5,-0.3l15,-1.6l6,0.2l15.5,-3.2l7.5,-0l5.5,0.9l5.5,-0.3l6,2.2l13.1,9.6l1.8,3l0.6,6l-1.3,8l-2.6,5l-8.1,11.5l-7.3,20l-1.7,2.5l-4.9,4.3l-2.5,1.5l-5.5,1.5l-4.5,2.1l-4,1.1l-5.4,2.9l-8.7,3l-9.4,4.8l-8.3,1.7l-10.7,4M1661.3,2162.9l-18.5,-0l-17.5,-6.1l-12.2,-7.4l-7.4,-8l-4.4,-8.5l-1.8,-12l4.8,-14.5l6,-7.5l10,-9.2l15,-8.2l3,-1.1l6,-1l12,-4.1l11.5,0.1l17,-1.8l6,0l15.5,-3.4l18.5,0.6l3.5,0.9l3,1.5l6.5,5.6l5.4,3.7l1.5,2.5l0.4,4l-0.1,4l-1.1,5.5l-2.1,4l-9,12.5l-6.3,19.5l-1.7,2.5l-6.5,5l-14.5,4.8l-6,3.3l-11,3.7l-7,3.8l-8.5,1.6l-10,3.8M1660.8,2161.4l-18,0.1l-16.5,-6l-11.1,-6.7l-8.4,-9l-4,-9l-1.1,-8.5l0.2,-2.5l5,-13.5l4.6,-6l7.3,-7.6l4.5,-3.3l12.5,-6.5l9.5,-2.3l10,-3.6l4,-0.5l8,0.4l17,-1.9l6,0l16,-3.8l17.5,0.7l3.5,0.7l4.5,2.3l10,8.4l1.2,2l0.4,3l-0.2,5l-0.9,4.5l-2.1,4l-9,12.5l-2.4,6.5l-3.2,12.5l-1.9,3.1l-5.5,4.2l-15,5l-7.5,3.9l-9.9,3l-7.1,4l-8.4,1.5l-6.1,2.7l-3.5,0.9M1660.3,2159.8l-17,0.2l-8.3,-2.7l-8.2,-3.4l-9.5,-5.6l-8.8,-9l-3.5,-9l-0.5,-9.5l0.5,-3.5l1.6,-5.5l1.7,-3.3l6.1,-8.7l5.4,-6.2l3.5,-2.6l12.5,-6.5l20,-6l4,-0.5l7.5,0.3l16.5,-1.9l6.5,0l10.5,-2.3l5.5,-1.9l17,0.7l3.5,0.8l5,2.7l8.3,7.8l1.2,1.9l0.3,2.1l-0.9,9l-1.7,3.5l-8.4,11.5l-2.7,5l-0.9,2.5l-0.6,6l-1.5,6l-1,2.5l-1.3,1.6l-5.5,3.9l-15,4.8l-7.5,3.6l-9.3,2.7l-7.2,4.1l-8,1.5l-6.5,2.6l-3.5,0.7M1654.8,2158.3l-12,-0.2l-13,-4.7l-11.5,-6.6l-8.5,-8.7l-1.7,-3.9l-0.8,-3.5l-0.5,-11.5l0.6,-4.5l1.9,-4.5l11,-15.1l3,-2.4l13,-6.8l5,-1.8l16.5,-4.1l10,-0.3l15.5,-1.8l7,0.2l10.5,-2.2l4.5,-2.1l2,-0.3l17,1l5,2.1l4,3l4.3,5.3l1.3,2.5l0.6,4.5l-0.3,4l-2.3,5.5l-11.2,16l-0.5,2.5l-0,7.5l-1.5,5.5l-1.7,2.5l-5.5,3.7l-15,4.4l-15,5.3l-9.5,5.1l-7.5,1.6l-7,2.5l-7.5,0.4M1656.3,2156.8l-5.5,0.2l-7.5,-1l-12,-4l-11.5,-6.5l-8.4,-8.3l-2,-6l0.1,-7l-0.7,-6l0.5,-4l1.8,-3.5l11,-15l2.7,-2l10.6,-5.5l7,-2.9l12.5,-3l13.5,-1.1l7,-1.3l8,-0.5l7.5,0.4l5.5,-1.6l5,-0.6l6,-2.9l16.5,1l4.5,1.9l4,2.8l2.1,2.8l1.8,4l0.9,4.5l-0.2,3.5l-2,6l-11,15l-0.6,3.5l0.6,7.5l-1.4,5l-1.7,2.5l-2.9,2.4l-3,1.4l-25.5,7l-6.5,2.9l-7,4l-13.5,3.7l-6,0.6M1656.8,2155.3l-7,0l-6.5,-1.3l-10.5,-3.2l-11.2,-6.5l-8.2,-8l-1.6,-4.5l-1.1,-13l0.4,-4l1.8,-3.5l5.7,-7l5,-7.5l4.2,-2.8l15,-7l12,-2.8l14,-1.2l7.5,-1.6l15,0.4l5,-1.6l6,-0.9l5.5,-3.1l8,-0l7,0.9l3.5,1.3l5,3.1l1.7,2.3l1.3,3.5l0.7,4.5l-0.4,3.5l-1.8,6l-6.9,9.5l-3.6,4l-0.6,5.5l0.8,7l-1.2,4.5l-1.7,2.5l-2.8,2.3l-3,1.3l-23.5,5.1l-16.2,8.2l-17.3,4M1656.3,2153.8l-5.5,0.1l-7,-1.5l-10.5,-3.2l-8,-4.7l-6.5,-5.8l-2.3,-3l-2.1,-6l-1.7,-10l0.2,-3.5l1,-2.5l2.6,-4l9.6,-12.5l4.7,-2.8l6,-1.7l5,-3.4l11.5,-3.2l16,-1.3l8,-1.8l14,0.5l11.5,-2.4l4.7,-2.9l2.3,-0.7l6,-0.3l6.5,1.2l8.1,4.3l1.4,2l0.8,2.5l0.4,4.5l-0.4,3l-2.2,6.5l-5.6,7.8l-3.5,3.1l-1,1.6l-0.1,7.5l0.9,6.5l-0.9,3.5l-2.1,3l-2.3,1.7l-3,1.1l-10,2.2l-11.5,1.1l-16.5,8.7l-5.5,1.8l-7.5,1l-5.5,1.9M1655.3,2152.3l-3,0.2l-6.5,-1.2l-12,-3.6l-6.9,-4.4l-6,-6l-1.6,-2.5l-3.5,-10l-0.6,-4.5l0.3,-3l4.5,-8l4.1,-5.5l4.4,-4.7l3.5,-2.5l6.5,-1.8l5,-3.3l10.5,-3.6l16,-1l7.5,-1.7l15,0l10.5,-2.2l7,-3.4l3.5,-0.9l3.5,0l5,1.2l7.9,4.3l1.4,3.5l-0.2,6.5l-2.7,6.5l-5,6.5l-3.5,3l-1.3,2l-0.3,3l1.4,13l-0.9,3l-2.4,3l-3.1,1.7l-10.5,2.2l-8.5,-0.3l-3.6,0.4l-8.9,4.6l-6.5,4.1l-6.5,2.2l-8,1.1l-5.5,2.1M1654.8,2150.4l-3,0.2l-5.5,-0.7l-11.5,-3.6l-5.5,-3.5l-7.3,-7.9l-4,-10l-0.4,-5l0.8,-2.5l5.2,-9.5l3.2,-4l7.5,-5.5l6.8,-2.5l6.7,-3.7l7,-2.4l16,-0.8l7,-1.3l15.5,-0.4l11,-2.7l8,-3.6l3,-0.7l6,1.3l7,4l1,1.9l0.3,2.5l-0.1,3l-0.8,2.4l-6.5,9.4l-4.5,4.4l-1.4,2.8l-0.2,3l2.1,13l-0.8,3l-2.1,2.8l-3,1.5l-10,1.8l-8.5,-1.2l-4,0.3l-9.5,5l-6,4l-5.5,1.9l-14,3.3M1653.8,2148.4l-3.5,0.3l-4,-0.5l-12,-4.5l-4,-2.7l-6.1,-6.6l-3.6,-9.5l-0.5,-3.5l0.7,-2.5l5.2,-10.5l2,-2.5l8.7,-6.5l6.5,-2.2l5.5,-3.3l5,-1.7l19.5,-0.9l11,-1.7l10,0.8l12,-4.2l7,-3.6l2.5,-0.6l5,1.1l5.6,3.9l1.2,4l-0.8,3.8l-7,8.7l-5.4,5.5l-1.4,2.5l0.2,3l2.8,7l0.8,5.5l-0.5,3l-2,3l-2.9,1.4l-9,1.5l-2.5,-0.3l-5.5,-1.8l-5,-0.1l-8.5,4.6l-8.5,5.5l-10.5,3.3l-8,1.5M1652.3,2146.3l-3,0.3l-3.5,-0.6l-7,-3.6l-6,-2.3l-5.8,-5.8l-2.2,-4.5l-1.5,-7.5l2.1,-6.5l4,-7.4l5,-3.7l3.2,-3.4l1.8,-1.1l5,-1.3l5.5,-3.3l4,-1.2l9.5,-0.5l11,0.4l10,-2.1l2.5,0.4l6,2.3l3,-0.1l11.5,-6.2l5.4,-3.9l3.1,-1.2l4,0.6l3.4,2.6l1.9,4l-0.1,2l-0.8,1.5l-6.9,7.3l-9.4,6.2l-1.9,3l-0,2.5l1,2.5l1.7,1.5l4.2,2.1l1.6,2.4l0.5,6l-0.8,2.5l-1.3,1.8l-2.5,1.2l-8,1l-9,-3.7l-4.5,-0.5l-8.5,5.1l-5.5,4.4l-3.5,2l-10,3.8l-9,1M1709.8,2098.8l-2.5,0.1l-1.5,-0.8l-0.3,-1.8l1.2,-2.5l8.1,-7.5l2.9,-0.6l2.5,1.1l1.5,2l0.6,2l-0.2,1.5l-0.9,1.5l-4.9,4.3l-6.5,0.7M1649.8,2144.3l-4,-0.7l-5.5,-3.3l-7.2,-3.1l-4.1,-4.5l-2,-4.5l-0.3,-5.5l1.4,-6.5l3.8,-6l7.4,-7.2l6,-2.3l6.5,-3.4l10.5,-0.7l16,0.8l8,-0.5l8.5,2.9l7.1,1.4l0.2,2l-4.1,10.5l-0.2,3l0.8,1.5l1.2,0.8l10.5,2.1l2,1l0.9,2.1l0.1,3l-0.7,2.5l-1.2,1.5l-4.1,1.3l-5.5,-0.1l-3,-2.1l-5,-5.8l-3,-0.1l-4.5,1.9l-4.2,4.1l-3.8,2.8l-3.2,3.7l-3.3,2.1l-11,4.5l-6,-0l-5,0.9M1650.3,2141.9l-4,-0.6l-10.5,-5.4l-2.8,-2.5l-2.7,-4l-0.7,-3.5l0.6,-7l5.7,-8.7l6.5,-4.7l7,-3.9l3,-0.9l9,-0.5l12.2,0.7l12.9,2.5l2.4,1.2l0.8,1.3l0.2,2l-3,10.5l-13.5,16.9l-2,1.3l-9.5,3.6l-11.5,1.7M1707.8,2131.3l-4,-0.1l-2.1,-1.5l-0.5,-1.5l0.2,-1.5l2,-2.9l2,-0.5l3,0.4l2,0.6l0.9,1l0.4,2l-0.5,2l-1.3,1.4l-2,0.6M1651.3,2139.3l-4.5,-0.5l-7.5,-4.1l-3.5,-2.8l-2.8,-3.7l-0.7,-3.5l0.3,-4.5l4.8,-8.5l1.9,-1.5l10.5,-5.8l8.5,-0.9l13.5,1.3l2.5,1.2l4.9,3.7l1.6,3l-0.2,3l-3,5l-1.9,5.5l-4.3,6l-9.6,4.3l-10.5,2.7M1708.3,2129.9l-3.5,-0.2l-0.8,-1l0.3,-1.5l2,-1.1l2.5,0.4l0.9,1.8l-1.4,1.6M1653.3,2135.8l-3.5,0.3l-4,-1.1l-5.8,-3.8l-2.8,-3l-1.2,-3l-0.1,-3l3.4,-8l2,-1.9l7,-4l3.5,-1.1l8,0.3l10.5,3.4l2,1.9l0.9,2.4l-0.8,7.5l-1.2,3l-3.4,3.5l-6.1,4l-8.4,2.5M1655.3,2132.8l-5,0.1l-4.5,-1.3l-4.1,-3.8l-1.6,-3.5l0.5,-3l3.1,-5.5l4.1,-2.8l4.5,-1.6l5.5,0.1l3.5,1.1l5.4,3.8l1.1,1.8l0.6,2.2l-0.4,3l-2,2.5l-6.2,5.3l-4.5,1.7M1654.8,2130.3l-3.5,0.2l-3.5,-0.9l-1.9,-1.8l-1.2,-3l0,-3l1.3,-3l2.2,-2l3.2,-1.3l4,-0.4l3,0.6l2.5,1.6l1.5,2.5l-0.1,3l-1.8,3.5l-2.6,2.7l-3,1.4M1653.3,2127.4l-2.8,-0.1l-1.6,-1.5l-0.2,-3.5l1.7,-2l2,-0.3l2,0.4l1.5,0.7l0.9,1.2l0.1,1.5l-0.6,1.5l-3,2.1" fill="none" stroke="#000" stroke-width="1.1" stroke-linejoin="round"/>
<path d="M1672.2,2096.9h1.4v1.4h-1.4zM1637,2149.7h1.4v1.4h-1.4zM1629.8,2153.8h1.4v1.4h-1.4zM1607.3,2138.4h1.4v1.4h-1.4z" fill="#000"/>
<rect x="1576.8" y="2045.7" width="128.4" height="124.6" fill="none" stroke="#9a9a9a" stroke-width="1.6"/>
<rect x="1711" y="2045.7" width="66.8" height="123.7" fill="none" stroke="#9a9a9a" stroke-width="1.6"/>
<rect x="1547.3" y="1969.8" width="291.3" height="289.9" fill="none" stroke="#1a1a1a" stroke-width="1.8"/>
<path d="M1547.3,2148.9h-4 M1547.3,2134.1h-4 M1547.3,2123.5h-4 M1547.3,2115.4h-4 M1547.3,2108.7h-4 M1547.3,2103.1h-4 M1547.3,2098.2h-4 M1547.3,2093.9h-4 M1547.3,2090h-7.5 M1547.3,2064.6h-4 M1547.3,2049.8h-4 M1547.3,2039.2h-4 M1547.3,2031.1h-4 M1547.3,2024.4h-4 M1547.3,2018.8h-4 M1547.3,2013.9h-4 M1547.3,2009.6h-4 M1547.3,2005.7h-7.5 M1547.3,1980.3h-4 M1547.3,2166.7h-7.5 M1547.3,2172.7h-4 M1547.3,2175.7h-4 M1547.3,2177.7h-4 M1547.3,2179.7h-6 M1547.3,2181.7h-6 M1547.3,2183.7h-6 M1547.3,2185.7h-4 M1547.3,2187.7h-4 M1547.3,2190.7h-4 M1547.3,2196.7h-7.5 M1547.3,2209.7h-4 M1547.3,2225.7h-4 M1547.3,2237.7h-4 M1547.3,2246.7h-4" fill="none" stroke="#1a1a1a" stroke-width="1.4"/>
<rect x="1539.3" y="2178.7" width="8" height="6" fill="#1a1a1a"/>
<path d="M1691.3,2259.7v8 M1713.8,2259.7v4.5 M1726.9,2259.7v4.5 M1736.3,2259.7v4.5 M1743.5,2259.7v4.5 M1749.4,2259.7v4.5 M1754.4,2259.7v4.5 M1758.8,2259.7v4.5 M1762.6,2259.7v4.5 M1766,2259.7v8 M1788.5,2259.7v4.5 M1801.6,2259.7v4.5 M1811,2259.7v4.5 M1818.2,2259.7v4.5 M1824.1,2259.7v4.5 M1829.1,2259.7v4.5 M1833.5,2259.7v4.5 M1588,2259.7v8 M1596,2259.7v4.5 M1600,2259.7v4.5 M1603,2259.7v4.5 M1605,2259.7v4.5 M1607,2259.7v4.5 M1609,2259.7v7 M1611,2259.7v7 M1613,2259.7v4.5 M1615,2259.7v4.5 M1617,2259.7v4.5 M1620,2259.7v4.5 M1624,2259.7v4.5 M1632,2259.7v8 M1570,2259.7v4.5 M1552,2259.7v4.5" fill="none" stroke="#1a1a1a" stroke-width="1.4"/>
<rect x="1606" y="2259.7" width="8" height="7" fill="#1a1a1a"/>
</svg>
</body></html>
